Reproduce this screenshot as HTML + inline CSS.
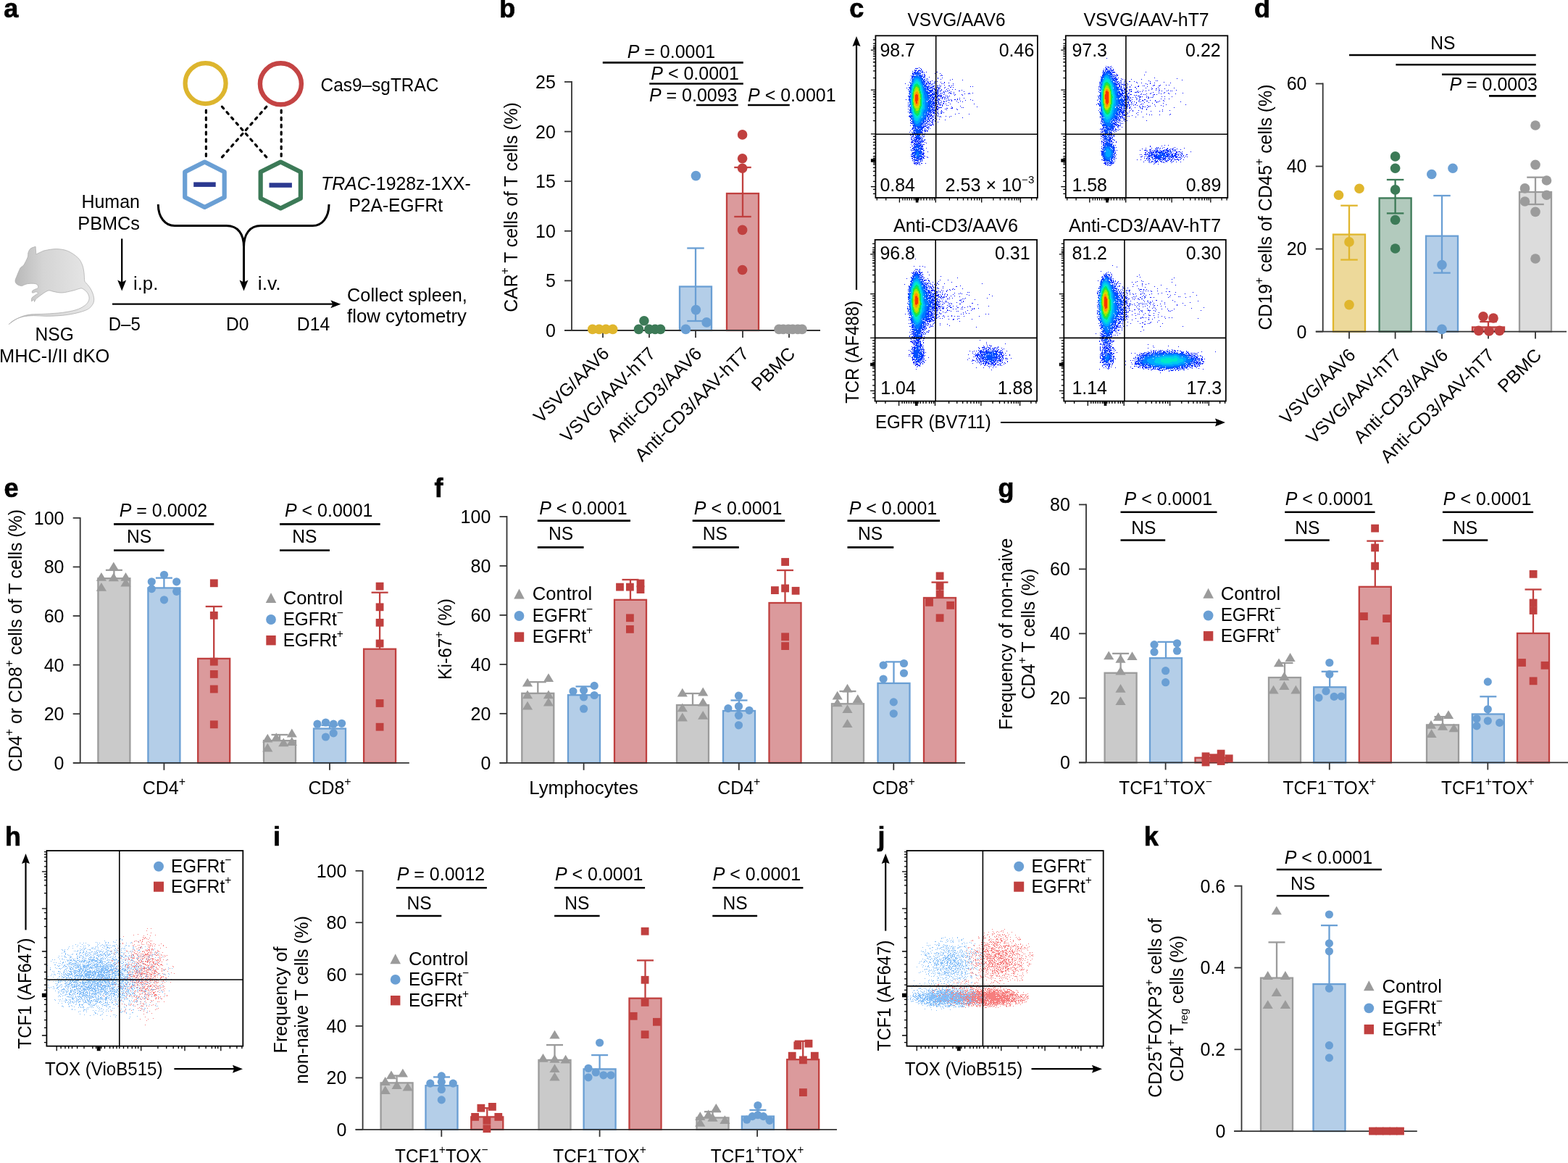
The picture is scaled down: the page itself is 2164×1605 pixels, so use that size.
<!DOCTYPE html>
<html><head><meta charset="utf-8"><title>Figure</title>
<style>html,body{margin:0;padding:0;background:#fff;}svg{display:block;}</style></head>
<body><svg width="2164" height="1605" viewBox="0 0 2164 1605" font-family='"Liberation Sans", Arial, Helvetica, sans-serif' font-size="25" fill="#000">
<rect width="2164" height="1605" fill="#fff"/>
<defs><linearGradient id="mg" x1="0" y1="0" x2="1" y2="0"><stop offset="0" stop-color="#b2b2b2"/><stop offset="0.4" stop-color="#d4d4d4"/><stop offset="1" stop-color="#e8e8e8"/></linearGradient></defs>
<path d="M49.1 340.3C49.1 340.3 49.8 351 49.8 351C49.8 351 53.92 348.9 56 348C58.08 347.1 58.65 346.33 62.3 345.6C65.95 344.87 72.7 343.47 77.9 343.6C83.1 343.73 88.57 344.38 93.5 346.4C98.43 348.42 104.13 352.47 107.5 355.7C110.87 358.93 112.28 362.3 113.7 365.8C115.12 369.3 115.48 373.07 116 376.7C116.52 380.33 116.27 385.23 116.8 387.6C117.33 389.97 117.9 389.2 119.2 390.9C120.5 392.6 123.05 395.23 124.6 397.8C126.15 400.37 127.65 403.58 128.5 406.3C129.35 409.02 129.83 411.77 129.7 414.1C129.57 416.43 129.07 418.22 127.7 420.3C126.33 422.38 124.62 424.78 121.5 426.6C118.38 428.42 113.67 429.9 109 431.2C104.33 432.5 98.68 433.62 93.5 434.4C88.32 435.18 83.1 435.58 77.9 435.9C72.7 436.22 67.5 436.35 62.3 436.3C57.1 436.25 51.88 435.45 46.7 435.6C41.52 435.75 35.73 436.17 31.2 437.2C26.67 438.23 22.68 440.07 19.5 441.8C16.32 443.53 12.1 447.6 12.1 447.6C12.1 447.6 18.93 442.1 23.4 439.9C27.87 437.7 32.42 435.52 38.9 434.4C45.38 433.28 54.5 433.7 62.3 433.2C70.1 432.7 78.57 432.33 85.7 431.4C92.83 430.47 99.95 429.18 105.1 427.6C110.25 426.02 113.77 423.88 116.6 421.9C119.43 419.92 121.05 417.78 122.1 415.7C123.15 413.62 123.27 411.48 122.9 409.4C122.53 407.32 121.3 404.98 119.9 403.2C118.5 401.42 116.05 399.55 114.5 398.7C112.95 397.85 112.82 397.73 110.6 398.1C108.38 398.47 105.35 399.92 101.2 400.9C97.05 401.88 90.23 403.75 85.7 404C81.17 404.25 76.98 402.92 74 402.4C71.02 401.88 69.75 400.77 67.8 400.9C65.85 401.03 64.52 401.9 62.3 403.2C60.08 404.5 56.58 407.13 54.5 408.7C52.42 410.27 50.97 411.28 49.8 412.6C48.63 413.92 47.5 416.6 47.5 416.6C47.5 416.6 47.45 413.92 46.8 413.8C46.15 413.68 43.6 415.9 43.6 415.9C43.6 415.9 43.28 412.7 43.8 411.5C44.32 410.3 45.43 409.7 46.7 408.7C47.97 407.7 50.42 406.25 51.4 405.5C52.38 404.75 52.87 404.68 52.6 404.2C52.33 403.72 49.8 402.6 49.8 402.6C49.8 402.6 45.63 404.42 44.8 404.2C43.97 403.98 44.22 402.12 44.8 401.3C45.38 400.48 47.07 399.92 48.3 399.3C49.53 398.68 51.55 398.5 52.2 397.6C52.85 396.7 52.85 394.92 52.2 393.9C51.55 392.88 50.52 391.9 48.3 391.5C46.08 391.1 41.37 391.23 38.9 391.5C36.43 391.77 35.05 392.58 33.5 393.1C31.95 393.62 31.28 394.73 29.6 394.6C27.92 394.47 24.83 393.47 23.4 392.3C21.97 391.13 21 389.55 21 387.6C21 385.65 22.35 383.32 23.4 380.6C24.45 377.88 26.4 373.25 27.3 371.3C28.2 369.35 27.9 369.82 28.8 368.9C29.7 367.98 31.13 368.13 32.7 365.8C34.27 363.47 37.17 357.7 38.2 354.9C39.23 352.1 38.27 350.95 38.9 349C39.53 347.05 40.3 344.65 42 343.2C43.7 341.75 49.1 340.3 49.1 340.3Z" fill="url(#mg)" stroke="#a6a6a6" stroke-width="0.7"/>
<circle cx="283.6" cy="115.1" r="28" fill="none" stroke="#DDB52E" stroke-width="6.2"/>
<circle cx="387.4" cy="115.8" r="28.5" fill="none" stroke="#C44444" stroke-width="6.4"/>
<line x1="284.4" y1="152.2" x2="284.4" y2="215.5" stroke="#000" stroke-width="3.2" stroke-dasharray="3.4 6.58" stroke-linecap="round"/>
<line x1="388.2" y1="152.2" x2="388.2" y2="215.5" stroke="#000" stroke-width="3.2" stroke-dasharray="3.4 6.58" stroke-linecap="round"/>
<line x1="306.4" y1="147.2" x2="367.8" y2="216.9" stroke="#000" stroke-width="3.2" stroke-dasharray="3.4 6.54" stroke-linecap="round"/>
<line x1="367.8" y1="147.2" x2="306.4" y2="216.9" stroke="#000" stroke-width="3.2" stroke-dasharray="3.4 6.54" stroke-linecap="round"/>
<path d="M282.45 223.5L309.7 237.2L309.7 272.2L282.45 285.9L255.2 272.2L255.2 237.2Z" fill="none" stroke="#6A9FD4" stroke-width="6.2" stroke-linejoin="round"/>
<path d="M387.25 223.5L414.85 237.2L414.85 273.8L387.25 287.5L359.65 273.8L359.65 237.2Z" fill="none" stroke="#3C7A57" stroke-width="6.2" stroke-linejoin="round"/>
<rect x="267.2" y="251.4" width="30.5" height="6.5" fill="#2B3990"/>
<rect x="371.5" y="252.3" width="31.4" height="6.5" fill="#2B3990"/>
<path d="M218.3 282C218.3 300 228 311.6 241 311.6L312.5 311.6C328.5 311.6 336.5 323 336.5 341M454 282C454 300 444.5 311.6 431.5 311.6L360 311.6C344.5 311.6 336.5 323 336.5 341L336.5 390" fill="none" stroke="#000" stroke-width="3"/>
<path d="M336.5 401.5L330.5 386.5L336.5 389.5L342.5 386.5Z" fill="#000"/>
<line x1="168.2" y1="329.4" x2="168.2" y2="390" stroke="#000" stroke-width="2.3"/>
<path d="M168.2 401.4L162.2 386.4L168.2 389.4L174.2 386.4Z" fill="#000"/>
<line x1="155" y1="419.7" x2="460" y2="419.7" stroke="#000" stroke-width="2.3"/>
<path d="M470.3 419.7L456.3 414.2L459.3 419.7L456.3 425.2Z" fill="#000"/>
<text x="442.5" y="126" textLength="162.9" lengthAdjust="spacingAndGlyphs">Cas9–sgTRAC</text>
<text x="443" y="262" textLength="206.9" lengthAdjust="spacingAndGlyphs"><tspan font-style="italic">TRAC</tspan>-1928z-1XX-</text>
<text x="481.5" y="291.8" textLength="129.6" lengthAdjust="spacingAndGlyphs">P2A-EGFRt</text>
<text x="193" y="287" textLength="80.6" lengthAdjust="spacingAndGlyphs" text-anchor="end">Human</text>
<text x="193" y="316.8" textLength="85.7" lengthAdjust="spacingAndGlyphs" text-anchor="end">PBMCs</text>
<text x="184" y="400" textLength="34.3" lengthAdjust="spacingAndGlyphs">i.p.</text>
<text x="355.8" y="399.8" textLength="31.9" lengthAdjust="spacingAndGlyphs">i.v.</text>
<text x="479.1" y="415.6" textLength="165.8" lengthAdjust="spacingAndGlyphs">Collect spleen,</text>
<text x="479.1" y="445.4" textLength="164.8" lengthAdjust="spacingAndGlyphs">flow cytometry</text>
<text x="149.8" y="455.7" textLength="44" lengthAdjust="spacingAndGlyphs">D–5</text>
<text x="312" y="455.6" textLength="31.5" lengthAdjust="spacingAndGlyphs">D0</text>
<text x="409.8" y="455.6" textLength="45.4" lengthAdjust="spacingAndGlyphs">D14</text>
<text x="75.2" y="470.1" textLength="53.2" lengthAdjust="spacingAndGlyphs" text-anchor="middle">NSG</text>
<text x="75.2" y="500.2" textLength="152.3" lengthAdjust="spacingAndGlyphs" text-anchor="middle">MHC-I/II dKO</text>
<line x1="789" y1="112.1" x2="789" y2="456" stroke="#333333" stroke-width="1.8"/>
<line x1="779" y1="456" x2="789" y2="456" stroke="#333333" stroke-width="1.8"/>
<text x="766.8" y="464.9" textLength="13.9" lengthAdjust="spacingAndGlyphs" text-anchor="end">0</text>
<line x1="779" y1="387.4" x2="789" y2="387.4" stroke="#333333" stroke-width="1.8"/>
<text x="766.8" y="396.3" textLength="13.9" lengthAdjust="spacingAndGlyphs" text-anchor="end">5</text>
<line x1="779" y1="318.8" x2="789" y2="318.8" stroke="#333333" stroke-width="1.8"/>
<text x="766.8" y="327.7" textLength="27.8" lengthAdjust="spacingAndGlyphs" text-anchor="end">10</text>
<line x1="779" y1="250.2" x2="789" y2="250.2" stroke="#333333" stroke-width="1.8"/>
<text x="766.8" y="259.1" textLength="27.8" lengthAdjust="spacingAndGlyphs" text-anchor="end">15</text>
<line x1="779" y1="181.6" x2="789" y2="181.6" stroke="#333333" stroke-width="1.8"/>
<text x="766.8" y="190.5" textLength="27.8" lengthAdjust="spacingAndGlyphs" text-anchor="end">20</text>
<line x1="779" y1="113" x2="789" y2="113" stroke="#333333" stroke-width="1.8"/>
<text x="766.8" y="121.9" textLength="27.8" lengthAdjust="spacingAndGlyphs" text-anchor="end">25</text>
<rect x="938" y="395.5" width="44" height="60.5" fill="#B4CEE8" stroke="#6A9FD4" stroke-width="2.3"/>
<rect x="1003" y="267" width="44" height="189" fill="#DB9A9C" stroke="#C0403F" stroke-width="2.3"/>
<line x1="960" y1="443" x2="960" y2="342.5" stroke="#6A9FD4" stroke-width="2.3"/>
<line x1="948.25" y1="342.5" x2="971.75" y2="342.5" stroke="#6A9FD4" stroke-width="2.3"/>
<line x1="948.25" y1="443" x2="971.75" y2="443" stroke="#6A9FD4" stroke-width="2.3"/>
<line x1="1025" y1="299" x2="1025" y2="231" stroke="#C0403F" stroke-width="2.3"/>
<line x1="1013.25" y1="231" x2="1036.75" y2="231" stroke="#C0403F" stroke-width="2.3"/>
<line x1="1013.25" y1="299" x2="1036.75" y2="299" stroke="#C0403F" stroke-width="2.3"/>
<line x1="779" y1="456" x2="1132" y2="456" stroke="#333333" stroke-width="1.8"/>
<line x1="832" y1="456" x2="832" y2="466" stroke="#333333" stroke-width="1.8"/>
<line x1="896" y1="456" x2="896" y2="466" stroke="#333333" stroke-width="1.8"/>
<line x1="960" y1="456" x2="960" y2="466" stroke="#333333" stroke-width="1.8"/>
<line x1="1025" y1="456" x2="1025" y2="466" stroke="#333333" stroke-width="1.8"/>
<line x1="1089" y1="456" x2="1089" y2="466" stroke="#333333" stroke-width="1.8"/>
<circle cx="817.7" cy="454.4" r="6.8" fill="#E0B62D"/>
<circle cx="826.8" cy="454.4" r="6.8" fill="#E0B62D"/>
<circle cx="836.2" cy="454.4" r="6.8" fill="#E0B62D"/>
<circle cx="845.7" cy="454.4" r="6.8" fill="#E0B62D"/>
<circle cx="888.9" cy="442.8" r="6.8" fill="#3C7A57"/>
<circle cx="881.5" cy="454.4" r="6.8" fill="#3C7A57"/>
<circle cx="895.9" cy="454.4" r="6.8" fill="#3C7A57"/>
<circle cx="904.1" cy="454.4" r="6.8" fill="#3C7A57"/>
<circle cx="911.5" cy="454.4" r="6.8" fill="#3C7A57"/>
<circle cx="960.4" cy="242.6" r="6.8" fill="#6A9FD4"/>
<circle cx="960.4" cy="427.6" r="6.8" fill="#6A9FD4"/>
<circle cx="975.2" cy="444.9" r="6.8" fill="#6A9FD4"/>
<circle cx="946.4" cy="454.4" r="6.8" fill="#6A9FD4"/>
<circle cx="1024.6" cy="185.9" r="6.8" fill="#C0403F"/>
<circle cx="1024.6" cy="218.8" r="6.8" fill="#C0403F"/>
<circle cx="1024.6" cy="232.3" r="6.8" fill="#C0403F"/>
<circle cx="1024.6" cy="317.4" r="6.8" fill="#C0403F"/>
<circle cx="1024.6" cy="372.5" r="6.8" fill="#C0403F"/>
<circle cx="1075" cy="454.4" r="6.8" fill="#9B9B9B"/>
<circle cx="1081" cy="454.4" r="6.8" fill="#9B9B9B"/>
<circle cx="1088" cy="454.4" r="6.8" fill="#9B9B9B"/>
<circle cx="1094" cy="454.4" r="6.8" fill="#9B9B9B"/>
<circle cx="1101" cy="454.4" r="6.8" fill="#9B9B9B"/>
<circle cx="1107" cy="454.4" r="6.8" fill="#9B9B9B"/>
<line x1="831.8" y1="86.4" x2="1025.8" y2="86.4" stroke="#000" stroke-width="2.6"/>
<text x="926.5" y="80.1" textLength="121.5" lengthAdjust="spacingAndGlyphs" text-anchor="middle"><tspan font-style="italic">P</tspan> = 0.0001</text>
<line x1="896.2" y1="115.5" x2="1025.8" y2="115.5" stroke="#000" stroke-width="2.6"/>
<text x="959.1" y="110.3" textLength="121.5" lengthAdjust="spacingAndGlyphs" text-anchor="middle"><tspan font-style="italic">P</tspan> &lt; 0.0001</text>
<line x1="960.9" y1="145" x2="1018.7" y2="145" stroke="#000" stroke-width="2.6"/>
<text x="956.7" y="139.5" textLength="121.5" lengthAdjust="spacingAndGlyphs" text-anchor="middle"><tspan font-style="italic">P</tspan> = 0.0093</text>
<line x1="1032.1" y1="145" x2="1089.8" y2="145" stroke="#000" stroke-width="2.6"/>
<text x="1032.1" y="139.5" textLength="121.5" lengthAdjust="spacingAndGlyphs"><tspan font-style="italic">P</tspan> &lt; 0.0001</text>
<text x="842" y="489.5" textLength="135.2" lengthAdjust="spacingAndGlyphs" text-anchor="end" transform="rotate(-45 842 489.5)">VSVG/AAV6</text>
<text x="906" y="489.5" textLength="173.2" lengthAdjust="spacingAndGlyphs" text-anchor="end" transform="rotate(-45 906 489.5)">VSVG/AAV-hT7</text>
<text x="970" y="489.5" textLength="172.2" lengthAdjust="spacingAndGlyphs" text-anchor="end" transform="rotate(-45 970 489.5)">Anti-CD3/AAV6</text>
<text x="1035" y="489.5" textLength="210.2" lengthAdjust="spacingAndGlyphs" text-anchor="end" transform="rotate(-45 1035 489.5)">Anti-CD3/AAV-hT7</text>
<text x="1099" y="489.5" textLength="73.2" lengthAdjust="spacingAndGlyphs" text-anchor="end" transform="rotate(-45 1099 489.5)">PBMC</text>
<text x="714.1" y="286" textLength="289.5" lengthAdjust="spacingAndGlyphs" text-anchor="middle" transform="rotate(-90 714.1 286)">CAR<tspan font-size="16" dy="-12">+</tspan><tspan dy="12"> T cells of T cells (%)</tspan></text>
<path d="M1268 93.5h1M1278 99.5h1M1292 99.5h2M1290 101.5h1M1297 101.5h1M1299 103.5h1M1298 104.5h1M1300 104.5h1M1282 106.5h1M1294 107.5h1M1300 107.5h1M1294 108.5h1M1298 109.5h1M1314 109.5h1M1311 110.5h1M1328 110.5h1M1286 111.5h1M1290 112.5h1M1293 112.5h1M1298 113.5h1M1303 113.5h1M1303 114.5h1M1309 114.5h1M1249 115.5h1M1299 115.5h1M1301 115.5h1M1315 115.5h1M1303 117.5h1M1315 117.5h1M1298 118.5h1M1309 118.5h1M1313 118.5h1M1339 119.5h1M1342 119.5h1M1304 120.5h1M1311 120.5h2M1315 120.5h1M1251 121.5h1M1303 121.5h1M1308 122.5h1M1306 123.5h1M1314 123.5h1M1318 123.5h1M1310 124.5h1M1327 124.5h1M1323 125.5h2M1312 126.5h1M1330 126.5h1M1316 127.5h1M1309 128.5h1M1337 128.5h1M1342 128.5h1M1312 129.5h1M1316 129.5h1M1331 129.5h1M1336 129.5h1M1338 129.5h1M1318 130.5h1M1327 130.5h1M1305 131.5h1M1317 131.5h1M1328 131.5h1M1310 132.5h1M1324 135.5h1M1330 135.5h1M1321 136.5h1M1250 137.5h1M1312 137.5h1M1317 137.5h2M1321 137.5h1M1324 137.5h1M1339 137.5h1M1313 138.5h1M1332 138.5h1M1342 138.5h1M1313 139.5h1M1320 139.5h1M1325 139.5h1M1328 140.5h1M1309 141.5h1M1322 141.5h1M1305 143.5h1M1311 143.5h1M1344 143.5h1M1306 145.5h1M1308 145.5h1M1325 146.5h1M1313 147.5h1M1348 147.5h1M1327 148.5h1M1329 148.5h1M1306 149.5h2M1312 149.5h1M1314 149.5h1M1304 150.5h1M1320 150.5h1M1306 151.5h1M1321 151.5h1M1299 152.5h1M1302 155.5h1M1323 156.5h1M1318 157.5h1M1337 157.5h1M1305 160.5h1M1312 160.5h1M1298 161.5h1M1310 161.5h1M1328 162.5h1M1296 164.5h1M1304 165.5h1M1294 168.5h1M1288 172.5h1M1256 173.5h1M1256 180.5h1M1255 182.5h1M1278 197.5h1M1256 203.5h1M1278 204.5h1M1280 209.5h1M1279 216.5h1M1280 217.5h1M1277 225.5h1" fill="none" stroke="#000aff" stroke-width="1"/>
<path d="M1263 94.5h4M1270 94.5h1M1271 95.5h1M1262 96.5h1M1264 96.5h1M1268 96.5h1M1271 96.5h1M1262 97.5h3M1267 97.5h4M1272 97.5h1M1259 98.5h1M1270 98.5h1M1273 98.5h1M1271 99.5h3M1259 100.5h1M1273 100.5h1M1275 100.5h1M1259 101.5h1M1259 102.5h1M1272 102.5h1M1275 102.5h1M1273 103.5h1M1275 103.5h2M1257 104.5h1M1276 104.5h1M1275 105.5h2M1275 106.5h1M1276 107.5h1M1279 108.5h1M1278 109.5h1M1280 109.5h1M1256 110.5h1M1277 111.5h2M1280 111.5h1M1280 112.5h1M1283 112.5h2M1255 113.5h1M1280 113.5h2M1289 113.5h1M1279 114.5h1M1281 114.5h1M1283 114.5h2M1290 114.5h1M1281 115.5h3M1287 115.5h1M1289 115.5h1M1283 116.5h1M1285 116.5h2M1253 117.5h1M1281 117.5h1M1291 117.5h1M1296 117.5h1M1282 118.5h1M1284 118.5h1M1286 118.5h1M1288 118.5h2M1293 118.5h2M1310 118.5h1M1287 119.5h2M1297 119.5h1M1284 120.5h4M1293 120.5h2M1296 120.5h1M1289 121.5h1M1291 121.5h2M1294 121.5h2M1297 121.5h1M1288 122.5h2M1295 122.5h2M1253 123.5h1M1289 123.5h4M1294 123.5h1M1299 123.5h1M1290 124.5h2M1293 124.5h3M1297 124.5h1M1299 124.5h1M1290 125.5h1M1293 125.5h1M1298 125.5h1M1304 125.5h1M1307 125.5h2M1294 126.5h2M1297 126.5h1M1302 126.5h1M1305 126.5h1M1302 127.5h2M1310 127.5h1M1295 128.5h1M1298 128.5h1M1300 128.5h1M1311 128.5h2M1298 129.5h1M1303 129.5h1M1296 130.5h1M1302 130.5h1M1297 131.5h3M1253 132.5h1M1297 132.5h1M1299 132.5h1M1307 132.5h1M1297 133.5h3M1302 133.5h1M1305 133.5h1M1308 133.5h1M1300 134.5h2M1303 134.5h2M1307 134.5h1M1295 135.5h1M1298 135.5h1M1300 135.5h1M1308 135.5h1M1296 136.5h1M1300 136.5h1M1303 136.5h2M1306 136.5h1M1295 137.5h2M1309 137.5h1M1296 138.5h1M1298 138.5h1M1308 138.5h1M1310 138.5h1M1302 139.5h1M1305 139.5h2M1295 140.5h1M1299 140.5h1M1302 140.5h2M1253 141.5h1M1295 141.5h1M1298 141.5h1M1295 142.5h2M1298 142.5h1M1301 142.5h2M1253 143.5h1M1292 143.5h1M1295 143.5h1M1302 143.5h1M1293 144.5h2M1296 144.5h3M1300 144.5h1M1253 145.5h1M1297 145.5h1M1300 145.5h1M1291 146.5h1M1293 146.5h2M1300 146.5h1M1253 147.5h1M1293 147.5h2M1295 148.5h5M1314 148.5h1M1295 149.5h1M1313 149.5h1M1253 150.5h1M1294 150.5h1M1293 151.5h2M1292 153.5h1M1294 153.5h1M1299 153.5h1M1253 154.5h1M1291 154.5h1M1298 154.5h1M1300 154.5h1M1293 155.5h2M1299 155.5h1M1289 156.5h2M1294 156.5h1M1298 156.5h2M1292 157.5h1M1295 157.5h1M1285 158.5h1M1289 158.5h1M1291 158.5h1M1285 159.5h2M1288 159.5h1M1291 159.5h2M1294 159.5h1M1254 160.5h1M1284 160.5h1M1286 160.5h1M1290 160.5h1M1294 160.5h1M1297 160.5h1M1283 161.5h1M1286 161.5h3M1291 161.5h1M1296 161.5h1M1285 162.5h1M1290 162.5h2M1283 163.5h4M1290 163.5h2M1283 164.5h1M1288 164.5h1M1292 164.5h1M1256 165.5h1M1282 165.5h1M1286 165.5h3M1256 166.5h1M1282 166.5h2M1286 166.5h1M1290 166.5h1M1280 167.5h2M1284 167.5h1M1287 167.5h1M1290 167.5h1M1280 168.5h1M1282 168.5h1M1285 168.5h3M1256 169.5h2M1286 169.5h1M1257 170.5h1M1280 170.5h1M1283 170.5h1M1287 170.5h1M1281 171.5h2M1286 171.5h2M1279 172.5h2M1283 172.5h3M1283 173.5h1M1285 173.5h1M1281 174.5h1M1278 175.5h3M1282 175.5h1M1259 176.5h1M1280 176.5h2M1259 177.5h1M1276 177.5h1M1280 177.5h1M1283 177.5h1M1258 178.5h2M1276 178.5h1M1281 178.5h1M1276 179.5h1M1278 179.5h1M1275 180.5h3M1279 180.5h2M1276 181.5h2M1279 181.5h1M1258 182.5h1M1273 183.5h1M1276 183.5h1M1256 185.5h1M1276 185.5h1M1256 186.5h2M1259 186.5h1M1273 186.5h1M1275 186.5h1M1272 187.5h1M1258 188.5h3M1274 188.5h2M1258 189.5h1M1273 189.5h1M1257 190.5h1M1260 190.5h1M1258 191.5h1M1273 191.5h1M1257 192.5h2M1276 192.5h1M1259 193.5h1M1273 193.5h1M1275 193.5h2M1258 194.5h1M1274 194.5h1M1258 195.5h2M1273 195.5h2M1257 196.5h4M1273 196.5h1M1276 196.5h1M1258 197.5h1M1257 199.5h1M1260 199.5h1M1273 199.5h3M1258 201.5h2M1259 204.5h1M1259 205.5h1M1274 205.5h1M1257 206.5h1M1257 207.5h1M1259 207.5h1M1274 207.5h2M1258 208.5h1M1274 208.5h1M1274 210.5h1M1258 211.5h1M1274 211.5h2M1274 212.5h1M1257 213.5h1M1274 213.5h1M1274 214.5h1M1257 215.5h1M1275 215.5h2M1258 216.5h1M1274 216.5h1M1274 217.5h1M1258 218.5h2M1274 218.5h2M1259 219.5h1M1260 220.5h1M1259 221.5h1M1272 221.5h1M1260 222.5h1M1262 222.5h1M1270 222.5h1M1272 222.5h1M1262 223.5h1M1268 223.5h1M1270 223.5h1M1261 224.5h1M1263 224.5h4M1268 224.5h1M1261 225.5h3M1265 225.5h2M1268 225.5h1M1271 225.5h2M1262 226.5h1M1264 226.5h1M1266 226.5h1M1268 226.5h1M1264 227.5h1M1269 227.5h1" fill="none" stroke="#001dff" stroke-width="1"/>
<path d="M1263 98.5h1M1266 98.5h2M1261 99.5h3M1265 99.5h2M1268 99.5h1M1261 100.5h3M1268 100.5h1M1270 100.5h1M1260 101.5h1M1262 101.5h1M1269 101.5h2M1260 102.5h2M1260 103.5h1M1270 103.5h1M1259 104.5h2M1271 104.5h2M1258 105.5h2M1271 105.5h3M1258 106.5h2M1274 106.5h1M1258 107.5h1M1274 107.5h1M1257 108.5h1M1273 108.5h1M1275 109.5h2M1274 110.5h2M1275 111.5h1M1275 112.5h2M1275 113.5h2M1256 114.5h1M1276 114.5h1M1278 114.5h1M1256 115.5h1M1276 115.5h1M1278 115.5h2M1277 116.5h3M1256 117.5h1M1277 117.5h1M1277 118.5h2M1278 119.5h5M1254 120.5h2M1279 120.5h3M1255 121.5h1M1279 121.5h2M1282 121.5h4M1255 122.5h1M1279 122.5h3M1283 122.5h1M1286 122.5h2M1279 123.5h3M1286 123.5h1M1254 124.5h1M1279 124.5h1M1281 124.5h7M1280 125.5h1M1282 125.5h6M1254 126.5h1M1283 126.5h3M1287 126.5h1M1289 126.5h1M1291 126.5h1M1293 126.5h1M1281 127.5h5M1288 127.5h1M1290 127.5h1M1292 127.5h2M1282 128.5h1M1286 128.5h2M1289 128.5h6M1254 129.5h1M1282 129.5h2M1286 129.5h4M1292 129.5h2M1284 130.5h8M1293 130.5h2M1283 131.5h4M1288 131.5h1M1290 131.5h2M1294 131.5h2M1254 132.5h1M1283 132.5h3M1287 132.5h1M1290 132.5h7M1254 133.5h1M1284 133.5h1M1286 133.5h2M1289 133.5h3M1293 133.5h2M1254 134.5h1M1285 134.5h5M1291 134.5h3M1285 135.5h1M1287 135.5h3M1291 135.5h3M1254 136.5h1M1284 136.5h2M1287 136.5h3M1291 136.5h1M1294 136.5h1M1254 137.5h1M1284 137.5h1M1286 137.5h3M1290 137.5h3M1294 137.5h1M1254 138.5h1M1284 138.5h1M1286 138.5h2M1290 138.5h1M1292 138.5h3M1285 139.5h1M1287 139.5h1M1289 139.5h4M1294 139.5h1M1285 140.5h4M1291 140.5h1M1294 140.5h1M1287 141.5h7M1287 142.5h4M1292 142.5h1M1286 143.5h4M1291 143.5h1M1286 144.5h1M1288 144.5h1M1290 144.5h1M1285 145.5h1M1287 145.5h4M1254 146.5h1M1285 146.5h3M1289 146.5h1M1285 147.5h2M1289 147.5h1M1291 147.5h2M1255 148.5h1M1285 148.5h5M1292 148.5h1M1286 149.5h1M1288 149.5h2M1292 149.5h2M1286 150.5h2M1291 150.5h3M1255 151.5h1M1285 151.5h7M1255 152.5h1M1284 152.5h2M1287 152.5h4M1284 153.5h1M1286 153.5h2M1290 153.5h1M1255 154.5h1M1283 154.5h3M1287 154.5h3M1255 155.5h1M1282 155.5h1M1284 155.5h2M1287 155.5h3M1255 156.5h1M1283 156.5h2M1287 156.5h2M1281 157.5h2M1285 157.5h1M1256 158.5h1M1281 158.5h4M1255 159.5h1M1280 159.5h1M1282 159.5h1M1284 159.5h1M1255 160.5h2M1280 160.5h1M1283 160.5h1M1255 161.5h2M1279 161.5h4M1256 162.5h1M1281 162.5h1M1257 163.5h1M1278 163.5h1M1280 163.5h2M1257 164.5h1M1277 164.5h1M1280 164.5h2M1277 165.5h2M1280 165.5h1M1277 166.5h1M1279 166.5h1M1257 167.5h2M1276 167.5h2M1279 167.5h1M1277 168.5h1M1259 169.5h1M1275 169.5h1M1278 169.5h2M1258 170.5h2M1275 170.5h1M1277 170.5h2M1274 171.5h1M1276 171.5h2M1259 172.5h2M1275 172.5h1M1260 173.5h1M1273 173.5h2M1276 173.5h3M1260 174.5h1M1274 174.5h4M1260 175.5h1M1272 175.5h4M1260 176.5h2M1272 176.5h3M1260 177.5h1M1272 177.5h2M1261 178.5h1M1272 178.5h1M1261 179.5h1M1272 179.5h2M1260 180.5h2M1273 180.5h1M1261 181.5h1M1271 181.5h2M1260 182.5h2M1271 182.5h2M1259 183.5h1M1261 183.5h2M1270 183.5h3M1259 184.5h4M1269 184.5h1M1261 185.5h2M1270 185.5h2M1260 186.5h1M1263 186.5h1M1269 186.5h1M1260 187.5h1M1263 187.5h1M1269 187.5h1M1264 188.5h1M1270 188.5h1M1262 189.5h3M1269 189.5h1M1271 189.5h1M1262 190.5h4M1269 190.5h3M1261 191.5h1M1264 191.5h7M1272 191.5h1M1261 192.5h5M1267 192.5h3M1271 192.5h1M1260 193.5h1M1262 193.5h4M1267 193.5h1M1269 193.5h1M1271 193.5h2M1260 194.5h4M1265 194.5h4M1270 194.5h1M1272 194.5h1M1262 195.5h5M1268 195.5h5M1263 196.5h2M1266 196.5h3M1270 196.5h2M1261 197.5h2M1265 197.5h1M1267 197.5h4M1261 198.5h9M1271 198.5h1M1262 199.5h2M1269 199.5h3M1261 200.5h2M1269 200.5h2M1272 200.5h1M1262 201.5h1M1269 201.5h5M1261 202.5h1M1271 202.5h3M1260 203.5h3M1271 203.5h1M1273 203.5h1M1260 204.5h1M1262 204.5h1M1271 204.5h2M1260 205.5h3M1271 205.5h3M1261 206.5h1M1271 206.5h3M1260 207.5h2M1261 209.5h1M1272 209.5h1M1259 210.5h2M1272 210.5h1M1259 211.5h2M1273 211.5h1M1259 212.5h2M1272 212.5h2M1258 213.5h2M1272 213.5h2M1260 214.5h1M1258 215.5h3M1272 215.5h1M1259 216.5h1M1261 216.5h1M1271 216.5h3M1260 217.5h3M1271 217.5h1M1273 217.5h1M1262 218.5h1M1264 218.5h1M1270 218.5h3M1262 219.5h1M1265 219.5h3M1269 219.5h4M1261 220.5h5M1267 220.5h4M1272 220.5h1M1262 221.5h6M1270 221.5h1M1265 222.5h2M1267 223.5h1" fill="none" stroke="#0031ff" stroke-width="1"/>
<path d="M1264 100.5h4M1263 101.5h6M1262 102.5h6M1269 102.5h1M1264 103.5h1M1266 103.5h4M1262 104.5h1M1264 104.5h3M1268 104.5h3M1260 105.5h4M1269 105.5h2M1260 106.5h2M1270 106.5h2M1259 107.5h1M1270 107.5h3M1259 108.5h1M1271 108.5h2M1258 109.5h2M1272 109.5h2M1259 110.5h1M1272 110.5h2M1258 111.5h1M1272 111.5h1M1274 111.5h1M1258 112.5h1M1272 112.5h3M1272 113.5h3M1257 114.5h2M1273 114.5h2M1273 115.5h3M1257 116.5h1M1274 116.5h2M1257 117.5h1M1274 117.5h3M1256 118.5h2M1275 118.5h2M1256 119.5h1M1275 119.5h3M1256 120.5h1M1275 120.5h1M1277 120.5h1M1256 121.5h1M1276 121.5h3M1256 122.5h1M1276 122.5h2M1256 123.5h1M1276 123.5h3M1256 124.5h1M1276 124.5h2M1255 125.5h1M1277 125.5h2M1255 126.5h1M1277 126.5h4M1255 127.5h1M1278 127.5h3M1255 128.5h1M1278 128.5h4M1255 129.5h1M1279 129.5h3M1255 130.5h1M1280 130.5h1M1280 131.5h3M1255 132.5h1M1280 132.5h3M1255 133.5h1M1280 133.5h2M1283 133.5h1M1255 134.5h1M1280 134.5h4M1255 135.5h1M1281 135.5h3M1255 136.5h1M1281 136.5h1M1283 136.5h1M1255 137.5h1M1281 137.5h2M1255 138.5h1M1280 138.5h1M1282 138.5h2M1255 139.5h1M1280 139.5h5M1255 140.5h1M1280 140.5h5M1255 141.5h1M1280 141.5h6M1281 142.5h4M1286 142.5h1M1255 143.5h1M1281 143.5h5M1255 144.5h1M1281 144.5h3M1285 144.5h1M1255 145.5h1M1280 145.5h5M1255 146.5h1M1280 146.5h5M1256 147.5h1M1280 147.5h5M1256 148.5h1M1280 148.5h1M1282 148.5h2M1256 149.5h1M1280 149.5h5M1256 150.5h1M1281 150.5h3M1256 151.5h1M1281 151.5h4M1256 152.5h1M1280 152.5h4M1256 153.5h1M1280 153.5h4M1256 154.5h1M1279 154.5h1M1281 154.5h2M1256 155.5h2M1278 155.5h2M1281 155.5h1M1257 156.5h1M1278 156.5h4M1278 157.5h1M1280 157.5h1M1257 158.5h1M1278 158.5h3M1257 159.5h1M1277 159.5h3M1257 160.5h1M1277 160.5h1M1279 160.5h1M1257 161.5h2M1277 161.5h2M1257 162.5h1M1276 162.5h2M1258 163.5h1M1275 163.5h3M1258 164.5h1M1275 164.5h2M1259 165.5h1M1274 165.5h2M1259 166.5h1M1274 166.5h2M1259 167.5h2M1273 167.5h3M1259 168.5h2M1273 168.5h3M1260 169.5h1M1271 169.5h4M1260 170.5h2M1271 170.5h3M1261 171.5h1M1270 171.5h4M1261 172.5h2M1270 172.5h3M1261 173.5h3M1269 173.5h3M1261 174.5h12M1262 175.5h2M1265 175.5h7M1262 176.5h3M1266 176.5h6M1262 177.5h3M1266 177.5h3M1270 177.5h2M1263 178.5h4M1268 178.5h4M1262 179.5h10M1262 180.5h9M1263 181.5h8M1262 182.5h1M1264 182.5h7M1263 183.5h7M1263 184.5h5M1264 185.5h5M1265 186.5h4M1264 187.5h5M1265 188.5h4M1265 189.5h4M1266 190.5h3M1264 199.5h4M1264 200.5h5M1263 201.5h6M1262 202.5h8M1263 203.5h6M1270 203.5h1M1263 204.5h1M1265 204.5h1M1267 204.5h4M1264 205.5h2M1267 205.5h4M1262 206.5h7M1270 206.5h1M1262 207.5h6M1269 207.5h2M1263 208.5h9M1262 209.5h3M1267 209.5h5M1261 210.5h4M1268 210.5h4M1261 211.5h4M1268 211.5h4M1262 212.5h2M1268 212.5h4M1261 213.5h3M1268 213.5h1M1270 213.5h1M1261 214.5h3M1268 214.5h4M1261 215.5h2M1264 215.5h2M1268 215.5h4M1262 216.5h2M1265 216.5h6M1263 217.5h6M1265 218.5h5" fill="none" stroke="#004eff" stroke-width="1"/>
<path d="M1264 105.5h5M1262 106.5h8M1261 107.5h9M1260 108.5h2M1268 108.5h3M1260 109.5h2M1269 109.5h3M1260 110.5h1M1270 110.5h2M1259 111.5h2M1270 111.5h2M1259 112.5h2M1271 112.5h1M1259 113.5h1M1271 113.5h1M1259 114.5h1M1271 114.5h2M1258 115.5h1M1272 115.5h1M1258 116.5h1M1272 116.5h2M1258 117.5h1M1273 117.5h1M1258 118.5h1M1273 118.5h1M1257 119.5h1M1273 119.5h2M1257 120.5h1M1274 120.5h1M1257 121.5h1M1274 121.5h2M1257 122.5h1M1274 122.5h2M1257 123.5h1M1274 123.5h2M1257 124.5h1M1274 124.5h2M1256 125.5h1M1275 125.5h2M1256 126.5h1M1275 126.5h2M1256 127.5h1M1275 127.5h3M1256 128.5h1M1275 128.5h3M1275 129.5h4M1256 130.5h1M1275 130.5h5M1256 131.5h1M1276 131.5h4M1256 132.5h1M1276 132.5h4M1256 133.5h1M1276 133.5h4M1256 134.5h1M1276 134.5h4M1276 135.5h5M1256 136.5h1M1277 136.5h4M1256 137.5h1M1277 137.5h4M1256 138.5h1M1277 138.5h3M1256 139.5h1M1277 139.5h2M1256 140.5h1M1277 140.5h2M1256 141.5h1M1277 141.5h3M1256 142.5h1M1277 142.5h4M1256 143.5h1M1277 143.5h4M1256 144.5h1M1277 144.5h4M1277 145.5h3M1277 146.5h3M1277 147.5h3M1277 148.5h3M1257 149.5h1M1277 149.5h3M1257 150.5h1M1277 150.5h4M1257 151.5h1M1276 151.5h5M1257 152.5h1M1275 152.5h5M1257 153.5h1M1275 153.5h5M1257 154.5h1M1274 154.5h5M1258 155.5h1M1274 155.5h4M1258 156.5h1M1274 156.5h4M1274 157.5h2M1277 157.5h1M1258 158.5h1M1274 158.5h4M1258 159.5h2M1274 159.5h3M1258 160.5h2M1274 160.5h3M1259 161.5h1M1273 161.5h4M1259 162.5h1M1273 162.5h3M1259 163.5h2M1272 163.5h3M1259 164.5h2M1271 164.5h4M1260 165.5h1M1270 165.5h4M1260 166.5h2M1270 166.5h4M1261 167.5h1M1270 167.5h3M1261 168.5h2M1269 168.5h3M1261 169.5h2M1268 169.5h3M1262 170.5h2M1267 170.5h4M1262 171.5h8M1263 172.5h7M1264 173.5h5M1265 209.5h2M1265 210.5h3M1265 211.5h3M1264 212.5h4M1264 213.5h4M1265 214.5h3M1266 215.5h2" fill="none" stroke="#007aff" stroke-width="1"/>
<path d="M1262 108.5h6M1262 109.5h7M1261 110.5h3M1267 110.5h3M1261 111.5h2M1268 111.5h2M1261 112.5h1M1269 112.5h2M1260 113.5h2M1270 113.5h1M1260 114.5h1M1270 114.5h1M1259 115.5h2M1270 115.5h2M1259 116.5h1M1271 116.5h1M1259 117.5h1M1271 117.5h2M1259 118.5h1M1272 118.5h1M1258 119.5h1M1272 119.5h1M1258 120.5h1M1272 120.5h2M1258 121.5h1M1272 121.5h2M1258 122.5h1M1273 122.5h1M1258 123.5h1M1273 123.5h1M1273 124.5h1M1257 125.5h1M1273 125.5h2M1257 126.5h1M1273 126.5h2M1257 127.5h1M1273 127.5h2M1257 128.5h1M1274 128.5h1M1257 129.5h1M1274 129.5h1M1257 130.5h1M1274 130.5h1M1257 131.5h1M1274 131.5h2M1257 132.5h1M1274 132.5h2M1257 133.5h1M1274 133.5h2M1257 134.5h1M1274 134.5h2M1257 135.5h1M1275 135.5h1M1257 136.5h1M1275 136.5h2M1257 137.5h1M1275 137.5h2M1257 138.5h1M1275 138.5h2M1257 139.5h1M1275 139.5h2M1257 140.5h1M1275 140.5h2M1257 141.5h1M1274 141.5h3M1257 142.5h1M1274 142.5h3M1257 143.5h1M1274 143.5h3M1257 144.5h1M1275 144.5h2M1257 145.5h1M1275 145.5h2M1257 146.5h1M1275 146.5h2M1257 147.5h1M1275 147.5h2M1257 148.5h1M1275 148.5h2M1258 149.5h1M1275 149.5h2M1258 150.5h1M1274 150.5h3M1258 151.5h1M1273 151.5h3M1258 152.5h1M1273 152.5h2M1258 153.5h1M1273 153.5h2M1258 154.5h1M1273 154.5h1M1259 155.5h1M1272 155.5h2M1259 156.5h1M1272 156.5h2M1259 157.5h1M1272 157.5h2M1259 158.5h1M1272 158.5h2M1260 159.5h1M1272 159.5h2M1260 160.5h1M1271 160.5h3M1260 161.5h1M1270 161.5h2M1260 162.5h2M1270 162.5h3M1261 163.5h1M1269 163.5h3M1261 164.5h1M1268 164.5h3M1261 165.5h2M1268 165.5h2M1262 166.5h2M1267 166.5h3M1262 167.5h8M1263 168.5h6M1263 169.5h5M1264 170.5h3" fill="none" stroke="#00a6ff" stroke-width="1"/>
<path d="M1264 110.5h3M1263 111.5h5M1262 112.5h3M1266 112.5h3M1262 113.5h2M1268 113.5h2M1261 114.5h2M1268 114.5h2M1261 115.5h1M1269 115.5h1M1260 116.5h1M1269 116.5h2M1260 117.5h1M1270 117.5h1M1260 118.5h1M1270 118.5h2M1259 119.5h1M1271 119.5h1M1259 120.5h1M1271 120.5h1M1259 121.5h1M1271 121.5h1M1259 122.5h1M1271 122.5h2M1271 123.5h2M1258 124.5h1M1271 124.5h2M1258 125.5h1M1272 125.5h1M1258 126.5h1M1272 126.5h1M1258 127.5h1M1272 127.5h1M1258 128.5h1M1272 128.5h2M1258 129.5h1M1273 129.5h1M1258 130.5h1M1273 130.5h1M1273 131.5h1M1273 132.5h1M1258 133.5h1M1273 133.5h1M1258 134.5h1M1273 134.5h1M1273 135.5h2M1273 136.5h2M1273 137.5h2M1273 138.5h2M1273 139.5h2M1273 140.5h2M1273 141.5h1M1273 142.5h1M1273 143.5h1M1258 144.5h1M1273 144.5h2M1258 145.5h1M1273 145.5h2M1258 146.5h1M1273 146.5h2M1258 147.5h1M1273 147.5h2M1258 148.5h1M1273 148.5h2M1272 149.5h3M1259 150.5h1M1272 150.5h2M1259 151.5h1M1271 151.5h2M1259 152.5h1M1271 152.5h2M1259 153.5h1M1271 153.5h2M1259 154.5h1M1271 154.5h2M1260 155.5h1M1271 155.5h1M1260 156.5h1M1271 156.5h1M1260 157.5h1M1271 157.5h1M1260 158.5h2M1270 158.5h2M1261 159.5h1M1269 159.5h3M1261 160.5h2M1269 160.5h2M1261 161.5h2M1268 161.5h2M1262 162.5h2M1267 162.5h3M1262 163.5h7M1262 164.5h6M1263 165.5h5M1264 166.5h3" fill="none" stroke="#00cdec" stroke-width="1"/>
<path d="M1265 112.5h1M1264 113.5h4M1263 114.5h5M1262 115.5h3M1266 115.5h3M1261 116.5h2M1267 116.5h2M1261 117.5h1M1268 117.5h2M1261 118.5h1M1269 118.5h1M1260 119.5h1M1269 119.5h2M1260 120.5h1M1270 120.5h1M1260 121.5h1M1270 121.5h1M1270 122.5h1M1259 123.5h1M1270 123.5h1M1259 124.5h1M1270 124.5h1M1259 125.5h1M1270 125.5h2M1259 126.5h1M1271 126.5h1M1259 127.5h1M1271 127.5h1M1271 128.5h1M1271 129.5h2M1272 130.5h1M1258 131.5h1M1272 131.5h1M1258 132.5h1M1272 132.5h1M1272 133.5h1M1272 134.5h1M1258 135.5h1M1272 135.5h1M1258 136.5h1M1272 136.5h1M1258 137.5h1M1272 137.5h1M1258 138.5h1M1272 138.5h1M1258 139.5h1M1272 139.5h1M1258 140.5h1M1272 140.5h1M1258 141.5h1M1272 141.5h1M1258 142.5h1M1272 142.5h1M1258 143.5h1M1272 143.5h1M1272 144.5h1M1259 145.5h1M1272 145.5h1M1259 146.5h1M1272 146.5h1M1259 147.5h1M1271 147.5h2M1259 148.5h1M1271 148.5h2M1259 149.5h1M1271 149.5h1M1260 150.5h1M1270 150.5h2M1260 151.5h1M1270 151.5h1M1260 152.5h1M1270 152.5h1M1260 153.5h1M1270 153.5h1M1260 154.5h1M1270 154.5h1M1261 155.5h1M1269 155.5h2M1261 156.5h1M1269 156.5h2M1261 157.5h2M1269 157.5h2M1262 158.5h2M1268 158.5h2M1262 159.5h3M1267 159.5h2M1263 160.5h6M1263 161.5h5M1264 162.5h3" fill="none" stroke="#00eac8" stroke-width="1"/>
<path d="M1265 115.5h1M1263 116.5h4M1262 117.5h6M1262 118.5h2M1266 118.5h3M1261 119.5h2M1267 119.5h2M1261 120.5h1M1268 120.5h2M1261 121.5h1M1269 121.5h1M1260 122.5h1M1269 122.5h1M1260 123.5h1M1269 123.5h1M1260 124.5h1M1269 124.5h1M1260 125.5h1M1269 125.5h1M1270 126.5h1M1270 127.5h1M1259 128.5h1M1270 128.5h1M1259 129.5h1M1259 130.5h1M1271 130.5h1M1259 131.5h1M1271 131.5h1M1259 132.5h1M1271 132.5h1M1259 133.5h1M1271 133.5h1M1259 134.5h1M1271 134.5h1M1259 135.5h1M1271 135.5h1M1259 136.5h1M1271 136.5h1M1259 137.5h1M1271 137.5h1M1259 138.5h1M1271 138.5h1M1259 139.5h1M1271 139.5h1M1259 140.5h1M1271 140.5h1M1259 141.5h1M1271 141.5h1M1259 142.5h1M1271 142.5h1M1259 143.5h1M1271 143.5h1M1259 144.5h1M1271 144.5h1M1271 145.5h1M1260 146.5h1M1271 146.5h1M1260 147.5h1M1270 147.5h1M1260 148.5h1M1270 148.5h1M1260 149.5h2M1270 149.5h1M1261 150.5h1M1269 150.5h1M1261 151.5h1M1269 151.5h1M1261 152.5h1M1269 152.5h1M1261 153.5h2M1268 153.5h2M1261 154.5h2M1268 154.5h2M1262 155.5h2M1268 155.5h1M1262 156.5h3M1266 156.5h3M1263 157.5h6M1264 158.5h4M1265 159.5h2" fill="none" stroke="#00e46f" stroke-width="1"/>
<path d="M1264 118.5h2M1263 119.5h4M1262 120.5h2M1266 120.5h2M1262 121.5h1M1267 121.5h2M1261 122.5h2M1268 122.5h1M1261 123.5h1M1268 123.5h1M1261 124.5h1M1268 124.5h1M1261 125.5h1M1260 126.5h1M1269 126.5h1M1260 127.5h1M1269 127.5h1M1260 128.5h1M1269 128.5h1M1260 129.5h1M1270 129.5h1M1260 130.5h1M1270 130.5h1M1260 131.5h1M1270 131.5h1M1260 132.5h1M1270 132.5h1M1260 133.5h1M1270 133.5h1M1260 134.5h1M1270 134.5h1M1260 135.5h1M1270 136.5h1M1270 137.5h1M1270 138.5h1M1270 139.5h1M1270 140.5h1M1260 141.5h1M1270 141.5h1M1260 142.5h1M1270 142.5h1M1260 143.5h1M1270 143.5h1M1260 144.5h1M1270 144.5h1M1260 145.5h1M1270 145.5h1M1269 146.5h2M1261 147.5h1M1269 147.5h1M1261 148.5h1M1269 148.5h1M1262 149.5h1M1268 149.5h2M1262 150.5h2M1268 150.5h1M1262 151.5h2M1268 151.5h1M1262 152.5h2M1267 152.5h2M1263 153.5h5M1263 154.5h5M1264 155.5h4M1265 156.5h1" fill="none" stroke="#37e42f" stroke-width="1"/>
<path d="M1264 120.5h2M1263 121.5h4M1263 122.5h5M1262 123.5h3M1266 123.5h2M1262 124.5h2M1267 124.5h1M1262 125.5h1M1267 125.5h2M1261 126.5h2M1268 126.5h1M1261 127.5h1M1268 127.5h1M1261 128.5h1M1268 128.5h1M1261 129.5h1M1269 129.5h1M1269 130.5h1M1269 131.5h1M1269 132.5h1M1269 133.5h1M1269 134.5h1M1270 135.5h1M1260 136.5h1M1260 137.5h1M1269 137.5h1M1260 138.5h1M1269 138.5h1M1260 139.5h1M1269 139.5h1M1260 140.5h1M1269 140.5h1M1269 141.5h1M1261 142.5h1M1269 142.5h1M1261 143.5h1M1269 143.5h1M1261 144.5h1M1269 144.5h1M1261 145.5h1M1268 145.5h2M1261 146.5h2M1268 146.5h1M1262 147.5h1M1268 147.5h1M1262 148.5h2M1267 148.5h2M1263 149.5h5M1264 150.5h4M1264 151.5h4M1264 152.5h3" fill="none" stroke="#9cea06" stroke-width="1"/>
<path d="M1265 123.5h1M1264 124.5h3M1263 125.5h4M1263 126.5h2M1266 126.5h2M1262 127.5h2M1267 127.5h1M1262 128.5h1M1267 128.5h1M1262 129.5h1M1268 129.5h1M1261 130.5h1M1268 130.5h1M1261 131.5h1M1268 131.5h1M1261 132.5h1M1268 132.5h1M1261 133.5h1M1268 133.5h1M1261 134.5h1M1268 134.5h1M1261 135.5h1M1269 135.5h1M1261 136.5h1M1269 136.5h1M1261 137.5h1M1268 137.5h1M1261 138.5h1M1268 138.5h1M1261 139.5h1M1268 139.5h1M1261 140.5h1M1268 140.5h1M1261 141.5h1M1268 141.5h1M1262 142.5h1M1268 142.5h1M1262 143.5h1M1268 143.5h1M1262 144.5h1M1267 144.5h2M1262 145.5h2M1267 145.5h1M1263 146.5h5M1263 147.5h5M1264 148.5h3" fill="none" stroke="#ded600" stroke-width="1"/>
<path d="M1265 126.5h1M1264 127.5h3M1263 128.5h4M1263 129.5h5M1262 130.5h2M1266 130.5h2M1262 131.5h1M1267 131.5h1M1262 132.5h1M1267 132.5h1M1262 133.5h1M1267 133.5h1M1262 134.5h1M1267 134.5h1M1262 135.5h1M1267 135.5h2M1262 136.5h1M1267 136.5h2M1262 137.5h1M1267 137.5h1M1262 138.5h1M1267 138.5h1M1262 139.5h1M1266 139.5h2M1262 140.5h2M1266 140.5h2M1262 141.5h2M1266 141.5h2M1263 142.5h1M1266 142.5h2M1263 143.5h5M1263 144.5h4M1264 145.5h3" fill="none" stroke="#ff9b00" stroke-width="1"/>
<path d="M1264 130.5h2M1263 131.5h4M1263 132.5h4M1263 133.5h4M1263 134.5h4M1263 135.5h4M1263 136.5h4M1263 137.5h4M1263 138.5h4M1263 139.5h3M1264 140.5h2M1264 141.5h2M1264 142.5h2" fill="none" stroke="#f93600" stroke-width="1"/>
<path d="M1527 80.5h1M1533 91.5h1M1581 99.5h1M1579 103.5h1M1593 107.5h1M1547 108.5h1M1624 108.5h1M1549 109.5h1M1561 109.5h1M1575 109.5h1M1552 110.5h1M1631 110.5h1M1585 111.5h1M1595 111.5h1M1597 111.5h1M1558 112.5h2M1565 112.5h1M1587 112.5h1M1568 113.5h1M1606 113.5h1M1569 114.5h1M1575 114.5h1M1587 114.5h1M1593 114.5h1M1615 114.5h1M1581 115.5h1M1587 115.5h1M1583 116.5h1M1561 117.5h1M1592 117.5h2M1601 117.5h1M1609 117.5h1M1613 117.5h1M1571 118.5h1M1577 118.5h1M1579 118.5h1M1591 118.5h1M1599 118.5h2M1559 119.5h1M1570 119.5h2M1583 119.5h1M1559 120.5h1M1566 120.5h2M1598 120.5h1M1581 121.5h1M1589 121.5h1M1620 121.5h1M1568 122.5h1M1590 122.5h1M1595 122.5h2M1607 122.5h1M1589 123.5h1M1577 124.5h1M1585 124.5h1M1595 124.5h1M1612 124.5h1M1623 124.5h1M1581 125.5h1M1603 125.5h1M1610 125.5h1M1615 125.5h1M1617 125.5h1M1573 126.5h1M1576 126.5h1M1599 126.5h1M1566 127.5h1M1591 127.5h1M1607 127.5h1M1588 128.5h1M1599 128.5h1M1606 128.5h1M1612 128.5h1M1632 128.5h1M1575 129.5h1M1582 129.5h1M1587 129.5h1M1602 129.5h1M1613 129.5h1M1622 129.5h1M1561 130.5h1M1578 130.5h1M1580 130.5h1M1592 130.5h2M1596 130.5h1M1565 131.5h1M1591 131.5h1M1582 132.5h1M1576 133.5h1M1591 133.5h1M1603 133.5h1M1607 133.5h1M1617 133.5h1M1563 134.5h1M1582 134.5h1M1588 134.5h1M1590 134.5h1M1602 136.5h1M1607 136.5h1M1613 136.5h1M1562 137.5h1M1568 137.5h1M1579 137.5h2M1587 138.5h1M1594 138.5h1M1605 138.5h1M1582 139.5h2M1594 139.5h1M1600 139.5h1M1606 139.5h1M1565 140.5h1M1596 140.5h1M1598 140.5h1M1629 140.5h1M1568 141.5h1M1579 141.5h1M1585 141.5h1M1596 141.5h1M1568 142.5h1M1590 142.5h1M1605 142.5h1M1575 143.5h1M1577 143.5h1M1513 144.5h1M1566 144.5h2M1574 144.5h1M1593 144.5h1M1609 144.5h1M1636 144.5h1M1564 145.5h1M1569 145.5h1M1583 145.5h1M1602 145.5h1M1572 146.5h1M1585 146.5h1M1587 146.5h1M1594 146.5h1M1605 146.5h1M1580 147.5h1M1585 147.5h1M1566 148.5h1M1583 148.5h1M1620 148.5h1M1561 150.5h1M1576 150.5h1M1582 150.5h1M1582 151.5h1M1604 151.5h1M1559 152.5h1M1563 152.5h1M1571 152.5h1M1614 152.5h1M1563 153.5h1M1588 153.5h1M1600 153.5h1M1604 153.5h1M1558 154.5h1M1575 154.5h1M1570 155.5h1M1568 156.5h1M1582 157.5h1M1615 157.5h1M1570 158.5h1M1586 158.5h1M1589 158.5h1M1600 158.5h1M1614 158.5h1M1562 159.5h1M1556 160.5h1M1558 160.5h1M1567 161.5h1M1577 161.5h1M1555 166.5h1M1582 166.5h1M1552 167.5h1M1549 170.5h1M1548 175.5h1M1545 178.5h1M1543 179.5h1M1519 191.5h1M1540 195.5h1M1540 196.5h1M1607 200.5h1M1612 200.5h1M1587 201.5h1M1603 201.5h1M1587 202.5h1M1606 203.5h1M1621 203.5h1M1581 204.5h1M1589 204.5h1M1604 204.5h1M1634 204.5h1M1576 205.5h1M1624 205.5h1M1629 206.5h1M1541 207.5h1M1573 207.5h1M1643 209.5h1M1573 213.5h1M1575 213.5h1M1637 213.5h2M1576 215.5h1M1636 215.5h1M1574 216.5h2M1638 216.5h1M1634 217.5h1M1579 218.5h1M1569 220.5h1M1574 220.5h1M1633 220.5h1M1580 221.5h1M1578 223.5h1M1623 223.5h1M1629 223.5h1M1616 224.5h1M1592 226.5h1M1598 226.5h1" fill="none" stroke="#000aff" stroke-width="1"/>
<path d="M1526 91.5h1M1528 92.5h3M1532 92.5h1M1525 93.5h2M1530 93.5h1M1534 93.5h1M1532 94.5h1M1523 95.5h1M1532 95.5h2M1536 95.5h1M1534 96.5h1M1536 96.5h1M1522 97.5h1M1535 97.5h2M1536 99.5h3M1536 100.5h1M1538 100.5h1M1540 102.5h2M1537 103.5h2M1542 103.5h1M1539 104.5h4M1519 105.5h1M1543 107.5h1M1541 108.5h1M1542 109.5h1M1547 110.5h1M1546 111.5h1M1542 112.5h2M1547 112.5h1M1552 112.5h1M1517 113.5h1M1545 113.5h1M1551 113.5h1M1554 113.5h1M1544 114.5h1M1546 114.5h2M1544 115.5h1M1551 115.5h1M1554 115.5h2M1545 116.5h1M1547 116.5h4M1552 116.5h1M1556 116.5h1M1544 117.5h2M1551 117.5h2M1545 118.5h1M1547 118.5h1M1550 118.5h1M1553 118.5h1M1555 118.5h1M1516 119.5h1M1547 119.5h1M1547 120.5h1M1551 120.5h1M1555 120.5h1M1516 121.5h1M1550 121.5h1M1555 121.5h1M1551 122.5h2M1554 122.5h1M1599 122.5h1M1516 123.5h1M1551 123.5h2M1554 123.5h1M1558 123.5h1M1560 123.5h2M1552 124.5h1M1554 124.5h1M1558 124.5h2M1599 124.5h2M1554 125.5h2M1561 125.5h1M1570 125.5h1M1516 126.5h1M1554 126.5h2M1558 126.5h1M1560 126.5h2M1569 126.5h1M1554 127.5h1M1567 127.5h2M1570 127.5h2M1554 128.5h1M1557 128.5h2M1555 129.5h1M1557 129.5h1M1553 130.5h1M1555 130.5h1M1559 130.5h2M1574 130.5h1M1555 131.5h1M1568 131.5h1M1515 132.5h1M1558 132.5h1M1567 132.5h1M1570 132.5h3M1573 133.5h2M1584 133.5h1M1558 134.5h1M1560 134.5h1M1567 134.5h1M1572 134.5h2M1585 134.5h1M1560 135.5h1M1568 135.5h1M1584 135.5h2M1558 136.5h1M1569 136.5h1M1572 136.5h1M1515 137.5h1M1558 137.5h1M1573 137.5h1M1514 138.5h1M1558 138.5h1M1560 138.5h1M1572 138.5h1M1576 138.5h2M1559 139.5h2M1571 139.5h1M1577 139.5h1M1557 140.5h1M1562 140.5h1M1572 140.5h1M1574 140.5h1M1556 141.5h2M1561 141.5h1M1515 142.5h1M1557 142.5h1M1561 142.5h1M1515 143.5h1M1557 143.5h1M1563 143.5h1M1558 144.5h2M1561 144.5h1M1558 145.5h1M1558 146.5h1M1576 146.5h2M1560 147.5h1M1573 147.5h1M1578 147.5h1M1558 148.5h2M1573 148.5h1M1576 148.5h1M1558 149.5h2M1574 149.5h1M1576 149.5h1M1517 150.5h1M1554 151.5h1M1516 152.5h1M1553 153.5h2M1553 154.5h1M1554 155.5h2M1553 156.5h1M1556 156.5h1M1553 157.5h1M1555 157.5h1M1551 158.5h2M1554 158.5h1M1549 159.5h4M1548 160.5h1M1554 160.5h1M1518 161.5h1M1548 161.5h2M1518 162.5h1M1549 162.5h1M1551 162.5h1M1553 162.5h1M1546 163.5h1M1548 163.5h1M1550 163.5h2M1545 164.5h1M1552 164.5h2M1544 165.5h2M1550 165.5h3M1544 166.5h1M1546 166.5h1M1519 167.5h1M1545 167.5h1M1548 167.5h1M1542 168.5h2M1519 169.5h1M1544 169.5h1M1546 169.5h1M1519 170.5h1M1547 170.5h1M1542 171.5h1M1546 171.5h1M1541 172.5h3M1540 173.5h1M1543 173.5h4M1542 174.5h2M1542 175.5h1M1543 176.5h1M1519 177.5h1M1521 177.5h1M1539 177.5h1M1518 178.5h1M1520 178.5h1M1539 178.5h2M1520 179.5h2M1537 179.5h1M1539 179.5h1M1541 179.5h1M1537 180.5h1M1539 180.5h1M1519 181.5h1M1521 181.5h1M1536 181.5h1M1540 181.5h1M1520 182.5h2M1538 182.5h1M1519 183.5h1M1537 185.5h1M1519 186.5h1M1521 186.5h1M1537 186.5h1M1521 187.5h1M1534 187.5h1M1536 187.5h2M1519 188.5h2M1534 188.5h1M1537 188.5h1M1521 189.5h1M1535 189.5h1M1534 190.5h2M1522 192.5h1M1535 192.5h2M1522 193.5h1M1537 193.5h2M1520 194.5h1M1520 195.5h2M1520 196.5h1M1535 196.5h2M1520 198.5h1M1537 200.5h1M1539 200.5h1M1520 202.5h1M1538 203.5h1M1540 203.5h1M1596 203.5h1M1598 203.5h1M1520 204.5h1M1596 204.5h1M1598 204.5h1M1601 204.5h1M1611 204.5h1M1619 204.5h1M1520 205.5h1M1594 205.5h2M1597 205.5h1M1600 205.5h1M1610 205.5h2M1615 205.5h1M1617 205.5h2M1581 206.5h1M1586 206.5h3M1596 206.5h1M1607 206.5h1M1609 206.5h1M1614 206.5h1M1618 206.5h1M1620 206.5h1M1622 206.5h1M1579 207.5h3M1587 207.5h1M1591 207.5h1M1593 207.5h2M1615 207.5h1M1618 207.5h1M1620 207.5h1M1622 207.5h1M1519 208.5h1M1539 208.5h1M1582 208.5h2M1586 208.5h1M1588 208.5h1M1590 208.5h1M1593 208.5h1M1620 208.5h1M1622 208.5h1M1587 209.5h2M1591 209.5h2M1618 209.5h1M1623 209.5h2M1626 209.5h3M1631 209.5h1M1539 210.5h1M1580 210.5h2M1584 210.5h2M1623 210.5h2M1629 210.5h1M1539 211.5h1M1581 211.5h1M1619 211.5h1M1621 211.5h3M1630 211.5h2M1580 212.5h1M1583 212.5h2M1624 212.5h1M1626 212.5h1M1628 212.5h1M1631 212.5h1M1540 213.5h1M1579 213.5h4M1624 213.5h1M1626 213.5h1M1629 213.5h1M1631 213.5h1M1626 214.5h1M1630 214.5h1M1633 214.5h1M1539 215.5h1M1581 215.5h1M1584 215.5h1M1625 215.5h1M1628 215.5h1M1630 215.5h1M1633 215.5h1M1579 216.5h1M1583 216.5h1M1624 216.5h1M1631 216.5h1M1538 217.5h1M1584 217.5h1M1622 217.5h3M1626 217.5h4M1538 218.5h1M1540 218.5h1M1582 218.5h2M1585 218.5h2M1618 218.5h1M1620 218.5h1M1630 218.5h1M1582 219.5h1M1585 219.5h2M1615 219.5h1M1618 219.5h1M1624 219.5h2M1629 219.5h1M1520 220.5h2M1538 220.5h1M1584 220.5h1M1587 220.5h1M1591 220.5h1M1611 220.5h1M1613 220.5h1M1616 220.5h2M1620 220.5h4M1625 220.5h2M1628 220.5h1M1522 221.5h1M1584 221.5h1M1586 221.5h1M1593 221.5h1M1609 221.5h1M1611 221.5h2M1616 221.5h1M1626 221.5h1M1538 222.5h1M1586 222.5h1M1589 222.5h2M1594 222.5h1M1596 222.5h2M1601 222.5h2M1608 222.5h3M1615 222.5h2M1619 222.5h1M1585 223.5h1M1589 223.5h1M1591 223.5h1M1593 223.5h1M1595 223.5h2M1598 223.5h1M1602 223.5h2M1605 223.5h1M1610 223.5h1M1618 223.5h1M1524 224.5h1M1536 224.5h2M1586 224.5h1M1588 224.5h1M1594 224.5h2M1605 224.5h1M1607 224.5h1M1523 225.5h3M1536 225.5h1M1593 225.5h1M1525 226.5h2M1534 226.5h1M1525 227.5h1M1527 227.5h1M1533 227.5h1M1528 228.5h1M1531 228.5h2" fill="none" stroke="#001dff" stroke-width="1"/>
<path d="M1526 94.5h2M1526 95.5h4M1531 95.5h1M1525 96.5h3M1523 97.5h1M1525 97.5h1M1528 97.5h7M1522 98.5h1M1525 98.5h1M1531 98.5h1M1534 98.5h1M1522 99.5h2M1532 99.5h2M1535 99.5h1M1521 100.5h1M1523 100.5h1M1533 100.5h1M1535 100.5h1M1522 101.5h1M1534 101.5h1M1522 102.5h1M1534 102.5h1M1521 103.5h2M1534 103.5h3M1521 104.5h1M1521 105.5h1M1535 105.5h4M1520 106.5h1M1536 106.5h1M1539 106.5h2M1519 107.5h2M1537 107.5h3M1537 108.5h4M1519 109.5h1M1539 109.5h3M1519 110.5h1M1538 110.5h4M1538 111.5h1M1540 111.5h1M1539 112.5h2M1518 113.5h1M1540 113.5h3M1518 114.5h1M1539 114.5h1M1542 114.5h1M1517 115.5h2M1540 115.5h2M1543 115.5h1M1540 116.5h4M1517 117.5h1M1541 117.5h1M1541 118.5h1M1544 118.5h1M1517 119.5h1M1544 119.5h2M1542 120.5h3M1546 120.5h1M1543 121.5h1M1547 121.5h1M1545 122.5h2M1548 122.5h1M1545 123.5h4M1517 124.5h1M1547 124.5h3M1545 125.5h1M1547 125.5h5M1545 126.5h1M1548 126.5h1M1552 126.5h1M1517 127.5h1M1545 127.5h1M1548 127.5h2M1552 127.5h2M1545 128.5h2M1548 128.5h6M1545 129.5h6M1545 130.5h4M1517 131.5h1M1546 131.5h4M1551 131.5h1M1553 131.5h1M1517 132.5h1M1548 132.5h2M1551 132.5h2M1555 132.5h2M1516 133.5h1M1547 133.5h1M1550 133.5h1M1552 133.5h6M1516 134.5h1M1547 134.5h1M1549 134.5h5M1556 134.5h2M1516 135.5h1M1551 135.5h1M1553 135.5h1M1555 135.5h3M1517 136.5h1M1551 136.5h4M1556 136.5h1M1551 137.5h6M1551 138.5h2M1554 138.5h1M1556 138.5h1M1517 139.5h1M1551 139.5h1M1554 139.5h1M1517 140.5h1M1551 140.5h1M1553 140.5h2M1556 140.5h1M1551 141.5h3M1555 141.5h1M1550 142.5h1M1552 142.5h2M1516 143.5h1M1550 143.5h2M1554 143.5h2M1516 144.5h1M1551 144.5h2M1555 144.5h2M1517 145.5h1M1551 145.5h3M1555 145.5h1M1517 146.5h1M1551 146.5h6M1550 147.5h2M1553 147.5h1M1555 147.5h1M1546 148.5h3M1551 148.5h1M1553 148.5h3M1547 149.5h2M1550 149.5h4M1555 149.5h1M1545 150.5h3M1549 150.5h1M1551 150.5h1M1554 150.5h1M1546 151.5h2M1549 151.5h1M1551 151.5h1M1546 152.5h3M1550 152.5h3M1547 153.5h1M1549 153.5h2M1552 153.5h1M1517 154.5h2M1546 154.5h6M1518 155.5h1M1545 155.5h1M1547 155.5h5M1518 156.5h1M1544 156.5h2M1548 156.5h2M1518 157.5h1M1543 157.5h1M1545 157.5h2M1548 157.5h4M1543 158.5h3M1549 158.5h1M1544 159.5h1M1547 159.5h1M1518 160.5h1M1542 160.5h1M1544 160.5h3M1543 161.5h1M1545 161.5h3M1520 162.5h1M1541 162.5h3M1546 162.5h1M1520 163.5h1M1540 163.5h2M1543 163.5h2M1520 164.5h1M1539 164.5h4M1520 165.5h1M1540 165.5h1M1542 165.5h2M1520 166.5h1M1538 166.5h4M1520 167.5h2M1537 167.5h2M1541 167.5h1M1521 168.5h1M1539 168.5h2M1521 169.5h1M1537 169.5h4M1537 170.5h2M1540 170.5h1M1520 171.5h1M1537 171.5h4M1521 172.5h2M1538 172.5h3M1521 173.5h2M1537 173.5h1M1522 174.5h1M1537 174.5h2M1522 175.5h2M1536 175.5h1M1538 175.5h1M1522 176.5h3M1536 176.5h2M1522 177.5h1M1535 177.5h2M1522 178.5h1M1524 178.5h1M1535 178.5h2M1523 179.5h2M1534 179.5h2M1523 180.5h2M1533 180.5h1M1535 180.5h1M1522 181.5h1M1524 181.5h1M1533 181.5h1M1522 182.5h1M1524 182.5h1M1533 182.5h1M1533 183.5h2M1522 184.5h4M1533 184.5h2M1521 185.5h3M1525 185.5h1M1533 185.5h1M1522 186.5h2M1525 186.5h1M1531 186.5h4M1522 187.5h4M1531 187.5h1M1523 188.5h2M1530 188.5h1M1532 188.5h1M1523 189.5h1M1530 189.5h3M1522 190.5h3M1531 190.5h3M1524 191.5h1M1531 191.5h3M1524 192.5h2M1531 192.5h2M1523 193.5h2M1531 193.5h3M1525 194.5h2M1531 194.5h1M1533 194.5h2M1523 195.5h3M1530 195.5h5M1522 196.5h2M1526 196.5h1M1531 196.5h1M1533 196.5h1M1522 197.5h2M1525 197.5h1M1531 197.5h1M1523 198.5h2M1533 198.5h3M1522 199.5h2M1534 199.5h1M1522 200.5h2M1534 200.5h1M1536 200.5h1M1522 201.5h1M1536 201.5h1M1536 202.5h2M1522 203.5h1M1536 203.5h2M1522 204.5h1M1537 204.5h1M1522 205.5h1M1537 205.5h2M1521 206.5h1M1537 206.5h1M1610 206.5h1M1613 206.5h1M1537 207.5h2M1596 207.5h3M1600 207.5h2M1605 207.5h2M1608 207.5h5M1520 208.5h2M1537 208.5h1M1595 208.5h3M1602 208.5h6M1610 208.5h6M1520 209.5h2M1537 209.5h1M1594 209.5h10M1605 209.5h1M1608 209.5h2M1611 209.5h2M1615 209.5h2M1520 210.5h2M1537 210.5h1M1586 210.5h1M1588 210.5h5M1594 210.5h3M1598 210.5h4M1605 210.5h1M1607 210.5h5M1614 210.5h1M1616 210.5h1M1520 211.5h1M1538 211.5h1M1586 211.5h5M1592 211.5h1M1595 211.5h1M1597 211.5h1M1599 211.5h1M1606 211.5h3M1610 211.5h1M1612 211.5h2M1615 211.5h2M1520 212.5h1M1537 212.5h2M1586 212.5h1M1589 212.5h2M1592 212.5h1M1594 212.5h1M1596 212.5h1M1609 212.5h4M1614 212.5h1M1617 212.5h2M1621 212.5h2M1520 213.5h1M1537 213.5h1M1584 213.5h1M1586 213.5h1M1588 213.5h6M1595 213.5h4M1611 213.5h4M1616 213.5h3M1621 213.5h3M1520 214.5h2M1537 214.5h2M1585 214.5h6M1592 214.5h5M1611 214.5h2M1614 214.5h1M1616 214.5h3M1620 214.5h3M1585 215.5h2M1588 215.5h1M1592 215.5h5M1610 215.5h4M1615 215.5h1M1617 215.5h7M1521 216.5h1M1537 216.5h2M1585 216.5h3M1589 216.5h2M1592 216.5h5M1609 216.5h3M1613 216.5h7M1622 216.5h2M1536 217.5h1M1589 217.5h2M1594 217.5h5M1602 217.5h4M1607 217.5h2M1612 217.5h1M1614 217.5h1M1616 217.5h2M1619 217.5h1M1522 218.5h1M1590 218.5h1M1592 218.5h10M1603 218.5h1M1605 218.5h4M1610 218.5h1M1612 218.5h2M1523 219.5h1M1536 219.5h2M1590 219.5h1M1592 219.5h1M1594 219.5h1M1596 219.5h1M1598 219.5h4M1604 219.5h5M1613 219.5h2M1523 220.5h1M1594 220.5h1M1598 220.5h1M1600 220.5h4M1605 220.5h2M1608 220.5h1M1523 221.5h3M1534 221.5h2M1594 221.5h1M1597 221.5h1M1600 221.5h1M1604 221.5h1M1607 221.5h1M1524 222.5h1M1527 222.5h1M1534 222.5h1M1536 222.5h1M1595 222.5h1M1525 223.5h2M1533 223.5h3M1525 224.5h1M1527 224.5h4M1532 224.5h3M1526 225.5h1M1528 225.5h1M1530 225.5h6M1528 226.5h1M1532 226.5h1M1529 227.5h2" fill="none" stroke="#0031ff" stroke-width="1"/>
<path d="M1527 98.5h4M1524 99.5h8M1524 100.5h1M1526 100.5h7M1523 101.5h4M1530 101.5h4M1523 102.5h3M1531 102.5h3M1523 103.5h2M1532 103.5h2M1522 104.5h2M1532 104.5h1M1534 104.5h1M1522 105.5h1M1533 105.5h2M1521 106.5h2M1533 106.5h2M1521 107.5h1M1534 107.5h2M1520 108.5h2M1534 108.5h3M1520 109.5h2M1535 109.5h3M1520 110.5h1M1535 110.5h3M1519 111.5h2M1536 111.5h2M1519 112.5h1M1538 112.5h1M1519 113.5h1M1536 113.5h1M1538 113.5h1M1537 114.5h2M1519 115.5h1M1537 115.5h3M1519 116.5h1M1538 116.5h2M1518 117.5h1M1538 117.5h3M1539 118.5h1M1518 119.5h1M1539 119.5h3M1518 120.5h1M1540 120.5h2M1518 121.5h1M1540 121.5h3M1540 122.5h4M1518 123.5h1M1541 123.5h4M1518 124.5h1M1541 124.5h3M1518 125.5h1M1543 125.5h1M1542 126.5h3M1518 127.5h1M1542 127.5h3M1518 128.5h1M1542 128.5h3M1518 129.5h1M1541 129.5h2M1544 129.5h1M1518 130.5h1M1541 130.5h3M1518 131.5h1M1541 131.5h5M1518 132.5h1M1542 132.5h5M1518 133.5h1M1542 133.5h5M1518 134.5h1M1542 134.5h4M1518 135.5h1M1543 135.5h2M1547 135.5h1M1518 136.5h1M1543 136.5h1M1546 136.5h4M1518 137.5h1M1543 137.5h7M1518 138.5h1M1543 138.5h8M1543 139.5h8M1518 140.5h1M1543 140.5h3M1547 140.5h4M1518 141.5h1M1544 141.5h6M1517 142.5h2M1544 142.5h3M1548 142.5h2M1518 143.5h1M1544 143.5h6M1517 144.5h2M1543 144.5h1M1545 144.5h6M1518 145.5h1M1542 145.5h9M1518 146.5h1M1542 146.5h3M1547 146.5h3M1541 147.5h2M1544 147.5h4M1541 148.5h2M1544 148.5h2M1519 149.5h1M1542 149.5h3M1519 150.5h1M1542 150.5h3M1519 151.5h1M1542 151.5h4M1519 152.5h1M1542 152.5h2M1545 152.5h1M1519 153.5h1M1541 153.5h6M1541 154.5h1M1544 154.5h2M1519 155.5h1M1540 155.5h5M1519 156.5h1M1540 156.5h3M1519 157.5h2M1539 157.5h4M1519 158.5h2M1540 158.5h3M1520 159.5h1M1538 159.5h3M1542 159.5h1M1520 160.5h2M1538 160.5h4M1520 161.5h2M1538 161.5h4M1537 162.5h4M1521 163.5h1M1536 163.5h1M1538 163.5h2M1521 164.5h1M1536 164.5h3M1521 165.5h2M1536 165.5h2M1522 166.5h1M1534 166.5h4M1534 167.5h2M1522 168.5h2M1534 168.5h1M1523 169.5h1M1534 169.5h3M1522 170.5h1M1524 170.5h1M1533 170.5h1M1535 170.5h2M1522 171.5h4M1533 171.5h4M1523 172.5h4M1533 172.5h3M1523 173.5h5M1533 173.5h4M1524 174.5h1M1526 174.5h3M1531 174.5h6M1525 175.5h4M1530 175.5h6M1525 176.5h6M1532 176.5h4M1526 177.5h9M1525 178.5h1M1527 178.5h7M1525 179.5h9M1525 180.5h4M1530 180.5h1M1525 181.5h4M1530 181.5h2M1525 182.5h5M1531 182.5h2M1525 183.5h4M1530 183.5h3M1526 184.5h3M1530 184.5h2M1526 185.5h6M1528 186.5h3M1526 187.5h2M1529 187.5h1M1525 188.5h3M1529 188.5h1M1525 189.5h2M1528 189.5h1M1525 190.5h5M1525 191.5h3M1530 191.5h1M1526 192.5h5M1527 193.5h4M1527 194.5h1M1529 194.5h2M1527 195.5h2M1527 196.5h3M1526 197.5h5M1525 198.5h8M1525 199.5h9M1524 200.5h10M1524 201.5h2M1527 201.5h8M1523 202.5h3M1532 202.5h4M1523 203.5h2M1533 203.5h3M1523 204.5h2M1535 204.5h2M1534 205.5h3M1522 206.5h2M1536 206.5h1M1523 207.5h1M1535 207.5h2M1522 208.5h2M1535 208.5h2M1522 209.5h2M1536 209.5h1M1522 210.5h2M1536 210.5h1M1602 210.5h3M1521 211.5h3M1536 211.5h1M1600 211.5h6M1521 212.5h3M1600 212.5h2M1603 212.5h5M1521 213.5h3M1535 213.5h2M1600 213.5h8M1609 213.5h2M1522 214.5h2M1535 214.5h1M1598 214.5h11M1610 214.5h1M1522 215.5h2M1535 215.5h2M1597 215.5h7M1605 215.5h5M1522 216.5h3M1535 216.5h2M1597 216.5h6M1605 216.5h2M1608 216.5h1M1523 217.5h2M1534 217.5h2M1599 217.5h3M1523 218.5h3M1533 218.5h3M1524 219.5h3M1533 219.5h2M1524 220.5h5M1531 220.5h1M1533 220.5h2M1526 221.5h6M1533 221.5h1M1528 222.5h5M1531 223.5h2" fill="none" stroke="#004eff" stroke-width="1"/>
<path d="M1527 101.5h3M1526 102.5h4M1525 103.5h7M1524 104.5h2M1529 104.5h3M1523 105.5h2M1530 105.5h3M1523 106.5h1M1531 106.5h2M1522 107.5h2M1531 107.5h2M1532 108.5h2M1522 109.5h1M1533 109.5h2M1521 110.5h1M1533 110.5h1M1521 111.5h1M1534 111.5h2M1520 112.5h2M1534 112.5h2M1520 113.5h1M1535 113.5h1M1520 114.5h1M1535 114.5h2M1520 115.5h1M1536 115.5h1M1520 116.5h1M1536 116.5h2M1519 117.5h2M1537 117.5h1M1519 118.5h1M1537 118.5h2M1519 119.5h1M1537 119.5h2M1519 120.5h1M1537 120.5h3M1519 121.5h1M1537 121.5h3M1519 122.5h1M1537 122.5h3M1519 123.5h1M1537 123.5h4M1538 124.5h3M1519 125.5h1M1538 125.5h4M1539 126.5h3M1519 127.5h1M1539 127.5h3M1519 128.5h1M1539 128.5h3M1539 129.5h2M1519 130.5h1M1539 130.5h2M1519 131.5h1M1540 131.5h1M1519 132.5h1M1540 132.5h2M1519 133.5h1M1540 133.5h2M1519 134.5h1M1540 134.5h2M1540 135.5h3M1540 136.5h1M1542 136.5h1M1540 137.5h3M1540 138.5h3M1540 139.5h3M1540 140.5h3M1540 141.5h4M1540 142.5h4M1519 143.5h1M1540 143.5h4M1519 144.5h1M1540 144.5h3M1519 145.5h1M1540 145.5h2M1519 146.5h1M1539 146.5h2M1519 147.5h1M1540 147.5h1M1519 148.5h1M1540 148.5h1M1539 149.5h3M1520 150.5h1M1538 150.5h4M1520 151.5h1M1538 151.5h4M1520 152.5h1M1537 152.5h5M1520 153.5h1M1537 153.5h4M1520 154.5h1M1537 154.5h4M1520 155.5h1M1537 155.5h3M1520 156.5h2M1536 156.5h4M1521 157.5h1M1536 157.5h3M1521 158.5h1M1536 158.5h3M1521 159.5h2M1536 159.5h2M1522 160.5h1M1535 160.5h3M1522 161.5h1M1535 161.5h3M1522 162.5h1M1534 162.5h3M1522 163.5h2M1533 163.5h3M1522 164.5h2M1533 164.5h3M1523 165.5h1M1532 165.5h3M1523 166.5h2M1532 166.5h1M1523 167.5h2M1531 167.5h3M1524 168.5h3M1531 168.5h1M1533 168.5h1M1524 169.5h10M1525 170.5h8M1526 171.5h7M1527 172.5h6M1528 173.5h5M1529 174.5h2M1526 202.5h6M1525 203.5h7M1525 204.5h9M1524 205.5h3M1530 205.5h3M1524 206.5h3M1531 206.5h4M1524 207.5h3M1532 207.5h3M1524 208.5h1M1533 208.5h2M1525 209.5h1M1533 209.5h3M1524 210.5h2M1533 210.5h3M1524 211.5h2M1534 211.5h2M1524 212.5h2M1533 212.5h3M1524 213.5h2M1533 213.5h2M1524 214.5h2M1533 214.5h2M1524 215.5h3M1532 215.5h3M1525 216.5h3M1531 216.5h4M1525 217.5h9M1526 218.5h6M1527 219.5h6M1529 220.5h2" fill="none" stroke="#007aff" stroke-width="1"/>
<path d="M1526 104.5h3M1525 105.5h5M1524 106.5h7M1524 107.5h1M1528 107.5h3M1523 108.5h2M1530 108.5h2M1523 109.5h1M1531 109.5h2M1522 110.5h2M1532 110.5h1M1522 111.5h1M1532 111.5h2M1522 112.5h1M1533 112.5h1M1521 113.5h1M1533 113.5h2M1521 114.5h1M1534 114.5h1M1521 115.5h1M1534 115.5h2M1521 116.5h1M1535 116.5h1M1521 117.5h1M1535 117.5h2M1520 118.5h1M1535 118.5h2M1520 119.5h1M1536 119.5h1M1520 120.5h1M1536 120.5h1M1520 121.5h1M1520 122.5h1M1536 122.5h1M1520 123.5h1M1536 123.5h1M1520 124.5h1M1536 124.5h2M1536 125.5h2M1537 126.5h2M1537 127.5h2M1537 128.5h2M1519 129.5h1M1537 129.5h2M1538 130.5h1M1538 131.5h2M1538 132.5h2M1538 133.5h2M1538 134.5h2M1519 135.5h1M1538 135.5h2M1519 136.5h1M1538 136.5h2M1519 137.5h1M1538 137.5h2M1519 138.5h1M1538 138.5h2M1519 139.5h1M1538 139.5h2M1519 140.5h1M1538 140.5h2M1519 141.5h1M1538 141.5h2M1519 142.5h1M1538 142.5h2M1537 143.5h3M1520 144.5h1M1537 144.5h3M1520 145.5h1M1537 145.5h3M1520 146.5h1M1537 146.5h2M1520 147.5h1M1537 147.5h2M1520 148.5h1M1536 148.5h3M1520 149.5h1M1536 149.5h3M1536 150.5h2M1521 151.5h1M1536 151.5h2M1521 152.5h1M1535 152.5h2M1521 153.5h1M1535 153.5h2M1521 154.5h1M1535 154.5h2M1521 155.5h2M1535 155.5h2M1522 156.5h1M1535 156.5h1M1522 157.5h1M1534 157.5h2M1522 158.5h2M1534 158.5h2M1523 159.5h1M1533 159.5h3M1523 160.5h1M1533 160.5h2M1523 161.5h2M1532 161.5h3M1524 162.5h1M1532 162.5h2M1524 163.5h2M1531 163.5h2M1524 164.5h3M1529 164.5h4M1524 165.5h8M1525 166.5h7M1525 167.5h6M1527 168.5h4M1527 205.5h3M1527 206.5h4M1527 207.5h5M1526 208.5h7M1526 209.5h7M1526 210.5h7M1526 211.5h8M1526 212.5h7M1526 213.5h7M1526 214.5h7M1527 215.5h5M1528 216.5h3" fill="none" stroke="#00a6ff" stroke-width="1"/>
<path d="M1525 107.5h3M1525 108.5h5M1524 109.5h7M1524 110.5h2M1530 110.5h2M1523 111.5h2M1531 111.5h1M1523 112.5h1M1531 112.5h2M1522 113.5h2M1531 113.5h2M1522 114.5h1M1532 114.5h2M1522 115.5h1M1533 115.5h1M1522 116.5h1M1533 116.5h2M1522 117.5h1M1534 117.5h1M1521 118.5h1M1534 118.5h1M1521 119.5h1M1534 119.5h2M1521 120.5h1M1534 120.5h2M1521 121.5h1M1534 121.5h2M1521 122.5h1M1534 122.5h2M1521 123.5h1M1535 123.5h1M1535 124.5h1M1520 125.5h1M1535 125.5h1M1520 126.5h1M1535 126.5h2M1520 127.5h1M1535 127.5h2M1520 128.5h1M1536 128.5h1M1520 129.5h1M1536 129.5h1M1520 130.5h1M1536 130.5h2M1520 131.5h1M1536 131.5h2M1520 132.5h1M1537 132.5h1M1520 133.5h1M1537 133.5h1M1520 134.5h1M1537 134.5h1M1520 135.5h1M1537 135.5h1M1520 136.5h1M1536 136.5h2M1520 137.5h1M1536 137.5h2M1520 138.5h1M1536 138.5h2M1520 139.5h1M1536 139.5h2M1520 140.5h1M1536 140.5h2M1520 141.5h1M1536 141.5h2M1520 142.5h1M1536 142.5h2M1520 143.5h1M1536 143.5h1M1536 144.5h1M1521 145.5h1M1535 145.5h2M1521 146.5h1M1535 146.5h2M1521 147.5h1M1535 147.5h2M1521 148.5h1M1535 148.5h1M1521 149.5h1M1535 149.5h1M1521 150.5h1M1535 150.5h1M1534 151.5h2M1522 152.5h1M1534 152.5h1M1522 153.5h1M1534 153.5h1M1522 154.5h1M1533 154.5h2M1523 155.5h1M1533 155.5h2M1523 156.5h1M1533 156.5h2M1523 157.5h2M1532 157.5h2M1524 158.5h1M1532 158.5h2M1524 159.5h2M1531 159.5h2M1524 160.5h2M1530 160.5h3M1525 161.5h7M1525 162.5h7M1526 163.5h5M1527 164.5h2" fill="none" stroke="#00cdec" stroke-width="1"/>
<path d="M1526 110.5h4M1525 111.5h6M1524 112.5h7M1524 113.5h2M1529 113.5h2M1523 114.5h2M1530 114.5h2M1523 115.5h1M1531 115.5h2M1523 116.5h1M1532 116.5h1M1523 117.5h1M1532 117.5h2M1522 118.5h1M1533 118.5h1M1522 119.5h1M1533 119.5h1M1522 120.5h1M1533 120.5h1M1522 121.5h1M1533 121.5h1M1522 122.5h1M1533 122.5h1M1534 123.5h1M1521 124.5h1M1534 124.5h1M1521 125.5h1M1534 125.5h1M1521 126.5h1M1534 126.5h1M1521 127.5h1M1534 127.5h1M1521 128.5h1M1534 128.5h2M1521 129.5h1M1534 129.5h2M1521 130.5h1M1535 130.5h1M1521 131.5h1M1535 131.5h1M1521 132.5h1M1535 132.5h2M1521 133.5h1M1536 133.5h1M1521 134.5h1M1536 134.5h1M1521 135.5h1M1535 135.5h2M1521 136.5h1M1535 136.5h1M1521 137.5h1M1535 137.5h1M1521 138.5h1M1535 138.5h1M1521 139.5h1M1535 139.5h1M1521 140.5h1M1535 140.5h1M1521 141.5h1M1535 141.5h1M1521 142.5h1M1535 142.5h1M1521 143.5h1M1535 143.5h1M1521 144.5h1M1534 144.5h2M1534 145.5h1M1522 146.5h1M1534 146.5h1M1522 147.5h1M1534 147.5h1M1522 148.5h1M1534 148.5h1M1522 149.5h1M1533 149.5h2M1522 150.5h1M1533 150.5h2M1522 151.5h1M1533 151.5h1M1523 152.5h1M1533 152.5h1M1523 153.5h1M1532 153.5h2M1523 154.5h2M1532 154.5h1M1524 155.5h1M1532 155.5h1M1524 156.5h2M1531 156.5h2M1525 157.5h2M1530 157.5h2M1525 158.5h7M1526 159.5h5M1526 160.5h4" fill="none" stroke="#00eac8" stroke-width="1"/>
<path d="M1526 113.5h3M1525 114.5h5M1524 115.5h2M1529 115.5h2M1524 116.5h2M1530 116.5h2M1524 117.5h1M1531 117.5h1M1523 118.5h2M1531 118.5h2M1523 119.5h1M1531 119.5h2M1523 120.5h1M1532 120.5h1M1523 121.5h1M1532 121.5h1M1532 122.5h1M1522 123.5h1M1533 123.5h1M1522 124.5h1M1533 124.5h1M1522 125.5h1M1533 125.5h1M1522 126.5h1M1533 126.5h1M1533 127.5h1M1533 128.5h1M1533 129.5h1M1533 130.5h2M1534 131.5h1M1534 132.5h1M1534 133.5h2M1534 134.5h2M1534 135.5h1M1534 136.5h1M1534 137.5h1M1534 138.5h1M1534 139.5h1M1534 140.5h1M1534 141.5h1M1522 142.5h1M1534 142.5h1M1522 143.5h1M1534 143.5h1M1522 144.5h1M1533 144.5h1M1522 145.5h1M1533 145.5h1M1533 146.5h1M1533 147.5h1M1532 148.5h2M1523 149.5h1M1532 149.5h1M1523 150.5h1M1532 150.5h1M1523 151.5h2M1531 151.5h2M1524 152.5h1M1531 152.5h2M1524 153.5h2M1531 153.5h1M1525 154.5h2M1530 154.5h2M1525 155.5h3M1529 155.5h3M1526 156.5h5M1527 157.5h3" fill="none" stroke="#00e46f" stroke-width="1"/>
<path d="M1526 115.5h3M1526 116.5h4M1525 117.5h6M1525 118.5h1M1529 118.5h2M1524 119.5h2M1530 119.5h1M1524 120.5h1M1530 120.5h2M1524 121.5h1M1531 121.5h1M1523 122.5h1M1531 122.5h1M1523 123.5h1M1532 123.5h1M1523 124.5h1M1532 124.5h1M1532 125.5h1M1522 127.5h1M1522 128.5h1M1522 129.5h1M1522 130.5h1M1522 131.5h1M1533 131.5h1M1522 132.5h1M1533 132.5h1M1522 133.5h1M1533 133.5h1M1522 134.5h1M1533 134.5h1M1522 135.5h1M1533 135.5h1M1522 136.5h1M1533 136.5h1M1522 137.5h1M1533 137.5h1M1522 138.5h1M1533 138.5h1M1522 139.5h1M1533 139.5h1M1522 140.5h1M1533 140.5h1M1522 141.5h1M1533 141.5h1M1533 142.5h1M1523 143.5h1M1533 143.5h1M1523 144.5h1M1532 144.5h1M1523 145.5h1M1532 145.5h1M1523 146.5h1M1532 146.5h1M1523 147.5h1M1532 147.5h1M1523 148.5h1M1531 148.5h1M1524 149.5h1M1530 149.5h2M1524 150.5h1M1530 150.5h2M1525 151.5h1M1529 151.5h2M1525 152.5h6M1526 153.5h5M1527 154.5h3M1528 155.5h1" fill="none" stroke="#37e42f" stroke-width="1"/>
<path d="M1526 118.5h3M1526 119.5h4M1525 120.5h5M1525 121.5h1M1529 121.5h2M1524 122.5h1M1530 122.5h1M1524 123.5h1M1531 123.5h1M1524 124.5h1M1531 124.5h1M1523 125.5h1M1531 125.5h1M1523 126.5h1M1532 126.5h1M1523 127.5h1M1532 127.5h1M1523 128.5h1M1532 128.5h1M1523 129.5h1M1532 129.5h1M1523 130.5h1M1532 130.5h1M1523 131.5h1M1532 131.5h1M1523 132.5h1M1532 132.5h1M1523 133.5h1M1532 133.5h1M1523 134.5h1M1532 134.5h1M1523 135.5h1M1532 135.5h1M1523 136.5h1M1532 136.5h1M1523 137.5h1M1532 137.5h1M1523 138.5h1M1532 138.5h1M1523 139.5h1M1532 139.5h1M1523 140.5h1M1532 140.5h1M1523 141.5h1M1532 141.5h1M1523 142.5h1M1532 142.5h1M1524 143.5h1M1532 143.5h1M1524 144.5h1M1531 144.5h1M1524 145.5h1M1531 145.5h1M1524 146.5h1M1531 146.5h1M1524 147.5h1M1530 147.5h2M1524 148.5h1M1530 148.5h1M1525 149.5h1M1529 149.5h1M1525 150.5h5M1526 151.5h3" fill="none" stroke="#9cea06" stroke-width="1"/>
<path d="M1526 121.5h3M1525 122.5h5M1525 123.5h1M1529 123.5h2M1525 124.5h1M1530 124.5h1M1524 125.5h1M1530 125.5h1M1524 126.5h1M1531 126.5h1M1524 127.5h1M1531 127.5h1M1524 128.5h1M1531 128.5h1M1524 129.5h1M1531 129.5h1M1524 130.5h1M1531 130.5h1M1531 131.5h1M1531 132.5h1M1531 133.5h1M1531 134.5h1M1531 135.5h1M1531 136.5h1M1524 137.5h1M1531 137.5h1M1524 138.5h1M1531 138.5h1M1524 139.5h1M1531 139.5h1M1524 140.5h1M1531 140.5h1M1524 141.5h1M1531 141.5h1M1524 142.5h1M1531 142.5h1M1530 143.5h2M1525 144.5h1M1530 144.5h1M1525 145.5h1M1530 145.5h1M1525 146.5h1M1529 146.5h2M1525 147.5h2M1528 147.5h2M1525 148.5h5M1526 149.5h3" fill="none" stroke="#ded600" stroke-width="1"/>
<path d="M1526 123.5h3M1526 124.5h4M1525 125.5h2M1528 125.5h2M1525 126.5h1M1529 126.5h2M1525 127.5h1M1530 127.5h1M1525 128.5h1M1530 128.5h1M1525 129.5h1M1530 129.5h1M1530 130.5h1M1524 131.5h1M1530 131.5h1M1524 132.5h1M1530 132.5h1M1524 133.5h1M1530 133.5h1M1524 134.5h1M1530 134.5h1M1524 135.5h1M1530 135.5h1M1524 136.5h1M1530 136.5h1M1525 137.5h1M1530 137.5h1M1525 138.5h1M1530 138.5h1M1525 139.5h1M1530 139.5h1M1525 140.5h1M1530 140.5h1M1525 141.5h1M1530 141.5h1M1525 142.5h2M1529 142.5h2M1525 143.5h2M1529 143.5h1M1526 144.5h4M1526 145.5h4M1526 146.5h3M1527 147.5h1" fill="none" stroke="#ff9b00" stroke-width="1"/>
<path d="M1527 125.5h1M1526 126.5h3M1526 127.5h4M1526 128.5h4M1526 129.5h4M1525 130.5h5M1525 131.5h5M1525 132.5h5M1525 133.5h5M1525 134.5h5M1525 135.5h5M1525 136.5h5M1526 137.5h4M1526 138.5h4M1526 139.5h4M1526 140.5h4M1526 141.5h4M1527 142.5h2M1527 143.5h2" fill="none" stroke="#f93600" stroke-width="1"/>
<path d="M1263 357.5h1M1261 367.5h1M1269 367.5h1M1273 367.5h1M1276 368.5h1M1263 371.5h1M1280 375.5h1M1282 379.5h1M1298 381.5h1M1321 383.5h1M1251 384.5h1M1280 384.5h1M1297 386.5h1M1308 386.5h1M1295 388.5h1M1287 389.5h1M1313 389.5h1M1293 390.5h1M1291 391.5h1M1303 391.5h1M1355 391.5h1M1248 392.5h1M1289 392.5h1M1295 392.5h1M1292 393.5h1M1325 394.5h1M1301 395.5h1M1319 395.5h2M1290 396.5h1M1294 397.5h1M1301 397.5h1M1295 398.5h1M1315 398.5h1M1328 398.5h1M1310 399.5h1M1314 399.5h1M1317 399.5h1M1299 400.5h1M1307 400.5h1M1311 400.5h1M1301 401.5h1M1306 401.5h1M1306 402.5h1M1300 403.5h1M1335 403.5h1M1337 403.5h1M1317 404.5h1M1325 404.5h1M1304 405.5h1M1323 405.5h1M1327 405.5h1M1303 406.5h1M1307 406.5h1M1315 406.5h1M1334 406.5h1M1365 406.5h1M1307 407.5h1M1337 407.5h1M1312 408.5h1M1317 408.5h1M1369 408.5h1M1306 409.5h1M1324 409.5h1M1310 410.5h1M1314 411.5h1M1332 411.5h1M1362 411.5h1M1307 412.5h2M1310 412.5h1M1328 412.5h1M1330 412.5h1M1326 413.5h1M1345 413.5h1M1305 414.5h1M1324 414.5h1M1300 415.5h1M1329 415.5h1M1306 416.5h1M1329 416.5h1M1301 417.5h1M1308 417.5h1M1320 417.5h1M1327 417.5h1M1303 418.5h1M1312 418.5h1M1341 418.5h2M1301 419.5h1M1313 419.5h1M1324 419.5h2M1349 420.5h1M1307 421.5h1M1315 422.5h1M1320 422.5h1M1338 422.5h1M1364 422.5h1M1328 423.5h1M1335 423.5h1M1339 423.5h1M1307 424.5h1M1321 424.5h2M1327 424.5h1M1331 424.5h1M1306 425.5h1M1344 425.5h1M1350 425.5h1M1315 426.5h1M1319 426.5h1M1326 426.5h1M1328 426.5h1M1341 426.5h2M1344 426.5h1M1308 428.5h1M1310 428.5h1M1335 428.5h1M1340 428.5h1M1312 429.5h1M1320 429.5h1M1322 429.5h1M1301 430.5h1M1306 430.5h1M1332 430.5h1M1304 431.5h1M1329 431.5h1M1298 432.5h1M1333 432.5h1M1337 432.5h1M1249 433.5h1M1298 433.5h1M1326 433.5h1M1329 433.5h1M1360 433.5h1M1364 433.5h1M1302 435.5h1M1313 435.5h1M1301 436.5h1M1308 436.5h1M1313 436.5h1M1317 436.5h1M1321 436.5h1M1323 436.5h1M1330 436.5h1M1351 436.5h1M1303 437.5h1M1297 439.5h1M1300 439.5h1M1323 439.5h1M1309 440.5h1M1315 440.5h2M1321 440.5h1M1341 440.5h1M1315 441.5h1M1324 443.5h1M1254 446.5h1M1297 446.5h1M1287 447.5h1M1307 447.5h1M1297 448.5h1M1310 449.5h1M1287 450.5h1M1282 451.5h1M1347 451.5h1M1281 456.5h2M1281 458.5h1M1275 464.5h1M1275 467.5h1M1352 469.5h1M1274 472.5h1M1361 472.5h1M1274 473.5h1M1361 474.5h1M1387 474.5h1M1362 476.5h1M1365 476.5h1M1377 478.5h1M1350 479.5h1M1382 480.5h1M1385 481.5h1M1254 483.5h1M1338 484.5h1M1344 484.5h1M1347 484.5h1M1389 484.5h1M1342 485.5h1M1342 487.5h1M1387 487.5h1M1254 489.5h1M1336 489.5h1M1393 489.5h1M1388 490.5h1M1393 490.5h1M1254 491.5h1M1343 492.5h1M1281 493.5h1M1337 494.5h1M1395 494.5h1M1390 495.5h1M1335 496.5h1M1342 496.5h1M1388 496.5h1M1277 497.5h1M1341 498.5h1M1390 498.5h1M1390 499.5h1M1386 500.5h1M1342 501.5h1M1387 501.5h1M1385 502.5h1M1353 503.5h1M1382 504.5h1M1374 506.5h1M1347 507.5h1M1357 507.5h1M1365 507.5h1M1370 507.5h1M1264 509.5h1M1368 510.5h1" fill="none" stroke="#000aff" stroke-width="1"/>
<path d="M1265 371.5h1M1269 371.5h1M1264 372.5h1M1266 372.5h1M1269 372.5h1M1262 373.5h1M1268 373.5h1M1264 374.5h1M1267 374.5h1M1269 374.5h1M1260 375.5h2M1268 375.5h2M1272 375.5h1M1258 376.5h1M1260 376.5h1M1270 376.5h3M1259 377.5h1M1273 378.5h1M1271 379.5h1M1273 379.5h1M1272 381.5h2M1257 382.5h1M1274 382.5h1M1275 383.5h1M1274 384.5h1M1275 386.5h4M1281 386.5h1M1275 387.5h2M1281 387.5h2M1256 388.5h1M1282 388.5h1M1278 390.5h1M1280 390.5h2M1283 390.5h1M1279 391.5h2M1283 391.5h1M1293 391.5h1M1284 392.5h1M1286 392.5h1M1281 393.5h1M1254 394.5h1M1280 394.5h1M1283 394.5h1M1286 394.5h2M1281 395.5h2M1284 395.5h1M1287 395.5h1M1283 396.5h3M1288 396.5h1M1280 397.5h1M1282 397.5h1M1285 397.5h1M1288 397.5h1M1293 397.5h1M1283 398.5h1M1285 398.5h2M1253 399.5h1M1287 399.5h1M1282 400.5h1M1285 400.5h5M1285 401.5h3M1289 401.5h1M1291 401.5h1M1295 401.5h1M1289 402.5h1M1292 402.5h2M1297 402.5h1M1292 403.5h1M1294 403.5h1M1297 403.5h1M1289 404.5h3M1293 404.5h1M1292 405.5h1M1300 405.5h1M1291 406.5h1M1294 406.5h2M1297 406.5h1M1300 406.5h1M1291 407.5h5M1292 408.5h3M1298 408.5h2M1303 408.5h1M1295 409.5h2M1299 409.5h1M1302 409.5h1M1305 409.5h1M1295 410.5h1M1297 410.5h2M1300 410.5h4M1293 411.5h1M1298 411.5h1M1293 412.5h1M1299 412.5h1M1301 412.5h1M1294 413.5h1M1296 413.5h1M1293 414.5h1M1325 414.5h1M1293 415.5h1M1296 415.5h2M1326 415.5h1M1294 416.5h2M1298 416.5h1M1304 416.5h2M1295 417.5h2M1252 418.5h1M1294 419.5h2M1297 419.5h1M1309 419.5h2M1296 420.5h1M1300 420.5h1M1311 421.5h1M1294 422.5h4M1299 422.5h1M1309 422.5h2M1252 423.5h1M1295 423.5h3M1300 423.5h1M1302 423.5h1M1311 423.5h1M1292 424.5h2M1295 424.5h1M1298 424.5h1M1301 424.5h1M1311 424.5h3M1252 425.5h1M1292 425.5h2M1296 425.5h1M1300 425.5h3M1252 426.5h1M1292 426.5h2M1295 426.5h1M1297 426.5h1M1301 426.5h1M1293 427.5h1M1307 427.5h1M1289 428.5h1M1292 428.5h3M1297 428.5h2M1307 428.5h1M1253 429.5h1M1289 429.5h1M1292 429.5h1M1253 430.5h1M1293 430.5h1M1288 431.5h1M1290 431.5h3M1296 431.5h1M1290 432.5h1M1296 432.5h1M1253 433.5h1M1289 433.5h1M1292 433.5h2M1291 434.5h2M1294 434.5h1M1288 435.5h1M1291 435.5h2M1291 436.5h2M1296 436.5h1M1288 437.5h2M1295 437.5h1M1254 438.5h1M1288 438.5h1M1292 438.5h2M1289 439.5h1M1292 439.5h1M1289 440.5h1M1254 441.5h1M1286 441.5h2M1290 441.5h1M1287 442.5h3M1291 442.5h1M1285 443.5h1M1287 443.5h1M1290 443.5h1M1282 444.5h2M1289 445.5h2M1256 446.5h1M1279 446.5h3M1288 446.5h1M1281 447.5h1M1280 448.5h1M1283 448.5h2M1278 449.5h1M1280 449.5h1M1286 449.5h1M1255 450.5h2M1284 450.5h2M1283 451.5h1M1277 452.5h2M1278 453.5h1M1277 454.5h1M1256 455.5h1M1276 455.5h1M1274 457.5h1M1279 457.5h1M1255 458.5h1M1257 458.5h1M1275 458.5h1M1278 458.5h1M1280 458.5h1M1273 459.5h1M1276 459.5h1M1258 460.5h1M1274 460.5h1M1277 460.5h1M1256 461.5h1M1258 461.5h1M1274 461.5h1M1276 461.5h1M1255 463.5h1M1255 464.5h1M1258 464.5h1M1258 465.5h1M1272 465.5h1M1258 466.5h1M1272 466.5h1M1256 467.5h1M1258 467.5h1M1274 467.5h1M1257 468.5h1M1274 469.5h1M1257 470.5h1M1259 470.5h1M1270 470.5h1M1273 470.5h1M1256 471.5h3M1260 471.5h1M1270 471.5h1M1258 472.5h3M1259 473.5h1M1260 474.5h1M1272 475.5h1M1261 476.5h1M1272 477.5h1M1274 477.5h1M1357 477.5h1M1366 477.5h3M1258 478.5h1M1358 478.5h1M1362 478.5h1M1259 479.5h1M1273 479.5h1M1355 479.5h4M1363 479.5h2M1366 479.5h1M1373 479.5h1M1377 479.5h1M1274 480.5h1M1351 480.5h1M1356 480.5h1M1358 480.5h1M1360 480.5h2M1365 480.5h2M1369 480.5h1M1371 480.5h3M1375 480.5h2M1258 481.5h1M1351 481.5h1M1358 481.5h1M1360 481.5h1M1364 481.5h1M1366 481.5h1M1369 481.5h1M1371 481.5h1M1258 482.5h1M1274 482.5h2M1356 482.5h2M1359 482.5h1M1361 482.5h1M1375 482.5h1M1377 482.5h2M1383 482.5h1M1274 483.5h1M1350 483.5h1M1353 483.5h2M1357 483.5h1M1376 483.5h1M1380 483.5h1M1382 483.5h1M1256 484.5h1M1275 484.5h1M1351 484.5h2M1377 484.5h1M1381 484.5h1M1257 485.5h1M1274 485.5h1M1379 485.5h2M1383 485.5h1M1258 486.5h1M1274 486.5h2M1277 486.5h1M1350 486.5h1M1381 486.5h3M1258 487.5h1M1275 487.5h1M1346 487.5h1M1349 487.5h1M1382 487.5h1M1384 487.5h1M1257 488.5h1M1382 488.5h1M1255 489.5h1M1344 489.5h1M1346 489.5h2M1382 489.5h1M1385 489.5h1M1276 490.5h1M1346 490.5h1M1383 490.5h2M1256 491.5h1M1275 491.5h1M1346 491.5h1M1382 491.5h3M1345 492.5h1M1348 492.5h1M1383 492.5h1M1258 493.5h1M1348 493.5h1M1383 493.5h2M1275 494.5h1M1347 494.5h1M1350 494.5h1M1382 494.5h1M1384 494.5h1M1387 494.5h3M1259 495.5h1M1274 495.5h1M1347 495.5h2M1351 495.5h1M1381 495.5h1M1384 495.5h1M1259 496.5h1M1275 496.5h1M1349 496.5h1M1351 496.5h3M1381 496.5h1M1383 496.5h1M1259 497.5h1M1273 497.5h1M1342 497.5h3M1348 497.5h1M1351 497.5h1M1353 497.5h1M1381 497.5h1M1383 497.5h1M1273 498.5h2M1346 498.5h1M1349 498.5h1M1353 498.5h3M1375 498.5h1M1377 498.5h1M1380 498.5h2M1260 499.5h3M1273 499.5h1M1275 499.5h1M1350 499.5h1M1352 499.5h2M1376 499.5h1M1381 499.5h1M1383 499.5h1M1260 500.5h2M1271 500.5h1M1275 500.5h1M1348 500.5h1M1351 500.5h1M1354 500.5h1M1357 500.5h1M1375 500.5h1M1377 500.5h1M1383 500.5h1M1261 501.5h1M1263 501.5h1M1270 501.5h1M1273 501.5h1M1352 501.5h1M1356 501.5h2M1374 501.5h1M1379 501.5h1M1381 501.5h1M1261 502.5h1M1270 502.5h1M1273 502.5h1M1354 502.5h1M1357 502.5h1M1363 502.5h3M1373 502.5h2M1380 502.5h1M1263 503.5h5M1269 503.5h1M1360 503.5h1M1367 503.5h2M1371 503.5h3M1376 503.5h3M1380 503.5h1M1263 504.5h1M1267 504.5h3M1358 504.5h2M1362 504.5h1M1370 504.5h1M1372 504.5h1M1380 504.5h1M1266 505.5h1M1269 505.5h1M1364 505.5h2M1367 505.5h1M1371 505.5h1M1265 506.5h1" fill="none" stroke="#001dff" stroke-width="1"/>
<path d="M1263 375.5h3M1262 376.5h2M1265 376.5h2M1268 376.5h2M1260 377.5h1M1262 377.5h2M1266 377.5h1M1270 377.5h1M1260 378.5h2M1268 378.5h3M1269 379.5h1M1259 380.5h2M1270 380.5h2M1259 381.5h1M1269 381.5h1M1270 382.5h3M1257 383.5h2M1270 383.5h1M1272 383.5h1M1258 384.5h1M1271 384.5h1M1258 385.5h1M1271 385.5h3M1272 386.5h2M1257 387.5h1M1273 387.5h1M1257 388.5h1M1273 388.5h2M1257 389.5h1M1274 389.5h1M1275 390.5h3M1256 391.5h1M1274 391.5h1M1276 391.5h1M1256 392.5h1M1276 392.5h4M1275 393.5h2M1278 393.5h1M1276 394.5h1M1278 394.5h1M1254 395.5h2M1277 395.5h2M1254 396.5h1M1278 396.5h2M1278 397.5h2M1254 398.5h1M1278 398.5h1M1278 399.5h2M1254 400.5h1M1278 400.5h4M1253 401.5h1M1281 401.5h2M1284 401.5h1M1254 402.5h1M1280 402.5h4M1281 403.5h5M1253 404.5h1M1281 404.5h3M1285 404.5h1M1253 405.5h2M1283 405.5h2M1286 405.5h5M1253 406.5h1M1284 406.5h2M1287 406.5h2M1281 407.5h4M1287 407.5h1M1289 407.5h2M1282 408.5h7M1253 409.5h1M1282 409.5h1M1284 409.5h6M1253 410.5h1M1282 410.5h4M1287 410.5h1M1289 410.5h2M1253 411.5h1M1283 411.5h2M1286 411.5h1M1288 411.5h2M1291 411.5h1M1284 412.5h1M1286 412.5h2M1289 412.5h1M1291 412.5h2M1253 413.5h1M1285 413.5h4M1290 413.5h3M1285 414.5h5M1291 414.5h1M1285 415.5h7M1253 416.5h1M1285 416.5h1M1287 416.5h1M1292 416.5h2M1285 417.5h4M1290 417.5h3M1285 418.5h3M1289 418.5h5M1253 419.5h1M1287 419.5h4M1292 419.5h1M1286 420.5h9M1286 421.5h1M1288 421.5h1M1290 421.5h5M1287 422.5h1M1289 422.5h3M1286 423.5h4M1291 423.5h2M1286 424.5h4M1253 425.5h1M1285 425.5h7M1284 426.5h1M1286 426.5h2M1289 426.5h1M1253 427.5h2M1284 427.5h2M1287 427.5h2M1253 428.5h1M1283 428.5h1M1286 428.5h1M1288 428.5h1M1282 429.5h3M1286 429.5h2M1281 430.5h5M1281 431.5h1M1284 431.5h3M1254 432.5h2M1280 432.5h3M1285 432.5h3M1280 433.5h2M1283 433.5h4M1288 433.5h1M1255 434.5h1M1280 434.5h4M1285 434.5h3M1255 435.5h1M1280 435.5h2M1283 435.5h4M1280 436.5h6M1287 436.5h1M1255 437.5h1M1280 437.5h2M1283 437.5h1M1286 437.5h2M1255 438.5h2M1281 438.5h1M1284 438.5h4M1280 439.5h6M1256 440.5h1M1279 440.5h5M1285 440.5h2M1256 441.5h1M1277 441.5h6M1284 441.5h2M1257 442.5h1M1276 442.5h4M1282 442.5h3M1257 443.5h1M1277 443.5h1M1279 443.5h6M1276 444.5h1M1279 444.5h2M1257 445.5h2M1276 445.5h2M1257 446.5h1M1275 446.5h1M1277 446.5h1M1275 447.5h1M1277 447.5h2M1258 448.5h1M1274 448.5h2M1277 448.5h1M1258 449.5h1M1274 449.5h1M1276 449.5h1M1258 450.5h2M1274 450.5h4M1258 451.5h2M1274 451.5h3M1258 452.5h3M1274 452.5h2M1273 453.5h1M1275 453.5h2M1258 454.5h3M1272 454.5h3M1259 455.5h2M1272 455.5h4M1270 456.5h2M1258 457.5h4M1270 457.5h1M1259 458.5h3M1270 458.5h4M1260 459.5h1M1262 459.5h1M1272 459.5h1M1259 460.5h4M1270 460.5h2M1260 461.5h3M1271 461.5h2M1260 462.5h1M1262 462.5h1M1271 462.5h2M1260 463.5h3M1270 463.5h3M1259 464.5h1M1261 464.5h2M1269 464.5h4M1259 465.5h4M1270 465.5h2M1259 466.5h4M1269 466.5h1M1271 466.5h1M1260 467.5h4M1268 467.5h4M1264 468.5h1M1267 468.5h3M1260 469.5h1M1262 469.5h1M1264 469.5h5M1261 470.5h3M1265 470.5h4M1262 471.5h2M1265 471.5h1M1267 471.5h3M1262 472.5h7M1270 472.5h1M1261 473.5h2M1264 473.5h4M1269 473.5h2M1261 474.5h1M1263 474.5h2M1267 474.5h1M1269 474.5h2M1261 475.5h2M1264 475.5h1M1269 475.5h3M1263 476.5h2M1269 476.5h3M1263 477.5h2M1269 477.5h3M1261 478.5h2M1269 478.5h2M1272 478.5h1M1260 479.5h4M1269 479.5h2M1259 480.5h1M1261 480.5h2M1269 480.5h2M1272 480.5h1M1259 481.5h1M1261 481.5h2M1271 481.5h1M1273 481.5h1M1260 482.5h2M1270 482.5h4M1363 482.5h2M1367 482.5h1M1370 482.5h3M1259 483.5h1M1261 483.5h1M1271 483.5h1M1361 483.5h2M1364 483.5h1M1366 483.5h1M1368 483.5h1M1370 483.5h1M1373 483.5h1M1260 484.5h2M1271 484.5h1M1273 484.5h1M1353 484.5h2M1356 484.5h1M1359 484.5h4M1364 484.5h1M1369 484.5h8M1259 485.5h1M1271 485.5h1M1273 485.5h1M1352 485.5h7M1360 485.5h5M1371 485.5h1M1373 485.5h4M1260 486.5h1M1352 486.5h11M1374 486.5h2M1377 486.5h4M1259 487.5h2M1272 487.5h1M1274 487.5h1M1352 487.5h2M1358 487.5h1M1375 487.5h1M1380 487.5h1M1259 488.5h2M1272 488.5h1M1274 488.5h1M1349 488.5h2M1353 488.5h6M1375 488.5h2M1379 488.5h3M1261 489.5h1M1272 489.5h3M1348 489.5h5M1354 489.5h2M1357 489.5h1M1376 489.5h2M1379 489.5h1M1381 489.5h1M1260 490.5h1M1272 490.5h3M1347 490.5h4M1352 490.5h1M1354 490.5h3M1378 490.5h2M1381 490.5h1M1260 491.5h1M1272 491.5h3M1348 491.5h2M1351 491.5h6M1375 491.5h5M1259 492.5h1M1271 492.5h3M1349 492.5h1M1352 492.5h1M1354 492.5h1M1374 492.5h2M1377 492.5h1M1379 492.5h3M1259 493.5h1M1261 493.5h1M1271 493.5h4M1350 493.5h1M1353 493.5h4M1374 493.5h4M1379 493.5h2M1259 494.5h1M1271 494.5h2M1351 494.5h3M1355 494.5h3M1373 494.5h4M1378 494.5h2M1260 495.5h3M1271 495.5h3M1354 495.5h5M1360 495.5h1M1373 495.5h1M1375 495.5h1M1377 495.5h3M1260 496.5h2M1263 496.5h2M1270 496.5h2M1356 496.5h1M1358 496.5h5M1371 496.5h5M1379 496.5h2M1262 497.5h2M1269 497.5h3M1356 497.5h2M1360 497.5h1M1362 497.5h2M1371 497.5h1M1373 497.5h2M1376 497.5h5M1264 498.5h5M1356 498.5h3M1360 498.5h2M1365 498.5h1M1370 498.5h4M1379 498.5h1M1263 499.5h9M1358 499.5h7M1366 499.5h3M1370 499.5h1M1372 499.5h2M1264 500.5h1M1268 500.5h1M1360 500.5h3M1364 500.5h1M1368 500.5h5M1264 501.5h1M1266 501.5h1M1269 501.5h1M1359 501.5h3M1363 501.5h3M1367 501.5h4M1373 501.5h1M1264 502.5h3M1359 502.5h2M1367 502.5h1M1369 502.5h3" fill="none" stroke="#0031ff" stroke-width="1"/>
<path d="M1264 377.5h2M1262 378.5h6M1261 379.5h8M1261 380.5h3M1266 380.5h3M1260 381.5h3M1267 381.5h2M1260 382.5h2M1268 382.5h1M1259 383.5h2M1268 383.5h2M1259 384.5h2M1269 384.5h1M1259 385.5h1M1269 385.5h2M1258 386.5h2M1270 386.5h1M1258 387.5h2M1271 387.5h1M1258 388.5h1M1271 388.5h2M1258 389.5h1M1271 389.5h2M1258 390.5h1M1272 390.5h2M1257 391.5h1M1272 391.5h2M1257 392.5h1M1273 392.5h2M1256 393.5h2M1273 393.5h2M1256 394.5h1M1274 394.5h2M1274 395.5h3M1255 396.5h2M1274 396.5h3M1255 397.5h1M1275 397.5h3M1255 398.5h1M1275 398.5h2M1255 399.5h1M1276 399.5h2M1255 400.5h1M1275 400.5h2M1255 401.5h1M1276 401.5h2M1255 402.5h1M1276 402.5h3M1255 403.5h1M1277 403.5h4M1255 404.5h1M1278 404.5h2M1255 405.5h1M1278 405.5h4M1254 406.5h1M1278 406.5h2M1281 406.5h1M1254 407.5h1M1278 407.5h3M1254 408.5h1M1278 408.5h3M1254 409.5h1M1278 409.5h3M1254 410.5h1M1277 410.5h3M1281 410.5h1M1254 411.5h1M1278 411.5h5M1254 412.5h1M1278 412.5h6M1254 413.5h1M1279 413.5h2M1283 413.5h1M1254 414.5h1M1281 414.5h3M1280 415.5h5M1254 416.5h1M1280 416.5h1M1282 416.5h3M1281 417.5h4M1281 418.5h1M1283 418.5h2M1254 419.5h1M1281 419.5h4M1254 420.5h1M1282 420.5h3M1281 421.5h4M1254 422.5h2M1281 422.5h5M1255 423.5h1M1279 423.5h7M1255 424.5h1M1279 424.5h4M1284 424.5h1M1255 425.5h1M1279 425.5h4M1255 426.5h1M1279 426.5h5M1255 427.5h1M1279 427.5h4M1278 428.5h4M1255 429.5h1M1278 429.5h4M1255 430.5h1M1278 430.5h1M1280 430.5h1M1255 431.5h2M1278 431.5h3M1256 432.5h1M1277 432.5h3M1256 433.5h1M1277 433.5h3M1256 434.5h1M1277 434.5h3M1257 435.5h1M1277 435.5h2M1257 436.5h1M1277 436.5h3M1276 437.5h4M1257 438.5h1M1275 438.5h5M1257 439.5h2M1274 439.5h2M1277 439.5h3M1257 440.5h2M1273 440.5h6M1257 441.5h2M1273 441.5h3M1258 442.5h1M1258 443.5h2M1273 443.5h3M1258 444.5h2M1272 444.5h4M1259 445.5h1M1272 445.5h4M1259 446.5h1M1272 446.5h3M1259 447.5h2M1271 447.5h2M1274 447.5h1M1259 448.5h2M1270 448.5h3M1259 449.5h3M1270 449.5h4M1260 450.5h2M1269 450.5h4M1260 451.5h1M1262 451.5h1M1269 451.5h5M1261 452.5h3M1268 452.5h5M1261 453.5h1M1263 453.5h1M1268 453.5h5M1261 454.5h5M1267 454.5h4M1261 455.5h10M1261 456.5h9M1264 457.5h6M1262 458.5h8M1263 459.5h7M1263 460.5h1M1265 460.5h5M1263 461.5h5M1269 461.5h1M1263 462.5h5M1269 462.5h1M1263 463.5h7M1263 464.5h6M1264 465.5h5M1263 466.5h6M1264 467.5h2M1267 467.5h1M1265 468.5h2M1265 474.5h2M1265 475.5h1M1267 475.5h1M1265 476.5h3M1265 477.5h4M1265 478.5h4M1264 479.5h4M1263 480.5h5M1263 481.5h1M1265 481.5h3M1269 481.5h1M1262 482.5h1M1264 482.5h6M1262 483.5h8M1262 484.5h8M1261 485.5h8M1270 485.5h1M1365 485.5h5M1261 486.5h11M1363 486.5h9M1261 487.5h11M1360 487.5h9M1370 487.5h5M1261 488.5h6M1268 488.5h4M1359 488.5h5M1365 488.5h10M1262 489.5h6M1269 489.5h3M1358 489.5h3M1362 489.5h1M1364 489.5h2M1367 489.5h2M1370 489.5h6M1261 490.5h9M1271 490.5h1M1358 490.5h2M1361 490.5h12M1374 490.5h2M1261 491.5h6M1268 491.5h4M1358 491.5h1M1360 491.5h10M1371 491.5h2M1374 491.5h1M1261 492.5h10M1356 492.5h4M1361 492.5h13M1262 493.5h8M1357 493.5h17M1264 494.5h4M1269 494.5h2M1359 494.5h2M1362 494.5h11M1264 495.5h2M1267 495.5h4M1361 495.5h9M1371 495.5h1M1265 496.5h5M1363 496.5h8M1266 497.5h3M1365 497.5h1M1367 497.5h4M1366 498.5h3" fill="none" stroke="#004eff" stroke-width="1"/>
<path d="M1264 380.5h2M1263 381.5h4M1263 382.5h5M1261 383.5h7M1261 384.5h4M1266 384.5h2M1260 385.5h4M1267 385.5h2M1260 386.5h2M1268 386.5h2M1260 387.5h1M1269 387.5h1M1260 388.5h1M1269 388.5h2M1259 389.5h1M1270 389.5h1M1259 390.5h1M1270 390.5h2M1258 391.5h2M1271 391.5h1M1258 392.5h1M1271 392.5h2M1258 393.5h1M1271 393.5h2M1257 394.5h2M1257 395.5h1M1272 395.5h2M1257 396.5h1M1272 396.5h2M1256 397.5h1M1272 397.5h3M1256 398.5h1M1272 398.5h3M1256 399.5h1M1273 399.5h2M1256 400.5h1M1273 400.5h2M1256 401.5h1M1274 401.5h2M1256 402.5h1M1274 402.5h2M1274 403.5h3M1256 404.5h1M1274 404.5h4M1256 405.5h1M1275 405.5h3M1255 406.5h1M1275 406.5h2M1255 407.5h1M1275 407.5h3M1255 408.5h1M1275 408.5h3M1255 409.5h1M1275 409.5h3M1255 410.5h1M1275 410.5h2M1255 411.5h1M1275 411.5h1M1255 412.5h1M1275 412.5h3M1275 413.5h4M1255 414.5h1M1275 414.5h5M1255 415.5h1M1275 415.5h5M1255 416.5h1M1276 416.5h4M1255 417.5h1M1276 417.5h5M1255 418.5h1M1276 418.5h5M1255 419.5h1M1277 419.5h4M1255 420.5h1M1277 420.5h5M1255 421.5h1M1277 421.5h2M1280 421.5h1M1277 422.5h4M1256 423.5h1M1276 423.5h3M1256 424.5h1M1276 424.5h3M1256 425.5h1M1276 425.5h3M1256 426.5h1M1276 426.5h3M1256 427.5h1M1276 427.5h3M1256 428.5h1M1276 428.5h2M1256 429.5h1M1275 429.5h3M1256 430.5h1M1275 430.5h3M1257 431.5h1M1274 431.5h4M1257 432.5h1M1274 432.5h3M1257 433.5h1M1273 433.5h4M1257 434.5h1M1273 434.5h4M1258 435.5h1M1272 435.5h5M1258 436.5h1M1272 436.5h5M1258 437.5h1M1272 437.5h4M1258 438.5h2M1272 438.5h3M1259 439.5h1M1271 439.5h3M1259 440.5h1M1271 440.5h1M1259 441.5h2M1271 441.5h2M1259 442.5h2M1271 442.5h2M1260 443.5h1M1270 443.5h3M1260 444.5h2M1270 444.5h2M1260 445.5h2M1269 445.5h3M1261 446.5h2M1268 446.5h4M1261 447.5h2M1267 447.5h4M1261 448.5h1M1263 448.5h7M1262 449.5h8M1262 450.5h7M1263 451.5h6M1264 452.5h4M1264 453.5h4" fill="none" stroke="#007aff" stroke-width="1"/>
<path d="M1265 384.5h1M1264 385.5h3M1262 386.5h6M1261 387.5h8M1261 388.5h2M1267 388.5h2M1260 389.5h2M1268 389.5h2M1260 390.5h1M1268 390.5h2M1260 391.5h1M1269 391.5h2M1259 392.5h1M1270 392.5h1M1259 393.5h1M1270 393.5h1M1259 394.5h1M1270 394.5h2M1258 395.5h1M1271 395.5h1M1258 396.5h1M1271 396.5h1M1257 397.5h2M1271 397.5h1M1257 398.5h1M1271 398.5h1M1257 399.5h1M1271 399.5h2M1257 400.5h1M1272 400.5h1M1257 401.5h1M1272 401.5h2M1257 402.5h1M1272 402.5h2M1257 403.5h1M1273 403.5h1M1257 404.5h1M1273 404.5h1M1257 405.5h1M1273 405.5h2M1256 406.5h1M1273 406.5h2M1256 407.5h1M1273 407.5h2M1256 408.5h1M1274 408.5h1M1256 409.5h1M1256 410.5h1M1274 410.5h1M1256 411.5h1M1274 411.5h1M1256 412.5h1M1274 412.5h1M1256 413.5h1M1274 413.5h1M1256 414.5h1M1274 414.5h1M1256 415.5h1M1274 415.5h1M1256 416.5h1M1274 416.5h2M1256 417.5h1M1274 417.5h2M1256 418.5h1M1274 418.5h2M1256 419.5h1M1274 419.5h3M1256 420.5h1M1275 420.5h2M1256 421.5h1M1275 421.5h2M1256 422.5h1M1274 422.5h3M1274 423.5h2M1274 424.5h2M1257 425.5h1M1273 425.5h3M1257 426.5h1M1273 426.5h3M1257 427.5h1M1273 427.5h3M1257 428.5h1M1273 428.5h3M1257 429.5h1M1273 429.5h2M1257 430.5h1M1273 430.5h2M1258 431.5h1M1272 431.5h2M1258 432.5h1M1272 432.5h2M1258 433.5h1M1271 433.5h2M1258 434.5h2M1271 434.5h2M1270 435.5h2M1259 436.5h1M1270 436.5h2M1259 437.5h2M1270 437.5h2M1260 438.5h1M1270 438.5h2M1260 439.5h1M1270 439.5h1M1260 440.5h2M1270 440.5h1M1261 441.5h1M1269 441.5h2M1261 442.5h2M1269 442.5h2M1261 443.5h3M1268 443.5h2M1262 444.5h3M1267 444.5h3M1262 445.5h7M1263 446.5h5M1263 447.5h4" fill="none" stroke="#00a6ff" stroke-width="1"/>
<path d="M1263 388.5h4M1262 389.5h6M1261 390.5h2M1266 390.5h2M1261 391.5h1M1267 391.5h2M1260 392.5h2M1268 392.5h2M1260 393.5h2M1269 393.5h1M1260 394.5h1M1269 394.5h1M1259 395.5h2M1269 395.5h2M1259 396.5h1M1269 396.5h2M1259 397.5h1M1270 397.5h1M1258 398.5h1M1270 398.5h1M1258 399.5h1M1270 399.5h1M1258 400.5h1M1270 400.5h2M1258 401.5h1M1271 401.5h1M1258 402.5h1M1271 402.5h1M1258 403.5h1M1271 403.5h2M1258 404.5h1M1271 404.5h2M1272 405.5h1M1257 406.5h1M1272 406.5h1M1257 407.5h1M1272 407.5h1M1257 408.5h1M1272 408.5h2M1257 409.5h1M1272 409.5h2M1257 410.5h1M1272 410.5h2M1257 411.5h1M1272 411.5h2M1257 412.5h1M1272 412.5h2M1257 413.5h1M1272 413.5h2M1257 414.5h1M1272 414.5h2M1257 415.5h1M1272 415.5h2M1257 416.5h1M1272 416.5h2M1257 417.5h1M1273 417.5h1M1257 418.5h1M1273 418.5h1M1257 419.5h1M1273 419.5h1M1257 420.5h1M1273 420.5h2M1257 421.5h1M1273 421.5h2M1257 422.5h1M1272 422.5h2M1257 423.5h1M1272 423.5h2M1257 424.5h1M1272 424.5h2M1272 425.5h1M1272 426.5h1M1258 427.5h1M1272 427.5h1M1258 428.5h1M1272 428.5h1M1258 429.5h1M1271 429.5h2M1258 430.5h1M1271 430.5h2M1259 431.5h1M1271 431.5h1M1259 432.5h1M1271 432.5h1M1259 433.5h1M1270 433.5h1M1260 434.5h1M1270 434.5h1M1260 435.5h1M1269 435.5h1M1260 436.5h1M1268 436.5h2M1261 437.5h1M1268 437.5h2M1261 438.5h1M1268 438.5h2M1261 439.5h2M1268 439.5h2M1262 440.5h2M1267 440.5h3M1262 441.5h7M1263 442.5h6M1264 443.5h4M1265 444.5h2" fill="none" stroke="#00cdec" stroke-width="1"/>
<path d="M1263 390.5h3M1262 391.5h5M1262 392.5h6M1262 393.5h2M1266 393.5h3M1261 394.5h2M1267 394.5h2M1261 395.5h1M1268 395.5h1M1260 396.5h2M1268 396.5h1M1260 397.5h1M1268 397.5h2M1259 398.5h1M1269 398.5h1M1259 399.5h1M1269 399.5h1M1259 400.5h1M1269 400.5h1M1259 401.5h1M1270 401.5h1M1259 402.5h1M1270 402.5h1M1259 403.5h1M1270 403.5h1M1270 404.5h1M1258 405.5h1M1271 405.5h1M1258 406.5h1M1271 406.5h1M1258 407.5h1M1271 407.5h1M1258 408.5h1M1271 408.5h1M1258 409.5h1M1271 409.5h1M1258 410.5h1M1271 410.5h1M1258 411.5h1M1271 411.5h1M1271 412.5h1M1271 413.5h1M1271 414.5h1M1271 415.5h1M1271 416.5h1M1271 417.5h2M1258 418.5h1M1272 418.5h1M1258 419.5h1M1272 419.5h1M1258 420.5h1M1272 420.5h1M1258 421.5h1M1271 421.5h2M1258 422.5h1M1271 422.5h1M1258 423.5h1M1271 423.5h1M1258 424.5h1M1271 424.5h1M1258 425.5h1M1271 425.5h1M1258 426.5h1M1271 426.5h1M1270 427.5h2M1259 428.5h1M1270 428.5h2M1259 429.5h1M1270 429.5h1M1259 430.5h1M1270 430.5h1M1260 431.5h1M1270 431.5h1M1260 432.5h1M1269 432.5h2M1260 433.5h2M1269 433.5h1M1261 434.5h1M1268 434.5h2M1261 435.5h2M1267 435.5h2M1261 436.5h2M1266 436.5h2M1262 437.5h6M1262 438.5h6M1263 439.5h5M1264 440.5h3" fill="none" stroke="#00eac8" stroke-width="1"/>
<path d="M1264 393.5h2M1263 394.5h4M1262 395.5h6M1262 396.5h2M1266 396.5h2M1261 397.5h2M1267 397.5h1M1260 398.5h2M1267 398.5h2M1260 399.5h1M1268 399.5h1M1260 400.5h1M1268 400.5h1M1260 401.5h1M1268 401.5h2M1260 402.5h1M1269 402.5h1M1269 403.5h1M1259 404.5h1M1269 404.5h1M1259 405.5h1M1270 405.5h1M1259 406.5h1M1270 406.5h1M1259 407.5h1M1270 407.5h1M1270 408.5h1M1270 409.5h1M1270 410.5h1M1270 411.5h1M1258 412.5h1M1270 412.5h1M1258 413.5h1M1270 413.5h1M1258 414.5h1M1270 414.5h1M1258 415.5h1M1270 415.5h1M1258 416.5h1M1270 416.5h1M1258 417.5h1M1271 418.5h1M1271 419.5h1M1271 420.5h1M1270 421.5h1M1270 422.5h1M1259 423.5h1M1270 423.5h1M1259 424.5h1M1270 424.5h1M1259 425.5h1M1269 425.5h2M1259 426.5h1M1269 426.5h2M1259 427.5h1M1269 427.5h1M1260 428.5h1M1269 428.5h1M1260 429.5h1M1269 429.5h1M1260 430.5h1M1269 430.5h1M1261 431.5h1M1268 431.5h2M1261 432.5h2M1268 432.5h1M1262 433.5h1M1267 433.5h2M1262 434.5h6M1263 435.5h4M1263 436.5h3" fill="none" stroke="#00e46f" stroke-width="1"/>
<path d="M1264 396.5h2M1263 397.5h4M1262 398.5h5M1261 399.5h2M1266 399.5h2M1261 400.5h1M1266 400.5h2M1261 401.5h1M1267 401.5h1M1268 402.5h1M1260 403.5h1M1268 403.5h1M1260 404.5h1M1268 404.5h1M1260 405.5h1M1269 405.5h1M1260 406.5h1M1269 406.5h1M1269 407.5h1M1259 408.5h1M1269 408.5h1M1259 409.5h1M1269 409.5h1M1259 410.5h1M1269 410.5h1M1259 411.5h1M1269 411.5h1M1259 412.5h1M1269 412.5h1M1259 413.5h1M1269 413.5h1M1259 414.5h1M1269 414.5h1M1259 415.5h1M1259 416.5h1M1259 417.5h1M1270 417.5h1M1259 418.5h1M1270 418.5h1M1259 419.5h1M1270 419.5h1M1259 420.5h1M1270 420.5h1M1259 421.5h1M1269 421.5h1M1259 422.5h1M1269 422.5h1M1269 423.5h1M1260 424.5h1M1269 424.5h1M1260 425.5h1M1268 425.5h1M1260 426.5h1M1268 426.5h1M1260 427.5h2M1268 427.5h1M1261 428.5h1M1268 428.5h1M1261 429.5h1M1268 429.5h1M1261 430.5h2M1267 430.5h2M1262 431.5h2M1266 431.5h2M1263 432.5h5M1263 433.5h4" fill="none" stroke="#37e42f" stroke-width="1"/>
<path d="M1263 399.5h3M1262 400.5h4M1262 401.5h5M1261 402.5h2M1266 402.5h2M1261 403.5h1M1267 403.5h1M1261 404.5h1M1267 404.5h1M1261 405.5h1M1268 405.5h1M1268 406.5h1M1260 407.5h1M1268 407.5h1M1260 408.5h1M1268 408.5h1M1260 409.5h1M1268 409.5h1M1260 410.5h1M1268 410.5h1M1260 411.5h1M1260 412.5h1M1260 413.5h1M1260 414.5h1M1260 415.5h1M1269 415.5h1M1260 416.5h1M1269 416.5h1M1260 417.5h1M1269 417.5h1M1260 418.5h1M1269 418.5h1M1260 419.5h1M1269 419.5h1M1260 420.5h1M1268 420.5h2M1260 421.5h1M1268 421.5h1M1260 422.5h1M1268 422.5h1M1260 423.5h1M1268 423.5h1M1261 424.5h1M1267 424.5h2M1261 425.5h1M1267 425.5h1M1261 426.5h2M1267 426.5h1M1262 427.5h1M1267 427.5h1M1262 428.5h2M1266 428.5h2M1262 429.5h6M1263 430.5h4M1264 431.5h2" fill="none" stroke="#9cea06" stroke-width="1"/>
<path d="M1263 402.5h3M1262 403.5h5M1262 404.5h2M1265 404.5h2M1262 405.5h1M1266 405.5h2M1261 406.5h1M1267 406.5h1M1261 407.5h1M1267 407.5h1M1261 408.5h1M1267 408.5h1M1261 409.5h1M1267 409.5h1M1261 410.5h1M1261 411.5h1M1268 411.5h1M1261 412.5h1M1268 412.5h1M1268 413.5h1M1268 414.5h1M1268 415.5h1M1261 416.5h1M1268 416.5h1M1261 417.5h1M1268 417.5h1M1261 418.5h1M1268 418.5h1M1261 419.5h1M1268 419.5h1M1261 420.5h1M1267 420.5h1M1261 421.5h1M1267 421.5h1M1261 422.5h2M1266 422.5h2M1261 423.5h2M1266 423.5h2M1262 424.5h2M1265 424.5h2M1262 425.5h5M1263 426.5h4M1263 427.5h4M1264 428.5h2" fill="none" stroke="#ded600" stroke-width="1"/>
<path d="M1264 404.5h1M1263 405.5h3M1262 406.5h5M1262 407.5h5M1262 408.5h2M1265 408.5h2M1262 409.5h1M1266 409.5h1M1262 410.5h1M1266 410.5h2M1262 411.5h1M1267 411.5h1M1262 412.5h1M1267 412.5h1M1261 413.5h2M1267 413.5h1M1261 414.5h2M1267 414.5h1M1261 415.5h2M1267 415.5h1M1262 416.5h1M1267 416.5h1M1262 417.5h1M1267 417.5h1M1262 418.5h1M1267 418.5h1M1262 419.5h1M1266 419.5h2M1262 420.5h2M1265 420.5h2M1262 421.5h5M1263 422.5h3M1263 423.5h3M1264 424.5h1" fill="none" stroke="#ff9b00" stroke-width="1"/>
<path d="M1264 408.5h1M1263 409.5h3M1263 410.5h3M1263 411.5h4M1263 412.5h4M1263 413.5h4M1263 414.5h4M1263 415.5h4M1263 416.5h4M1263 417.5h4M1263 418.5h4M1263 419.5h3M1264 420.5h1" fill="none" stroke="#f93600" stroke-width="1"/>
<path d="M1535 366.5h1M1541 368.5h1M1519 374.5h1M1572 379.5h1M1569 381.5h1M1573 382.5h1M1620 383.5h1M1617 385.5h1M1515 387.5h1M1575 387.5h1M1543 388.5h1M1569 388.5h1M1577 388.5h1M1562 389.5h1M1567 389.5h1M1617 389.5h1M1546 391.5h1M1576 391.5h1M1585 391.5h1M1564 392.5h1M1576 392.5h1M1581 392.5h1M1602 393.5h1M1622 393.5h1M1569 394.5h1M1576 394.5h1M1563 395.5h1M1593 395.5h1M1580 396.5h1M1556 397.5h1M1571 398.5h1M1597 398.5h1M1610 398.5h1M1578 399.5h1M1582 399.5h1M1581 401.5h1M1584 401.5h1M1588 401.5h1M1597 401.5h1M1574 402.5h1M1589 402.5h1M1609 402.5h1M1613 402.5h2M1622 403.5h1M1646 403.5h1M1603 404.5h1M1563 405.5h1M1567 405.5h1M1574 405.5h1M1589 405.5h1M1598 405.5h1M1635 405.5h1M1559 406.5h1M1574 406.5h1M1586 406.5h1M1611 406.5h1M1621 406.5h1M1581 407.5h1M1615 407.5h1M1651 407.5h1M1568 408.5h1M1614 409.5h1M1626 409.5h1M1628 409.5h1M1642 409.5h1M1562 410.5h1M1587 410.5h2M1592 410.5h1M1612 410.5h1M1636 410.5h1M1566 411.5h1M1563 412.5h1M1570 412.5h1M1565 413.5h1M1572 413.5h1M1578 414.5h1M1595 414.5h2M1618 414.5h1M1560 415.5h1M1590 415.5h1M1603 415.5h1M1653 415.5h1M1579 416.5h1M1621 416.5h1M1569 417.5h1M1607 417.5h1M1642 417.5h1M1574 418.5h1M1576 418.5h1M1592 418.5h1M1632 418.5h1M1565 419.5h1M1601 419.5h1M1607 419.5h1M1562 420.5h1M1576 420.5h1M1587 420.5h1M1591 420.5h1M1624 420.5h1M1566 421.5h1M1583 421.5h1M1593 421.5h1M1597 421.5h1M1624 421.5h1M1635 421.5h1M1572 422.5h1M1580 422.5h1M1602 422.5h1M1568 423.5h1M1577 423.5h1M1586 423.5h1M1608 423.5h1M1592 424.5h1M1661 424.5h1M1570 425.5h1M1583 425.5h1M1590 425.5h1M1594 425.5h1M1644 425.5h1M1572 426.5h1M1603 426.5h1M1611 426.5h1M1620 426.5h1M1565 427.5h2M1571 427.5h1M1595 427.5h1M1576 428.5h1M1592 428.5h1M1612 428.5h1M1617 428.5h1M1657 428.5h1M1562 429.5h1M1594 429.5h1M1613 429.5h1M1615 429.5h1M1572 430.5h1M1576 430.5h1M1599 431.5h1M1566 432.5h1M1580 432.5h1M1592 432.5h1M1570 433.5h1M1572 433.5h1M1585 433.5h1M1562 434.5h1M1578 434.5h1M1598 434.5h1M1567 435.5h1M1587 435.5h1M1592 435.5h1M1603 436.5h1M1598 437.5h1M1607 437.5h1M1574 438.5h1M1578 438.5h1M1581 438.5h1M1585 438.5h1M1593 438.5h1M1613 438.5h1M1617 438.5h1M1567 439.5h1M1574 439.5h1M1608 439.5h1M1653 439.5h1M1585 440.5h1M1590 440.5h1M1562 441.5h1M1585 441.5h1M1599 442.5h1M1570 443.5h1M1580 443.5h1M1556 444.5h1M1588 444.5h1M1597 444.5h1M1576 445.5h2M1587 445.5h1M1560 446.5h1M1573 446.5h1M1584 446.5h1M1586 446.5h1M1604 446.5h1M1579 447.5h2M1555 449.5h1M1576 450.5h1M1601 450.5h1M1632 450.5h1M1576 451.5h1M1548 455.5h1M1578 455.5h1M1574 457.5h1M1512 460.5h1M1545 460.5h1M1539 462.5h1M1542 462.5h1M1584 475.5h1M1591 477.5h1M1612 477.5h1M1626 478.5h1M1592 479.5h1M1584 480.5h1M1539 483.5h1M1658 485.5h1M1677 485.5h1M1541 486.5h1M1653 486.5h1M1561 487.5h1M1566 487.5h1M1662 495.5h1M1560 497.5h1M1563 497.5h1M1553 498.5h1M1561 500.5h1M1562 502.5h1M1553 503.5h1M1560 506.5h1M1523 507.5h1M1539 507.5h1M1562 508.5h2M1654 508.5h1M1517 509.5h1M1660 509.5h1M1601 514.5h1" fill="none" stroke="#000aff" stroke-width="1"/>
<path d="M1529 375.5h1M1527 376.5h1M1532 376.5h1M1526 377.5h1M1523 378.5h1M1530 378.5h1M1533 378.5h2M1531 379.5h1M1534 380.5h1M1521 381.5h1M1533 381.5h1M1520 382.5h2M1533 382.5h1M1536 384.5h1M1536 386.5h1M1539 387.5h1M1539 388.5h1M1542 389.5h1M1538 390.5h1M1542 390.5h1M1540 391.5h2M1544 391.5h1M1540 392.5h1M1540 393.5h1M1544 394.5h2M1542 395.5h1M1544 395.5h1M1549 395.5h1M1551 395.5h1M1541 397.5h1M1549 397.5h3M1552 398.5h1M1543 399.5h1M1548 399.5h1M1573 399.5h3M1543 400.5h1M1546 400.5h1M1549 400.5h1M1554 400.5h1M1556 400.5h1M1558 400.5h2M1572 400.5h1M1578 400.5h1M1515 401.5h1M1554 401.5h1M1558 401.5h1M1545 402.5h1M1547 402.5h1M1558 402.5h1M1577 402.5h1M1514 403.5h1M1548 403.5h1M1550 403.5h1M1554 403.5h1M1514 404.5h1M1546 404.5h2M1550 404.5h1M1555 404.5h1M1559 404.5h1M1576 404.5h1M1578 404.5h1M1514 405.5h1M1549 405.5h1M1555 405.5h1M1579 405.5h1M1547 406.5h1M1552 406.5h1M1564 406.5h1M1550 407.5h2M1555 407.5h1M1578 407.5h1M1551 408.5h2M1551 409.5h1M1553 409.5h2M1564 409.5h1M1566 409.5h1M1576 409.5h1M1579 409.5h2M1553 410.5h1M1555 410.5h1M1573 410.5h2M1580 410.5h1M1553 411.5h3M1579 411.5h1M1551 412.5h1M1557 412.5h2M1571 412.5h1M1575 412.5h2M1556 413.5h1M1556 415.5h1M1583 415.5h2M1587 416.5h1M1514 417.5h1M1555 417.5h1M1584 417.5h1M1588 417.5h1M1555 418.5h1M1559 418.5h1M1586 418.5h2M1555 419.5h1M1558 419.5h1M1560 419.5h1M1571 419.5h2M1578 419.5h1M1580 419.5h1M1582 419.5h1M1559 420.5h1M1514 421.5h1M1555 421.5h2M1558 421.5h2M1570 421.5h1M1555 422.5h1M1557 422.5h1M1592 422.5h1M1514 423.5h1M1557 423.5h2M1554 424.5h1M1556 425.5h1M1558 425.5h1M1554 426.5h1M1558 426.5h1M1553 427.5h1M1584 427.5h1M1514 428.5h1M1553 428.5h2M1558 428.5h2M1574 428.5h1M1584 428.5h4M1514 429.5h1M1554 429.5h1M1575 429.5h1M1554 430.5h1M1556 430.5h2M1586 430.5h1M1514 431.5h1M1554 431.5h2M1514 432.5h1M1514 433.5h1M1554 433.5h1M1553 434.5h2M1556 435.5h1M1585 435.5h2M1554 436.5h2M1514 437.5h1M1553 437.5h3M1557 437.5h1M1576 437.5h1M1576 438.5h1M1515 439.5h1M1550 439.5h2M1554 439.5h1M1550 440.5h1M1555 440.5h1M1550 441.5h1M1553 441.5h1M1550 442.5h2M1549 443.5h1M1549 445.5h1M1516 446.5h1M1547 446.5h1M1549 446.5h1M1549 448.5h1M1517 449.5h1M1543 449.5h1M1545 449.5h2M1551 449.5h1M1550 450.5h2M1543 451.5h4M1548 451.5h1M1518 453.5h1M1541 453.5h1M1548 453.5h1M1541 455.5h1M1543 455.5h2M1543 456.5h1M1539 457.5h2M1518 459.5h1M1540 459.5h1M1542 459.5h1M1519 460.5h1M1518 462.5h1M1537 462.5h1M1519 463.5h1M1518 465.5h1M1534 466.5h1M1518 467.5h1M1517 470.5h1M1520 470.5h1M1535 470.5h3M1517 471.5h1M1534 471.5h1M1536 471.5h1M1533 472.5h1M1535 472.5h1M1518 474.5h2M1518 475.5h1M1520 475.5h1M1534 475.5h1M1521 476.5h1M1533 477.5h1M1518 478.5h1M1521 478.5h1M1518 479.5h1M1521 479.5h1M1535 479.5h2M1518 480.5h1M1535 480.5h2M1518 481.5h1M1537 481.5h1M1518 482.5h1M1521 482.5h1M1537 482.5h1M1611 482.5h1M1617 482.5h1M1518 483.5h1M1521 483.5h1M1534 483.5h1M1588 483.5h1M1592 483.5h1M1595 483.5h1M1599 483.5h1M1601 483.5h2M1604 483.5h1M1613 483.5h1M1618 483.5h1M1620 483.5h2M1625 483.5h1M1519 484.5h1M1537 484.5h1M1591 484.5h2M1594 484.5h1M1614 484.5h1M1617 484.5h1M1621 484.5h2M1625 484.5h1M1628 484.5h2M1637 484.5h1M1584 485.5h1M1588 485.5h2M1633 485.5h1M1637 485.5h1M1639 485.5h1M1579 486.5h1M1581 486.5h1M1638 486.5h2M1519 487.5h1M1536 487.5h2M1573 487.5h1M1575 487.5h1M1640 487.5h1M1643 487.5h3M1647 487.5h2M1650 487.5h1M1536 488.5h1M1575 488.5h1M1650 488.5h1M1652 488.5h1M1518 489.5h1M1569 489.5h1M1572 489.5h2M1650 489.5h1M1569 490.5h1M1571 490.5h1M1652 490.5h1M1656 490.5h1M1518 491.5h1M1537 491.5h1M1653 491.5h1M1656 491.5h1M1658 491.5h1M1518 492.5h1M1537 492.5h1M1567 492.5h1M1659 492.5h1M1518 493.5h1M1567 493.5h1M1659 493.5h1M1518 494.5h2M1538 494.5h1M1564 494.5h2M1567 494.5h1M1655 494.5h1M1658 494.5h1M1536 495.5h1M1539 495.5h1M1657 495.5h3M1566 496.5h1M1658 496.5h2M1519 497.5h2M1658 497.5h1M1536 498.5h1M1566 498.5h1M1659 498.5h2M1518 499.5h2M1536 499.5h1M1660 499.5h2M1518 500.5h1M1521 500.5h1M1536 500.5h1M1535 501.5h1M1658 501.5h3M1534 502.5h2M1566 502.5h1M1657 502.5h1M1659 502.5h1M1522 503.5h1M1566 503.5h1M1521 504.5h1M1534 504.5h1M1655 504.5h1M1521 505.5h1M1525 505.5h2M1531 505.5h1M1565 505.5h2M1568 505.5h1M1572 505.5h2M1648 505.5h3M1652 505.5h2M1655 505.5h1M1530 506.5h1M1533 506.5h1M1570 506.5h2M1650 506.5h1M1526 507.5h1M1529 507.5h2M1571 507.5h1M1573 507.5h1M1576 507.5h1M1642 507.5h1M1644 507.5h1M1651 507.5h1M1528 508.5h1M1530 508.5h1M1577 508.5h1M1580 508.5h1M1582 508.5h1M1637 508.5h1M1645 508.5h1M1529 509.5h1M1578 509.5h1M1584 509.5h2M1590 509.5h2M1594 509.5h1M1596 509.5h1M1639 509.5h1M1588 510.5h2M1606 510.5h1M1622 510.5h1M1626 510.5h1M1628 510.5h1M1633 510.5h2M1600 511.5h2M1603 511.5h2M1613 511.5h1M1616 511.5h3M1622 511.5h1M1626 511.5h1M1613 512.5h1" fill="none" stroke="#001dff" stroke-width="1"/>
<path d="M1525 378.5h2M1528 378.5h1M1524 379.5h1M1526 379.5h2M1529 379.5h2M1523 380.5h3M1531 380.5h1M1524 381.5h1M1529 381.5h1M1531 381.5h1M1523 382.5h1M1521 383.5h1M1523 383.5h1M1531 383.5h3M1521 384.5h2M1532 384.5h1M1534 384.5h1M1520 385.5h2M1532 385.5h2M1520 386.5h1M1532 386.5h3M1519 387.5h1M1533 387.5h2M1536 387.5h1M1519 388.5h1M1533 388.5h2M1536 388.5h2M1518 389.5h1M1534 389.5h3M1534 390.5h3M1518 391.5h1M1538 391.5h1M1518 392.5h1M1535 392.5h1M1538 392.5h1M1536 393.5h2M1538 394.5h2M1517 395.5h1M1537 395.5h3M1538 396.5h1M1516 397.5h1M1537 397.5h3M1516 398.5h1M1538 398.5h4M1540 399.5h1M1538 400.5h1M1540 400.5h1M1542 400.5h1M1539 401.5h2M1515 402.5h1M1540 402.5h3M1544 402.5h1M1516 403.5h1M1542 403.5h1M1545 403.5h1M1541 404.5h2M1544 404.5h1M1515 405.5h1M1542 405.5h2M1545 405.5h2M1515 407.5h1M1544 407.5h5M1544 408.5h1M1547 408.5h1M1550 408.5h1M1546 409.5h4M1515 410.5h1M1545 410.5h1M1548 410.5h2M1547 411.5h3M1546 412.5h1M1549 412.5h1M1554 412.5h1M1547 413.5h1M1550 413.5h1M1552 413.5h1M1550 414.5h1M1554 414.5h1M1515 415.5h1M1549 415.5h6M1551 416.5h4M1550 417.5h1M1552 417.5h3M1550 418.5h3M1548 419.5h1M1551 419.5h4M1515 420.5h1M1547 420.5h6M1548 421.5h2M1552 421.5h1M1547 422.5h1M1551 422.5h1M1515 423.5h1M1547 423.5h1M1549 423.5h1M1553 423.5h1M1547 424.5h1M1550 424.5h4M1515 425.5h1M1548 425.5h1M1550 425.5h1M1552 425.5h2M1548 426.5h2M1548 427.5h3M1547 428.5h2M1550 428.5h1M1548 429.5h2M1515 430.5h1M1549 430.5h1M1551 430.5h2M1546 431.5h5M1552 431.5h2M1546 432.5h4M1551 432.5h2M1545 433.5h1M1547 433.5h3M1551 433.5h1M1516 434.5h1M1544 434.5h4M1549 434.5h2M1552 435.5h1M1516 436.5h1M1545 436.5h3M1550 436.5h3M1543 437.5h2M1546 437.5h6M1545 438.5h1M1547 438.5h1M1549 438.5h1M1516 439.5h1M1543 439.5h1M1546 439.5h2M1516 440.5h1M1543 440.5h7M1516 441.5h1M1543 441.5h3M1547 441.5h2M1517 442.5h1M1541 442.5h1M1543 442.5h1M1548 442.5h1M1540 443.5h1M1544 443.5h3M1540 444.5h1M1542 444.5h1M1545 444.5h2M1518 445.5h1M1539 445.5h2M1543 445.5h3M1539 446.5h1M1543 446.5h3M1518 447.5h2M1538 447.5h2M1542 447.5h2M1538 448.5h2M1541 448.5h1M1518 449.5h2M1537 449.5h1M1539 449.5h4M1537 450.5h2M1540 450.5h3M1519 451.5h1M1537 451.5h2M1540 451.5h3M1519 452.5h2M1537 452.5h1M1539 452.5h2M1519 453.5h1M1537 453.5h4M1520 454.5h1M1538 454.5h1M1521 455.5h1M1537 455.5h3M1535 456.5h4M1520 457.5h2M1535 457.5h1M1521 458.5h1M1534 458.5h2M1534 459.5h2M1520 460.5h2M1520 461.5h3M1533 461.5h2M1520 462.5h1M1522 462.5h1M1533 462.5h1M1521 463.5h2M1534 463.5h1M1520 464.5h3M1532 464.5h3M1520 465.5h3M1531 465.5h3M1521 466.5h1M1530 466.5h3M1520 467.5h4M1531 467.5h1M1520 468.5h2M1528 468.5h1M1531 468.5h2M1520 469.5h1M1522 469.5h2M1529 469.5h2M1532 469.5h2M1521 470.5h2M1529 470.5h1M1531 470.5h3M1522 471.5h1M1528 471.5h3M1532 471.5h1M1522 472.5h1M1524 472.5h1M1530 472.5h1M1522 473.5h4M1528 473.5h1M1531 473.5h2M1523 474.5h1M1526 474.5h1M1528 474.5h5M1522 475.5h4M1527 475.5h1M1529 475.5h1M1531 475.5h1M1523 476.5h2M1527 476.5h2M1530 476.5h2M1525 477.5h3M1529 477.5h4M1523 478.5h3M1527 478.5h1M1531 478.5h1M1533 478.5h1M1523 479.5h6M1530 479.5h3M1522 480.5h3M1526 480.5h4M1531 480.5h2M1522 481.5h1M1524 481.5h7M1533 481.5h1M1523 482.5h1M1525 482.5h1M1529 482.5h4M1523 483.5h2M1527 483.5h3M1531 483.5h3M1521 484.5h1M1524 484.5h1M1527 484.5h2M1530 484.5h3M1600 484.5h1M1602 484.5h1M1605 484.5h1M1607 484.5h1M1609 484.5h3M1521 485.5h1M1524 485.5h1M1528 485.5h1M1530 485.5h2M1592 485.5h1M1594 485.5h1M1597 485.5h6M1605 485.5h3M1611 485.5h2M1614 485.5h1M1616 485.5h2M1619 485.5h1M1621 485.5h1M1630 485.5h2M1520 486.5h2M1523 486.5h2M1531 486.5h4M1585 486.5h2M1588 486.5h1M1591 486.5h2M1594 486.5h1M1602 486.5h1M1604 486.5h2M1617 486.5h2M1620 486.5h1M1625 486.5h1M1630 486.5h4M1520 487.5h3M1524 487.5h1M1533 487.5h2M1578 487.5h2M1581 487.5h1M1583 487.5h4M1588 487.5h1M1590 487.5h2M1632 487.5h1M1636 487.5h2M1639 487.5h1M1519 488.5h1M1521 488.5h1M1523 488.5h1M1533 488.5h2M1576 488.5h3M1582 488.5h3M1637 488.5h1M1640 488.5h2M1520 489.5h3M1534 489.5h2M1577 489.5h1M1579 489.5h3M1638 489.5h1M1640 489.5h2M1643 489.5h4M1648 489.5h1M1519 490.5h3M1572 490.5h1M1574 490.5h5M1641 490.5h3M1647 490.5h2M1521 491.5h1M1534 491.5h1M1536 491.5h1M1574 491.5h1M1576 491.5h1M1643 491.5h4M1648 491.5h3M1521 492.5h1M1534 492.5h1M1536 492.5h1M1570 492.5h1M1572 492.5h3M1644 492.5h1M1646 492.5h1M1648 492.5h1M1650 492.5h3M1536 493.5h1M1570 493.5h2M1648 493.5h1M1650 493.5h3M1521 494.5h2M1534 494.5h1M1536 494.5h1M1569 494.5h3M1650 494.5h4M1520 495.5h3M1533 495.5h1M1570 495.5h3M1653 495.5h3M1521 496.5h2M1533 496.5h1M1535 496.5h2M1568 496.5h1M1570 496.5h2M1651 496.5h3M1655 496.5h1M1521 497.5h1M1532 497.5h5M1570 497.5h1M1654 497.5h2M1657 497.5h1M1523 498.5h1M1532 498.5h2M1535 498.5h1M1568 498.5h3M1651 498.5h1M1653 498.5h1M1521 499.5h3M1530 499.5h1M1532 499.5h3M1567 499.5h3M1651 499.5h3M1655 499.5h2M1522 500.5h1M1566 500.5h2M1570 500.5h2M1649 500.5h5M1655 500.5h2M1523 501.5h1M1526 501.5h1M1529 501.5h1M1531 501.5h1M1566 501.5h7M1646 501.5h1M1648 501.5h1M1650 501.5h7M1524 502.5h3M1528 502.5h5M1567 502.5h8M1647 502.5h2M1650 502.5h2M1654 502.5h1M1656 502.5h1M1523 503.5h2M1526 503.5h3M1530 503.5h2M1568 503.5h1M1571 503.5h2M1645 503.5h1M1648 503.5h2M1652 503.5h4M1528 504.5h1M1530 504.5h2M1573 504.5h4M1581 504.5h1M1643 504.5h4M1648 504.5h1M1650 504.5h1M1529 505.5h2M1577 505.5h3M1581 505.5h1M1583 505.5h1M1638 505.5h4M1644 505.5h2M1576 506.5h2M1579 506.5h4M1585 506.5h1M1587 506.5h2M1637 506.5h2M1642 506.5h1M1645 506.5h1M1577 507.5h1M1580 507.5h8M1591 507.5h2M1628 507.5h1M1630 507.5h3M1635 507.5h4M1588 508.5h1M1591 508.5h2M1594 508.5h1M1597 508.5h1M1606 508.5h1M1618 508.5h1M1620 508.5h2M1624 508.5h4M1629 508.5h1M1631 508.5h4M1593 509.5h1M1597 509.5h4M1605 509.5h1M1608 509.5h3M1612 509.5h1M1621 509.5h1M1623 509.5h3M1628 509.5h1M1630 509.5h1M1632 509.5h1M1598 510.5h2M1601 510.5h1M1603 510.5h2M1607 510.5h1M1615 510.5h2M1618 510.5h2" fill="none" stroke="#0031ff" stroke-width="1"/>
<path d="M1526 380.5h2M1525 381.5h4M1525 382.5h5M1525 383.5h1M1528 383.5h3M1523 384.5h1M1529 384.5h2M1522 385.5h2M1529 385.5h3M1521 386.5h2M1520 387.5h1M1530 387.5h1M1532 387.5h1M1520 388.5h1M1530 388.5h2M1519 389.5h2M1531 389.5h2M1519 390.5h1M1532 390.5h2M1519 391.5h1M1519 392.5h1M1519 393.5h1M1533 393.5h3M1518 394.5h1M1534 394.5h2M1518 395.5h1M1535 395.5h2M1518 396.5h1M1535 396.5h2M1517 397.5h1M1535 397.5h2M1535 398.5h2M1536 399.5h2M1517 400.5h1M1536 400.5h2M1517 401.5h1M1536 401.5h3M1536 402.5h2M1517 403.5h1M1537 403.5h4M1537 404.5h4M1538 405.5h4M1538 406.5h5M1516 407.5h1M1538 407.5h5M1516 408.5h1M1539 408.5h5M1516 409.5h1M1540 409.5h4M1516 410.5h1M1539 410.5h6M1516 411.5h1M1539 411.5h4M1544 411.5h1M1540 412.5h4M1545 412.5h1M1541 413.5h6M1515 414.5h1M1542 414.5h6M1541 415.5h2M1545 415.5h4M1516 416.5h1M1541 416.5h8M1516 417.5h1M1542 417.5h1M1546 417.5h4M1516 418.5h1M1540 418.5h4M1545 418.5h2M1548 418.5h1M1516 419.5h1M1540 419.5h8M1516 420.5h1M1541 420.5h1M1543 420.5h2M1546 420.5h1M1516 421.5h1M1541 421.5h6M1542 422.5h2M1545 422.5h1M1516 423.5h1M1542 423.5h2M1545 423.5h2M1542 424.5h5M1542 425.5h1M1544 425.5h3M1516 426.5h1M1542 426.5h3M1546 426.5h2M1542 427.5h2M1545 427.5h3M1516 428.5h1M1542 428.5h3M1546 428.5h1M1516 429.5h1M1543 429.5h2M1546 429.5h1M1516 430.5h1M1542 430.5h5M1542 431.5h4M1541 432.5h4M1516 433.5h1M1541 433.5h4M1517 434.5h1M1541 434.5h2M1541 435.5h2M1540 436.5h4M1517 437.5h1M1540 437.5h3M1539 438.5h2M1517 439.5h1M1538 439.5h5M1518 440.5h1M1537 440.5h1M1539 440.5h2M1542 440.5h1M1517 441.5h1M1538 441.5h1M1540 441.5h2M1518 442.5h1M1537 442.5h4M1518 443.5h1M1536 443.5h4M1518 444.5h2M1536 444.5h4M1519 445.5h1M1536 445.5h3M1520 446.5h1M1535 446.5h2M1538 446.5h1M1520 447.5h1M1535 447.5h2M1520 448.5h1M1534 448.5h4M1520 449.5h2M1534 449.5h1M1520 450.5h2M1534 450.5h2M1520 451.5h2M1534 451.5h3M1521 452.5h2M1533 452.5h4M1522 453.5h1M1532 453.5h4M1523 454.5h1M1532 454.5h1M1534 454.5h2M1522 455.5h3M1531 455.5h1M1533 455.5h2M1522 456.5h3M1530 456.5h4M1522 457.5h4M1531 457.5h1M1533 457.5h2M1522 458.5h2M1525 458.5h2M1530 458.5h4M1523 459.5h4M1529 459.5h5M1523 460.5h8M1532 460.5h2M1526 461.5h7M1523 462.5h3M1527 462.5h5M1523 463.5h9M1523 464.5h2M1526 464.5h3M1530 464.5h1M1523 465.5h1M1525 465.5h6M1523 466.5h3M1527 466.5h3M1525 467.5h4M1524 468.5h4M1524 469.5h4M1524 470.5h2M1527 470.5h1M1524 471.5h4M1525 472.5h4M1526 473.5h2M1529 478.5h1M1525 483.5h2M1525 484.5h2M1525 485.5h2M1525 486.5h3M1595 486.5h1M1597 486.5h2M1600 486.5h1M1606 486.5h4M1611 486.5h1M1613 486.5h2M1621 486.5h1M1623 486.5h1M1525 487.5h2M1528 487.5h3M1532 487.5h1M1592 487.5h6M1599 487.5h12M1612 487.5h6M1619 487.5h7M1628 487.5h4M1524 488.5h1M1526 488.5h7M1585 488.5h1M1587 488.5h1M1589 488.5h2M1592 488.5h1M1594 488.5h13M1626 488.5h9M1523 489.5h1M1525 489.5h2M1528 489.5h5M1582 489.5h2M1585 489.5h2M1588 489.5h6M1630 489.5h7M1525 490.5h3M1531 490.5h3M1579 490.5h11M1635 490.5h6M1522 491.5h4M1531 491.5h3M1577 491.5h7M1638 491.5h1M1640 491.5h3M1522 492.5h4M1531 492.5h2M1575 492.5h1M1577 492.5h2M1640 492.5h1M1522 493.5h3M1531 493.5h3M1574 493.5h5M1641 493.5h5M1647 493.5h1M1523 494.5h2M1530 494.5h4M1573 494.5h5M1643 494.5h7M1523 495.5h3M1530 495.5h3M1573 495.5h2M1577 495.5h1M1643 495.5h5M1649 495.5h2M1523 496.5h2M1529 496.5h3M1573 496.5h1M1575 496.5h3M1645 496.5h6M1523 497.5h4M1528 497.5h3M1571 497.5h6M1645 497.5h2M1648 497.5h3M1524 498.5h6M1571 498.5h3M1575 498.5h1M1644 498.5h5M1650 498.5h1M1524 499.5h5M1571 499.5h1M1573 499.5h3M1643 499.5h3M1647 499.5h3M1526 500.5h4M1573 500.5h4M1642 500.5h1M1644 500.5h1M1646 500.5h3M1574 501.5h4M1640 501.5h6M1575 502.5h5M1581 502.5h3M1637 502.5h1M1639 502.5h5M1576 503.5h10M1637 503.5h7M1577 504.5h2M1580 504.5h1M1584 504.5h5M1631 504.5h6M1638 504.5h2M1641 504.5h1M1585 505.5h4M1590 505.5h2M1627 505.5h2M1630 505.5h3M1634 505.5h3M1589 506.5h1M1591 506.5h9M1619 506.5h9M1630 506.5h6M1594 507.5h1M1599 507.5h22M1622 507.5h4M1627 507.5h1M1599 508.5h5M1609 508.5h9" fill="none" stroke="#004eff" stroke-width="1"/>
<path d="M1526 383.5h2M1525 384.5h4M1524 385.5h5M1523 386.5h3M1527 386.5h3M1522 387.5h3M1526 387.5h4M1521 388.5h2M1528 388.5h2M1521 389.5h1M1529 389.5h2M1520 390.5h2M1530 390.5h2M1520 391.5h1M1531 391.5h1M1520 392.5h1M1531 392.5h2M1520 393.5h1M1532 393.5h1M1519 394.5h2M1532 394.5h2M1519 395.5h1M1533 395.5h2M1519 396.5h1M1533 396.5h2M1518 397.5h2M1533 397.5h2M1518 398.5h1M1534 398.5h1M1518 399.5h1M1534 399.5h1M1518 400.5h1M1534 400.5h2M1518 401.5h1M1534 401.5h2M1518 402.5h1M1535 402.5h1M1535 403.5h2M1517 404.5h1M1535 404.5h2M1517 405.5h1M1536 405.5h2M1517 406.5h1M1536 406.5h2M1517 407.5h1M1536 407.5h2M1517 408.5h1M1536 408.5h3M1536 409.5h3M1536 410.5h3M1536 411.5h3M1516 412.5h1M1537 412.5h3M1537 413.5h3M1516 414.5h1M1538 414.5h3M1516 415.5h1M1538 415.5h3M1539 416.5h2M1538 417.5h3M1538 418.5h2M1538 419.5h2M1517 420.5h1M1538 420.5h3M1517 421.5h1M1538 421.5h3M1517 422.5h1M1538 422.5h4M1517 423.5h1M1538 423.5h4M1517 424.5h1M1538 424.5h4M1517 425.5h1M1538 425.5h4M1517 426.5h1M1538 426.5h4M1517 427.5h1M1538 427.5h4M1538 428.5h3M1517 429.5h1M1538 429.5h4M1517 430.5h1M1538 430.5h4M1517 431.5h1M1538 431.5h4M1517 432.5h1M1538 432.5h3M1517 433.5h1M1537 433.5h4M1518 434.5h1M1537 434.5h1M1539 434.5h2M1518 435.5h1M1536 435.5h3M1540 435.5h1M1518 436.5h1M1536 436.5h4M1518 437.5h1M1535 437.5h3M1539 437.5h1M1518 438.5h1M1535 438.5h4M1518 439.5h2M1534 439.5h4M1519 440.5h1M1534 440.5h3M1519 441.5h1M1534 441.5h3M1519 442.5h1M1534 442.5h3M1519 443.5h2M1534 443.5h2M1520 444.5h1M1533 444.5h3M1521 445.5h1M1533 445.5h3M1521 446.5h1M1532 446.5h1M1534 446.5h1M1522 447.5h1M1531 447.5h1M1533 447.5h2M1521 448.5h3M1531 448.5h3M1522 449.5h3M1530 449.5h4M1522 450.5h5M1528 450.5h5M1522 451.5h1M1524 451.5h9M1523 452.5h5M1529 452.5h4M1523 453.5h9M1524 454.5h5M1530 454.5h2M1525 455.5h6M1525 456.5h5M1526 457.5h5M1527 458.5h3M1527 459.5h2M1608 488.5h18M1594 489.5h26M1624 489.5h6M1528 490.5h3M1590 490.5h2M1593 490.5h12M1627 490.5h8M1527 491.5h4M1585 491.5h10M1596 491.5h3M1600 491.5h1M1628 491.5h10M1526 492.5h5M1580 492.5h14M1630 492.5h1M1632 492.5h8M1525 493.5h6M1579 493.5h11M1635 493.5h6M1525 494.5h5M1579 494.5h8M1637 494.5h3M1641 494.5h1M1526 495.5h4M1579 495.5h5M1637 495.5h6M1526 496.5h3M1578 496.5h5M1637 496.5h8M1527 497.5h1M1577 497.5h6M1637 497.5h8M1576 498.5h7M1636 498.5h8M1576 499.5h8M1635 499.5h8M1577 500.5h8M1636 500.5h6M1578 501.5h9M1634 501.5h3M1638 501.5h2M1585 502.5h4M1630 502.5h7M1586 503.5h6M1628 503.5h8M1590 504.5h2M1593 504.5h11M1620 504.5h11M1592 505.5h35M1601 506.5h7M1609 506.5h10" fill="none" stroke="#007aff" stroke-width="1"/>
<path d="M1525 387.5h1M1523 388.5h5M1522 389.5h7M1522 390.5h2M1526 390.5h4M1521 391.5h2M1528 391.5h3M1521 392.5h1M1529 392.5h2M1521 393.5h1M1530 393.5h2M1521 394.5h1M1530 394.5h2M1520 395.5h2M1531 395.5h2M1520 396.5h1M1531 396.5h2M1520 397.5h1M1531 397.5h2M1519 398.5h1M1532 398.5h2M1519 399.5h1M1532 399.5h2M1519 400.5h1M1533 400.5h1M1519 401.5h1M1533 401.5h1M1533 402.5h2M1518 403.5h1M1534 403.5h1M1518 404.5h1M1534 404.5h1M1534 405.5h2M1518 406.5h1M1534 406.5h2M1518 407.5h1M1534 407.5h2M1518 408.5h1M1534 408.5h2M1518 409.5h1M1534 409.5h2M1534 410.5h2M1517 411.5h1M1535 411.5h1M1517 412.5h1M1535 412.5h2M1517 413.5h1M1535 413.5h2M1517 414.5h1M1536 414.5h2M1517 415.5h1M1536 415.5h2M1536 416.5h2M1517 417.5h1M1536 417.5h1M1517 418.5h1M1536 418.5h2M1536 419.5h2M1536 420.5h2M1518 421.5h1M1536 421.5h2M1518 422.5h1M1536 422.5h2M1518 423.5h1M1536 423.5h2M1518 424.5h1M1536 424.5h2M1518 425.5h1M1536 425.5h2M1518 426.5h1M1536 426.5h2M1518 427.5h1M1535 427.5h3M1518 428.5h1M1535 428.5h3M1518 429.5h1M1535 429.5h3M1535 430.5h3M1518 431.5h1M1535 431.5h3M1518 432.5h1M1535 432.5h2M1518 433.5h1M1534 433.5h3M1519 434.5h1M1534 434.5h3M1519 435.5h1M1534 435.5h2M1519 436.5h1M1534 436.5h2M1519 437.5h1M1533 437.5h2M1519 438.5h2M1533 438.5h2M1520 439.5h1M1532 439.5h2M1520 440.5h1M1532 440.5h2M1520 441.5h2M1532 441.5h2M1520 442.5h2M1532 442.5h2M1521 443.5h1M1532 443.5h2M1521 444.5h2M1531 444.5h2M1522 445.5h2M1530 445.5h3M1522 446.5h3M1530 446.5h2M1523 447.5h4M1528 447.5h3M1524 448.5h7M1525 449.5h5M1527 450.5h1M1620 489.5h4M1606 490.5h21M1601 491.5h19M1624 491.5h4M1594 492.5h11M1626 492.5h4M1590 493.5h10M1627 493.5h8M1587 494.5h4M1592 494.5h4M1628 494.5h9M1584 495.5h11M1632 495.5h5M1583 496.5h11M1633 496.5h4M1583 497.5h11M1633 497.5h4M1583 498.5h10M1633 498.5h3M1584 499.5h9M1631 499.5h4M1585 500.5h9M1628 500.5h7M1587 501.5h9M1597 501.5h1M1626 501.5h8M1589 502.5h14M1618 502.5h12M1592 503.5h36M1604 504.5h16" fill="none" stroke="#00a6ff" stroke-width="1"/>
<path d="M1524 390.5h2M1523 391.5h5M1522 392.5h7M1522 393.5h2M1528 393.5h2M1522 394.5h1M1529 394.5h1M1522 395.5h1M1529 395.5h2M1521 396.5h2M1529 396.5h2M1521 397.5h1M1530 397.5h1M1520 398.5h1M1530 398.5h2M1520 399.5h1M1531 399.5h1M1520 400.5h1M1531 400.5h2M1532 401.5h1M1519 402.5h1M1532 402.5h1M1519 403.5h1M1532 403.5h2M1519 404.5h1M1533 404.5h1M1519 405.5h1M1533 405.5h1M1519 406.5h1M1533 406.5h1M1519 407.5h1M1533 407.5h1M1519 408.5h1M1533 408.5h1M1533 409.5h1M1518 410.5h1M1533 410.5h1M1518 411.5h1M1533 411.5h2M1518 412.5h1M1534 412.5h1M1518 413.5h1M1534 413.5h1M1518 414.5h1M1534 414.5h2M1518 415.5h1M1534 415.5h2M1518 416.5h1M1534 416.5h2M1518 417.5h1M1534 417.5h2M1518 418.5h1M1535 418.5h1M1518 419.5h1M1535 419.5h1M1518 420.5h1M1535 420.5h1M1534 421.5h2M1534 422.5h2M1534 423.5h2M1534 424.5h2M1534 425.5h2M1534 426.5h2M1519 427.5h1M1534 427.5h1M1519 428.5h1M1534 428.5h1M1519 429.5h1M1534 429.5h1M1519 430.5h1M1533 430.5h2M1519 431.5h1M1533 431.5h2M1519 432.5h1M1533 432.5h2M1519 433.5h1M1533 433.5h1M1520 434.5h1M1533 434.5h1M1520 435.5h1M1532 435.5h2M1520 436.5h1M1532 436.5h2M1520 437.5h1M1531 437.5h2M1521 438.5h1M1531 438.5h2M1521 439.5h2M1530 439.5h2M1521 440.5h2M1530 440.5h2M1522 441.5h2M1530 441.5h2M1522 442.5h2M1530 442.5h2M1522 443.5h3M1529 443.5h3M1523 444.5h3M1528 444.5h3M1524 445.5h6M1525 446.5h5M1527 447.5h1M1620 491.5h4M1605 492.5h21M1600 493.5h27M1596 494.5h13M1616 494.5h5M1624 494.5h4M1595 495.5h8M1625 495.5h7M1594 496.5h8M1625 496.5h8M1594 497.5h8M1625 497.5h8M1593 498.5h9M1624 498.5h9M1593 499.5h10M1617 499.5h14M1594 500.5h12M1614 500.5h14M1596 501.5h1M1598 501.5h28M1603 502.5h15" fill="none" stroke="#00cdec" stroke-width="1"/>
<path d="M1524 393.5h4M1523 394.5h6M1523 395.5h2M1527 395.5h2M1523 396.5h1M1528 396.5h1M1522 397.5h1M1528 397.5h2M1521 398.5h2M1529 398.5h1M1521 399.5h1M1529 399.5h2M1521 400.5h1M1530 400.5h1M1520 401.5h1M1530 401.5h2M1520 402.5h1M1531 402.5h1M1520 403.5h1M1531 403.5h1M1520 404.5h1M1531 404.5h2M1520 405.5h1M1532 405.5h1M1520 406.5h1M1532 406.5h1M1532 407.5h1M1532 408.5h1M1519 409.5h1M1532 409.5h1M1519 410.5h1M1532 410.5h1M1519 411.5h1M1532 411.5h1M1519 412.5h1M1532 412.5h2M1533 413.5h1M1519 414.5h1M1533 414.5h1M1519 415.5h1M1533 415.5h1M1519 416.5h1M1533 416.5h1M1533 417.5h1M1519 418.5h1M1533 418.5h2M1519 419.5h1M1533 419.5h2M1519 420.5h1M1533 420.5h2M1519 421.5h1M1533 421.5h1M1519 422.5h1M1533 422.5h1M1519 423.5h1M1533 423.5h1M1519 424.5h1M1533 424.5h1M1519 425.5h1M1533 425.5h1M1519 426.5h1M1533 426.5h1M1533 427.5h1M1533 428.5h1M1520 429.5h1M1532 429.5h2M1520 430.5h1M1532 430.5h1M1520 431.5h1M1532 431.5h1M1520 432.5h1M1532 432.5h1M1520 433.5h1M1531 433.5h2M1521 434.5h1M1531 434.5h2M1521 435.5h1M1531 435.5h1M1521 436.5h1M1530 436.5h2M1521 437.5h2M1530 437.5h1M1522 438.5h1M1529 438.5h2M1523 439.5h1M1529 439.5h1M1523 440.5h3M1528 440.5h2M1524 441.5h6M1524 442.5h6M1525 443.5h4M1526 444.5h2M1609 494.5h7M1621 494.5h3M1603 495.5h22M1602 496.5h23M1602 497.5h23M1602 498.5h22M1603 499.5h14M1606 500.5h8" fill="none" stroke="#00eac8" stroke-width="1"/>
<path d="M1525 395.5h2M1524 396.5h4M1523 397.5h5M1523 398.5h1M1527 398.5h2M1522 399.5h1M1528 399.5h1M1522 400.5h1M1528 400.5h2M1521 401.5h2M1529 401.5h1M1521 402.5h1M1530 402.5h1M1521 403.5h1M1530 403.5h1M1521 404.5h1M1530 404.5h1M1521 405.5h1M1530 405.5h2M1530 406.5h2M1520 407.5h1M1531 407.5h1M1520 408.5h1M1531 408.5h1M1520 409.5h1M1531 409.5h1M1531 410.5h1M1531 411.5h1M1531 412.5h1M1519 413.5h1M1532 413.5h1M1532 414.5h1M1532 415.5h1M1532 416.5h1M1519 417.5h1M1532 417.5h1M1532 418.5h1M1532 419.5h1M1532 420.5h1M1520 421.5h1M1532 421.5h1M1520 422.5h1M1532 422.5h1M1520 423.5h1M1532 423.5h1M1520 424.5h1M1532 424.5h1M1520 425.5h1M1532 425.5h1M1520 426.5h1M1532 426.5h1M1520 427.5h1M1532 427.5h1M1520 428.5h1M1532 428.5h1M1521 429.5h1M1531 429.5h1M1521 430.5h1M1531 430.5h1M1521 431.5h1M1531 431.5h1M1521 432.5h1M1530 432.5h2M1521 433.5h2M1530 433.5h1M1522 434.5h1M1529 434.5h2M1522 435.5h1M1529 435.5h2M1522 436.5h2M1529 436.5h1M1523 437.5h1M1528 437.5h2M1523 438.5h6M1524 439.5h5M1526 440.5h2" fill="none" stroke="#00e46f" stroke-width="1"/>
<path d="M1524 398.5h3M1523 399.5h5M1523 400.5h2M1527 400.5h1M1523 401.5h1M1528 401.5h1M1522 402.5h2M1528 402.5h2M1522 403.5h1M1529 403.5h1M1522 404.5h1M1529 404.5h1M1529 405.5h1M1521 406.5h1M1529 406.5h1M1521 407.5h1M1529 407.5h2M1521 408.5h1M1530 408.5h1M1530 409.5h1M1520 410.5h1M1530 410.5h1M1520 411.5h1M1530 411.5h1M1520 412.5h1M1530 412.5h1M1520 413.5h1M1531 413.5h1M1520 414.5h1M1531 414.5h1M1520 415.5h1M1531 415.5h1M1520 416.5h1M1531 416.5h1M1520 417.5h1M1531 417.5h1M1520 418.5h1M1531 418.5h1M1520 419.5h1M1531 419.5h1M1520 420.5h1M1531 420.5h1M1531 421.5h1M1521 422.5h1M1531 422.5h1M1521 423.5h1M1531 423.5h1M1521 424.5h1M1531 424.5h1M1521 425.5h1M1531 425.5h1M1521 426.5h1M1531 426.5h1M1521 427.5h1M1531 427.5h1M1521 428.5h1M1530 428.5h2M1530 429.5h1M1522 430.5h1M1530 430.5h1M1522 431.5h1M1529 431.5h2M1522 432.5h1M1529 432.5h1M1523 433.5h1M1528 433.5h2M1523 434.5h2M1527 434.5h2M1523 435.5h2M1527 435.5h2M1524 436.5h5M1524 437.5h4" fill="none" stroke="#37e42f" stroke-width="1"/>
<path d="M1525 400.5h2M1524 401.5h4M1524 402.5h4M1523 403.5h2M1527 403.5h2M1523 404.5h1M1528 404.5h1M1522 405.5h1M1528 405.5h1M1522 406.5h1M1528 406.5h1M1522 407.5h1M1528 407.5h1M1529 408.5h1M1521 409.5h1M1529 409.5h1M1521 410.5h1M1529 410.5h1M1521 411.5h1M1529 411.5h1M1521 412.5h1M1521 413.5h1M1530 413.5h1M1521 414.5h1M1530 414.5h1M1521 415.5h1M1530 415.5h1M1521 416.5h1M1530 416.5h1M1521 417.5h1M1530 417.5h1M1521 418.5h1M1530 418.5h1M1521 419.5h1M1530 419.5h1M1521 420.5h1M1530 420.5h1M1521 421.5h1M1530 421.5h1M1530 422.5h1M1530 423.5h1M1522 424.5h1M1530 424.5h1M1522 425.5h1M1530 425.5h1M1522 426.5h1M1530 426.5h1M1522 427.5h1M1529 427.5h2M1522 428.5h1M1529 428.5h1M1522 429.5h1M1529 429.5h1M1523 430.5h1M1528 430.5h2M1523 431.5h1M1528 431.5h1M1523 432.5h6M1524 433.5h4M1525 434.5h2M1525 435.5h2" fill="none" stroke="#9cea06" stroke-width="1"/>
<path d="M1525 403.5h2M1524 404.5h4M1523 405.5h5M1523 406.5h1M1527 406.5h1M1523 407.5h1M1527 407.5h1M1522 408.5h1M1527 408.5h2M1522 409.5h1M1528 409.5h1M1522 410.5h1M1528 410.5h1M1522 411.5h1M1528 411.5h1M1522 412.5h1M1529 412.5h1M1522 413.5h1M1529 413.5h1M1522 414.5h1M1529 414.5h1M1522 415.5h1M1529 415.5h1M1522 416.5h1M1529 416.5h1M1522 417.5h1M1529 417.5h1M1522 418.5h1M1529 418.5h1M1522 419.5h1M1529 419.5h1M1522 420.5h1M1529 420.5h1M1522 421.5h1M1529 421.5h1M1522 422.5h1M1529 422.5h1M1522 423.5h1M1529 423.5h1M1529 424.5h1M1523 425.5h1M1529 425.5h1M1523 426.5h1M1528 426.5h2M1523 427.5h1M1528 427.5h1M1523 428.5h1M1528 428.5h1M1523 429.5h2M1527 429.5h2M1524 430.5h4M1524 431.5h4" fill="none" stroke="#ded600" stroke-width="1"/>
<path d="M1524 406.5h3M1524 407.5h3M1523 408.5h4M1523 409.5h2M1526 409.5h2M1523 410.5h1M1527 410.5h1M1523 411.5h1M1527 411.5h1M1523 412.5h1M1528 412.5h1M1523 413.5h1M1528 413.5h1M1523 414.5h1M1528 414.5h1M1523 415.5h1M1528 415.5h1M1523 416.5h1M1528 416.5h1M1523 417.5h1M1528 417.5h1M1523 418.5h1M1528 418.5h1M1523 419.5h1M1528 419.5h1M1523 420.5h1M1528 420.5h1M1523 421.5h1M1528 421.5h1M1523 422.5h1M1528 422.5h1M1523 423.5h2M1528 423.5h1M1523 424.5h2M1528 424.5h1M1524 425.5h1M1527 425.5h2M1524 426.5h4M1524 427.5h4M1524 428.5h4M1525 429.5h2" fill="none" stroke="#ff9b00" stroke-width="1"/>
<path d="M1525 409.5h1M1524 410.5h3M1524 411.5h3M1524 412.5h4M1524 413.5h4M1524 414.5h4M1524 415.5h4M1524 416.5h4M1524 417.5h4M1524 418.5h4M1524 419.5h4M1524 420.5h4M1524 421.5h4M1524 422.5h4M1525 423.5h3M1525 424.5h3M1525 425.5h2" fill="none" stroke="#f93600" stroke-width="1"/>
<line x1="1291.7" y1="49.3" x2="1291.7" y2="272.9" stroke="#000" stroke-width="1.6"/>
<line x1="1208.4" y1="185.3" x2="1431.9" y2="185.3" stroke="#000" stroke-width="1.6"/>
<path d="M1201.9 69.2h6.5M1201.9 124.1h6.5M1201.9 184.8h6.5M1201.9 221.4h6.5M1201.9 257.7h6.5M1201.9 219.8h6.5M1201.9 220.6h6.5M1201.9 222.3h6.5M1201.9 223.1h6.5M1204.9 107.57h3.5M1204.9 97.91h3.5M1204.9 91.05h3.5M1204.9 85.73h3.5M1204.9 81.38h3.5M1204.9 77.7h3.5M1204.9 74.52h3.5M1204.9 71.71h3.5M1204.9 166.53h3.5M1204.9 155.84h3.5M1204.9 148.25h3.5M1204.9 142.37h3.5M1204.9 137.57h3.5M1204.9 133.5h3.5M1204.9 129.98h3.5M1204.9 126.88h3.5M1204.9 54.8h3.5M1204.9 60.2h3.5M1204.9 63.3h3.5M1204.9 65.7h3.5M1204.9 67.2h3.5M1204.9 188.3h3.5M1204.9 192.3h3.5M1204.9 196.3h3.5M1204.9 200.3h3.5M1204.9 205.3h3.5M1204.9 211.3h3.5M1204.9 215.8h3.5M1204.9 218.3h3.5M1204.9 224.8h3.5M1204.9 226.8h3.5M1204.9 231.3h3.5M1204.9 236.3h3.5M1204.9 242.3h3.5M1204.9 250.3h3.5M1204.9 261.3h3.5M1204.9 267.3h3.5M1241.4 272.9v6.5M1265.6 272.9v6.5M1291.3 272.9v6.5M1354.7 272.9v6.5M1408.4 272.9v6.5M1264.4 272.9v6.5M1265 272.9v6.5M1266.2 272.9v6.5M1266.8 272.9v6.5M1210.3 272.9v3.5M1222.7 272.9v3.5M1245.9 272.9v3.5M1249 272.9v3.5M1252.1 272.9v3.5M1255.2 272.9v3.5M1258.3 272.9v3.5M1261.4 272.9v3.5M1263.4 272.9v3.5M1267.9 272.9v3.5M1271 272.9v3.5M1274.9 272.9v3.5M1278.8 272.9v3.5M1283.4 272.9v3.5M1286.4 272.9v3.5M1289.4 272.9v3.5M1310.39 272.9v3.5M1321.55 272.9v3.5M1329.47 272.9v3.5M1335.61 272.9v3.5M1340.63 272.9v3.5M1344.88 272.9v3.5M1348.56 272.9v3.5M1351.8 272.9v3.5M1370.87 272.9v3.5M1380.32 272.9v3.5M1387.03 272.9v3.5M1392.23 272.9v3.5M1396.49 272.9v3.5M1400.08 272.9v3.5M1403.2 272.9v3.5M1405.94 272.9v3.5M1423.7 272.9v3.5M1430.7 272.9v3.5" fill="none" stroke="#000" stroke-width="1.3"/>
<rect x="1208.4" y="49.3" width="223.5" height="223.6" fill="none" stroke="#000" stroke-width="1.8"/>
<line x1="1553.9" y1="49.3" x2="1553.9" y2="272.9" stroke="#000" stroke-width="1.6"/>
<line x1="1470.8" y1="185.3" x2="1694.3" y2="185.3" stroke="#000" stroke-width="1.6"/>
<path d="M1464.3 69.2h6.5M1464.3 124.1h6.5M1464.3 184.8h6.5M1464.3 221.4h6.5M1464.3 257.7h6.5M1464.3 219.8h6.5M1464.3 220.6h6.5M1464.3 222.3h6.5M1464.3 223.1h6.5M1467.3 107.57h3.5M1467.3 97.91h3.5M1467.3 91.05h3.5M1467.3 85.73h3.5M1467.3 81.38h3.5M1467.3 77.7h3.5M1467.3 74.52h3.5M1467.3 71.71h3.5M1467.3 166.53h3.5M1467.3 155.84h3.5M1467.3 148.25h3.5M1467.3 142.37h3.5M1467.3 137.57h3.5M1467.3 133.5h3.5M1467.3 129.98h3.5M1467.3 126.88h3.5M1467.3 54.8h3.5M1467.3 60.2h3.5M1467.3 63.3h3.5M1467.3 65.7h3.5M1467.3 67.2h3.5M1467.3 188.3h3.5M1467.3 192.3h3.5M1467.3 196.3h3.5M1467.3 200.3h3.5M1467.3 205.3h3.5M1467.3 211.3h3.5M1467.3 215.8h3.5M1467.3 218.3h3.5M1467.3 224.8h3.5M1467.3 226.8h3.5M1467.3 231.3h3.5M1467.3 236.3h3.5M1467.3 242.3h3.5M1467.3 250.3h3.5M1467.3 261.3h3.5M1467.3 267.3h3.5M1503.8 272.9v6.5M1528 272.9v6.5M1553.7 272.9v6.5M1617.1 272.9v6.5M1670.8 272.9v6.5M1526.8 272.9v6.5M1527.4 272.9v6.5M1528.6 272.9v6.5M1529.2 272.9v6.5M1472.7 272.9v3.5M1485.1 272.9v3.5M1508.3 272.9v3.5M1511.4 272.9v3.5M1514.5 272.9v3.5M1517.6 272.9v3.5M1520.7 272.9v3.5M1523.8 272.9v3.5M1525.8 272.9v3.5M1530.3 272.9v3.5M1533.4 272.9v3.5M1537.3 272.9v3.5M1541.2 272.9v3.5M1545.8 272.9v3.5M1548.8 272.9v3.5M1551.8 272.9v3.5M1572.79 272.9v3.5M1583.95 272.9v3.5M1591.87 272.9v3.5M1598.01 272.9v3.5M1603.03 272.9v3.5M1607.28 272.9v3.5M1610.96 272.9v3.5M1614.2 272.9v3.5M1633.27 272.9v3.5M1642.72 272.9v3.5M1649.43 272.9v3.5M1654.63 272.9v3.5M1658.89 272.9v3.5M1662.48 272.9v3.5M1665.6 272.9v3.5M1668.34 272.9v3.5M1686.1 272.9v3.5M1693.1 272.9v3.5" fill="none" stroke="#000" stroke-width="1.3"/>
<rect x="1470.8" y="49.3" width="223.5" height="223.6" fill="none" stroke="#000" stroke-width="1.8"/>
<line x1="1291.2" y1="330.9" x2="1291.2" y2="553.6" stroke="#000" stroke-width="1.6"/>
<line x1="1207.6" y1="466.4" x2="1431.1" y2="466.4" stroke="#000" stroke-width="1.6"/>
<path d="M1201.1 350.8h6.5M1201.1 405.7h6.5M1201.1 466.4h6.5M1201.1 503h6.5M1201.1 539.3h6.5M1201.1 501.4h6.5M1201.1 502.2h6.5M1201.1 503.9h6.5M1201.1 504.7h6.5M1204.1 389.17h3.5M1204.1 379.51h3.5M1204.1 372.65h3.5M1204.1 367.33h3.5M1204.1 362.98h3.5M1204.1 359.3h3.5M1204.1 356.12h3.5M1204.1 353.31h3.5M1204.1 448.13h3.5M1204.1 437.44h3.5M1204.1 429.85h3.5M1204.1 423.97h3.5M1204.1 419.17h3.5M1204.1 415.1h3.5M1204.1 411.58h3.5M1204.1 408.48h3.5M1204.1 336.4h3.5M1204.1 341.8h3.5M1204.1 344.9h3.5M1204.1 347.3h3.5M1204.1 348.8h3.5M1204.1 469.9h3.5M1204.1 473.9h3.5M1204.1 477.9h3.5M1204.1 481.9h3.5M1204.1 486.9h3.5M1204.1 492.9h3.5M1204.1 497.4h3.5M1204.1 499.9h3.5M1204.1 506.4h3.5M1204.1 508.4h3.5M1204.1 512.9h3.5M1204.1 517.9h3.5M1204.1 523.9h3.5M1204.1 531.9h3.5M1204.1 542.9h3.5M1204.1 548.9h3.5M1240.6 553.6v6.5M1264.8 553.6v6.5M1290.5 553.6v6.5M1353.9 553.6v6.5M1407.6 553.6v6.5M1263.6 553.6v6.5M1264.2 553.6v6.5M1265.4 553.6v6.5M1266 553.6v6.5M1209.5 553.6v3.5M1221.9 553.6v3.5M1245.1 553.6v3.5M1248.2 553.6v3.5M1251.3 553.6v3.5M1254.4 553.6v3.5M1257.5 553.6v3.5M1260.6 553.6v3.5M1262.6 553.6v3.5M1267.1 553.6v3.5M1270.2 553.6v3.5M1274.1 553.6v3.5M1278 553.6v3.5M1282.6 553.6v3.5M1285.6 553.6v3.5M1288.6 553.6v3.5M1309.59 553.6v3.5M1320.75 553.6v3.5M1328.67 553.6v3.5M1334.81 553.6v3.5M1339.83 553.6v3.5M1344.08 553.6v3.5M1347.76 553.6v3.5M1351 553.6v3.5M1370.07 553.6v3.5M1379.52 553.6v3.5M1386.23 553.6v3.5M1391.43 553.6v3.5M1395.69 553.6v3.5M1399.28 553.6v3.5M1402.4 553.6v3.5M1405.14 553.6v3.5M1422.9 553.6v3.5M1429.9 553.6v3.5" fill="none" stroke="#000" stroke-width="1.3"/>
<rect x="1207.6" y="330.9" width="223.5" height="222.7" fill="none" stroke="#000" stroke-width="1.8"/>
<line x1="1551.9" y1="330.9" x2="1551.9" y2="553.6" stroke="#000" stroke-width="1.6"/>
<line x1="1468.3" y1="466.4" x2="1691.8" y2="466.4" stroke="#000" stroke-width="1.6"/>
<path d="M1461.8 350.8h6.5M1461.8 405.7h6.5M1461.8 466.4h6.5M1461.8 503h6.5M1461.8 539.3h6.5M1461.8 501.4h6.5M1461.8 502.2h6.5M1461.8 503.9h6.5M1461.8 504.7h6.5M1464.8 389.17h3.5M1464.8 379.51h3.5M1464.8 372.65h3.5M1464.8 367.33h3.5M1464.8 362.98h3.5M1464.8 359.3h3.5M1464.8 356.12h3.5M1464.8 353.31h3.5M1464.8 448.13h3.5M1464.8 437.44h3.5M1464.8 429.85h3.5M1464.8 423.97h3.5M1464.8 419.17h3.5M1464.8 415.1h3.5M1464.8 411.58h3.5M1464.8 408.48h3.5M1464.8 336.4h3.5M1464.8 341.8h3.5M1464.8 344.9h3.5M1464.8 347.3h3.5M1464.8 348.8h3.5M1464.8 469.9h3.5M1464.8 473.9h3.5M1464.8 477.9h3.5M1464.8 481.9h3.5M1464.8 486.9h3.5M1464.8 492.9h3.5M1464.8 497.4h3.5M1464.8 499.9h3.5M1464.8 506.4h3.5M1464.8 508.4h3.5M1464.8 512.9h3.5M1464.8 517.9h3.5M1464.8 523.9h3.5M1464.8 531.9h3.5M1464.8 542.9h3.5M1464.8 548.9h3.5M1501.3 553.6v6.5M1525.5 553.6v6.5M1551.2 553.6v6.5M1614.6 553.6v6.5M1668.3 553.6v6.5M1524.3 553.6v6.5M1524.9 553.6v6.5M1526.1 553.6v6.5M1526.7 553.6v6.5M1470.2 553.6v3.5M1482.6 553.6v3.5M1505.8 553.6v3.5M1508.9 553.6v3.5M1512 553.6v3.5M1515.1 553.6v3.5M1518.2 553.6v3.5M1521.3 553.6v3.5M1523.3 553.6v3.5M1527.8 553.6v3.5M1530.9 553.6v3.5M1534.8 553.6v3.5M1538.7 553.6v3.5M1543.3 553.6v3.5M1546.3 553.6v3.5M1549.3 553.6v3.5M1570.29 553.6v3.5M1581.45 553.6v3.5M1589.37 553.6v3.5M1595.51 553.6v3.5M1600.53 553.6v3.5M1604.78 553.6v3.5M1608.46 553.6v3.5M1611.7 553.6v3.5M1630.77 553.6v3.5M1640.22 553.6v3.5M1646.93 553.6v3.5M1652.13 553.6v3.5M1656.39 553.6v3.5M1659.98 553.6v3.5M1663.1 553.6v3.5M1665.84 553.6v3.5M1683.6 553.6v3.5M1690.6 553.6v3.5" fill="none" stroke="#000" stroke-width="1.3"/>
<rect x="1468.3" y="330.9" width="223.5" height="222.7" fill="none" stroke="#000" stroke-width="1.8"/>
<text x="1214.4" y="77.8" textLength="48.6" lengthAdjust="spacingAndGlyphs">98.7</text>
<text x="1427.3" y="77.8" textLength="48.6" lengthAdjust="spacingAndGlyphs" text-anchor="end">0.46</text>
<text x="1214.4" y="263.9" textLength="48.6" lengthAdjust="spacingAndGlyphs">0.84</text>
<text x="1427.3" y="263.9" textLength="122.7" lengthAdjust="spacingAndGlyphs" text-anchor="end">2.53 × 10<tspan font-size="15" dy="-11">−3</tspan></text>
<text x="1479.4" y="77.8" textLength="48.6" lengthAdjust="spacingAndGlyphs">97.3</text>
<text x="1684.7" y="77.8" textLength="48.6" lengthAdjust="spacingAndGlyphs" text-anchor="end">0.22</text>
<text x="1479.4" y="263.9" textLength="48.6" lengthAdjust="spacingAndGlyphs">1.58</text>
<text x="1685.3" y="263.9" textLength="48.6" lengthAdjust="spacingAndGlyphs" text-anchor="end">0.89</text>
<text x="1214.4" y="358.3" textLength="48.6" lengthAdjust="spacingAndGlyphs">96.8</text>
<text x="1421.6" y="358.3" textLength="48.6" lengthAdjust="spacingAndGlyphs" text-anchor="end">0.31</text>
<text x="1215.2" y="543.9" textLength="48.6" lengthAdjust="spacingAndGlyphs">1.04</text>
<text x="1425.3" y="543.9" textLength="48.6" lengthAdjust="spacingAndGlyphs" text-anchor="end">1.88</text>
<text x="1479.4" y="358.3" textLength="48.6" lengthAdjust="spacingAndGlyphs">81.2</text>
<text x="1685.3" y="358.3" textLength="48.6" lengthAdjust="spacingAndGlyphs" text-anchor="end">0.30</text>
<text x="1479.4" y="543.9" textLength="48.6" lengthAdjust="spacingAndGlyphs">1.14</text>
<text x="1686.1" y="543.9" textLength="48.6" lengthAdjust="spacingAndGlyphs" text-anchor="end">17.3</text>
<text x="1320" y="35.5" textLength="135.2" lengthAdjust="spacingAndGlyphs" text-anchor="middle">VSVG/AAV6</text>
<text x="1582" y="35.5" textLength="173.2" lengthAdjust="spacingAndGlyphs" text-anchor="middle">VSVG/AAV-hT7</text>
<text x="1319" y="320" textLength="172.2" lengthAdjust="spacingAndGlyphs" text-anchor="middle">Anti-CD3/AAV6</text>
<text x="1580" y="320" textLength="210.2" lengthAdjust="spacingAndGlyphs" text-anchor="middle">Anti-CD3/AAV-hT7</text>
<line x1="1182" y1="400" x2="1182" y2="60" stroke="#000" stroke-width="2.2"/>
<path d="M1182 50L1176.5 64L1182 62L1187.5 64Z" fill="#000"/>
<text x="1184.5" y="486" textLength="141.7" lengthAdjust="spacingAndGlyphs" text-anchor="middle" transform="rotate(-90 1184.5 486)">TCR (AF488)</text>
<text x="1208" y="591" textLength="159.7" lengthAdjust="spacingAndGlyphs">EGFR (BV711)</text>
<line x1="1381" y1="583" x2="1680" y2="583" stroke="#000" stroke-width="2.2"/>
<path d="M1691 583L1677 577.5L1679 583L1677 588.5Z" fill="#000"/>
<line x1="1825.7" y1="114.6" x2="1825.7" y2="457.6" stroke="#333333" stroke-width="1.8"/>
<line x1="1815.7" y1="457.6" x2="1825.7" y2="457.6" stroke="#333333" stroke-width="1.8"/>
<text x="1803.5" y="466.5" textLength="13.9" lengthAdjust="spacingAndGlyphs" text-anchor="end">0</text>
<line x1="1815.7" y1="343.57" x2="1825.7" y2="343.57" stroke="#333333" stroke-width="1.8"/>
<text x="1803.5" y="352.47" textLength="27.8" lengthAdjust="spacingAndGlyphs" text-anchor="end">20</text>
<line x1="1815.7" y1="229.53" x2="1825.7" y2="229.53" stroke="#333333" stroke-width="1.8"/>
<text x="1803.5" y="238.43" textLength="27.8" lengthAdjust="spacingAndGlyphs" text-anchor="end">40</text>
<line x1="1815.7" y1="115.5" x2="1825.7" y2="115.5" stroke="#333333" stroke-width="1.8"/>
<text x="1803.5" y="124.4" textLength="27.8" lengthAdjust="spacingAndGlyphs" text-anchor="end">60</text>
<rect x="1840" y="323.6" width="44" height="134" fill="#EDD99A" stroke="#E0B62D" stroke-width="2.3"/>
<rect x="1903.6" y="273.4" width="44" height="184.2" fill="#B2CABD" stroke="#3C7A57" stroke-width="2.3"/>
<rect x="1968" y="325.7" width="44" height="131.9" fill="#B4CEE8" stroke="#6A9FD4" stroke-width="2.3"/>
<rect x="2032" y="451.5" width="44" height="6.1" fill="#DB9A9C" stroke="#C0403F" stroke-width="2.3"/>
<rect x="2097" y="265" width="44" height="192.6" fill="#DCDCDC" stroke="#9B9B9B" stroke-width="2.3"/>
<line x1="1862" y1="358.5" x2="1862" y2="283.7" stroke="#E0B62D" stroke-width="2.3"/>
<line x1="1850.25" y1="283.7" x2="1873.75" y2="283.7" stroke="#E0B62D" stroke-width="2.3"/>
<line x1="1850.25" y1="358.5" x2="1873.75" y2="358.5" stroke="#E0B62D" stroke-width="2.3"/>
<line x1="1925.6" y1="294.4" x2="1925.6" y2="248" stroke="#3C7A57" stroke-width="2.3"/>
<line x1="1913.85" y1="248" x2="1937.35" y2="248" stroke="#3C7A57" stroke-width="2.3"/>
<line x1="1913.85" y1="294.4" x2="1937.35" y2="294.4" stroke="#3C7A57" stroke-width="2.3"/>
<line x1="1990" y1="376.6" x2="1990" y2="270" stroke="#6A9FD4" stroke-width="2.3"/>
<line x1="1978.25" y1="270" x2="2001.75" y2="270" stroke="#6A9FD4" stroke-width="2.3"/>
<line x1="1978.25" y1="376.6" x2="2001.75" y2="376.6" stroke="#6A9FD4" stroke-width="2.3"/>
<line x1="2054" y1="457" x2="2054" y2="444" stroke="#C0403F" stroke-width="2.3"/>
<line x1="2042.25" y1="444" x2="2065.75" y2="444" stroke="#C0403F" stroke-width="2.3"/>
<line x1="2042.25" y1="457" x2="2065.75" y2="457" stroke="#C0403F" stroke-width="2.3"/>
<line x1="2119" y1="282" x2="2119" y2="244.7" stroke="#9B9B9B" stroke-width="2.3"/>
<line x1="2107.25" y1="244.7" x2="2130.75" y2="244.7" stroke="#9B9B9B" stroke-width="2.3"/>
<line x1="2107.25" y1="282" x2="2130.75" y2="282" stroke="#9B9B9B" stroke-width="2.3"/>
<line x1="1816" y1="457.6" x2="2162" y2="457.6" stroke="#333333" stroke-width="1.8"/>
<line x1="1862" y1="457.6" x2="1862" y2="467.6" stroke="#333333" stroke-width="1.8"/>
<line x1="1925.6" y1="457.6" x2="1925.6" y2="467.6" stroke="#333333" stroke-width="1.8"/>
<line x1="1990" y1="457.6" x2="1990" y2="467.6" stroke="#333333" stroke-width="1.8"/>
<line x1="2054" y1="457.6" x2="2054" y2="467.6" stroke="#333333" stroke-width="1.8"/>
<line x1="2119" y1="457.6" x2="2119" y2="467.6" stroke="#333333" stroke-width="1.8"/>
<circle cx="1847.5" cy="269.3" r="6.8" fill="#E0B62D"/>
<circle cx="1876" cy="260.3" r="6.8" fill="#E0B62D"/>
<circle cx="1862" cy="333.9" r="6.8" fill="#E0B62D"/>
<circle cx="1862" cy="420.6" r="6.8" fill="#E0B62D"/>
<circle cx="1925.6" cy="215.9" r="6.8" fill="#3C7A57"/>
<circle cx="1925.6" cy="232.3" r="6.8" fill="#3C7A57"/>
<circle cx="1925.6" cy="261.9" r="6.8" fill="#3C7A57"/>
<circle cx="1925.6" cy="303.5" r="6.8" fill="#3C7A57"/>
<circle cx="1925.6" cy="343" r="6.8" fill="#3C7A57"/>
<circle cx="1975.8" cy="240.5" r="6.8" fill="#6A9FD4"/>
<circle cx="2005" cy="232.3" r="6.8" fill="#6A9FD4"/>
<circle cx="1990" cy="365.5" r="6.8" fill="#6A9FD4"/>
<circle cx="1990" cy="454.4" r="6.8" fill="#6A9FD4"/>
<circle cx="2047" cy="436.7" r="6.8" fill="#C0403F"/>
<circle cx="2061" cy="439" r="6.8" fill="#C0403F"/>
<circle cx="2040.7" cy="456.4" r="6.8" fill="#C0403F"/>
<circle cx="2055" cy="457" r="6.8" fill="#C0403F"/>
<circle cx="2069.5" cy="456.4" r="6.8" fill="#C0403F"/>
<circle cx="2119" cy="173" r="6.8" fill="#9B9B9B"/>
<circle cx="2119" cy="227.4" r="6.8" fill="#9B9B9B"/>
<circle cx="2104.5" cy="259.9" r="6.8" fill="#9B9B9B"/>
<circle cx="2134.5" cy="249" r="6.8" fill="#9B9B9B"/>
<circle cx="2134.5" cy="269.3" r="6.8" fill="#9B9B9B"/>
<circle cx="2104.5" cy="278" r="6.8" fill="#9B9B9B"/>
<circle cx="2119" cy="292.4" r="6.8" fill="#9B9B9B"/>
<circle cx="2119" cy="357" r="6.8" fill="#9B9B9B"/>
<text x="1991.4" y="68" textLength="34.2" lengthAdjust="spacingAndGlyphs" text-anchor="middle">NS</text>
<line x1="1862" y1="76" x2="2119.7" y2="76" stroke="#000" stroke-width="2.6"/>
<line x1="1926.4" y1="89.2" x2="2119.7" y2="89.2" stroke="#000" stroke-width="2.6"/>
<line x1="1990" y1="102.8" x2="2119.7" y2="102.8" stroke="#000" stroke-width="2.6"/>
<line x1="2055" y1="132.4" x2="2119.7" y2="132.4" stroke="#000" stroke-width="2.6"/>
<text x="2122" y="125.4" textLength="121.5" lengthAdjust="spacingAndGlyphs" text-anchor="end"><tspan font-style="italic">P</tspan> = 0.0003</text>
<text x="1872" y="491.5" textLength="135.2" lengthAdjust="spacingAndGlyphs" text-anchor="end" transform="rotate(-45 1872 491.5)">VSVG/AAV6</text>
<text x="1935.6" y="491.5" textLength="173.2" lengthAdjust="spacingAndGlyphs" text-anchor="end" transform="rotate(-45 1935.6 491.5)">VSVG/AAV-hT7</text>
<text x="2000" y="491.5" textLength="172.2" lengthAdjust="spacingAndGlyphs" text-anchor="end" transform="rotate(-45 2000 491.5)">Anti-CD3/AAV6</text>
<text x="2064" y="491.5" textLength="210.2" lengthAdjust="spacingAndGlyphs" text-anchor="end" transform="rotate(-45 2064 491.5)">Anti-CD3/AAV-hT7</text>
<text x="2129" y="491.5" textLength="73.2" lengthAdjust="spacingAndGlyphs" text-anchor="end" transform="rotate(-45 2129 491.5)">PBMC</text>
<text x="1755" y="286" textLength="338.9" lengthAdjust="spacingAndGlyphs" text-anchor="middle" transform="rotate(-90 1755 286)">CD19<tspan font-size="16" dy="-12">+</tspan><tspan dy="12"> cells of CD45</tspan><tspan font-size="16" dy="-12">+</tspan><tspan dy="12"> cells (%)</tspan></text>
<line x1="110.7" y1="713.9" x2="110.7" y2="1052.8" stroke="#333333" stroke-width="1.8"/>
<line x1="100.7" y1="1052.8" x2="110.7" y2="1052.8" stroke="#333333" stroke-width="1.8"/>
<text x="88.5" y="1061.7" textLength="13.9" lengthAdjust="spacingAndGlyphs" text-anchor="end">0</text>
<line x1="100.7" y1="985.2" x2="110.7" y2="985.2" stroke="#333333" stroke-width="1.8"/>
<text x="88.5" y="994.1" textLength="27.8" lengthAdjust="spacingAndGlyphs" text-anchor="end">20</text>
<line x1="100.7" y1="917.6" x2="110.7" y2="917.6" stroke="#333333" stroke-width="1.8"/>
<text x="88.5" y="926.5" textLength="27.8" lengthAdjust="spacingAndGlyphs" text-anchor="end">40</text>
<line x1="100.7" y1="850" x2="110.7" y2="850" stroke="#333333" stroke-width="1.8"/>
<text x="88.5" y="858.9" textLength="27.8" lengthAdjust="spacingAndGlyphs" text-anchor="end">60</text>
<line x1="100.7" y1="782.4" x2="110.7" y2="782.4" stroke="#333333" stroke-width="1.8"/>
<text x="88.5" y="791.3" textLength="27.8" lengthAdjust="spacingAndGlyphs" text-anchor="end">80</text>
<line x1="100.7" y1="714.8" x2="110.7" y2="714.8" stroke="#333333" stroke-width="1.8"/>
<text x="88.5" y="723.7" textLength="41.7" lengthAdjust="spacingAndGlyphs" text-anchor="end">100</text>
<rect x="135.4" y="798.2" width="44" height="254.6" fill="#CACACA" stroke="#9B9B9B" stroke-width="2.3"/>
<line x1="157.4" y1="798.2" x2="157.4" y2="786.8" stroke="#9B9B9B" stroke-width="2.3"/>
<line x1="145.9" y1="786.8" x2="168.9" y2="786.8" stroke="#9B9B9B" stroke-width="2.3"/>
<rect x="204.4" y="811.4" width="44" height="241.4" fill="#B4CEE8" stroke="#6A9FD4" stroke-width="2.3"/>
<line x1="226.4" y1="811.4" x2="226.4" y2="797.6" stroke="#6A9FD4" stroke-width="2.3"/>
<line x1="214.9" y1="797.6" x2="237.9" y2="797.6" stroke="#6A9FD4" stroke-width="2.3"/>
<rect x="273.2" y="908.9" width="44" height="143.9" fill="#DB9A9C" stroke="#C0403F" stroke-width="2.3"/>
<line x1="295.2" y1="908.9" x2="295.2" y2="837" stroke="#C0403F" stroke-width="2.3"/>
<line x1="283.7" y1="837" x2="306.7" y2="837" stroke="#C0403F" stroke-width="2.3"/>
<rect x="364" y="1022.1" width="44" height="30.7" fill="#CACACA" stroke="#9B9B9B" stroke-width="2.3"/>
<line x1="386" y1="1022.1" x2="386" y2="1014" stroke="#9B9B9B" stroke-width="2.3"/>
<line x1="374.5" y1="1014" x2="397.5" y2="1014" stroke="#9B9B9B" stroke-width="2.3"/>
<rect x="433" y="1005.5" width="44" height="47.3" fill="#B4CEE8" stroke="#6A9FD4" stroke-width="2.3"/>
<line x1="455" y1="1005.5" x2="455" y2="1001" stroke="#6A9FD4" stroke-width="2.3"/>
<line x1="443.5" y1="1001" x2="466.5" y2="1001" stroke="#6A9FD4" stroke-width="2.3"/>
<rect x="502.1" y="895.7" width="44" height="157.1" fill="#DB9A9C" stroke="#C0403F" stroke-width="2.3"/>
<line x1="524.1" y1="895.7" x2="524.1" y2="817.7" stroke="#C0403F" stroke-width="2.3"/>
<line x1="512.6" y1="817.7" x2="535.6" y2="817.7" stroke="#C0403F" stroke-width="2.3"/>
<line x1="101" y1="1052.8" x2="564.8" y2="1052.8" stroke="#333333" stroke-width="1.8"/>
<line x1="226.4" y1="1052.8" x2="226.4" y2="1062.8" stroke="#333333" stroke-width="1.8"/>
<line x1="455" y1="1052.8" x2="455" y2="1062.8" stroke="#333333" stroke-width="1.8"/>
<path d="M139.9 790.02L147 801.82L132.8 801.82Z" fill="#9B9B9B"/>
<path d="M156.8 775.42L163.9 787.22L149.7 787.22Z" fill="#9B9B9B"/>
<path d="M156.8 790.52L163.9 802.32L149.7 802.32Z" fill="#9B9B9B"/>
<path d="M173.5 790.02L180.6 801.82L166.4 801.82Z" fill="#9B9B9B"/>
<path d="M173.5 797.72L180.6 809.52L166.4 809.52Z" fill="#9B9B9B"/>
<path d="M139.9 804.02L147 815.82L132.8 815.82Z" fill="#9B9B9B"/>
<circle cx="209.3" cy="802.8" r="5.6" fill="#6A9FD4"/>
<circle cx="226.5" cy="793.3" r="5.6" fill="#6A9FD4"/>
<circle cx="243.7" cy="802.8" r="5.6" fill="#6A9FD4"/>
<circle cx="209.3" cy="812.6" r="5.6" fill="#6A9FD4"/>
<circle cx="243.7" cy="816.3" r="5.6" fill="#6A9FD4"/>
<circle cx="226.5" cy="827.8" r="5.6" fill="#6A9FD4"/>
<rect x="289.9" y="799.4" width="10.8" height="10.8" fill="#C0403F"/>
<rect x="289.9" y="843.9" width="10.8" height="10.8" fill="#C0403F"/>
<rect x="289.9" y="907.8" width="10.8" height="10.8" fill="#C0403F"/>
<rect x="289.9" y="925" width="10.8" height="10.8" fill="#C0403F"/>
<rect x="289.9" y="945.6" width="10.8" height="10.8" fill="#C0403F"/>
<rect x="289.9" y="994.4" width="10.8" height="10.8" fill="#C0403F"/>
<path d="M369.3 1012.72L376.4 1024.52L362.2 1024.52Z" fill="#9B9B9B"/>
<path d="M381.3 1011.32L388.4 1023.12L374.2 1023.12Z" fill="#9B9B9B"/>
<path d="M402.8 1005.62L409.9 1017.42L395.7 1017.42Z" fill="#9B9B9B"/>
<path d="M391.3 1018.52L398.4 1030.32L384.2 1030.32Z" fill="#9B9B9B"/>
<path d="M402.8 1017.12L409.9 1028.92L395.7 1028.92Z" fill="#9B9B9B"/>
<path d="M369.3 1025.62L376.4 1037.42L362.2 1037.42Z" fill="#9B9B9B"/>
<circle cx="438" cy="999.2" r="5.6" fill="#6A9FD4"/>
<circle cx="449.5" cy="997" r="5.6" fill="#6A9FD4"/>
<circle cx="460.2" cy="999.2" r="5.6" fill="#6A9FD4"/>
<circle cx="471.6" cy="998.3" r="5.6" fill="#6A9FD4"/>
<circle cx="460.2" cy="1011.8" r="5.6" fill="#6A9FD4"/>
<circle cx="449.5" cy="1017" r="5.6" fill="#6A9FD4"/>
<rect x="518.7" y="803.7" width="10.8" height="10.8" fill="#C0403F"/>
<rect x="518.7" y="832.4" width="10.8" height="10.8" fill="#C0403F"/>
<rect x="518.7" y="853.9" width="10.8" height="10.8" fill="#C0403F"/>
<rect x="518.7" y="882.6" width="10.8" height="10.8" fill="#C0403F"/>
<rect x="518.7" y="965.1" width="10.8" height="10.8" fill="#C0403F"/>
<rect x="518.7" y="997.8" width="10.8" height="10.8" fill="#C0403F"/>
<line x1="157" y1="723.4" x2="295.3" y2="723.4" stroke="#000" stroke-width="2.6"/>
<text x="225.5" y="713" textLength="121.5" lengthAdjust="spacingAndGlyphs" text-anchor="middle"><tspan font-style="italic">P</tspan> = 0.0002</text>
<line x1="157" y1="759.5" x2="226.5" y2="759.5" stroke="#000" stroke-width="2.6"/>
<text x="192" y="749" textLength="34.2" lengthAdjust="spacingAndGlyphs" text-anchor="middle">NS</text>
<line x1="386" y1="723.4" x2="524.7" y2="723.4" stroke="#000" stroke-width="2.6"/>
<text x="453.7" y="713" textLength="121.5" lengthAdjust="spacingAndGlyphs" text-anchor="middle"><tspan font-style="italic">P</tspan> &lt; 0.0001</text>
<line x1="386" y1="759.5" x2="455" y2="759.5" stroke="#000" stroke-width="2.6"/>
<text x="420.3" y="749" textLength="34.2" lengthAdjust="spacingAndGlyphs" text-anchor="middle">NS</text>
<path d="M374 817.9L381.3 831.9L366.7 831.9Z" fill="#9B9B9B"/>
<circle cx="374" cy="855" r="6.9" fill="#6A9FD4"/>
<rect x="367.3" y="877" width="13.4" height="13.4" fill="#C0403F"/>
<text x="390.7" y="834" textLength="82.4" lengthAdjust="spacingAndGlyphs">Control</text>
<text x="390.7" y="862.5" textLength="83.2" lengthAdjust="spacingAndGlyphs">EGFRt<tspan font-size="16" dy="-12">−</tspan></text>
<text x="390.7" y="891.9" textLength="83.2" lengthAdjust="spacingAndGlyphs">EGFRt<tspan font-size="16" dy="-12">+</tspan></text>
<text x="226.4" y="1095.9" textLength="59.1" lengthAdjust="spacingAndGlyphs" text-anchor="middle">CD4<tspan font-size="16" dy="-12">+</tspan></text>
<text x="455" y="1095.9" textLength="59.1" lengthAdjust="spacingAndGlyphs" text-anchor="middle">CD8<tspan font-size="16" dy="-12">+</tspan></text>
<text x="30" y="884" textLength="362.1" lengthAdjust="spacingAndGlyphs" text-anchor="middle" transform="rotate(-90 30 884)">CD4<tspan font-size="16" dy="-12">+</tspan><tspan dy="12"> or CD8</tspan><tspan font-size="16" dy="-12">+</tspan><tspan dy="12"> cells of T cells (%)</tspan></text>
<line x1="699.5" y1="712.1" x2="699.5" y2="1052.8" stroke="#333333" stroke-width="1.8"/>
<line x1="689.5" y1="1052.8" x2="699.5" y2="1052.8" stroke="#333333" stroke-width="1.8"/>
<text x="677.3" y="1061.7" textLength="13.9" lengthAdjust="spacingAndGlyphs" text-anchor="end">0</text>
<line x1="689.5" y1="984.84" x2="699.5" y2="984.84" stroke="#333333" stroke-width="1.8"/>
<text x="677.3" y="993.74" textLength="27.8" lengthAdjust="spacingAndGlyphs" text-anchor="end">20</text>
<line x1="689.5" y1="916.88" x2="699.5" y2="916.88" stroke="#333333" stroke-width="1.8"/>
<text x="677.3" y="925.78" textLength="27.8" lengthAdjust="spacingAndGlyphs" text-anchor="end">40</text>
<line x1="689.5" y1="848.92" x2="699.5" y2="848.92" stroke="#333333" stroke-width="1.8"/>
<text x="677.3" y="857.82" textLength="27.8" lengthAdjust="spacingAndGlyphs" text-anchor="end">60</text>
<line x1="689.5" y1="780.96" x2="699.5" y2="780.96" stroke="#333333" stroke-width="1.8"/>
<text x="677.3" y="789.86" textLength="27.8" lengthAdjust="spacingAndGlyphs" text-anchor="end">80</text>
<line x1="689.5" y1="713" x2="699.5" y2="713" stroke="#333333" stroke-width="1.8"/>
<text x="677.3" y="721.9" textLength="41.7" lengthAdjust="spacingAndGlyphs" text-anchor="end">100</text>
<rect x="720.3" y="956.8" width="44" height="96" fill="#CACACA" stroke="#9B9B9B" stroke-width="2.3"/>
<line x1="742.3" y1="956.8" x2="742.3" y2="941.2" stroke="#9B9B9B" stroke-width="2.3"/>
<line x1="730.8" y1="941.2" x2="753.8" y2="941.2" stroke="#9B9B9B" stroke-width="2.3"/>
<rect x="784" y="959.2" width="44" height="93.6" fill="#B4CEE8" stroke="#6A9FD4" stroke-width="2.3"/>
<line x1="806" y1="959.2" x2="806" y2="947.4" stroke="#6A9FD4" stroke-width="2.3"/>
<line x1="794.5" y1="947.4" x2="817.5" y2="947.4" stroke="#6A9FD4" stroke-width="2.3"/>
<rect x="848" y="827.8" width="44" height="225" fill="#DB9A9C" stroke="#C0403F" stroke-width="2.3"/>
<line x1="870" y1="827.8" x2="870" y2="800" stroke="#C0403F" stroke-width="2.3"/>
<line x1="858.5" y1="800" x2="881.5" y2="800" stroke="#C0403F" stroke-width="2.3"/>
<rect x="934" y="973" width="44" height="79.8" fill="#CACACA" stroke="#9B9B9B" stroke-width="2.3"/>
<line x1="956" y1="973" x2="956" y2="957" stroke="#9B9B9B" stroke-width="2.3"/>
<line x1="944.5" y1="957" x2="967.5" y2="957" stroke="#9B9B9B" stroke-width="2.3"/>
<rect x="998" y="981" width="44" height="71.8" fill="#B4CEE8" stroke="#6A9FD4" stroke-width="2.3"/>
<line x1="1020" y1="981" x2="1020" y2="966.5" stroke="#6A9FD4" stroke-width="2.3"/>
<line x1="1008.5" y1="966.5" x2="1031.5" y2="966.5" stroke="#6A9FD4" stroke-width="2.3"/>
<rect x="1061.5" y="832" width="44" height="220.8" fill="#DB9A9C" stroke="#C0403F" stroke-width="2.3"/>
<line x1="1083.5" y1="832" x2="1083.5" y2="787" stroke="#C0403F" stroke-width="2.3"/>
<line x1="1072" y1="787" x2="1095" y2="787" stroke="#C0403F" stroke-width="2.3"/>
<rect x="1148" y="971.3" width="44" height="81.5" fill="#CACACA" stroke="#9B9B9B" stroke-width="2.3"/>
<line x1="1170" y1="971.3" x2="1170" y2="954" stroke="#9B9B9B" stroke-width="2.3"/>
<line x1="1158.5" y1="954" x2="1181.5" y2="954" stroke="#9B9B9B" stroke-width="2.3"/>
<rect x="1211.5" y="942.9" width="44" height="109.9" fill="#B4CEE8" stroke="#6A9FD4" stroke-width="2.3"/>
<line x1="1233.5" y1="942.9" x2="1233.5" y2="913.4" stroke="#6A9FD4" stroke-width="2.3"/>
<line x1="1222" y1="913.4" x2="1245" y2="913.4" stroke="#6A9FD4" stroke-width="2.3"/>
<rect x="1275" y="825" width="44" height="227.8" fill="#DB9A9C" stroke="#C0403F" stroke-width="2.3"/>
<line x1="1297" y1="825" x2="1297" y2="803.6" stroke="#C0403F" stroke-width="2.3"/>
<line x1="1285.5" y1="803.6" x2="1308.5" y2="803.6" stroke="#C0403F" stroke-width="2.3"/>
<line x1="689.5" y1="1052.8" x2="1332" y2="1052.8" stroke="#333333" stroke-width="1.8"/>
<line x1="805.6" y1="1052.8" x2="805.6" y2="1062.8" stroke="#333333" stroke-width="1.8"/>
<line x1="1019.8" y1="1052.8" x2="1019.8" y2="1062.8" stroke="#333333" stroke-width="1.8"/>
<line x1="1233.3" y1="1052.8" x2="1233.3" y2="1062.8" stroke="#333333" stroke-width="1.8"/>
<path d="M728 935.82L735.1 947.62L720.9 947.62Z" fill="#9B9B9B"/>
<path d="M757 929.22L764.1 941.02L749.9 941.02Z" fill="#9B9B9B"/>
<path d="M728 952.42L735.1 964.22L720.9 964.22Z" fill="#9B9B9B"/>
<path d="M757 952.42L764.1 964.22L749.9 964.22Z" fill="#9B9B9B"/>
<path d="M728 967.72L735.1 979.52L720.9 979.52Z" fill="#9B9B9B"/>
<path d="M757 962.82L764.1 974.62L749.9 974.62Z" fill="#9B9B9B"/>
<circle cx="791" cy="954" r="5.6" fill="#6A9FD4"/>
<circle cx="805.6" cy="952.6" r="5.6" fill="#6A9FD4"/>
<circle cx="820.2" cy="946.4" r="5.6" fill="#6A9FD4"/>
<circle cx="805.6" cy="962" r="5.6" fill="#6A9FD4"/>
<circle cx="820.2" cy="959.5" r="5.6" fill="#6A9FD4"/>
<circle cx="805.6" cy="978.2" r="5.6" fill="#6A9FD4"/>
<rect x="850.1" y="804.7" width="10.8" height="10.8" fill="#C0403F"/>
<rect x="864" y="804.7" width="10.8" height="10.8" fill="#C0403F"/>
<rect x="878.6" y="799.6" width="10.8" height="10.8" fill="#C0403F"/>
<rect x="878.6" y="808.2" width="10.8" height="10.8" fill="#C0403F"/>
<rect x="864" y="847.4" width="10.8" height="10.8" fill="#C0403F"/>
<rect x="864" y="863" width="10.8" height="10.8" fill="#C0403F"/>
<path d="M941.8 949.72L948.9 961.52L934.7 961.52Z" fill="#9B9B9B"/>
<path d="M970.2 948.62L977.3 960.42L963.1 960.42Z" fill="#9B9B9B"/>
<path d="M941.8 970.52L948.9 982.32L934.7 982.32Z" fill="#9B9B9B"/>
<path d="M970.2 962.82L977.3 974.62L963.1 974.62Z" fill="#9B9B9B"/>
<path d="M941.8 983.62L948.9 995.42L934.7 995.42Z" fill="#9B9B9B"/>
<path d="M970.2 980.92L977.3 992.72L963.1 992.72Z" fill="#9B9B9B"/>
<circle cx="1019.5" cy="960.2" r="5.6" fill="#6A9FD4"/>
<circle cx="1004.9" cy="977.6" r="5.6" fill="#6A9FD4"/>
<circle cx="1019.5" cy="974.8" r="5.6" fill="#6A9FD4"/>
<circle cx="1034" cy="980.3" r="5.6" fill="#6A9FD4"/>
<circle cx="1019.5" cy="987.3" r="5.6" fill="#6A9FD4"/>
<circle cx="1019.5" cy="1000.8" r="5.6" fill="#6A9FD4"/>
<rect x="1078.2" y="770.1" width="10.8" height="10.8" fill="#C0403F"/>
<rect x="1064" y="809.2" width="10.8" height="10.8" fill="#C0403F"/>
<rect x="1078.2" y="806.5" width="10.8" height="10.8" fill="#C0403F"/>
<rect x="1092.7" y="809.9" width="10.8" height="10.8" fill="#C0403F"/>
<rect x="1078.2" y="873.4" width="10.8" height="10.8" fill="#C0403F"/>
<rect x="1078.2" y="886.2" width="10.8" height="10.8" fill="#C0403F"/>
<path d="M1169.5 943.82L1176.6 955.62L1162.4 955.62Z" fill="#9B9B9B"/>
<path d="M1155.7 953.82L1162.8 965.62L1148.6 965.62Z" fill="#9B9B9B"/>
<path d="M1183.8 958.32L1190.9 970.12L1176.7 970.12Z" fill="#9B9B9B"/>
<path d="M1155.7 963.52L1162.8 975.32L1148.6 975.32Z" fill="#9B9B9B"/>
<path d="M1169.5 972.22L1176.6 984.02L1162.4 984.02Z" fill="#9B9B9B"/>
<path d="M1169.5 992.32L1176.6 1004.12L1162.4 1004.12Z" fill="#9B9B9B"/>
<circle cx="1219.1" cy="918" r="5.6" fill="#6A9FD4"/>
<circle cx="1247.5" cy="915.5" r="5.6" fill="#6A9FD4"/>
<circle cx="1247.5" cy="929" r="5.6" fill="#6A9FD4"/>
<circle cx="1219.1" cy="937" r="5.6" fill="#6A9FD4"/>
<circle cx="1233.3" cy="968.9" r="5.6" fill="#6A9FD4"/>
<circle cx="1233.3" cy="984.8" r="5.6" fill="#6A9FD4"/>
<rect x="1291.7" y="789.5" width="10.8" height="10.8" fill="#C0403F"/>
<rect x="1291.7" y="803.4" width="10.8" height="10.8" fill="#C0403F"/>
<rect x="1291.7" y="814.4" width="10.8" height="10.8" fill="#C0403F"/>
<rect x="1277.1" y="825.9" width="10.8" height="10.8" fill="#C0403F"/>
<rect x="1306.3" y="830" width="10.8" height="10.8" fill="#C0403F"/>
<rect x="1291.7" y="847.4" width="10.8" height="10.8" fill="#C0403F"/>
<line x1="741.8" y1="718.6" x2="870" y2="718.6" stroke="#000" stroke-width="2.6"/>
<text x="804.9" y="709.6" textLength="121.5" lengthAdjust="spacingAndGlyphs" text-anchor="middle"><tspan font-style="italic">P</tspan> &lt; 0.0001</text>
<line x1="741.8" y1="755.4" x2="805.6" y2="755.4" stroke="#000" stroke-width="2.6"/>
<text x="774.2" y="745.3" textLength="34.2" lengthAdjust="spacingAndGlyphs" text-anchor="middle">NS</text>
<line x1="955.7" y1="718.6" x2="1083.2" y2="718.6" stroke="#000" stroke-width="2.6"/>
<text x="1018.6" y="709.6" textLength="121.5" lengthAdjust="spacingAndGlyphs" text-anchor="middle"><tspan font-style="italic">P</tspan> &lt; 0.0001</text>
<line x1="955.7" y1="755.4" x2="1019.8" y2="755.4" stroke="#000" stroke-width="2.6"/>
<text x="986.9" y="745.3" textLength="34.2" lengthAdjust="spacingAndGlyphs" text-anchor="middle">NS</text>
<line x1="1169.5" y1="718.6" x2="1297.1" y2="718.6" stroke="#000" stroke-width="2.6"/>
<text x="1232.5" y="709.6" textLength="121.5" lengthAdjust="spacingAndGlyphs" text-anchor="middle"><tspan font-style="italic">P</tspan> &lt; 0.0001</text>
<line x1="1169.5" y1="755.4" x2="1233.3" y2="755.4" stroke="#000" stroke-width="2.6"/>
<text x="1201" y="745.3" textLength="34.2" lengthAdjust="spacingAndGlyphs" text-anchor="middle">NS</text>
<path d="M716.5 812.5L723.8 826.5L709.2 826.5Z" fill="#9B9B9B"/>
<circle cx="716.5" cy="850" r="6.9" fill="#6A9FD4"/>
<rect x="709.8" y="872.4" width="13.4" height="13.4" fill="#C0403F"/>
<text x="734.8" y="828" textLength="82.4" lengthAdjust="spacingAndGlyphs">Control</text>
<text x="734.8" y="857.5" textLength="83.2" lengthAdjust="spacingAndGlyphs">EGFRt<tspan font-size="16" dy="-12">−</tspan></text>
<text x="734.8" y="886.9" textLength="83.2" lengthAdjust="spacingAndGlyphs">EGFRt<tspan font-size="16" dy="-12">+</tspan></text>
<text x="805.6" y="1095.8" textLength="150.5" lengthAdjust="spacingAndGlyphs" text-anchor="middle">Lymphocytes</text>
<text x="1019.8" y="1095.8" textLength="59.1" lengthAdjust="spacingAndGlyphs" text-anchor="middle">CD4<tspan font-size="16" dy="-12">+</tspan></text>
<text x="1233.3" y="1095.8" textLength="59.1" lengthAdjust="spacingAndGlyphs" text-anchor="middle">CD8<tspan font-size="16" dy="-12">+</tspan></text>
<text x="623" y="882" textLength="111.8" lengthAdjust="spacingAndGlyphs" text-anchor="middle" transform="rotate(-90 623 882)">Ki-67<tspan font-size="16" dy="-12">+</tspan><tspan dy="12"> (%)</tspan></text>
<line x1="1499" y1="695.5" x2="1499" y2="1052.4" stroke="#333333" stroke-width="1.8"/>
<line x1="1489" y1="1052.4" x2="1499" y2="1052.4" stroke="#333333" stroke-width="1.8"/>
<text x="1476.8" y="1061.3" textLength="13.9" lengthAdjust="spacingAndGlyphs" text-anchor="end">0</text>
<line x1="1489" y1="963.4" x2="1499" y2="963.4" stroke="#333333" stroke-width="1.8"/>
<text x="1476.8" y="972.3" textLength="27.8" lengthAdjust="spacingAndGlyphs" text-anchor="end">20</text>
<line x1="1489" y1="874.4" x2="1499" y2="874.4" stroke="#333333" stroke-width="1.8"/>
<text x="1476.8" y="883.3" textLength="27.8" lengthAdjust="spacingAndGlyphs" text-anchor="end">40</text>
<line x1="1489" y1="785.4" x2="1499" y2="785.4" stroke="#333333" stroke-width="1.8"/>
<text x="1476.8" y="794.3" textLength="27.8" lengthAdjust="spacingAndGlyphs" text-anchor="end">60</text>
<line x1="1489" y1="696.4" x2="1499" y2="696.4" stroke="#333333" stroke-width="1.8"/>
<text x="1476.8" y="705.3" textLength="27.8" lengthAdjust="spacingAndGlyphs" text-anchor="end">80</text>
<rect x="1524.6" y="928.7" width="44" height="123.7" fill="#CACACA" stroke="#9B9B9B" stroke-width="2.3"/>
<line x1="1546.6" y1="928.7" x2="1546.6" y2="901.9" stroke="#9B9B9B" stroke-width="2.3"/>
<line x1="1535.1" y1="901.9" x2="1558.1" y2="901.9" stroke="#9B9B9B" stroke-width="2.3"/>
<rect x="1587" y="908.2" width="44" height="144.2" fill="#B4CEE8" stroke="#6A9FD4" stroke-width="2.3"/>
<line x1="1609" y1="908.2" x2="1609" y2="885.9" stroke="#6A9FD4" stroke-width="2.3"/>
<line x1="1597.5" y1="885.9" x2="1620.5" y2="885.9" stroke="#6A9FD4" stroke-width="2.3"/>
<rect x="1649.5" y="1045.7" width="44" height="6.7" fill="#DB9A9C" stroke="#C0403F" stroke-width="2.3"/>
<line x1="1671.5" y1="1045.7" x2="1671.5" y2="1041.5" stroke="#C0403F" stroke-width="2.3"/>
<line x1="1660" y1="1041.5" x2="1683" y2="1041.5" stroke="#C0403F" stroke-width="2.3"/>
<rect x="1751" y="935" width="44" height="117.4" fill="#CACACA" stroke="#9B9B9B" stroke-width="2.3"/>
<line x1="1773" y1="935" x2="1773" y2="914.9" stroke="#9B9B9B" stroke-width="2.3"/>
<line x1="1761.5" y1="914.9" x2="1784.5" y2="914.9" stroke="#9B9B9B" stroke-width="2.3"/>
<rect x="1813.2" y="948.3" width="44" height="104.1" fill="#B4CEE8" stroke="#6A9FD4" stroke-width="2.3"/>
<line x1="1835.2" y1="948.3" x2="1835.2" y2="926.8" stroke="#6A9FD4" stroke-width="2.3"/>
<line x1="1823.7" y1="926.8" x2="1846.7" y2="926.8" stroke="#6A9FD4" stroke-width="2.3"/>
<rect x="1875.8" y="809.8" width="44" height="242.6" fill="#DB9A9C" stroke="#C0403F" stroke-width="2.3"/>
<line x1="1897.8" y1="809.8" x2="1897.8" y2="746.6" stroke="#C0403F" stroke-width="2.3"/>
<line x1="1886.3" y1="746.6" x2="1909.3" y2="746.6" stroke="#C0403F" stroke-width="2.3"/>
<rect x="1969" y="1000.4" width="44" height="52" fill="#CACACA" stroke="#9B9B9B" stroke-width="2.3"/>
<line x1="1991" y1="1000.4" x2="1991" y2="989.2" stroke="#9B9B9B" stroke-width="2.3"/>
<line x1="1979.5" y1="989.2" x2="2002.5" y2="989.2" stroke="#9B9B9B" stroke-width="2.3"/>
<rect x="2031.8" y="985.5" width="44" height="66.9" fill="#B4CEE8" stroke="#6A9FD4" stroke-width="2.3"/>
<line x1="2053.8" y1="985.5" x2="2053.8" y2="961.3" stroke="#6A9FD4" stroke-width="2.3"/>
<line x1="2042.3" y1="961.3" x2="2065.3" y2="961.3" stroke="#6A9FD4" stroke-width="2.3"/>
<rect x="2094" y="874" width="44" height="178.4" fill="#DB9A9C" stroke="#C0403F" stroke-width="2.3"/>
<line x1="2116" y1="874" x2="2116" y2="813.5" stroke="#C0403F" stroke-width="2.3"/>
<line x1="2104.5" y1="813.5" x2="2127.5" y2="813.5" stroke="#C0403F" stroke-width="2.3"/>
<line x1="1489" y1="1052.4" x2="2164" y2="1052.4" stroke="#333333" stroke-width="1.8"/>
<line x1="1608.6" y1="1052.4" x2="1608.6" y2="1062.4" stroke="#333333" stroke-width="1.8"/>
<line x1="1834.8" y1="1052.4" x2="1834.8" y2="1062.4" stroke="#333333" stroke-width="1.8"/>
<line x1="2053.3" y1="1052.4" x2="2053.3" y2="1062.4" stroke="#333333" stroke-width="1.8"/>
<path d="M1530.2 898.52L1537.3 910.32L1523.1 910.32Z" fill="#9B9B9B"/>
<path d="M1546.5 902.92L1553.6 914.72L1539.4 914.72Z" fill="#9B9B9B"/>
<path d="M1562.5 899.32L1569.6 911.12L1555.4 911.12Z" fill="#9B9B9B"/>
<path d="M1546.5 919.72L1553.6 931.52L1539.4 931.52Z" fill="#9B9B9B"/>
<path d="M1546.5 943.92L1553.6 955.72L1539.4 955.72Z" fill="#9B9B9B"/>
<path d="M1546.5 961.32L1553.6 973.12L1539.4 973.12Z" fill="#9B9B9B"/>
<circle cx="1593" cy="889.6" r="5.6" fill="#6A9FD4"/>
<circle cx="1624.5" cy="887.8" r="5.6" fill="#6A9FD4"/>
<circle cx="1593" cy="899.7" r="5.6" fill="#6A9FD4"/>
<circle cx="1624.5" cy="898.2" r="5.6" fill="#6A9FD4"/>
<circle cx="1608.6" cy="925.7" r="5.6" fill="#6A9FD4"/>
<circle cx="1608.6" cy="941.7" r="5.6" fill="#6A9FD4"/>
<rect x="1658.6" y="1038.4" width="10.8" height="10.8" fill="#C0403F"/>
<rect x="1679.7" y="1034.7" width="10.8" height="10.8" fill="#C0403F"/>
<rect x="1690.8" y="1041.4" width="10.8" height="10.8" fill="#C0403F"/>
<rect x="1658.6" y="1046.6" width="10.8" height="10.8" fill="#C0403F"/>
<rect x="1679.7" y="1045.1" width="10.8" height="10.8" fill="#C0403F"/>
<rect x="1669.6" y="1041.6" width="10.8" height="10.8" fill="#C0403F"/>
<path d="M1765 908.52L1772.1 920.32L1757.9 920.32Z" fill="#9B9B9B"/>
<path d="M1780.6 901.12L1787.7 912.92L1773.5 912.92Z" fill="#9B9B9B"/>
<path d="M1772.4 927.12L1779.5 938.92L1765.3 938.92Z" fill="#9B9B9B"/>
<path d="M1772.4 940.12L1779.5 951.92L1765.3 951.92Z" fill="#9B9B9B"/>
<path d="M1757.5 945.72L1764.6 957.52L1750.4 957.52Z" fill="#9B9B9B"/>
<path d="M1788.4 945.72L1795.5 957.52L1781.3 957.52Z" fill="#9B9B9B"/>
<circle cx="1834.8" cy="914.5" r="5.6" fill="#6A9FD4"/>
<circle cx="1834.8" cy="930.5" r="5.6" fill="#6A9FD4"/>
<circle cx="1830" cy="953.9" r="5.6" fill="#6A9FD4"/>
<circle cx="1820" cy="962.8" r="5.6" fill="#6A9FD4"/>
<circle cx="1841.2" cy="961.4" r="5.6" fill="#6A9FD4"/>
<circle cx="1851.2" cy="961" r="5.6" fill="#6A9FD4"/>
<rect x="1892.2" y="723.7" width="10.8" height="10.8" fill="#C0403F"/>
<rect x="1892.2" y="750.5" width="10.8" height="10.8" fill="#C0403F"/>
<rect x="1892.2" y="775.8" width="10.8" height="10.8" fill="#C0403F"/>
<rect x="1877" y="845.2" width="10.8" height="10.8" fill="#C0403F"/>
<rect x="1908.2" y="848.2" width="10.8" height="10.8" fill="#C0403F"/>
<rect x="1892.2" y="878.7" width="10.8" height="10.8" fill="#C0403F"/>
<path d="M1985 982.92L1992.1 994.72L1977.9 994.72Z" fill="#9B9B9B"/>
<path d="M1999 980.32L2006.1 992.12L1991.9 992.12Z" fill="#9B9B9B"/>
<path d="M1975 993.92L1982.1 1005.72L1967.9 1005.72Z" fill="#9B9B9B"/>
<path d="M1991 995.92L1998.1 1007.72L1983.9 1007.72Z" fill="#9B9B9B"/>
<path d="M2006.5 998.52L2013.6 1010.32L1999.4 1010.32Z" fill="#9B9B9B"/>
<path d="M1975.6 1006.32L1982.7 1018.12L1968.5 1018.12Z" fill="#9B9B9B"/>
<circle cx="2053.3" cy="940.9" r="5.6" fill="#6A9FD4"/>
<circle cx="2053.3" cy="978.8" r="5.6" fill="#6A9FD4"/>
<circle cx="2038" cy="991.8" r="5.6" fill="#6A9FD4"/>
<circle cx="2053.3" cy="994.8" r="5.6" fill="#6A9FD4"/>
<circle cx="2069.6" cy="997.4" r="5.6" fill="#6A9FD4"/>
<circle cx="2038" cy="1001.9" r="5.6" fill="#6A9FD4"/>
<rect x="2110.7" y="786.9" width="10.8" height="10.8" fill="#C0403F"/>
<rect x="2110.7" y="826.6" width="10.8" height="10.8" fill="#C0403F"/>
<rect x="2110.7" y="837.1" width="10.8" height="10.8" fill="#C0403F"/>
<rect x="2095.1" y="909.1" width="10.8" height="10.8" fill="#C0403F"/>
<rect x="2126.6" y="912.9" width="10.8" height="10.8" fill="#C0403F"/>
<rect x="2110.7" y="934.4" width="10.8" height="10.8" fill="#C0403F"/>
<line x1="1546.5" y1="706.8" x2="1679.5" y2="706.8" stroke="#000" stroke-width="2.6"/>
<text x="1612.3" y="697.2" textLength="121.5" lengthAdjust="spacingAndGlyphs" text-anchor="middle"><tspan font-style="italic">P</tspan> &lt; 0.0001</text>
<line x1="1546.5" y1="745.5" x2="1608.2" y2="745.5" stroke="#000" stroke-width="2.6"/>
<text x="1578.3" y="736.6" textLength="34.2" lengthAdjust="spacingAndGlyphs" text-anchor="middle">NS</text>
<line x1="1773.2" y1="706.8" x2="1897.6" y2="706.8" stroke="#000" stroke-width="2.6"/>
<text x="1834.5" y="697.2" textLength="121.5" lengthAdjust="spacingAndGlyphs" text-anchor="middle"><tspan font-style="italic">P</tspan> &lt; 0.0001</text>
<line x1="1773.2" y1="745.5" x2="1834.8" y2="745.5" stroke="#000" stroke-width="2.6"/>
<text x="1804.4" y="736.6" textLength="34.2" lengthAdjust="spacingAndGlyphs" text-anchor="middle">NS</text>
<line x1="1990.9" y1="706.8" x2="2116.1" y2="706.8" stroke="#000" stroke-width="2.6"/>
<text x="2052.6" y="697.2" textLength="121.5" lengthAdjust="spacingAndGlyphs" text-anchor="middle"><tspan font-style="italic">P</tspan> &lt; 0.0001</text>
<line x1="1990.9" y1="745.5" x2="2053.3" y2="745.5" stroke="#000" stroke-width="2.6"/>
<text x="2022" y="736.6" textLength="34.2" lengthAdjust="spacingAndGlyphs" text-anchor="middle">NS</text>
<path d="M1667.6 811.8L1674.9 825.8L1660.3 825.8Z" fill="#9B9B9B"/>
<circle cx="1667.6" cy="849.5" r="6.9" fill="#6A9FD4"/>
<rect x="1660.9" y="871.1" width="13.4" height="13.4" fill="#C0403F"/>
<text x="1684.7" y="828.1" textLength="82.4" lengthAdjust="spacingAndGlyphs">Control</text>
<text x="1684.7" y="857.4" textLength="83.2" lengthAdjust="spacingAndGlyphs">EGFRt<tspan font-size="16" dy="-12">−</tspan></text>
<text x="1684.7" y="885.7" textLength="83.2" lengthAdjust="spacingAndGlyphs">EGFRt<tspan font-size="16" dy="-12">+</tspan></text>
<text x="1608.6" y="1095.6" textLength="128.5" lengthAdjust="spacingAndGlyphs" text-anchor="middle">TCF1<tspan font-size="16" dy="-12">+</tspan><tspan dy="12">TOX</tspan><tspan font-size="16" dy="-12">−</tspan></text>
<text x="1834.8" y="1095.6" textLength="128.5" lengthAdjust="spacingAndGlyphs" text-anchor="middle">TCF1<tspan font-size="16" dy="-12">−</tspan><tspan dy="12">TOX</tspan><tspan font-size="16" dy="-12">+</tspan></text>
<text x="2053.3" y="1095.6" textLength="128.5" lengthAdjust="spacingAndGlyphs" text-anchor="middle">TCF1<tspan font-size="16" dy="-12">+</tspan><tspan dy="12">TOX</tspan><tspan font-size="16" dy="-12">+</tspan></text>
<text x="1397" y="875" textLength="264.4" lengthAdjust="spacingAndGlyphs" text-anchor="middle" transform="rotate(-90 1397 875)">Frequency of non-naive</text>
<text x="1428" y="875" textLength="180.2" lengthAdjust="spacingAndGlyphs" text-anchor="middle" transform="rotate(-90 1428 875)">CD4<tspan font-size="16" dy="-12">+</tspan><tspan dy="12"> T cells (%)</tspan></text>
<path d="M165 1295.5h1M165 1296.5h1M168 1296.5h1M160 1297.5h1M168 1297.5h1M144 1298.5h1M191 1299.5h1M132 1300.5h1M145 1300.5h2M149 1300.5h1M157 1300.5h1M159 1300.5h1M134 1301.5h1M137 1301.5h1M180 1301.5h1M104 1303.5h1M113 1303.5h1M121 1303.5h1M135 1303.5h1M141 1303.5h1M160 1303.5h1M107 1304.5h1M123 1304.5h1M134 1304.5h1M140 1304.5h1M143 1304.5h1M146 1304.5h1M148 1304.5h1M152 1304.5h1M173 1304.5h2M115 1305.5h1M117 1305.5h1M122 1305.5h1M138 1305.5h1M143 1305.5h1M146 1305.5h1M155 1305.5h2M158 1305.5h1M162 1305.5h1M177 1305.5h2M95 1306.5h1M106 1306.5h1M111 1306.5h1M132 1306.5h1M134 1306.5h1M144 1306.5h1M148 1306.5h1M172 1306.5h1M194 1306.5h1M200 1306.5h1M115 1307.5h1M128 1307.5h1M135 1307.5h1M141 1307.5h1M147 1307.5h1M149 1307.5h1M153 1307.5h1M184 1307.5h1M94 1308.5h1M100 1308.5h1M126 1308.5h2M148 1308.5h1M151 1308.5h1M159 1308.5h1M168 1308.5h1M171 1308.5h1M183 1308.5h1M110 1309.5h1M114 1309.5h1M116 1309.5h1M128 1309.5h1M130 1309.5h2M135 1309.5h1M167 1309.5h1M170 1309.5h1M172 1309.5h1M184 1309.5h1M93 1310.5h1M112 1310.5h1M121 1310.5h1M123 1310.5h2M140 1310.5h1M146 1310.5h1M157 1310.5h1M161 1310.5h1M164 1310.5h2M124 1311.5h1M134 1311.5h1M136 1311.5h1M149 1311.5h1M158 1311.5h1M160 1311.5h1M172 1311.5h1M190 1311.5h3M211 1311.5h1M88 1312.5h2M104 1312.5h1M107 1312.5h1M119 1312.5h1M136 1312.5h1M138 1312.5h2M142 1312.5h1M150 1312.5h1M152 1312.5h1M154 1312.5h1M158 1312.5h1M162 1312.5h1M180 1312.5h1M89 1313.5h1M115 1313.5h1M119 1313.5h1M126 1313.5h1M130 1313.5h1M133 1313.5h1M141 1313.5h1M148 1313.5h1M153 1313.5h1M176 1313.5h1M193 1313.5h1M111 1314.5h1M114 1314.5h2M123 1314.5h1M125 1314.5h1M131 1314.5h1M134 1314.5h1M141 1314.5h1M145 1314.5h1M147 1314.5h1M159 1314.5h1M167 1314.5h2M181 1314.5h1M213 1314.5h1M217 1314.5h1M90 1315.5h1M109 1315.5h2M113 1315.5h1M118 1315.5h1M123 1315.5h1M133 1315.5h2M144 1315.5h1M160 1315.5h1M170 1315.5h1M177 1315.5h1M216 1315.5h1M100 1316.5h1M105 1316.5h2M121 1316.5h1M130 1316.5h2M138 1316.5h1M140 1316.5h1M144 1316.5h1M158 1316.5h1M163 1316.5h1M90 1317.5h1M93 1317.5h1M99 1317.5h1M115 1317.5h1M117 1317.5h1M121 1317.5h1M125 1317.5h1M129 1317.5h1M134 1317.5h1M136 1317.5h1M142 1317.5h1M144 1317.5h1M148 1317.5h2M151 1317.5h2M157 1317.5h1M164 1317.5h1M170 1317.5h1M182 1317.5h1M189 1317.5h1M210 1317.5h1M213 1317.5h1M94 1318.5h1M96 1318.5h1M111 1318.5h2M120 1318.5h1M128 1318.5h1M133 1318.5h3M137 1318.5h1M140 1318.5h1M145 1318.5h1M149 1318.5h1M167 1318.5h1M178 1318.5h1M183 1318.5h1M207 1318.5h1M81 1319.5h1M85 1319.5h1M89 1319.5h1M106 1319.5h1M114 1319.5h1M119 1319.5h1M121 1319.5h1M125 1319.5h1M136 1319.5h1M142 1319.5h1M145 1319.5h1M148 1319.5h1M156 1319.5h1M167 1319.5h2M173 1319.5h2M178 1319.5h1M184 1319.5h1M193 1319.5h1M198 1319.5h1M206 1319.5h1M90 1320.5h1M96 1320.5h1M98 1320.5h1M109 1320.5h1M113 1320.5h1M130 1320.5h1M147 1320.5h1M154 1320.5h1M159 1320.5h1M168 1320.5h1M176 1320.5h1M182 1320.5h1M191 1320.5h1M196 1320.5h1M204 1320.5h1M224 1320.5h1M89 1321.5h1M97 1321.5h1M110 1321.5h1M115 1321.5h1M123 1321.5h4M128 1321.5h1M130 1321.5h1M133 1321.5h1M141 1321.5h1M143 1321.5h1M147 1321.5h1M150 1321.5h1M152 1321.5h1M156 1321.5h1M165 1321.5h1M170 1321.5h2M182 1321.5h1M218 1321.5h1M99 1322.5h1M106 1322.5h1M113 1322.5h1M122 1322.5h1M129 1322.5h1M132 1322.5h3M139 1322.5h3M155 1322.5h1M164 1322.5h1M177 1322.5h1M82 1323.5h1M86 1323.5h1M103 1323.5h1M118 1323.5h1M122 1323.5h1M127 1323.5h1M129 1323.5h1M138 1323.5h1M143 1323.5h1M148 1323.5h1M154 1323.5h3M159 1323.5h2M165 1323.5h1M189 1323.5h1M201 1323.5h1M204 1323.5h1M208 1323.5h1M72 1324.5h1M75 1324.5h1M88 1324.5h1M95 1324.5h1M97 1324.5h2M109 1324.5h1M113 1324.5h1M115 1324.5h2M126 1324.5h3M130 1324.5h1M134 1324.5h1M139 1324.5h1M141 1324.5h1M149 1324.5h1M156 1324.5h1M164 1324.5h1M168 1324.5h1M170 1324.5h1M173 1324.5h1M176 1324.5h1M181 1324.5h2M230 1324.5h1M93 1325.5h2M96 1325.5h3M103 1325.5h1M106 1325.5h2M113 1325.5h1M116 1325.5h3M125 1325.5h1M128 1325.5h1M132 1325.5h3M136 1325.5h5M147 1325.5h2M150 1325.5h1M154 1325.5h1M157 1325.5h1M159 1325.5h1M163 1325.5h1M192 1325.5h1M203 1325.5h1M93 1326.5h1M99 1326.5h1M103 1326.5h1M105 1326.5h1M110 1326.5h8M119 1326.5h2M123 1326.5h2M126 1326.5h1M138 1326.5h2M141 1326.5h1M143 1326.5h1M158 1326.5h1M162 1326.5h1M164 1326.5h1M168 1326.5h1M176 1326.5h1M184 1326.5h1M112 1327.5h1M116 1327.5h1M123 1327.5h1M133 1327.5h2M137 1327.5h3M141 1327.5h1M144 1327.5h2M153 1327.5h1M170 1327.5h1M196 1327.5h1M215 1327.5h1M74 1328.5h1M86 1328.5h1M98 1328.5h1M103 1328.5h1M105 1328.5h1M111 1328.5h1M113 1328.5h1M115 1328.5h1M120 1328.5h1M122 1328.5h1M137 1328.5h3M141 1328.5h1M149 1328.5h1M152 1328.5h1M158 1328.5h1M161 1328.5h2M165 1328.5h1M170 1328.5h1M173 1328.5h1M182 1328.5h1M206 1328.5h1M81 1329.5h1M83 1329.5h1M86 1329.5h1M94 1329.5h3M100 1329.5h2M103 1329.5h3M107 1329.5h1M122 1329.5h1M129 1329.5h1M133 1329.5h1M136 1329.5h1M140 1329.5h2M146 1329.5h2M156 1329.5h1M161 1329.5h1M167 1329.5h3M175 1329.5h1M186 1329.5h1M188 1329.5h1M190 1329.5h1M197 1329.5h1M214 1329.5h1M219 1329.5h1M96 1330.5h1M98 1330.5h3M102 1330.5h2M108 1330.5h1M114 1330.5h1M122 1330.5h1M124 1330.5h2M130 1330.5h1M132 1330.5h1M134 1330.5h2M148 1330.5h1M154 1330.5h1M156 1330.5h1M158 1330.5h2M189 1330.5h1M76 1331.5h1M94 1331.5h1M101 1331.5h1M107 1331.5h1M109 1331.5h3M116 1331.5h1M118 1331.5h1M120 1331.5h3M124 1331.5h1M130 1331.5h1M132 1331.5h1M134 1331.5h2M139 1331.5h1M141 1331.5h1M145 1331.5h2M151 1331.5h1M157 1331.5h1M159 1331.5h1M170 1331.5h1M172 1331.5h1M175 1331.5h2M185 1331.5h1M209 1331.5h1M79 1332.5h1M82 1332.5h1M88 1332.5h2M102 1332.5h2M108 1332.5h1M114 1332.5h1M116 1332.5h2M119 1332.5h1M121 1332.5h2M127 1332.5h2M130 1332.5h1M133 1332.5h1M142 1332.5h2M147 1332.5h2M150 1332.5h1M152 1332.5h2M155 1332.5h1M183 1332.5h1M186 1332.5h1M189 1332.5h1M80 1333.5h2M87 1333.5h1M90 1333.5h2M94 1333.5h1M101 1333.5h1M107 1333.5h1M111 1333.5h1M114 1333.5h2M117 1333.5h1M119 1333.5h1M124 1333.5h1M130 1333.5h5M137 1333.5h1M139 1333.5h1M145 1333.5h1M151 1333.5h2M156 1333.5h2M161 1333.5h1M163 1333.5h1M188 1333.5h1M87 1334.5h1M91 1334.5h1M98 1334.5h1M101 1334.5h2M104 1334.5h2M108 1334.5h1M112 1334.5h1M114 1334.5h3M119 1334.5h1M124 1334.5h3M133 1334.5h1M136 1334.5h1M139 1334.5h1M141 1334.5h2M146 1334.5h2M149 1334.5h1M152 1334.5h3M157 1334.5h1M159 1334.5h1M161 1334.5h1M172 1334.5h1M177 1334.5h3M188 1334.5h1M191 1334.5h1M197 1334.5h1M205 1334.5h1M69 1335.5h1M76 1335.5h1M86 1335.5h1M93 1335.5h1M98 1335.5h1M106 1335.5h3M110 1335.5h1M116 1335.5h2M119 1335.5h2M122 1335.5h1M124 1335.5h3M137 1335.5h1M141 1335.5h3M145 1335.5h1M153 1335.5h1M156 1335.5h1M159 1335.5h1M164 1335.5h1M168 1335.5h1M173 1335.5h1M187 1335.5h1M191 1335.5h1M200 1335.5h1M202 1335.5h1M232 1335.5h1M78 1336.5h1M81 1336.5h2M84 1336.5h1M96 1336.5h2M100 1336.5h1M110 1336.5h1M112 1336.5h2M118 1336.5h1M125 1336.5h1M127 1336.5h1M129 1336.5h1M133 1336.5h2M139 1336.5h2M146 1336.5h1M150 1336.5h1M153 1336.5h1M156 1336.5h1M159 1336.5h1M170 1336.5h2M176 1336.5h2M181 1336.5h1M185 1336.5h1M196 1336.5h1M200 1336.5h1M205 1336.5h1M237 1336.5h1M69 1337.5h1M83 1337.5h1M91 1337.5h1M99 1337.5h3M108 1337.5h2M111 1337.5h2M114 1337.5h2M120 1337.5h1M122 1337.5h2M127 1337.5h1M132 1337.5h1M135 1337.5h1M137 1337.5h1M139 1337.5h1M141 1337.5h4M146 1337.5h1M148 1337.5h2M152 1337.5h2M155 1337.5h1M157 1337.5h1M159 1337.5h1M161 1337.5h2M169 1337.5h1M172 1337.5h2M175 1337.5h1M181 1337.5h1M184 1337.5h1M189 1337.5h1M195 1337.5h1M206 1337.5h1M89 1338.5h1M97 1338.5h1M103 1338.5h1M109 1338.5h3M113 1338.5h1M117 1338.5h1M120 1338.5h1M130 1338.5h1M138 1338.5h4M148 1338.5h1M151 1338.5h3M155 1338.5h1M157 1338.5h1M163 1338.5h3M167 1338.5h4M172 1338.5h1M176 1338.5h1M187 1338.5h1M214 1338.5h1M88 1339.5h1M91 1339.5h1M101 1339.5h5M110 1339.5h1M114 1339.5h2M117 1339.5h2M124 1339.5h1M130 1339.5h1M133 1339.5h2M136 1339.5h2M139 1339.5h6M146 1339.5h1M148 1339.5h3M154 1339.5h2M159 1339.5h1M163 1339.5h1M166 1339.5h1M172 1339.5h1M174 1339.5h1M178 1339.5h1M190 1339.5h1M194 1339.5h1M226 1339.5h1M81 1340.5h1M92 1340.5h1M98 1340.5h1M103 1340.5h1M106 1340.5h5M112 1340.5h1M114 1340.5h1M116 1340.5h1M119 1340.5h2M125 1340.5h1M130 1340.5h2M133 1340.5h1M140 1340.5h2M144 1340.5h1M155 1340.5h1M158 1340.5h2M163 1340.5h1M165 1340.5h1M167 1340.5h1M169 1340.5h1M175 1340.5h2M182 1340.5h1M188 1340.5h1M191 1340.5h1M193 1340.5h1M81 1341.5h1M87 1341.5h2M96 1341.5h1M98 1341.5h1M101 1341.5h1M103 1341.5h3M108 1341.5h1M111 1341.5h2M116 1341.5h2M120 1341.5h1M123 1341.5h1M125 1341.5h4M130 1341.5h5M136 1341.5h4M143 1341.5h2M146 1341.5h1M149 1341.5h2M152 1341.5h1M156 1341.5h1M158 1341.5h1M161 1341.5h2M164 1341.5h4M172 1341.5h1M175 1341.5h1M184 1341.5h1M187 1341.5h1M192 1341.5h1M88 1342.5h1M98 1342.5h1M102 1342.5h1M109 1342.5h1M112 1342.5h1M115 1342.5h1M119 1342.5h2M123 1342.5h2M127 1342.5h1M130 1342.5h1M132 1342.5h1M139 1342.5h2M146 1342.5h1M148 1342.5h1M150 1342.5h2M154 1342.5h4M169 1342.5h1M175 1342.5h1M179 1342.5h1M189 1342.5h2M193 1342.5h1M201 1342.5h1M90 1343.5h1M93 1343.5h4M102 1343.5h1M104 1343.5h1M107 1343.5h2M110 1343.5h2M115 1343.5h1M117 1343.5h4M124 1343.5h1M126 1343.5h2M130 1343.5h1M135 1343.5h2M138 1343.5h1M140 1343.5h1M143 1343.5h2M147 1343.5h1M149 1343.5h1M154 1343.5h1M157 1343.5h1M159 1343.5h2M162 1343.5h1M169 1343.5h1M220 1343.5h1M232 1343.5h1M75 1344.5h1M90 1344.5h1M92 1344.5h1M95 1344.5h1M98 1344.5h2M102 1344.5h1M105 1344.5h1M113 1344.5h1M116 1344.5h4M123 1344.5h1M129 1344.5h1M132 1344.5h1M136 1344.5h1M138 1344.5h3M145 1344.5h1M147 1344.5h1M150 1344.5h3M154 1344.5h1M158 1344.5h1M162 1344.5h2M165 1344.5h1M170 1344.5h1M176 1344.5h2M182 1344.5h2M197 1344.5h1M218 1344.5h1M225 1344.5h2M76 1345.5h1M87 1345.5h2M91 1345.5h2M96 1345.5h3M100 1345.5h1M106 1345.5h2M109 1345.5h1M111 1345.5h3M117 1345.5h5M123 1345.5h4M128 1345.5h1M137 1345.5h1M139 1345.5h3M143 1345.5h1M145 1345.5h3M150 1345.5h1M154 1345.5h1M158 1345.5h1M161 1345.5h1M163 1345.5h1M166 1345.5h2M174 1345.5h1M176 1345.5h1M180 1345.5h1M193 1345.5h2M202 1345.5h1M228 1345.5h1M70 1346.5h1M89 1346.5h1M92 1346.5h2M100 1346.5h1M104 1346.5h3M109 1346.5h1M112 1346.5h3M116 1346.5h2M120 1346.5h3M127 1346.5h3M132 1346.5h1M134 1346.5h4M140 1346.5h4M146 1346.5h1M156 1346.5h1M160 1346.5h1M162 1346.5h2M166 1346.5h1M176 1346.5h1M182 1346.5h1M189 1346.5h1M213 1346.5h1M85 1347.5h2M90 1347.5h1M94 1347.5h1M100 1347.5h1M102 1347.5h2M107 1347.5h1M118 1347.5h2M123 1347.5h1M131 1347.5h1M133 1347.5h1M135 1347.5h2M141 1347.5h1M145 1347.5h1M149 1347.5h1M155 1347.5h1M158 1347.5h1M166 1347.5h1M171 1347.5h1M174 1347.5h1M181 1347.5h1M202 1347.5h1M232 1347.5h1M73 1348.5h1M88 1348.5h2M91 1348.5h1M94 1348.5h1M96 1348.5h2M103 1348.5h1M108 1348.5h1M111 1348.5h2M115 1348.5h2M122 1348.5h2M125 1348.5h1M135 1348.5h1M138 1348.5h1M143 1348.5h3M147 1348.5h1M150 1348.5h2M156 1348.5h1M158 1348.5h3M166 1348.5h2M172 1348.5h1M194 1348.5h1M198 1348.5h1M202 1348.5h1M87 1349.5h1M92 1349.5h1M95 1349.5h1M98 1349.5h1M100 1349.5h1M103 1349.5h2M107 1349.5h2M115 1349.5h1M119 1349.5h1M123 1349.5h2M133 1349.5h2M137 1349.5h1M139 1349.5h1M144 1349.5h1M146 1349.5h2M149 1349.5h3M153 1349.5h2M157 1349.5h1M160 1349.5h1M162 1349.5h1M165 1349.5h1M167 1349.5h3M172 1349.5h1M175 1349.5h1M177 1349.5h1M79 1350.5h1M95 1350.5h1M99 1350.5h1M102 1350.5h1M110 1350.5h2M114 1350.5h1M121 1350.5h1M127 1350.5h2M131 1350.5h1M133 1350.5h1M135 1350.5h2M138 1350.5h2M143 1350.5h3M147 1350.5h1M149 1350.5h1M151 1350.5h1M154 1350.5h1M156 1350.5h1M161 1350.5h1M169 1350.5h2M172 1350.5h1M180 1350.5h1M186 1350.5h1M194 1350.5h1M200 1350.5h1M210 1350.5h1M229 1350.5h1M75 1351.5h1M85 1351.5h1M90 1351.5h3M96 1351.5h1M99 1351.5h1M102 1351.5h2M106 1351.5h3M111 1351.5h1M115 1351.5h2M125 1351.5h1M128 1351.5h2M131 1351.5h1M135 1351.5h1M137 1351.5h1M144 1351.5h2M148 1351.5h1M154 1351.5h1M156 1351.5h2M167 1351.5h1M180 1351.5h1M186 1351.5h1M189 1351.5h1M216 1351.5h1M227 1351.5h1M67 1352.5h1M85 1352.5h4M92 1352.5h1M94 1352.5h1M98 1352.5h1M100 1352.5h2M105 1352.5h2M108 1352.5h1M114 1352.5h4M119 1352.5h3M123 1352.5h1M128 1352.5h2M134 1352.5h2M138 1352.5h1M144 1352.5h1M147 1352.5h1M150 1352.5h1M153 1352.5h2M156 1352.5h3M160 1352.5h1M165 1352.5h2M169 1352.5h1M174 1352.5h1M177 1352.5h1M179 1352.5h1M187 1352.5h1M194 1352.5h1M200 1352.5h1M80 1353.5h1M83 1353.5h1M88 1353.5h1M90 1353.5h1M97 1353.5h1M99 1353.5h3M105 1353.5h1M107 1353.5h1M113 1353.5h1M115 1353.5h1M119 1353.5h1M122 1353.5h1M124 1353.5h3M130 1353.5h1M134 1353.5h1M137 1353.5h3M141 1353.5h2M144 1353.5h2M147 1353.5h1M149 1353.5h1M152 1353.5h1M155 1353.5h2M168 1353.5h3M173 1353.5h3M179 1353.5h2M186 1353.5h2M73 1354.5h1M76 1354.5h1M78 1354.5h1M80 1354.5h1M86 1354.5h1M89 1354.5h1M93 1354.5h1M99 1354.5h2M102 1354.5h4M107 1354.5h1M113 1354.5h2M116 1354.5h1M123 1354.5h2M127 1354.5h3M131 1354.5h1M136 1354.5h2M140 1354.5h2M145 1354.5h1M148 1354.5h3M156 1354.5h1M165 1354.5h1M169 1354.5h2M176 1354.5h1M190 1354.5h1M195 1354.5h1M229 1354.5h1M81 1355.5h1M83 1355.5h1M92 1355.5h1M98 1355.5h1M101 1355.5h1M109 1355.5h1M114 1355.5h1M117 1355.5h1M120 1355.5h2M124 1355.5h1M127 1355.5h1M129 1355.5h3M134 1355.5h2M137 1355.5h5M145 1355.5h2M149 1355.5h1M151 1355.5h1M155 1355.5h1M158 1355.5h2M161 1355.5h1M172 1355.5h2M176 1355.5h1M184 1355.5h1M224 1355.5h1M80 1356.5h1M90 1356.5h1M97 1356.5h2M104 1356.5h2M111 1356.5h1M113 1356.5h1M115 1356.5h1M117 1356.5h2M120 1356.5h1M122 1356.5h4M127 1356.5h1M129 1356.5h1M131 1356.5h1M133 1356.5h3M139 1356.5h1M141 1356.5h2M145 1356.5h1M150 1356.5h1M156 1356.5h2M159 1356.5h1M165 1356.5h2M172 1356.5h1M176 1356.5h1M182 1356.5h1M186 1356.5h1M190 1356.5h1M207 1356.5h1M76 1357.5h1M78 1357.5h1M89 1357.5h2M95 1357.5h1M107 1357.5h1M111 1357.5h1M114 1357.5h1M116 1357.5h1M120 1357.5h1M122 1357.5h1M128 1357.5h1M130 1357.5h5M136 1357.5h1M138 1357.5h2M151 1357.5h1M154 1357.5h1M158 1357.5h1M160 1357.5h2M165 1357.5h2M170 1357.5h1M175 1357.5h1M179 1357.5h1M79 1358.5h1M84 1358.5h1M93 1358.5h2M98 1358.5h2M102 1358.5h1M106 1358.5h1M117 1358.5h2M122 1358.5h2M125 1358.5h2M130 1358.5h1M134 1358.5h2M140 1358.5h1M154 1358.5h3M160 1358.5h1M163 1358.5h2M167 1358.5h1M170 1358.5h1M174 1358.5h1M179 1358.5h1M182 1358.5h2M190 1358.5h1M194 1358.5h1M196 1358.5h1M66 1359.5h1M78 1359.5h1M83 1359.5h1M85 1359.5h1M90 1359.5h2M95 1359.5h1M98 1359.5h2M103 1359.5h1M105 1359.5h1M107 1359.5h3M114 1359.5h3M126 1359.5h1M129 1359.5h1M132 1359.5h1M134 1359.5h3M139 1359.5h1M142 1359.5h1M144 1359.5h1M155 1359.5h2M158 1359.5h1M166 1359.5h1M178 1359.5h1M182 1359.5h4M214 1359.5h1M82 1360.5h1M97 1360.5h1M102 1360.5h2M105 1360.5h2M108 1360.5h2M111 1360.5h1M113 1360.5h1M117 1360.5h1M121 1360.5h4M134 1360.5h1M140 1360.5h1M143 1360.5h2M146 1360.5h1M148 1360.5h2M164 1360.5h1M166 1360.5h2M170 1360.5h1M172 1360.5h1M198 1360.5h1M220 1360.5h2M81 1361.5h1M85 1361.5h1M89 1361.5h1M92 1361.5h1M94 1361.5h1M101 1361.5h1M104 1361.5h1M106 1361.5h1M109 1361.5h1M112 1361.5h1M114 1361.5h1M116 1361.5h2M124 1361.5h1M127 1361.5h1M130 1361.5h1M134 1361.5h2M137 1361.5h2M142 1361.5h1M144 1361.5h2M151 1361.5h2M155 1361.5h1M157 1361.5h1M162 1361.5h1M168 1361.5h2M173 1361.5h2M176 1361.5h1M179 1361.5h1M204 1361.5h1M213 1361.5h1M66 1362.5h1M70 1362.5h1M74 1362.5h1M79 1362.5h2M84 1362.5h1M90 1362.5h1M93 1362.5h2M100 1362.5h1M102 1362.5h1M108 1362.5h1M114 1362.5h1M117 1362.5h1M122 1362.5h2M129 1362.5h1M134 1362.5h1M137 1362.5h5M143 1362.5h2M150 1362.5h1M158 1362.5h1M165 1362.5h2M184 1362.5h1M188 1362.5h1M190 1362.5h1M206 1362.5h1M78 1363.5h2M97 1363.5h1M116 1363.5h1M120 1363.5h8M129 1363.5h1M132 1363.5h1M134 1363.5h1M140 1363.5h1M144 1363.5h2M148 1363.5h1M151 1363.5h1M153 1363.5h4M169 1363.5h1M172 1363.5h2M185 1363.5h1M188 1363.5h1M73 1364.5h1M75 1364.5h1M78 1364.5h1M87 1364.5h2M94 1364.5h1M97 1364.5h1M107 1364.5h3M111 1364.5h1M114 1364.5h4M120 1364.5h1M124 1364.5h1M127 1364.5h1M129 1364.5h3M133 1364.5h3M139 1364.5h1M141 1364.5h1M143 1364.5h1M145 1364.5h1M147 1364.5h1M155 1364.5h2M160 1364.5h1M166 1364.5h2M169 1364.5h1M172 1364.5h1M175 1364.5h1M181 1364.5h2M185 1364.5h1M192 1364.5h1M206 1364.5h1M221 1364.5h1M80 1365.5h1M85 1365.5h3M99 1365.5h1M104 1365.5h1M118 1365.5h6M127 1365.5h1M129 1365.5h2M139 1365.5h1M142 1365.5h1M145 1365.5h1M147 1365.5h1M151 1365.5h1M154 1365.5h3M158 1365.5h1M162 1365.5h1M164 1365.5h1M168 1365.5h1M172 1365.5h1M176 1365.5h1M178 1365.5h1M182 1365.5h1M209 1365.5h1M211 1365.5h1M213 1365.5h1M85 1366.5h1M97 1366.5h2M102 1366.5h2M107 1366.5h2M113 1366.5h1M115 1366.5h2M118 1366.5h1M122 1366.5h1M126 1366.5h1M130 1366.5h1M132 1366.5h1M136 1366.5h1M139 1366.5h1M145 1366.5h1M148 1366.5h1M152 1366.5h2M158 1366.5h1M161 1366.5h2M164 1366.5h1M176 1366.5h2M184 1366.5h1M76 1367.5h1M82 1367.5h1M84 1367.5h1M88 1367.5h1M90 1367.5h1M93 1367.5h1M98 1367.5h1M104 1367.5h1M106 1367.5h1M114 1367.5h1M119 1367.5h1M126 1367.5h3M132 1367.5h1M136 1367.5h1M138 1367.5h1M143 1367.5h2M146 1367.5h1M152 1367.5h1M156 1367.5h1M162 1367.5h1M164 1367.5h1M177 1367.5h1M182 1367.5h1M199 1367.5h3M233 1367.5h1M87 1368.5h1M92 1368.5h1M98 1368.5h1M102 1368.5h1M107 1368.5h1M109 1368.5h1M111 1368.5h1M115 1368.5h2M118 1368.5h1M123 1368.5h1M128 1368.5h1M130 1368.5h3M136 1368.5h1M138 1368.5h1M144 1368.5h3M149 1368.5h2M153 1368.5h1M158 1368.5h1M160 1368.5h2M163 1368.5h1M167 1368.5h2M175 1368.5h3M189 1368.5h1M201 1368.5h1M218 1368.5h1M81 1369.5h1M88 1369.5h1M91 1369.5h2M97 1369.5h1M103 1369.5h2M110 1369.5h1M112 1369.5h2M115 1369.5h1M120 1369.5h1M123 1369.5h1M132 1369.5h1M134 1369.5h2M140 1369.5h1M144 1369.5h1M147 1369.5h2M150 1369.5h1M159 1369.5h2M165 1369.5h1M181 1369.5h1M183 1369.5h1M186 1369.5h1M205 1369.5h1M87 1370.5h1M95 1370.5h1M103 1370.5h1M106 1370.5h1M111 1370.5h1M120 1370.5h2M123 1370.5h2M128 1370.5h1M132 1370.5h1M134 1370.5h2M138 1370.5h1M148 1370.5h1M156 1370.5h2M162 1370.5h1M168 1370.5h1M170 1370.5h1M172 1370.5h1M174 1370.5h1M178 1370.5h1M184 1370.5h1M83 1371.5h1M91 1371.5h1M96 1371.5h1M102 1371.5h1M106 1371.5h1M109 1371.5h1M114 1371.5h1M116 1371.5h1M120 1371.5h1M123 1371.5h1M127 1371.5h1M129 1371.5h1M133 1371.5h1M136 1371.5h2M142 1371.5h2M150 1371.5h1M152 1371.5h1M154 1371.5h5M163 1371.5h1M169 1371.5h1M171 1371.5h1M175 1371.5h1M179 1371.5h1M182 1371.5h1M92 1372.5h1M95 1372.5h2M100 1372.5h1M102 1372.5h1M110 1372.5h1M113 1372.5h1M115 1372.5h1M119 1372.5h1M123 1372.5h1M126 1372.5h1M129 1372.5h3M133 1372.5h1M138 1372.5h1M146 1372.5h1M148 1372.5h1M157 1372.5h2M164 1372.5h1M168 1372.5h2M200 1372.5h1M202 1372.5h1M88 1373.5h1M90 1373.5h1M96 1373.5h1M99 1373.5h1M113 1373.5h2M116 1373.5h1M118 1373.5h2M121 1373.5h1M131 1373.5h1M135 1373.5h1M138 1373.5h1M141 1373.5h2M146 1373.5h1M150 1373.5h2M153 1373.5h1M157 1373.5h1M159 1373.5h1M161 1373.5h1M168 1373.5h1M171 1373.5h1M179 1373.5h1M184 1373.5h2M187 1373.5h1M192 1373.5h1M227 1373.5h1M82 1374.5h1M86 1374.5h1M104 1374.5h1M107 1374.5h1M109 1374.5h2M120 1374.5h1M123 1374.5h5M149 1374.5h1M151 1374.5h1M156 1374.5h1M162 1374.5h1M164 1374.5h1M169 1374.5h1M171 1374.5h2M200 1374.5h1M209 1374.5h1M80 1375.5h1M94 1375.5h1M99 1375.5h1M104 1375.5h1M114 1375.5h1M118 1375.5h1M122 1375.5h1M128 1375.5h1M130 1375.5h1M132 1375.5h1M135 1375.5h2M140 1375.5h1M143 1375.5h1M147 1375.5h2M166 1375.5h1M173 1375.5h2M178 1375.5h1M214 1375.5h1M95 1376.5h1M97 1376.5h1M104 1376.5h1M108 1376.5h1M111 1376.5h2M116 1376.5h1M120 1376.5h1M122 1376.5h2M127 1376.5h3M132 1376.5h1M138 1376.5h2M145 1376.5h2M158 1376.5h2M162 1376.5h1M165 1376.5h2M190 1376.5h1M197 1376.5h1M100 1377.5h3M112 1377.5h1M116 1377.5h1M125 1377.5h2M132 1377.5h1M135 1377.5h1M138 1377.5h3M145 1377.5h3M149 1377.5h1M154 1377.5h1M161 1377.5h1M164 1377.5h1M167 1377.5h1M171 1377.5h1M182 1377.5h1M189 1377.5h2M193 1377.5h1M200 1377.5h1M90 1378.5h1M99 1378.5h2M112 1378.5h2M117 1378.5h1M136 1378.5h1M138 1378.5h1M140 1378.5h1M143 1378.5h1M146 1378.5h2M159 1378.5h1M174 1378.5h1M176 1378.5h1M190 1378.5h1M200 1378.5h1M205 1378.5h1M81 1379.5h1M91 1379.5h1M101 1379.5h1M105 1379.5h1M107 1379.5h2M114 1379.5h1M116 1379.5h1M120 1379.5h1M130 1379.5h2M133 1379.5h3M138 1379.5h1M141 1379.5h1M143 1379.5h1M146 1379.5h1M158 1379.5h1M160 1379.5h1M76 1380.5h1M90 1380.5h1M92 1380.5h1M96 1380.5h1M106 1380.5h1M114 1380.5h1M122 1380.5h2M126 1380.5h1M132 1380.5h1M135 1380.5h1M145 1380.5h1M152 1380.5h1M159 1380.5h1M163 1380.5h2M189 1380.5h1M97 1381.5h1M102 1381.5h1M105 1381.5h2M110 1381.5h1M117 1381.5h2M125 1381.5h2M129 1381.5h1M131 1381.5h4M138 1381.5h1M160 1381.5h1M187 1381.5h2M90 1382.5h1M104 1382.5h1M108 1382.5h3M115 1382.5h1M118 1382.5h1M122 1382.5h2M127 1382.5h1M133 1382.5h2M137 1382.5h3M162 1382.5h1M165 1382.5h1M170 1382.5h1M182 1382.5h1M187 1382.5h1M189 1382.5h1M193 1382.5h1M90 1383.5h1M100 1383.5h1M102 1383.5h1M108 1383.5h1M117 1383.5h3M125 1383.5h1M140 1383.5h1M145 1383.5h2M151 1383.5h1M154 1383.5h2M185 1383.5h1M80 1384.5h1M97 1384.5h1M115 1384.5h1M120 1384.5h1M122 1384.5h1M124 1384.5h1M138 1384.5h1M147 1384.5h2M154 1384.5h1M162 1384.5h1M177 1384.5h1M179 1384.5h1M94 1385.5h1M122 1385.5h1M124 1385.5h1M128 1385.5h1M131 1385.5h1M142 1385.5h1M160 1385.5h2M199 1385.5h1M201 1385.5h1M215 1385.5h1M104 1386.5h1M109 1386.5h2M114 1386.5h1M123 1386.5h1M126 1386.5h1M130 1386.5h1M132 1386.5h1M140 1386.5h2M148 1386.5h2M156 1386.5h2M161 1386.5h2M177 1386.5h2M109 1387.5h1M113 1387.5h1M124 1387.5h1M128 1387.5h1M143 1387.5h3M159 1387.5h1M183 1387.5h1M85 1388.5h1M95 1388.5h1M99 1388.5h1M109 1388.5h1M126 1388.5h1M133 1388.5h1M135 1388.5h1M141 1388.5h1M146 1388.5h1M184 1388.5h1M215 1388.5h1M87 1389.5h1M102 1389.5h1M115 1389.5h1M147 1389.5h1M150 1389.5h2M162 1389.5h1M171 1389.5h1M195 1389.5h1M108 1390.5h1M111 1390.5h1M113 1390.5h1M115 1390.5h1M122 1390.5h1M126 1390.5h1M134 1390.5h1M137 1390.5h1M172 1390.5h1M136 1391.5h1M149 1391.5h1M155 1391.5h1M157 1391.5h1M199 1391.5h2M99 1392.5h1M115 1392.5h1M119 1392.5h1M121 1392.5h1M139 1392.5h1M167 1392.5h1M179 1392.5h1M196 1392.5h1M99 1393.5h1M103 1393.5h1M116 1393.5h2M142 1393.5h1M152 1393.5h1M173 1393.5h1M178 1393.5h1M199 1393.5h1M115 1394.5h1M128 1394.5h1M132 1394.5h1M154 1394.5h1M191 1394.5h1M194 1394.5h1M110 1395.5h1M115 1395.5h1M136 1395.5h1M139 1395.5h1M141 1395.5h1M169 1395.5h1M203 1395.5h1M108 1396.5h1M130 1396.5h1M166 1396.5h1M131 1397.5h1M167 1397.5h1M174 1397.5h1M182 1397.5h2M203 1397.5h1M131 1398.5h2M110 1399.5h1M141 1399.5h1M179 1399.5h1M116 1400.5h1M129 1400.5h1M156 1400.5h1M158 1400.5h1M152 1402.5h1M189 1402.5h1M159 1403.5h1M179 1403.5h1M178 1405.5h1" fill="none" stroke="#84BEF8" stroke-width="1"/>
<path d="M202 1284.5h1M208 1287.5h1M190 1289.5h1M184 1290.5h1M214 1290.5h1M198 1291.5h1M207 1291.5h1M170 1292.5h1M197 1293.5h1M200 1293.5h1M198 1294.5h1M200 1294.5h1M206 1294.5h1M199 1295.5h1M202 1295.5h1M196 1296.5h2M204 1296.5h1M186 1298.5h1M188 1298.5h1M193 1298.5h1M207 1298.5h1M209 1298.5h1M185 1299.5h1M190 1299.5h1M196 1299.5h1M204 1299.5h1M195 1300.5h1M202 1300.5h1M206 1300.5h1M169 1301.5h1M182 1301.5h1M169 1302.5h1M195 1302.5h1M202 1302.5h1M207 1302.5h2M212 1302.5h1M185 1303.5h1M196 1303.5h1M198 1303.5h1M204 1303.5h1M214 1303.5h1M183 1304.5h1M190 1304.5h1M192 1304.5h1M206 1304.5h1M208 1304.5h1M210 1304.5h1M219 1304.5h1M225 1304.5h1M184 1305.5h1M204 1305.5h1M225 1305.5h1M187 1306.5h1M195 1306.5h1M206 1306.5h1M210 1306.5h1M191 1307.5h1M193 1307.5h2M205 1307.5h1M229 1307.5h1M162 1308.5h1M194 1308.5h1M206 1308.5h1M221 1308.5h1M190 1309.5h1M209 1309.5h2M192 1310.5h1M201 1310.5h1M204 1310.5h3M209 1310.5h1M211 1310.5h1M185 1311.5h1M200 1311.5h1M202 1311.5h1M206 1311.5h1M209 1311.5h1M217 1311.5h1M153 1312.5h1M174 1312.5h2M197 1312.5h1M202 1312.5h2M218 1312.5h1M179 1313.5h1M183 1313.5h1M189 1313.5h1M197 1313.5h1M199 1313.5h1M214 1313.5h1M158 1314.5h1M185 1314.5h1M199 1314.5h1M204 1314.5h2M207 1314.5h1M209 1314.5h1M215 1314.5h1M185 1315.5h1M190 1315.5h1M207 1315.5h1M215 1315.5h1M157 1316.5h1M171 1316.5h1M181 1316.5h1M188 1316.5h1M195 1316.5h2M198 1316.5h1M200 1316.5h2M203 1316.5h1M209 1316.5h1M213 1316.5h1M218 1316.5h1M183 1317.5h2M200 1317.5h4M205 1317.5h1M207 1317.5h1M214 1317.5h1M217 1317.5h1M222 1317.5h1M173 1318.5h1M181 1318.5h1M184 1318.5h1M189 1318.5h1M193 1318.5h1M195 1318.5h1M198 1318.5h3M202 1318.5h1M204 1318.5h1M209 1318.5h1M215 1318.5h2M226 1318.5h1M230 1318.5h1M181 1319.5h1M190 1319.5h1M210 1319.5h1M220 1319.5h1M228 1319.5h1M167 1320.5h1M185 1320.5h1M193 1320.5h1M195 1320.5h1M197 1320.5h1M201 1320.5h1M203 1320.5h1M205 1320.5h1M177 1321.5h1M180 1321.5h1M191 1321.5h1M206 1321.5h1M220 1321.5h1M222 1321.5h1M167 1322.5h1M182 1322.5h4M196 1322.5h1M198 1322.5h1M204 1322.5h1M209 1322.5h2M220 1322.5h1M172 1323.5h1M174 1323.5h1M178 1323.5h1M196 1323.5h2M202 1323.5h1M207 1323.5h1M212 1323.5h1M221 1323.5h1M178 1324.5h1M189 1324.5h1M194 1324.5h1M202 1324.5h1M204 1324.5h2M210 1324.5h1M214 1324.5h1M217 1324.5h2M220 1324.5h1M225 1324.5h1M231 1324.5h1M153 1325.5h1M155 1325.5h1M173 1325.5h1M180 1325.5h1M183 1325.5h1M191 1325.5h1M195 1325.5h1M204 1325.5h1M206 1325.5h1M210 1325.5h1M218 1325.5h1M221 1325.5h1M229 1325.5h1M155 1326.5h1M191 1326.5h1M195 1326.5h1M197 1326.5h1M200 1326.5h2M203 1326.5h2M208 1326.5h1M212 1326.5h1M217 1326.5h1M186 1327.5h1M188 1327.5h1M192 1327.5h1M195 1327.5h1M197 1327.5h1M200 1327.5h1M202 1327.5h2M206 1327.5h2M210 1327.5h2M219 1327.5h1M223 1327.5h1M163 1328.5h1M177 1328.5h1M189 1328.5h1M194 1328.5h1M203 1328.5h1M211 1328.5h1M218 1328.5h1M160 1329.5h1M183 1329.5h1M191 1329.5h1M196 1329.5h1M198 1329.5h1M206 1329.5h1M211 1329.5h2M215 1329.5h1M177 1330.5h1M181 1330.5h1M188 1330.5h1M197 1330.5h4M208 1330.5h1M213 1330.5h2M216 1330.5h1M222 1330.5h1M173 1331.5h1M193 1331.5h1M200 1331.5h2M203 1331.5h1M206 1331.5h1M210 1331.5h1M214 1331.5h1M217 1331.5h1M221 1331.5h3M173 1332.5h1M176 1332.5h2M181 1332.5h1M187 1332.5h1M192 1332.5h1M194 1332.5h1M204 1332.5h2M208 1332.5h1M218 1332.5h2M224 1332.5h1M185 1333.5h1M190 1333.5h1M209 1333.5h1M211 1333.5h2M238 1333.5h1M175 1334.5h1M182 1334.5h1M184 1334.5h3M190 1334.5h1M203 1334.5h1M207 1334.5h4M215 1334.5h1M220 1334.5h1M239 1334.5h1M175 1335.5h1M194 1335.5h1M198 1335.5h2M204 1335.5h1M207 1335.5h1M209 1335.5h1M215 1335.5h1M160 1336.5h1M166 1336.5h1M192 1336.5h1M194 1336.5h1M197 1336.5h3M202 1336.5h1M206 1336.5h1M209 1336.5h1M211 1336.5h1M216 1336.5h1M223 1336.5h1M234 1336.5h1M186 1337.5h2M191 1337.5h1M194 1337.5h1M196 1337.5h1M198 1337.5h2M204 1337.5h2M208 1337.5h1M212 1337.5h1M217 1337.5h1M223 1337.5h1M228 1337.5h1M173 1338.5h1M183 1338.5h1M193 1338.5h1M202 1338.5h3M206 1338.5h2M211 1338.5h1M215 1338.5h1M225 1338.5h1M227 1338.5h1M151 1339.5h1M185 1339.5h1M188 1339.5h2M192 1339.5h1M195 1339.5h1M199 1339.5h1M201 1339.5h1M204 1339.5h1M210 1339.5h1M212 1339.5h3M223 1339.5h1M179 1340.5h1M185 1340.5h1M187 1340.5h1M190 1340.5h1M192 1340.5h1M198 1340.5h1M201 1340.5h2M209 1340.5h1M213 1340.5h3M223 1340.5h1M231 1340.5h1M154 1341.5h1M176 1341.5h1M188 1341.5h1M195 1341.5h1M197 1341.5h1M203 1341.5h2M212 1341.5h1M215 1341.5h2M177 1342.5h1M183 1342.5h1M191 1342.5h2M202 1342.5h2M210 1342.5h1M213 1342.5h1M236 1342.5h1M177 1343.5h1M186 1343.5h2M192 1343.5h1M194 1343.5h7M206 1343.5h2M211 1343.5h4M218 1343.5h2M224 1343.5h1M240 1343.5h1M179 1344.5h1M181 1344.5h1M191 1344.5h1M193 1344.5h1M195 1344.5h1M199 1344.5h1M201 1344.5h3M208 1344.5h2M227 1344.5h1M178 1345.5h1M184 1345.5h1M190 1345.5h1M195 1345.5h2M204 1345.5h1M206 1345.5h2M211 1345.5h1M216 1345.5h2M178 1346.5h2M184 1346.5h2M188 1346.5h1M190 1346.5h1M193 1346.5h1M201 1346.5h1M214 1346.5h1M180 1347.5h1M182 1347.5h1M184 1347.5h2M192 1347.5h1M194 1347.5h2M200 1347.5h2M203 1347.5h2M207 1347.5h3M212 1347.5h3M223 1347.5h1M225 1347.5h1M173 1348.5h1M179 1348.5h1M183 1348.5h1M185 1348.5h1M187 1348.5h1M189 1348.5h1M205 1348.5h1M217 1348.5h1M222 1348.5h1M225 1348.5h1M141 1349.5h1M178 1349.5h1M187 1349.5h2M191 1349.5h1M197 1349.5h1M203 1349.5h1M207 1349.5h1M209 1349.5h1M211 1349.5h2M214 1349.5h1M221 1349.5h2M228 1349.5h2M152 1350.5h1M171 1350.5h1M176 1350.5h1M179 1350.5h1M190 1350.5h1M195 1350.5h2M203 1350.5h1M205 1350.5h1M208 1350.5h1M221 1350.5h1M166 1351.5h1M178 1351.5h1M184 1351.5h2M188 1351.5h1M192 1351.5h2M196 1351.5h1M201 1351.5h2M204 1351.5h1M210 1351.5h1M213 1351.5h1M215 1351.5h1M173 1352.5h1M180 1352.5h3M190 1352.5h1M192 1352.5h1M197 1352.5h1M205 1352.5h2M209 1352.5h1M211 1352.5h1M214 1352.5h1M216 1352.5h1M223 1352.5h1M228 1352.5h1M184 1353.5h1M188 1353.5h2M191 1353.5h1M197 1353.5h1M202 1353.5h1M207 1353.5h2M210 1353.5h1M216 1353.5h1M218 1353.5h1M225 1353.5h1M180 1354.5h1M182 1354.5h1M191 1354.5h1M199 1354.5h1M201 1354.5h1M213 1354.5h1M223 1354.5h1M157 1355.5h1M177 1355.5h1M185 1355.5h2M190 1355.5h2M193 1355.5h4M200 1355.5h1M202 1355.5h3M208 1355.5h1M215 1355.5h2M218 1355.5h1M227 1355.5h1M235 1355.5h1M187 1356.5h3M194 1356.5h1M198 1356.5h1M212 1356.5h2M192 1357.5h1M194 1357.5h2M199 1357.5h1M215 1357.5h1M158 1358.5h1M173 1358.5h1M178 1358.5h1M189 1358.5h1M199 1358.5h1M201 1358.5h3M210 1358.5h1M159 1359.5h1M174 1359.5h1M187 1359.5h1M190 1359.5h1M195 1359.5h1M207 1359.5h1M215 1359.5h1M152 1360.5h1M181 1360.5h1M183 1360.5h1M185 1360.5h1M200 1360.5h1M204 1360.5h2M207 1360.5h2M212 1360.5h1M216 1360.5h1M219 1360.5h1M225 1360.5h1M163 1361.5h1M172 1361.5h1M186 1361.5h1M197 1361.5h1M199 1361.5h1M203 1361.5h1M207 1361.5h1M212 1361.5h1M217 1361.5h2M167 1362.5h1M179 1362.5h3M189 1362.5h1M194 1362.5h1M196 1362.5h1M198 1362.5h2M204 1362.5h1M210 1362.5h1M214 1362.5h2M221 1362.5h1M223 1362.5h1M225 1362.5h1M176 1363.5h1M189 1363.5h1M193 1363.5h1M203 1363.5h1M218 1363.5h1M220 1363.5h1M154 1364.5h1M170 1364.5h1M178 1364.5h1M193 1364.5h1M195 1364.5h1M199 1364.5h1M201 1364.5h2M209 1364.5h1M215 1364.5h2M218 1364.5h1M227 1364.5h1M165 1365.5h1M200 1365.5h2M204 1365.5h1M208 1365.5h1M212 1365.5h1M214 1365.5h1M225 1365.5h1M192 1366.5h1M207 1366.5h1M211 1366.5h1M223 1366.5h1M186 1367.5h2M192 1367.5h1M196 1367.5h1M204 1367.5h1M206 1367.5h1M210 1367.5h1M226 1367.5h1M185 1368.5h1M194 1368.5h1M199 1368.5h2M209 1368.5h1M214 1368.5h1M217 1368.5h1M173 1369.5h1M190 1369.5h1M199 1369.5h1M212 1369.5h2M220 1369.5h1M169 1370.5h1M200 1370.5h1M203 1370.5h1M211 1370.5h1M174 1371.5h1M185 1371.5h1M192 1371.5h1M194 1371.5h1M196 1371.5h1M200 1371.5h1M212 1371.5h1M227 1371.5h1M199 1372.5h1M201 1372.5h1M203 1372.5h2M207 1372.5h1M209 1372.5h1M213 1372.5h2M175 1373.5h1M181 1373.5h1M205 1373.5h1M213 1373.5h3M230 1373.5h1M178 1374.5h1M185 1374.5h1M189 1374.5h1M199 1374.5h1M204 1374.5h2M212 1374.5h1M230 1374.5h1M183 1375.5h1M185 1375.5h1M188 1375.5h1M191 1375.5h2M195 1375.5h1M209 1375.5h1M221 1375.5h1M226 1375.5h1M174 1376.5h1M187 1376.5h1M201 1376.5h1M204 1376.5h1M215 1376.5h1M219 1376.5h1M172 1377.5h1M202 1377.5h1M218 1377.5h1M193 1378.5h1M198 1378.5h2M203 1378.5h1M214 1378.5h2M218 1378.5h1M222 1378.5h2M185 1379.5h1M187 1379.5h2M203 1379.5h2M167 1380.5h1M208 1380.5h1M211 1380.5h1M184 1381.5h2M189 1381.5h1M200 1381.5h1M209 1381.5h1M159 1382.5h1M217 1382.5h1M226 1382.5h1M188 1383.5h1M201 1383.5h1M207 1383.5h1M194 1384.5h1M197 1384.5h1M168 1385.5h1M181 1385.5h1M197 1385.5h1M172 1386.5h1M180 1386.5h1M184 1386.5h1M189 1386.5h1M211 1386.5h1M174 1387.5h1M195 1387.5h1M214 1387.5h1M163 1388.5h1M186 1388.5h1M194 1388.5h1M196 1388.5h2M202 1388.5h1M192 1390.5h1M190 1391.5h1M194 1391.5h1M203 1391.5h1M218 1391.5h1M173 1392.5h1M195 1392.5h1M216 1392.5h1M198 1393.5h1M214 1393.5h1M164 1394.5h1M172 1394.5h1M193 1394.5h1M153 1395.5h1M198 1395.5h1M206 1395.5h1M165 1396.5h1M172 1396.5h1M202 1397.5h1M198 1399.5h1M200 1403.5h1M211 1405.5h1M193 1406.5h1M202 1408.5h1M200 1414.5h1" fill="none" stroke="#F67E7E" stroke-width="1"/>
<path d="M166 1295.5h1M156 1299.5h1M181 1300.5h1M110 1301.5h1M115 1301.5h1M118 1301.5h1M149 1301.5h1M174 1301.5h1M145 1302.5h1M166 1302.5h1M147 1303.5h1M150 1304.5h1M157 1304.5h1M100 1305.5h1M165 1305.5h1M158 1306.5h1M165 1306.5h1M183 1306.5h1M131 1307.5h1M148 1307.5h1M117 1308.5h2M143 1308.5h1M150 1308.5h1M163 1308.5h1M193 1308.5h1M196 1308.5h1M146 1309.5h1M159 1309.5h1M203 1309.5h1M213 1309.5h1M85 1310.5h1M89 1310.5h1M116 1310.5h1M185 1310.5h1M86 1311.5h1M107 1311.5h1M111 1311.5h1M114 1311.5h1M133 1311.5h1M148 1311.5h1M167 1311.5h1M102 1312.5h1M110 1312.5h1M115 1312.5h1M147 1312.5h1M164 1312.5h1M182 1312.5h1M106 1313.5h1M127 1313.5h1M132 1313.5h1M137 1313.5h1M139 1313.5h1M146 1313.5h1M152 1313.5h1M160 1313.5h1M165 1313.5h1M88 1314.5h1M110 1314.5h1M121 1314.5h1M137 1314.5h1M161 1314.5h2M172 1314.5h1M85 1315.5h1M117 1315.5h1M119 1315.5h1M129 1315.5h1M143 1315.5h1M148 1315.5h1M153 1315.5h2M156 1315.5h1M90 1316.5h1M124 1316.5h1M132 1316.5h1M142 1316.5h1M147 1316.5h1M150 1316.5h2M220 1316.5h1M105 1317.5h1M109 1317.5h1M118 1317.5h1M138 1317.5h2M145 1317.5h1M159 1317.5h1M197 1317.5h1M211 1317.5h1M118 1318.5h1M123 1318.5h1M139 1318.5h1M141 1318.5h1M146 1318.5h1M150 1318.5h1M166 1318.5h1M88 1319.5h1M107 1319.5h1M110 1319.5h1M159 1319.5h1M169 1319.5h1M172 1319.5h1M180 1319.5h1M191 1319.5h1M209 1319.5h1M97 1320.5h1M115 1320.5h1M118 1320.5h1M125 1320.5h1M129 1320.5h1M135 1320.5h2M138 1320.5h1M152 1320.5h1M165 1320.5h1M80 1321.5h1M91 1321.5h1M106 1321.5h1M109 1321.5h1M158 1321.5h1M163 1321.5h1M205 1321.5h1M214 1321.5h1M96 1322.5h1M107 1322.5h1M114 1322.5h1M116 1322.5h1M118 1322.5h1M145 1322.5h1M166 1322.5h1M188 1322.5h2M85 1323.5h1M101 1323.5h1M106 1323.5h1M124 1323.5h2M134 1323.5h2M139 1323.5h1M142 1323.5h1M145 1323.5h1M164 1323.5h1M92 1324.5h1M101 1324.5h1M122 1324.5h3M129 1324.5h1M136 1324.5h1M151 1324.5h1M157 1324.5h2M160 1324.5h2M193 1324.5h1M196 1324.5h1M101 1325.5h2M108 1325.5h1M126 1325.5h2M129 1325.5h3M165 1325.5h1M172 1325.5h1M181 1325.5h2M70 1326.5h1M83 1326.5h1M104 1326.5h1M109 1326.5h1M122 1326.5h1M127 1326.5h1M131 1326.5h3M161 1326.5h1M163 1326.5h1M87 1327.5h1M90 1327.5h1M95 1327.5h1M105 1327.5h1M109 1327.5h1M115 1327.5h1M122 1327.5h1M126 1327.5h1M128 1327.5h1M130 1327.5h2M135 1327.5h1M140 1327.5h1M149 1327.5h2M165 1327.5h2M179 1327.5h1M183 1327.5h1M185 1327.5h1M77 1328.5h1M87 1328.5h1M96 1328.5h2M107 1328.5h1M119 1328.5h1M121 1328.5h1M124 1328.5h1M128 1328.5h1M134 1328.5h1M136 1328.5h1M148 1328.5h1M151 1328.5h1M157 1328.5h1M159 1328.5h1M164 1328.5h1M110 1329.5h1M117 1329.5h1M119 1329.5h1M126 1329.5h1M139 1329.5h1M143 1329.5h1M157 1329.5h1M92 1330.5h1M127 1330.5h1M131 1330.5h1M133 1330.5h1M137 1330.5h1M141 1330.5h1M143 1330.5h1M146 1330.5h1M149 1330.5h1M151 1330.5h2M165 1330.5h1M174 1330.5h1M178 1330.5h1M230 1330.5h1M75 1331.5h1M85 1331.5h1M89 1331.5h1M93 1331.5h1M96 1331.5h1M98 1331.5h1M104 1331.5h3M114 1331.5h1M123 1331.5h1M129 1331.5h1M138 1331.5h1M144 1331.5h1M149 1331.5h1M153 1331.5h2M164 1331.5h1M174 1331.5h1M181 1331.5h1M65 1332.5h1M99 1332.5h1M104 1332.5h1M106 1332.5h1M109 1332.5h1M115 1332.5h1M120 1332.5h1M126 1332.5h1M129 1332.5h1M134 1332.5h1M138 1332.5h1M146 1332.5h1M154 1332.5h1M157 1332.5h1M162 1332.5h1M169 1332.5h1M195 1332.5h1M96 1333.5h1M106 1333.5h1M108 1333.5h1M110 1333.5h1M116 1333.5h1M118 1333.5h1M120 1333.5h3M135 1333.5h2M138 1333.5h1M140 1333.5h5M147 1333.5h3M154 1333.5h2M160 1333.5h1M169 1333.5h1M172 1333.5h2M182 1333.5h1M191 1333.5h1M193 1333.5h2M213 1333.5h1M89 1334.5h1M96 1334.5h1M107 1334.5h1M110 1334.5h1M117 1334.5h1M121 1334.5h1M127 1334.5h2M131 1334.5h1M134 1334.5h1M138 1334.5h1M145 1334.5h1M151 1334.5h1M164 1334.5h1M167 1334.5h1M211 1334.5h2M96 1335.5h1M99 1335.5h1M104 1335.5h1M111 1335.5h1M115 1335.5h1M118 1335.5h1M123 1335.5h1M128 1335.5h1M130 1335.5h4M135 1335.5h1M139 1335.5h1M144 1335.5h1M147 1335.5h3M161 1335.5h1M176 1335.5h1M181 1335.5h1M185 1335.5h1M205 1335.5h1M92 1336.5h1M104 1336.5h2M111 1336.5h1M115 1336.5h1M123 1336.5h1M126 1336.5h1M136 1336.5h1M141 1336.5h2M144 1336.5h2M149 1336.5h1M157 1336.5h2M165 1336.5h1M169 1336.5h1M179 1336.5h1M187 1336.5h1M189 1336.5h1M90 1337.5h1M96 1337.5h2M117 1337.5h1M119 1337.5h1M121 1337.5h1M136 1337.5h1M140 1337.5h1M145 1337.5h1M147 1337.5h1M154 1337.5h1M160 1337.5h1M168 1337.5h1M183 1337.5h1M207 1337.5h1M232 1337.5h1M69 1338.5h1M98 1338.5h1M108 1338.5h1M114 1338.5h1M118 1338.5h1M132 1338.5h3M142 1338.5h1M145 1338.5h3M154 1338.5h1M156 1338.5h1M160 1338.5h1M171 1338.5h1M188 1338.5h2M195 1338.5h1M226 1338.5h1M94 1339.5h1M106 1339.5h1M109 1339.5h1M113 1339.5h1M119 1339.5h1M123 1339.5h1M125 1339.5h1M127 1339.5h1M135 1339.5h1M145 1339.5h1M147 1339.5h1M152 1339.5h2M162 1339.5h1M164 1339.5h1M171 1339.5h1M173 1339.5h1M179 1339.5h1M208 1339.5h1M72 1340.5h1M74 1340.5h1M80 1340.5h1M89 1340.5h1M95 1340.5h3M100 1340.5h1M117 1340.5h2M121 1340.5h4M128 1340.5h2M136 1340.5h4M143 1340.5h1M148 1340.5h4M154 1340.5h1M160 1340.5h3M171 1340.5h1M199 1340.5h1M83 1341.5h1M97 1341.5h1M102 1341.5h1M109 1341.5h1M113 1341.5h1M121 1341.5h2M124 1341.5h1M129 1341.5h1M135 1341.5h1M140 1341.5h1M142 1341.5h1M147 1341.5h2M157 1341.5h1M159 1341.5h1M182 1341.5h1M213 1341.5h1M74 1342.5h1M92 1342.5h1M104 1342.5h1M106 1342.5h1M116 1342.5h1M121 1342.5h2M125 1342.5h1M128 1342.5h1M131 1342.5h1M134 1342.5h3M138 1342.5h1M142 1342.5h4M147 1342.5h1M160 1342.5h1M166 1342.5h2M182 1342.5h1M79 1343.5h1M81 1343.5h1M84 1343.5h1M87 1343.5h1M98 1343.5h2M103 1343.5h1M112 1343.5h1M122 1343.5h1M128 1343.5h1M131 1343.5h2M155 1343.5h2M158 1343.5h1M163 1343.5h2M167 1343.5h2M71 1344.5h1M82 1344.5h1M85 1344.5h1M89 1344.5h1M97 1344.5h1M109 1344.5h2M120 1344.5h3M124 1344.5h2M128 1344.5h1M130 1344.5h2M135 1344.5h1M137 1344.5h1M141 1344.5h2M149 1344.5h1M166 1344.5h1M169 1344.5h1M172 1344.5h1M175 1344.5h1M178 1344.5h1M180 1344.5h1M213 1344.5h1M233 1344.5h1M74 1345.5h1M94 1345.5h2M103 1345.5h1M105 1345.5h1M114 1345.5h1M122 1345.5h1M127 1345.5h1M129 1345.5h1M131 1345.5h1M134 1345.5h3M138 1345.5h1M142 1345.5h1M148 1345.5h1M151 1345.5h2M155 1345.5h1M159 1345.5h2M165 1345.5h1M169 1345.5h1M179 1345.5h1M189 1345.5h1M219 1345.5h1M84 1346.5h1M94 1346.5h1M103 1346.5h1M107 1346.5h2M110 1346.5h2M118 1346.5h2M123 1346.5h1M126 1346.5h1M130 1346.5h1M139 1346.5h1M144 1346.5h1M147 1346.5h1M149 1346.5h2M158 1346.5h2M168 1346.5h2M171 1346.5h1M202 1346.5h1M66 1347.5h1M81 1347.5h2M105 1347.5h1M109 1347.5h1M111 1347.5h2M114 1347.5h2M117 1347.5h1M122 1347.5h1M126 1347.5h1M129 1347.5h1M134 1347.5h1M137 1347.5h2M140 1347.5h1M142 1347.5h2M147 1347.5h1M150 1347.5h2M153 1347.5h2M170 1347.5h1M173 1347.5h1M175 1347.5h2M87 1348.5h1M110 1348.5h1M119 1348.5h3M124 1348.5h1M126 1348.5h1M129 1348.5h2M133 1348.5h1M137 1348.5h1M139 1348.5h3M148 1348.5h1M155 1348.5h1M165 1348.5h1M175 1348.5h1M181 1348.5h1M188 1348.5h1M195 1348.5h1M81 1349.5h1M84 1349.5h1M86 1349.5h1M91 1349.5h1M93 1349.5h1M97 1349.5h1M106 1349.5h1M110 1349.5h1M117 1349.5h1M121 1349.5h2M125 1349.5h1M127 1349.5h3M132 1349.5h1M136 1349.5h1M140 1349.5h1M142 1349.5h1M145 1349.5h1M148 1349.5h1M158 1349.5h1M171 1349.5h1M174 1349.5h1M91 1350.5h1M98 1350.5h1M103 1350.5h2M107 1350.5h1M115 1350.5h1M117 1350.5h2M123 1350.5h1M130 1350.5h1M132 1350.5h1M140 1350.5h1M142 1350.5h1M146 1350.5h1M148 1350.5h1M153 1350.5h1M157 1350.5h2M166 1350.5h2M173 1350.5h1M175 1350.5h1M182 1350.5h2M206 1350.5h1M81 1351.5h1M109 1351.5h2M112 1351.5h2M117 1351.5h1M122 1351.5h1M124 1351.5h1M126 1351.5h1M130 1351.5h1M133 1351.5h2M136 1351.5h1M139 1351.5h1M142 1351.5h1M147 1351.5h1M149 1351.5h1M153 1351.5h1M160 1351.5h2M163 1351.5h1M169 1351.5h1M171 1351.5h2M174 1351.5h2M181 1351.5h1M191 1351.5h1M236 1351.5h1M97 1352.5h1M103 1352.5h2M107 1352.5h1M118 1352.5h1M127 1352.5h1M131 1352.5h1M133 1352.5h1M136 1352.5h2M140 1352.5h1M142 1352.5h1M146 1352.5h1M151 1352.5h2M162 1352.5h1M164 1352.5h1M178 1352.5h1M183 1352.5h2M191 1352.5h1M195 1352.5h1M201 1352.5h2M68 1353.5h1M81 1353.5h1M84 1353.5h1M94 1353.5h1M96 1353.5h1M104 1353.5h1M106 1353.5h1M108 1353.5h1M120 1353.5h2M123 1353.5h1M129 1353.5h1M132 1353.5h1M135 1353.5h1M143 1353.5h1M148 1353.5h1M150 1353.5h1M154 1353.5h1M159 1353.5h2M162 1353.5h1M165 1353.5h2M182 1353.5h2M192 1353.5h1M203 1353.5h1M82 1354.5h1M84 1354.5h1M90 1354.5h1M96 1354.5h2M118 1354.5h1M121 1354.5h2M126 1354.5h1M130 1354.5h1M132 1354.5h2M138 1354.5h1M143 1354.5h2M146 1354.5h1M155 1354.5h1M160 1354.5h1M163 1354.5h1M167 1354.5h2M192 1354.5h1M196 1354.5h1M215 1354.5h1M80 1355.5h1M96 1355.5h1M102 1355.5h2M105 1355.5h1M110 1355.5h2M113 1355.5h1M115 1355.5h1M118 1355.5h2M122 1355.5h1M128 1355.5h1M136 1355.5h1M144 1355.5h1M147 1355.5h1M154 1355.5h1M169 1355.5h1M175 1355.5h1M182 1355.5h1M211 1355.5h1M91 1356.5h1M95 1356.5h1M101 1356.5h1M103 1356.5h1M106 1356.5h2M114 1356.5h1M116 1356.5h1M146 1356.5h1M148 1356.5h2M151 1356.5h1M153 1356.5h2M158 1356.5h1M167 1356.5h2M179 1356.5h1M185 1356.5h1M203 1356.5h1M92 1357.5h1M96 1357.5h2M113 1357.5h1M115 1357.5h1M125 1357.5h1M127 1357.5h1M135 1357.5h1M143 1357.5h1M145 1357.5h1M147 1357.5h1M150 1357.5h1M155 1357.5h2M168 1357.5h1M173 1357.5h2M183 1357.5h1M197 1357.5h1M200 1357.5h2M205 1357.5h1M95 1358.5h1M100 1358.5h1M103 1358.5h1M105 1358.5h1M109 1358.5h1M111 1358.5h1M114 1358.5h1M116 1358.5h1M119 1358.5h2M127 1358.5h1M129 1358.5h1M132 1358.5h1M137 1358.5h3M147 1358.5h2M150 1358.5h1M152 1358.5h2M157 1358.5h1M159 1358.5h1M162 1358.5h1M175 1358.5h1M92 1359.5h1M94 1359.5h1M101 1359.5h1M119 1359.5h1M123 1359.5h1M125 1359.5h1M127 1359.5h1M133 1359.5h1M138 1359.5h1M143 1359.5h1M145 1359.5h1M147 1359.5h1M149 1359.5h2M152 1359.5h1M154 1359.5h1M169 1359.5h1M171 1359.5h1M196 1359.5h1M78 1360.5h1M92 1360.5h1M99 1360.5h1M112 1360.5h1M115 1360.5h1M125 1360.5h2M129 1360.5h4M135 1360.5h1M137 1360.5h2M141 1360.5h2M145 1360.5h1M150 1360.5h1M163 1360.5h1M171 1360.5h1M175 1360.5h1M184 1360.5h1M190 1360.5h1M224 1360.5h1M73 1361.5h1M90 1361.5h1M95 1361.5h1M99 1361.5h1M102 1361.5h2M105 1361.5h1M111 1361.5h1M113 1361.5h1M118 1361.5h2M121 1361.5h2M125 1361.5h1M129 1361.5h1M131 1361.5h1M136 1361.5h1M141 1361.5h1M146 1361.5h5M159 1361.5h1M167 1361.5h1M171 1361.5h1M177 1361.5h1M182 1361.5h1M196 1361.5h1M99 1362.5h1M101 1362.5h1M103 1362.5h1M105 1362.5h1M111 1362.5h2M119 1362.5h3M125 1362.5h2M131 1362.5h1M135 1362.5h1M145 1362.5h1M154 1362.5h1M156 1362.5h2M161 1362.5h1M169 1362.5h2M175 1362.5h1M68 1363.5h1M100 1363.5h1M105 1363.5h1M110 1363.5h1M114 1363.5h1M118 1363.5h2M128 1363.5h1M131 1363.5h1M139 1363.5h1M142 1363.5h1M147 1363.5h1M163 1363.5h1M166 1363.5h2M181 1363.5h2M192 1363.5h1M197 1363.5h1M217 1363.5h1M92 1364.5h1M105 1364.5h2M110 1364.5h1M123 1364.5h1M125 1364.5h1M128 1364.5h1M136 1364.5h1M140 1364.5h1M142 1364.5h1M151 1364.5h2M163 1364.5h1M165 1364.5h1M168 1364.5h1M173 1364.5h1M197 1364.5h1M88 1365.5h2M93 1365.5h1M102 1365.5h2M106 1365.5h1M110 1365.5h1M114 1365.5h4M126 1365.5h1M131 1365.5h1M135 1365.5h1M137 1365.5h2M140 1365.5h2M143 1365.5h1M157 1365.5h1M161 1365.5h1M169 1365.5h1M183 1365.5h1M190 1365.5h1M210 1365.5h1M100 1366.5h1M112 1366.5h1M117 1366.5h1M124 1366.5h1M127 1366.5h1M131 1366.5h1M133 1366.5h1M135 1366.5h1M142 1366.5h1M144 1366.5h1M160 1366.5h1M166 1366.5h1M175 1366.5h1M189 1366.5h1M193 1366.5h1M196 1366.5h1M209 1366.5h1M91 1367.5h1M94 1367.5h1M97 1367.5h1M100 1367.5h1M109 1367.5h2M112 1367.5h1M116 1367.5h1M122 1367.5h1M124 1367.5h2M131 1367.5h1M134 1367.5h1M139 1367.5h1M141 1367.5h1M151 1367.5h1M154 1367.5h2M157 1367.5h1M159 1367.5h1M169 1367.5h3M179 1367.5h1M190 1367.5h1M222 1367.5h1M80 1368.5h1M85 1368.5h1M97 1368.5h1M101 1368.5h1M110 1368.5h1M120 1368.5h1M129 1368.5h1M139 1368.5h3M152 1368.5h1M155 1368.5h1M157 1368.5h1M173 1368.5h2M224 1368.5h1M96 1369.5h1M98 1369.5h1M108 1369.5h1M114 1369.5h1M118 1369.5h2M136 1369.5h2M145 1369.5h2M154 1369.5h1M158 1369.5h1M161 1369.5h1M170 1369.5h1M176 1369.5h1M197 1369.5h1M224 1369.5h1M80 1370.5h1M86 1370.5h1M101 1370.5h1M107 1370.5h1M110 1370.5h1M112 1370.5h1M114 1370.5h2M117 1370.5h2M127 1370.5h1M129 1370.5h3M139 1370.5h1M144 1370.5h1M147 1370.5h1M153 1370.5h1M177 1370.5h1M183 1370.5h1M196 1370.5h1M95 1371.5h1M100 1371.5h1M107 1371.5h1M110 1371.5h2M115 1371.5h1M126 1371.5h1M131 1371.5h2M145 1371.5h3M149 1371.5h1M153 1371.5h1M165 1371.5h2M183 1371.5h1M205 1371.5h1M84 1372.5h1M90 1372.5h1M97 1372.5h1M104 1372.5h1M109 1372.5h1M112 1372.5h1M117 1372.5h2M127 1372.5h1M139 1372.5h1M145 1372.5h1M152 1372.5h1M160 1372.5h1M163 1372.5h1M166 1372.5h1M176 1372.5h1M179 1372.5h2M186 1372.5h1M206 1372.5h1M210 1372.5h1M219 1372.5h1M81 1373.5h1M98 1373.5h1M115 1373.5h1M120 1373.5h1M123 1373.5h1M129 1373.5h1M132 1373.5h1M170 1373.5h1M174 1373.5h1M101 1374.5h1M113 1374.5h1M115 1374.5h4M122 1374.5h1M135 1374.5h1M154 1374.5h1M157 1374.5h1M163 1374.5h1M167 1374.5h1M188 1374.5h1M83 1375.5h1M92 1375.5h2M95 1375.5h1M97 1375.5h1M106 1375.5h1M108 1375.5h2M111 1375.5h1M113 1375.5h1M120 1375.5h1M125 1375.5h1M127 1375.5h1M131 1375.5h1M153 1375.5h1M156 1375.5h1M162 1375.5h1M181 1375.5h1M199 1375.5h1M99 1376.5h1M110 1376.5h1M118 1376.5h2M125 1376.5h1M147 1376.5h1M150 1376.5h1M153 1376.5h1M168 1376.5h1M170 1376.5h1M200 1376.5h1M99 1377.5h1M105 1377.5h1M123 1377.5h2M134 1377.5h1M136 1377.5h1M141 1377.5h1M150 1377.5h1M169 1377.5h1M221 1377.5h1M86 1378.5h1M106 1378.5h1M109 1378.5h2M119 1378.5h2M123 1378.5h1M133 1378.5h1M145 1378.5h1M153 1378.5h1M157 1378.5h1M175 1378.5h1M75 1379.5h1M83 1379.5h1M95 1379.5h1M97 1379.5h1M100 1379.5h1M111 1379.5h1M123 1379.5h1M129 1379.5h1M136 1379.5h1M140 1379.5h1M145 1379.5h1M151 1379.5h1M153 1379.5h1M167 1379.5h1M171 1379.5h2M195 1379.5h1M91 1380.5h1M108 1380.5h1M117 1380.5h1M120 1380.5h2M125 1380.5h1M128 1380.5h1M146 1380.5h1M155 1380.5h1M166 1380.5h1M178 1380.5h1M181 1380.5h1M82 1381.5h1M85 1381.5h1M88 1381.5h1M114 1381.5h1M121 1381.5h1M142 1381.5h1M148 1381.5h1M157 1381.5h1M164 1381.5h1M166 1381.5h1M169 1381.5h1M178 1381.5h1M94 1382.5h1M97 1382.5h1M99 1382.5h2M121 1382.5h1M124 1382.5h1M131 1382.5h1M145 1382.5h1M154 1382.5h1M179 1382.5h1M199 1382.5h1M209 1382.5h1M93 1383.5h1M96 1383.5h1M105 1383.5h1M116 1383.5h1M124 1383.5h1M134 1383.5h1M136 1383.5h2M148 1383.5h1M85 1384.5h1M95 1384.5h1M101 1384.5h1M132 1384.5h2M143 1384.5h1M145 1384.5h1M159 1384.5h1M105 1385.5h1M109 1385.5h1M171 1385.5h1M193 1385.5h1M94 1386.5h1M112 1386.5h2M122 1386.5h1M146 1386.5h1M150 1386.5h1M190 1386.5h1M206 1386.5h1M98 1387.5h1M129 1387.5h2M147 1387.5h1M202 1387.5h1M86 1388.5h1M127 1388.5h1M174 1388.5h1M217 1388.5h1M95 1389.5h1M111 1389.5h1M114 1389.5h1M124 1389.5h1M152 1389.5h1M120 1390.5h1M128 1390.5h1M140 1391.5h1M137 1393.5h1M147 1393.5h1M183 1393.5h2M119 1394.5h1M146 1395.5h1M149 1395.5h1M171 1395.5h1M119 1396.5h1M168 1396.5h1M142 1397.5h1M174 1398.5h1M134 1399.5h1M139 1400.5h1M124 1401.5h1M138 1401.5h1M147 1401.5h1M160 1401.5h1M141 1406.5h1" fill="none" stroke="#84BEF8" stroke-width="1"/>
<path d="M203 1281.5h1M208 1281.5h1M203 1289.5h1M193 1297.5h1M196 1298.5h1M191 1300.5h1M222 1302.5h1M207 1305.5h1M213 1305.5h1M188 1309.5h1M183 1310.5h1M162 1311.5h1M204 1311.5h1M186 1312.5h1M206 1312.5h1M196 1313.5h1M208 1313.5h1M217 1313.5h1M219 1313.5h1M192 1314.5h1M224 1314.5h1M187 1315.5h1M203 1315.5h1M187 1316.5h1M193 1316.5h1M204 1316.5h1M190 1317.5h1M206 1318.5h1M218 1318.5h1M223 1318.5h1M197 1319.5h1M205 1319.5h1M199 1320.5h1M226 1320.5h1M181 1321.5h1M184 1321.5h1M189 1321.5h1M199 1321.5h1M191 1322.5h1M194 1322.5h1M202 1322.5h1M177 1323.5h1M190 1323.5h1M210 1323.5h2M206 1324.5h1M215 1325.5h2M194 1326.5h1M220 1326.5h1M204 1327.5h1M190 1328.5h1M193 1328.5h1M212 1328.5h1M217 1328.5h1M185 1329.5h1M191 1330.5h1M217 1330.5h1M158 1331.5h1M179 1331.5h1M188 1331.5h1M212 1331.5h1M202 1332.5h1M210 1332.5h1M166 1333.5h1M176 1333.5h1M184 1333.5h1M187 1333.5h1M198 1333.5h1M204 1333.5h1M195 1334.5h1M199 1334.5h1M177 1335.5h1M201 1336.5h1M179 1337.5h1M218 1337.5h1M158 1339.5h1M196 1339.5h1M178 1341.5h1M180 1341.5h1M189 1341.5h1M186 1342.5h1M188 1342.5h1M194 1342.5h1M196 1342.5h1M205 1342.5h1M209 1342.5h1M217 1342.5h1M189 1343.5h1M168 1344.5h1M194 1344.5h1M187 1345.5h1M208 1345.5h2M221 1346.5h1M189 1347.5h1M223 1348.5h1M176 1349.5h1M198 1349.5h1M201 1350.5h1M207 1350.5h1M215 1352.5h1M195 1353.5h1M200 1353.5h1M213 1353.5h1M151 1354.5h1M162 1354.5h1M188 1354.5h1M206 1354.5h1M214 1354.5h1M225 1354.5h1M183 1355.5h1M197 1355.5h1M217 1356.5h1M206 1357.5h1M224 1357.5h1M185 1358.5h1M197 1358.5h1M222 1358.5h1M140 1359.5h1M189 1359.5h1M209 1359.5h1M212 1359.5h1M192 1360.5h1M166 1361.5h1M181 1361.5h1M206 1361.5h1M208 1361.5h1M226 1361.5h1M198 1363.5h1M180 1364.5h1M196 1364.5h1M203 1364.5h1M174 1366.5h1M194 1366.5h2M201 1366.5h1M204 1366.5h1M219 1366.5h1M180 1367.5h1M195 1367.5h1M198 1367.5h1M197 1368.5h1M207 1369.5h1M211 1369.5h1M185 1370.5h1M205 1370.5h1M208 1370.5h1M212 1370.5h1M193 1372.5h1M215 1372.5h1M216 1373.5h1M143 1374.5h1M179 1374.5h1M202 1374.5h1M213 1374.5h1M218 1375.5h1M191 1376.5h1M188 1377.5h1M196 1377.5h1M215 1377.5h1M194 1379.5h1M194 1382.5h1M219 1382.5h1M198 1386.5h1M179 1387.5h1M209 1387.5h1M205 1388.5h1M166 1394.5h1M181 1394.5h1M209 1398.5h1M204 1406.5h1" fill="none" stroke="#F67E7E" stroke-width="1"/>
<line x1="164.8" y1="1174" x2="164.8" y2="1443.7" stroke="#000" stroke-width="1.6"/>
<line x1="64.4" y1="1352" x2="335.3" y2="1352" stroke="#000" stroke-width="1.6"/>
<path d="M57.9 1202.9h6.5M57.9 1253.8h6.5M57.9 1313h6.5M57.9 1373.4h6.5M57.9 1429h6.5M57.9 1371.5h6.5M57.9 1372.5h6.5M57.9 1374.5h6.5M57.9 1375.5h6.5M60.9 1175.7h3.5M60.9 1179.2h3.5M60.9 1182.8h3.5M60.9 1188.7h3.5M60.9 1195.8h3.5M60.9 1206.4h3.5M60.9 1210h3.5M60.9 1214.7h3.5M60.9 1221.8h3.5M60.9 1232.6h3.5M60.9 1259.7h3.5M60.9 1268h3.5M60.9 1278.6h3.5M60.9 1294h3.5M60.9 1321.3h3.5M60.9 1330.8h3.5M60.9 1341.5h3.5M60.9 1350.9h3.5M60.9 1359.2h3.5M60.9 1366.3h3.5M60.9 1379.3h3.5M60.9 1386.4h3.5M60.9 1395.9h3.5M60.9 1407.7h3.5M60.9 1418.3h3.5M60.9 1438.6h3.5M78.2 1443.7v6.5M136.2 1443.7v6.5M194.7 1443.7v6.5M255 1443.7v6.5M304.8 1443.7v6.5M134.4 1443.7v6.5M135.4 1443.7v6.5M137 1443.7v6.5M138 1443.7v6.5M84.1 1443.7v3.5M90 1443.7v3.5M94.7 1443.7v3.5M99.5 1443.7v3.5M106.6 1443.7v3.5M116 1443.7v3.5M127.9 1443.7v3.5M132.6 1443.7v3.5M139.7 1443.7v3.5M144.5 1443.7v3.5M151.6 1443.7v3.5M156.3 1443.7v3.5M161 1443.7v3.5M164.8 1443.7v3.5M170.5 1443.7v3.5M176.4 1443.7v3.5M182.3 1443.7v3.5M187.1 1443.7v3.5M190.6 1443.7v3.5M217.9 1443.7v3.5M229.7 1443.7v3.5M239.2 1443.7v3.5M246.3 1443.7v3.5M251 1443.7v3.5M274.7 1443.7v3.5M284.1 1443.7v3.5M292.4 1443.7v3.5M297.2 1443.7v3.5M300.7 1443.7v3.5M317.4 1443.7v3.5M326.9 1443.7v3.5M333.9 1443.7v3.5" fill="none" stroke="#000" stroke-width="1.3"/>
<rect x="64.4" y="1174" width="270.9" height="269.7" fill="none" stroke="#000" stroke-width="1.8"/>
<circle cx="219" cy="1195.8" r="7" fill="#6A9FD4"/>
<rect x="212" y="1216.7" width="14" height="14" fill="#C0403F"/>
<text x="236" y="1204.3" textLength="83.2" lengthAdjust="spacingAndGlyphs">EGFRt<tspan font-size="16" dy="-12">−</tspan></text>
<text x="236" y="1232.2" textLength="83.2" lengthAdjust="spacingAndGlyphs">EGFRt<tspan font-size="16" dy="-12">+</tspan></text>
<line x1="35.5" y1="1283.4" x2="35.5" y2="1188" stroke="#000" stroke-width="2.2"/>
<path d="M35.5 1178L30 1192L35.5 1190L41 1192Z" fill="#000"/>
<text x="42.5" y="1371" textLength="152.8" lengthAdjust="spacingAndGlyphs" text-anchor="middle" transform="rotate(-90 42.5 1371)">TCF1 (AF647)</text>
<text x="62" y="1483.5" textLength="162.5" lengthAdjust="spacingAndGlyphs">TOX (VioB515)</text>
<line x1="240.4" y1="1475.2" x2="325" y2="1475.2" stroke="#000" stroke-width="2.2"/>
<path d="M335 1475.2L321 1469.7L323 1475.2L321 1480.7Z" fill="#000"/>
<line x1="500.6" y1="1200.9" x2="500.6" y2="1558.8" stroke="#333333" stroke-width="1.8"/>
<line x1="490.6" y1="1558.8" x2="500.6" y2="1558.8" stroke="#333333" stroke-width="1.8"/>
<text x="478.4" y="1567.7" textLength="13.9" lengthAdjust="spacingAndGlyphs" text-anchor="end">0</text>
<line x1="490.6" y1="1487.4" x2="500.6" y2="1487.4" stroke="#333333" stroke-width="1.8"/>
<text x="478.4" y="1496.3" textLength="27.8" lengthAdjust="spacingAndGlyphs" text-anchor="end">20</text>
<line x1="490.6" y1="1416" x2="500.6" y2="1416" stroke="#333333" stroke-width="1.8"/>
<text x="478.4" y="1424.9" textLength="27.8" lengthAdjust="spacingAndGlyphs" text-anchor="end">40</text>
<line x1="490.6" y1="1344.6" x2="500.6" y2="1344.6" stroke="#333333" stroke-width="1.8"/>
<text x="478.4" y="1353.5" textLength="27.8" lengthAdjust="spacingAndGlyphs" text-anchor="end">60</text>
<line x1="490.6" y1="1273.2" x2="500.6" y2="1273.2" stroke="#333333" stroke-width="1.8"/>
<text x="478.4" y="1282.1" textLength="27.8" lengthAdjust="spacingAndGlyphs" text-anchor="end">80</text>
<line x1="490.6" y1="1201.8" x2="500.6" y2="1201.8" stroke="#333333" stroke-width="1.8"/>
<text x="478.4" y="1210.7" textLength="41.7" lengthAdjust="spacingAndGlyphs" text-anchor="end">100</text>
<rect x="525.6" y="1494.4" width="44" height="64.4" fill="#CACACA" stroke="#9B9B9B" stroke-width="2.3"/>
<line x1="547.6" y1="1494.4" x2="547.6" y2="1484.5" stroke="#9B9B9B" stroke-width="2.3"/>
<line x1="536.1" y1="1484.5" x2="559.1" y2="1484.5" stroke="#9B9B9B" stroke-width="2.3"/>
<rect x="587.5" y="1498.2" width="44" height="60.6" fill="#B4CEE8" stroke="#6A9FD4" stroke-width="2.3"/>
<line x1="609.5" y1="1498.2" x2="609.5" y2="1486.4" stroke="#6A9FD4" stroke-width="2.3"/>
<line x1="598" y1="1486.4" x2="621" y2="1486.4" stroke="#6A9FD4" stroke-width="2.3"/>
<rect x="650.3" y="1541.4" width="44" height="17.4" fill="#DB9A9C" stroke="#C0403F" stroke-width="2.3"/>
<line x1="672.3" y1="1541.4" x2="672.3" y2="1529.2" stroke="#C0403F" stroke-width="2.3"/>
<line x1="660.8" y1="1529.2" x2="683.8" y2="1529.2" stroke="#C0403F" stroke-width="2.3"/>
<rect x="743.5" y="1462.9" width="44" height="95.9" fill="#CACACA" stroke="#9B9B9B" stroke-width="2.3"/>
<line x1="765.5" y1="1462.9" x2="765.5" y2="1442.1" stroke="#9B9B9B" stroke-width="2.3"/>
<line x1="754" y1="1442.1" x2="777" y2="1442.1" stroke="#9B9B9B" stroke-width="2.3"/>
<rect x="805.6" y="1475.4" width="44" height="83.4" fill="#B4CEE8" stroke="#6A9FD4" stroke-width="2.3"/>
<line x1="827.6" y1="1475.4" x2="827.6" y2="1456.1" stroke="#6A9FD4" stroke-width="2.3"/>
<line x1="816.1" y1="1456.1" x2="839.1" y2="1456.1" stroke="#6A9FD4" stroke-width="2.3"/>
<rect x="868.5" y="1377.7" width="44" height="181.1" fill="#DB9A9C" stroke="#C0403F" stroke-width="2.3"/>
<line x1="890.5" y1="1377.7" x2="890.5" y2="1325.4" stroke="#C0403F" stroke-width="2.3"/>
<line x1="879" y1="1325.4" x2="902" y2="1325.4" stroke="#C0403F" stroke-width="2.3"/>
<rect x="961.5" y="1542.5" width="44" height="16.3" fill="#CACACA" stroke="#9B9B9B" stroke-width="2.3"/>
<line x1="983.5" y1="1542.5" x2="983.5" y2="1534.2" stroke="#9B9B9B" stroke-width="2.3"/>
<line x1="972" y1="1534.2" x2="995" y2="1534.2" stroke="#9B9B9B" stroke-width="2.3"/>
<rect x="1023.9" y="1540.6" width="44" height="18.2" fill="#B4CEE8" stroke="#6A9FD4" stroke-width="2.3"/>
<line x1="1045.9" y1="1540.6" x2="1045.9" y2="1531.9" stroke="#6A9FD4" stroke-width="2.3"/>
<line x1="1034.4" y1="1531.9" x2="1057.4" y2="1531.9" stroke="#6A9FD4" stroke-width="2.3"/>
<rect x="1086.2" y="1462.2" width="44" height="96.6" fill="#DB9A9C" stroke="#C0403F" stroke-width="2.3"/>
<line x1="1108.2" y1="1462.2" x2="1108.2" y2="1436.8" stroke="#C0403F" stroke-width="2.3"/>
<line x1="1096.7" y1="1436.8" x2="1119.7" y2="1436.8" stroke="#C0403F" stroke-width="2.3"/>
<line x1="490.6" y1="1558.8" x2="1155" y2="1558.8" stroke="#333333" stroke-width="1.8"/>
<line x1="609.3" y1="1558.8" x2="609.3" y2="1568.8" stroke="#333333" stroke-width="1.8"/>
<line x1="827.6" y1="1558.8" x2="827.6" y2="1568.8" stroke="#333333" stroke-width="1.8"/>
<line x1="1045.1" y1="1558.8" x2="1045.1" y2="1568.8" stroke="#333333" stroke-width="1.8"/>
<path d="M531.7 1486.12L538.8 1497.92L524.6 1497.92Z" fill="#9B9B9B"/>
<path d="M540 1477.42L547.1 1489.22L532.9 1489.22Z" fill="#9B9B9B"/>
<path d="M555.9 1474.82L563 1486.62L548.8 1486.62Z" fill="#9B9B9B"/>
<path d="M547.6 1491.12L554.7 1502.92L540.5 1502.92Z" fill="#9B9B9B"/>
<path d="M531.7 1498.32L538.8 1510.12L524.6 1510.12Z" fill="#9B9B9B"/>
<path d="M562.7 1493.72L569.8 1505.52L555.6 1505.52Z" fill="#9B9B9B"/>
<circle cx="609.3" cy="1484.9" r="5.6" fill="#6A9FD4"/>
<circle cx="593.8" cy="1495.1" r="5.6" fill="#6A9FD4"/>
<circle cx="625.3" cy="1495.1" r="5.6" fill="#6A9FD4"/>
<circle cx="609.3" cy="1493.2" r="5.6" fill="#6A9FD4"/>
<circle cx="609.3" cy="1503.5" r="5.6" fill="#6A9FD4"/>
<circle cx="609.3" cy="1517.9" r="5.6" fill="#6A9FD4"/>
<rect x="658.5" y="1523.8" width="10.8" height="10.8" fill="#C0403F"/>
<rect x="674" y="1522" width="10.8" height="10.8" fill="#C0403F"/>
<rect x="650.2" y="1536" width="10.8" height="10.8" fill="#C0403F"/>
<rect x="682.4" y="1536" width="10.8" height="10.8" fill="#C0403F"/>
<rect x="666.5" y="1540.9" width="10.8" height="10.8" fill="#C0403F"/>
<rect x="666.5" y="1552.3" width="10.8" height="10.8" fill="#C0403F"/>
<path d="M765.5 1421.72L772.6 1433.52L758.4 1433.52Z" fill="#9B9B9B"/>
<path d="M749.5 1453.92L756.6 1465.72L742.4 1465.72Z" fill="#9B9B9B"/>
<path d="M780.6 1455.82L787.7 1467.62L773.5 1467.62Z" fill="#9B9B9B"/>
<path d="M765.5 1468.32L772.6 1480.12L758.4 1480.12Z" fill="#9B9B9B"/>
<path d="M765.5 1479.72L772.6 1491.52L758.4 1491.52Z" fill="#9B9B9B"/>
<path d="M765.5 1454.92L772.6 1466.72L758.4 1466.72Z" fill="#9B9B9B"/>
<circle cx="827.6" cy="1439" r="5.6" fill="#6A9FD4"/>
<circle cx="812" cy="1474.3" r="5.6" fill="#6A9FD4"/>
<circle cx="822.3" cy="1480" r="5.6" fill="#6A9FD4"/>
<circle cx="812" cy="1486.8" r="5.6" fill="#6A9FD4"/>
<circle cx="832.9" cy="1483.8" r="5.6" fill="#6A9FD4"/>
<circle cx="843.1" cy="1483.8" r="5.6" fill="#6A9FD4"/>
<rect x="884.7" y="1279.8" width="10.8" height="10.8" fill="#C0403F"/>
<rect x="884.7" y="1346.9" width="10.8" height="10.8" fill="#C0403F"/>
<rect x="884.7" y="1378" width="10.8" height="10.8" fill="#C0403F"/>
<rect x="868.8" y="1396.9" width="10.8" height="10.8" fill="#C0403F"/>
<rect x="901" y="1404.9" width="10.8" height="10.8" fill="#C0403F"/>
<rect x="884.7" y="1422.3" width="10.8" height="10.8" fill="#C0403F"/>
<path d="M988.3 1522.92L995.4 1534.72L981.2 1534.72Z" fill="#9B9B9B"/>
<path d="M977.7 1531.62L984.8 1543.42L970.6 1543.42Z" fill="#9B9B9B"/>
<path d="M966.3 1534.32L973.4 1546.12L959.2 1546.12Z" fill="#9B9B9B"/>
<path d="M1000.4 1539.22L1007.5 1551.02L993.3 1551.02Z" fill="#9B9B9B"/>
<path d="M966.3 1543.02L973.4 1554.82L959.2 1554.82Z" fill="#9B9B9B"/>
<path d="M983.5 1535.92L990.6 1547.72L976.4 1547.72Z" fill="#9B9B9B"/>
<circle cx="1045.9" cy="1525.5" r="5.6" fill="#6A9FD4"/>
<circle cx="1038.3" cy="1540.6" r="5.6" fill="#6A9FD4"/>
<circle cx="1053.5" cy="1540.6" r="5.6" fill="#6A9FD4"/>
<circle cx="1030.7" cy="1545.2" r="5.6" fill="#6A9FD4"/>
<circle cx="1062.1" cy="1546.3" r="5.6" fill="#6A9FD4"/>
<circle cx="1045.9" cy="1538.7" r="5.6" fill="#6A9FD4"/>
<rect x="1095.4" y="1437.5" width="10.8" height="10.8" fill="#C0403F"/>
<rect x="1110.6" y="1434.8" width="10.8" height="10.8" fill="#C0403F"/>
<rect x="1087.8" y="1451.8" width="10.8" height="10.8" fill="#C0403F"/>
<rect x="1118.9" y="1451.8" width="10.8" height="10.8" fill="#C0403F"/>
<rect x="1103" y="1457.5" width="10.8" height="10.8" fill="#C0403F"/>
<rect x="1103" y="1502.2" width="10.8" height="10.8" fill="#C0403F"/>
<line x1="546.8" y1="1225.3" x2="671.9" y2="1225.3" stroke="#000" stroke-width="2.6"/>
<text x="608.5" y="1214.7" textLength="121.5" lengthAdjust="spacingAndGlyphs" text-anchor="middle"><tspan font-style="italic">P</tspan> = 0.0012</text>
<line x1="546.8" y1="1264" x2="609.3" y2="1264" stroke="#000" stroke-width="2.6"/>
<text x="578.5" y="1254.5" textLength="34.2" lengthAdjust="spacingAndGlyphs" text-anchor="middle">NS</text>
<line x1="765.1" y1="1225.3" x2="890.1" y2="1225.3" stroke="#000" stroke-width="2.6"/>
<text x="826.7" y="1214.7" textLength="121.5" lengthAdjust="spacingAndGlyphs" text-anchor="middle"><tspan font-style="italic">P</tspan> &lt; 0.0001</text>
<line x1="765.1" y1="1264" x2="827.6" y2="1264" stroke="#000" stroke-width="2.6"/>
<text x="796.3" y="1254.5" textLength="34.2" lengthAdjust="spacingAndGlyphs" text-anchor="middle">NS</text>
<line x1="983.3" y1="1225.3" x2="1108.4" y2="1225.3" stroke="#000" stroke-width="2.6"/>
<text x="1044.4" y="1214.7" textLength="121.5" lengthAdjust="spacingAndGlyphs" text-anchor="middle"><tspan font-style="italic">P</tspan> &lt; 0.0001</text>
<line x1="983.3" y1="1264" x2="1045.1" y2="1264" stroke="#000" stroke-width="2.6"/>
<text x="1014.6" y="1254.5" textLength="34.2" lengthAdjust="spacingAndGlyphs" text-anchor="middle">NS</text>
<path d="M545.7 1316.2L553 1330.2L538.4 1330.2Z" fill="#9B9B9B"/>
<circle cx="545.7" cy="1351.9" r="6.9" fill="#6A9FD4"/>
<rect x="539" y="1374" width="13.4" height="13.4" fill="#C0403F"/>
<text x="563.9" y="1331.5" textLength="82.4" lengthAdjust="spacingAndGlyphs">Control</text>
<text x="563.9" y="1360" textLength="83.2" lengthAdjust="spacingAndGlyphs">EGFRt<tspan font-size="16" dy="-12">−</tspan></text>
<text x="563.9" y="1388.5" textLength="83.2" lengthAdjust="spacingAndGlyphs">EGFRt<tspan font-size="16" dy="-12">+</tspan></text>
<text x="609.3" y="1603.5" textLength="128.5" lengthAdjust="spacingAndGlyphs" text-anchor="middle">TCF1<tspan font-size="16" dy="-12">+</tspan><tspan dy="12">TOX</tspan><tspan font-size="16" dy="-12">−</tspan></text>
<text x="827.6" y="1603.5" textLength="128.5" lengthAdjust="spacingAndGlyphs" text-anchor="middle">TCF1<tspan font-size="16" dy="-12">−</tspan><tspan dy="12">TOX</tspan><tspan font-size="16" dy="-12">+</tspan></text>
<text x="1045.1" y="1603.5" textLength="128.5" lengthAdjust="spacingAndGlyphs" text-anchor="middle">TCF1<tspan font-size="16" dy="-12">+</tspan><tspan dy="12">TOX</tspan><tspan font-size="16" dy="-12">+</tspan></text>
<text x="396" y="1380" textLength="146.8" lengthAdjust="spacingAndGlyphs" text-anchor="middle" transform="rotate(-90 396 1380)">Frequency of</text>
<text x="425" y="1380" textLength="231.8" lengthAdjust="spacingAndGlyphs" text-anchor="middle" transform="rotate(-90 425 1380)">non-naive T cells (%)</text>
<path d="M1304 1293.5h1M1301 1294.5h1M1314 1294.5h1M1321 1294.5h1M1299 1295.5h1M1310 1295.5h1M1329 1295.5h1M1313 1297.5h1M1315 1297.5h1M1323 1297.5h1M1298 1298.5h1M1308 1298.5h1M1290 1299.5h1M1300 1299.5h1M1307 1299.5h1M1314 1299.5h1M1323 1299.5h1M1305 1300.5h1M1312 1300.5h1M1330 1300.5h1M1338 1300.5h1M1279 1301.5h1M1334 1301.5h1M1296 1302.5h1M1328 1302.5h1M1331 1302.5h1M1345 1302.5h1M1294 1303.5h1M1302 1303.5h1M1295 1304.5h1M1303 1304.5h1M1305 1304.5h1M1307 1304.5h1M1343 1304.5h1M1281 1305.5h1M1305 1305.5h1M1307 1305.5h1M1310 1305.5h1M1314 1305.5h1M1331 1305.5h1M1333 1305.5h1M1302 1306.5h1M1313 1306.5h1M1316 1306.5h1M1318 1306.5h1M1324 1306.5h2M1327 1306.5h1M1330 1306.5h2M1273 1307.5h1M1286 1307.5h2M1299 1307.5h2M1302 1307.5h1M1305 1307.5h1M1308 1307.5h1M1322 1307.5h1M1332 1307.5h1M1294 1308.5h1M1297 1308.5h2M1306 1308.5h1M1308 1308.5h1M1311 1308.5h1M1314 1308.5h2M1321 1308.5h2M1334 1308.5h1M1283 1309.5h1M1296 1309.5h1M1304 1309.5h1M1306 1309.5h1M1309 1309.5h1M1315 1309.5h1M1277 1310.5h1M1293 1310.5h1M1301 1310.5h1M1307 1310.5h1M1314 1310.5h1M1316 1310.5h1M1326 1310.5h1M1302 1311.5h2M1306 1311.5h1M1313 1311.5h1M1325 1311.5h1M1349 1311.5h1M1271 1312.5h1M1277 1312.5h1M1309 1312.5h1M1314 1312.5h1M1318 1312.5h1M1324 1312.5h1M1273 1313.5h2M1284 1313.5h1M1303 1313.5h1M1308 1313.5h1M1310 1313.5h1M1321 1313.5h1M1331 1313.5h1M1340 1313.5h1M1343 1313.5h1M1276 1314.5h1M1280 1314.5h1M1292 1314.5h1M1299 1314.5h1M1301 1314.5h1M1305 1314.5h1M1309 1314.5h1M1316 1314.5h1M1324 1314.5h1M1327 1314.5h1M1281 1315.5h1M1285 1315.5h1M1289 1315.5h1M1297 1315.5h1M1301 1315.5h2M1308 1315.5h1M1311 1315.5h2M1316 1315.5h1M1319 1315.5h1M1322 1315.5h1M1329 1315.5h1M1333 1315.5h1M1337 1315.5h1M1346 1315.5h1M1350 1315.5h1M1354 1315.5h1M1275 1316.5h1M1279 1316.5h1M1290 1316.5h1M1292 1316.5h1M1295 1316.5h1M1301 1316.5h1M1307 1316.5h1M1311 1316.5h1M1315 1316.5h1M1318 1316.5h1M1330 1316.5h1M1334 1316.5h1M1338 1316.5h1M1341 1316.5h1M1344 1316.5h1M1301 1317.5h1M1310 1317.5h1M1312 1317.5h1M1314 1317.5h1M1328 1317.5h1M1276 1318.5h3M1299 1318.5h1M1303 1318.5h1M1308 1318.5h2M1311 1318.5h2M1314 1318.5h1M1317 1318.5h1M1323 1318.5h1M1327 1318.5h1M1329 1318.5h1M1332 1318.5h1M1346 1318.5h1M1278 1319.5h1M1282 1319.5h1M1293 1319.5h1M1304 1319.5h1M1307 1319.5h1M1313 1319.5h1M1315 1319.5h1M1317 1319.5h1M1322 1319.5h1M1327 1319.5h2M1333 1319.5h1M1337 1319.5h1M1340 1319.5h1M1280 1320.5h1M1283 1320.5h2M1289 1320.5h1M1296 1320.5h1M1307 1320.5h1M1312 1320.5h1M1314 1320.5h1M1317 1320.5h1M1320 1320.5h1M1329 1320.5h1M1335 1320.5h1M1354 1320.5h1M1356 1320.5h1M1282 1321.5h1M1291 1321.5h1M1293 1321.5h1M1301 1321.5h2M1312 1321.5h2M1318 1321.5h2M1325 1321.5h1M1334 1321.5h1M1279 1322.5h2M1285 1322.5h1M1289 1322.5h1M1292 1322.5h1M1301 1322.5h1M1305 1322.5h2M1308 1322.5h1M1310 1322.5h1M1313 1322.5h1M1318 1322.5h4M1337 1322.5h2M1349 1322.5h1M1351 1322.5h1M1273 1323.5h1M1281 1323.5h1M1286 1323.5h1M1296 1323.5h2M1299 1323.5h1M1302 1323.5h1M1304 1323.5h1M1307 1323.5h1M1309 1323.5h1M1318 1323.5h1M1320 1323.5h1M1326 1323.5h1M1348 1323.5h1M1276 1324.5h1M1302 1324.5h1M1304 1324.5h1M1309 1324.5h1M1312 1324.5h1M1314 1324.5h1M1316 1324.5h2M1319 1324.5h1M1324 1324.5h1M1326 1324.5h1M1336 1324.5h2M1277 1325.5h1M1288 1325.5h1M1292 1325.5h2M1295 1325.5h1M1301 1325.5h2M1309 1325.5h1M1311 1325.5h1M1315 1325.5h4M1322 1325.5h1M1325 1325.5h1M1331 1325.5h2M1271 1326.5h1M1287 1326.5h2M1295 1326.5h1M1297 1326.5h1M1303 1326.5h1M1305 1326.5h1M1308 1326.5h1M1311 1326.5h1M1316 1326.5h3M1322 1326.5h1M1328 1326.5h1M1337 1326.5h1M1343 1326.5h1M1269 1327.5h1M1276 1327.5h1M1279 1327.5h1M1282 1327.5h2M1291 1327.5h1M1293 1327.5h1M1307 1327.5h1M1312 1327.5h1M1317 1327.5h1M1326 1327.5h1M1329 1327.5h1M1332 1327.5h1M1355 1327.5h1M1274 1328.5h1M1283 1328.5h1M1288 1328.5h1M1290 1328.5h1M1294 1328.5h1M1297 1328.5h5M1306 1328.5h1M1308 1328.5h1M1314 1328.5h1M1316 1328.5h1M1318 1328.5h2M1321 1328.5h3M1327 1328.5h1M1332 1328.5h1M1334 1328.5h1M1336 1328.5h1M1340 1328.5h2M1349 1328.5h2M1289 1329.5h1M1293 1329.5h1M1298 1329.5h4M1304 1329.5h1M1306 1329.5h2M1310 1329.5h1M1320 1329.5h1M1325 1329.5h2M1332 1329.5h1M1337 1329.5h1M1290 1330.5h1M1293 1330.5h1M1298 1330.5h2M1307 1330.5h1M1311 1330.5h1M1313 1330.5h2M1321 1330.5h1M1324 1330.5h2M1356 1330.5h1M1272 1331.5h1M1285 1331.5h1M1289 1331.5h1M1295 1331.5h1M1299 1331.5h1M1307 1331.5h1M1313 1331.5h1M1320 1331.5h3M1325 1331.5h1M1327 1331.5h2M1274 1332.5h1M1289 1332.5h1M1291 1332.5h3M1298 1332.5h1M1300 1332.5h1M1306 1332.5h2M1309 1332.5h2M1316 1332.5h1M1318 1332.5h2M1332 1332.5h3M1337 1332.5h1M1280 1333.5h2M1297 1333.5h1M1303 1333.5h1M1310 1333.5h1M1314 1333.5h1M1317 1333.5h3M1323 1333.5h2M1327 1333.5h1M1329 1333.5h2M1334 1333.5h1M1358 1333.5h1M1265 1334.5h1M1280 1334.5h1M1287 1334.5h1M1292 1334.5h1M1302 1334.5h1M1309 1334.5h1M1314 1334.5h1M1326 1334.5h1M1329 1334.5h1M1342 1334.5h1M1282 1335.5h1M1290 1335.5h1M1292 1335.5h1M1294 1335.5h1M1300 1335.5h1M1302 1335.5h1M1305 1335.5h1M1309 1335.5h2M1313 1335.5h1M1319 1335.5h1M1322 1335.5h1M1324 1335.5h2M1336 1335.5h1M1288 1336.5h1M1292 1336.5h1M1298 1336.5h1M1301 1336.5h1M1306 1336.5h1M1310 1336.5h1M1313 1336.5h1M1315 1336.5h1M1318 1336.5h1M1321 1336.5h1M1328 1336.5h2M1331 1336.5h1M1333 1336.5h5M1276 1337.5h1M1278 1337.5h1M1294 1337.5h1M1298 1337.5h1M1300 1337.5h1M1312 1337.5h2M1318 1337.5h1M1324 1337.5h2M1340 1337.5h1M1276 1338.5h1M1282 1338.5h1M1288 1338.5h1M1293 1338.5h1M1302 1338.5h1M1305 1338.5h1M1307 1338.5h1M1309 1338.5h1M1311 1338.5h1M1321 1338.5h1M1325 1338.5h1M1330 1338.5h2M1337 1338.5h1M1349 1338.5h1M1284 1339.5h1M1290 1339.5h1M1298 1339.5h1M1308 1339.5h1M1323 1339.5h1M1333 1339.5h1M1273 1340.5h1M1287 1340.5h1M1289 1340.5h1M1299 1340.5h1M1303 1340.5h2M1313 1340.5h1M1315 1340.5h2M1319 1340.5h1M1323 1340.5h1M1326 1340.5h2M1303 1341.5h1M1306 1341.5h2M1318 1341.5h2M1322 1341.5h1M1328 1341.5h1M1287 1342.5h1M1296 1342.5h1M1300 1342.5h1M1302 1342.5h1M1305 1342.5h2M1308 1342.5h1M1311 1342.5h1M1313 1342.5h1M1317 1342.5h1M1319 1342.5h1M1321 1342.5h1M1327 1342.5h1M1332 1342.5h1M1288 1343.5h1M1294 1343.5h3M1298 1343.5h1M1303 1343.5h2M1307 1343.5h1M1312 1343.5h1M1315 1343.5h2M1327 1343.5h2M1332 1343.5h1M1337 1343.5h1M1296 1344.5h1M1301 1344.5h1M1303 1344.5h2M1320 1344.5h1M1322 1344.5h1M1326 1344.5h1M1332 1344.5h1M1334 1344.5h1M1298 1345.5h1M1301 1345.5h1M1346 1345.5h1M1282 1346.5h1M1289 1346.5h1M1296 1346.5h1M1309 1346.5h1M1324 1346.5h1M1339 1346.5h1M1285 1347.5h1M1288 1347.5h1M1293 1347.5h1M1310 1347.5h1M1312 1347.5h1M1328 1347.5h1M1332 1347.5h1M1335 1347.5h1M1340 1347.5h2M1298 1348.5h1M1306 1348.5h1M1315 1348.5h1M1321 1348.5h1M1339 1348.5h1M1295 1349.5h1M1300 1349.5h1M1304 1349.5h2M1324 1349.5h2M1333 1349.5h1M1340 1349.5h2M1276 1350.5h1M1302 1350.5h1M1318 1350.5h1M1320 1350.5h1M1322 1350.5h1M1324 1350.5h1M1329 1350.5h1M1301 1351.5h1M1315 1351.5h1M1321 1351.5h1M1331 1351.5h2M1285 1352.5h1M1293 1352.5h1M1297 1352.5h1M1305 1352.5h1M1311 1352.5h1M1287 1353.5h2M1294 1353.5h1M1308 1353.5h1M1313 1353.5h1M1323 1353.5h1M1330 1353.5h1M1286 1354.5h1M1281 1355.5h1M1307 1355.5h1M1311 1355.5h1M1324 1355.5h1M1341 1355.5h1M1276 1356.5h1M1288 1356.5h1M1295 1356.5h1M1321 1356.5h1M1282 1357.5h1M1285 1357.5h1M1291 1357.5h1M1299 1357.5h1M1316 1357.5h1M1322 1357.5h1M1333 1357.5h1M1314 1358.5h1M1332 1358.5h1M1260 1359.5h1M1271 1359.5h1M1289 1359.5h1M1295 1359.5h1M1310 1359.5h1M1263 1360.5h2M1297 1360.5h2M1302 1360.5h1M1307 1360.5h1M1309 1360.5h1M1324 1360.5h1M1338 1360.5h1M1308 1361.5h1M1342 1361.5h1M1294 1362.5h1M1296 1362.5h1M1306 1362.5h1M1317 1362.5h1M1325 1362.5h1M1330 1362.5h1M1333 1362.5h1M1258 1363.5h1M1270 1363.5h1M1300 1363.5h1M1309 1363.5h1M1328 1363.5h1M1336 1363.5h1M1353 1363.5h1M1357 1363.5h1M1268 1364.5h1M1275 1364.5h1M1286 1364.5h1M1292 1364.5h1M1296 1364.5h1M1300 1364.5h1M1314 1364.5h2M1319 1364.5h1M1323 1364.5h1M1330 1364.5h1M1272 1365.5h1M1278 1365.5h1M1282 1365.5h1M1292 1365.5h1M1301 1365.5h1M1304 1365.5h1M1308 1365.5h4M1319 1365.5h1M1322 1365.5h1M1325 1365.5h1M1329 1365.5h1M1338 1365.5h1M1340 1365.5h1M1266 1366.5h1M1280 1366.5h2M1286 1366.5h1M1297 1366.5h1M1299 1366.5h2M1303 1366.5h1M1305 1366.5h1M1307 1366.5h1M1314 1366.5h2M1320 1366.5h2M1324 1366.5h1M1326 1366.5h1M1328 1366.5h1M1342 1366.5h1M1270 1367.5h1M1275 1367.5h1M1282 1367.5h2M1289 1367.5h2M1294 1367.5h2M1297 1367.5h2M1300 1367.5h1M1302 1367.5h1M1304 1367.5h1M1312 1367.5h3M1318 1367.5h1M1321 1367.5h1M1328 1367.5h1M1343 1367.5h1M1267 1368.5h1M1271 1368.5h1M1275 1368.5h1M1281 1368.5h1M1285 1368.5h1M1289 1368.5h1M1292 1368.5h2M1295 1368.5h1M1298 1368.5h2M1304 1368.5h1M1306 1368.5h6M1313 1368.5h1M1326 1368.5h1M1331 1368.5h1M1335 1368.5h1M1341 1368.5h1M1266 1369.5h1M1272 1369.5h2M1278 1369.5h1M1282 1369.5h1M1293 1369.5h1M1296 1369.5h4M1301 1369.5h1M1306 1369.5h2M1312 1369.5h1M1314 1369.5h1M1319 1369.5h2M1323 1369.5h2M1326 1369.5h3M1343 1369.5h1M1274 1370.5h1M1286 1370.5h4M1293 1370.5h1M1298 1370.5h2M1302 1370.5h3M1307 1370.5h2M1312 1370.5h1M1318 1370.5h1M1320 1370.5h2M1335 1370.5h1M1343 1370.5h1M1345 1370.5h1M1267 1371.5h1M1270 1371.5h1M1273 1371.5h1M1276 1371.5h3M1282 1371.5h2M1285 1371.5h2M1292 1371.5h1M1294 1371.5h2M1300 1371.5h1M1303 1371.5h1M1305 1371.5h1M1310 1371.5h1M1312 1371.5h1M1316 1371.5h2M1320 1371.5h1M1322 1371.5h1M1324 1371.5h1M1330 1371.5h3M1260 1372.5h1M1264 1372.5h1M1269 1372.5h1M1273 1372.5h1M1275 1372.5h1M1278 1372.5h1M1285 1372.5h3M1291 1372.5h1M1293 1372.5h1M1296 1372.5h2M1306 1372.5h2M1310 1372.5h1M1313 1372.5h1M1315 1372.5h1M1319 1372.5h1M1324 1372.5h1M1337 1372.5h1M1267 1373.5h1M1269 1373.5h3M1273 1373.5h1M1277 1373.5h1M1279 1373.5h1M1282 1373.5h1M1284 1373.5h1M1286 1373.5h3M1305 1373.5h1M1307 1373.5h1M1312 1373.5h2M1326 1373.5h1M1331 1373.5h1M1339 1373.5h1M1343 1373.5h1M1347 1373.5h1M1350 1373.5h1M1256 1374.5h1M1259 1374.5h2M1264 1374.5h1M1267 1374.5h4M1277 1374.5h1M1279 1374.5h2M1282 1374.5h1M1286 1374.5h2M1290 1374.5h1M1292 1374.5h1M1294 1374.5h2M1298 1374.5h1M1304 1374.5h1M1306 1374.5h1M1313 1374.5h1M1317 1374.5h1M1319 1374.5h1M1333 1374.5h1M1337 1374.5h1M1253 1375.5h1M1260 1375.5h3M1268 1375.5h1M1270 1375.5h1M1273 1375.5h1M1277 1375.5h2M1282 1375.5h4M1287 1375.5h1M1289 1375.5h3M1295 1375.5h1M1301 1375.5h2M1306 1375.5h2M1312 1375.5h1M1318 1375.5h2M1324 1375.5h1M1326 1375.5h1M1338 1375.5h1M1340 1375.5h1M1257 1376.5h1M1262 1376.5h1M1266 1376.5h2M1270 1376.5h2M1276 1376.5h2M1280 1376.5h1M1285 1376.5h1M1289 1376.5h4M1294 1376.5h1M1296 1376.5h1M1298 1376.5h2M1301 1376.5h1M1307 1376.5h1M1315 1376.5h1M1320 1376.5h1M1323 1376.5h2M1331 1376.5h1M1256 1377.5h1M1266 1377.5h1M1270 1377.5h1M1273 1377.5h1M1275 1377.5h2M1282 1377.5h4M1287 1377.5h4M1294 1377.5h1M1296 1377.5h3M1301 1377.5h1M1303 1377.5h1M1312 1377.5h1M1315 1377.5h2M1320 1377.5h1M1325 1377.5h1M1332 1377.5h1M1335 1377.5h1M1354 1377.5h1M1256 1378.5h1M1264 1378.5h2M1269 1378.5h1M1272 1378.5h1M1276 1378.5h1M1278 1378.5h2M1283 1378.5h1M1285 1378.5h1M1292 1378.5h1M1295 1378.5h2M1307 1378.5h2M1311 1378.5h1M1315 1378.5h2M1319 1378.5h2M1323 1378.5h1M1253 1379.5h1M1256 1379.5h1M1262 1379.5h1M1266 1379.5h1M1270 1379.5h1M1274 1379.5h3M1278 1379.5h3M1286 1379.5h1M1288 1379.5h1M1291 1379.5h6M1301 1379.5h1M1305 1379.5h1M1308 1379.5h2M1316 1379.5h1M1318 1379.5h1M1322 1379.5h1M1324 1379.5h1M1327 1379.5h1M1329 1379.5h1M1332 1379.5h2M1338 1379.5h1M1263 1380.5h1M1268 1380.5h1M1270 1380.5h1M1272 1380.5h3M1277 1380.5h1M1281 1380.5h2M1284 1380.5h1M1287 1380.5h1M1293 1380.5h5M1299 1380.5h1M1302 1380.5h3M1308 1380.5h1M1311 1380.5h2M1314 1380.5h1M1316 1380.5h1M1320 1380.5h2M1325 1380.5h1M1329 1380.5h1M1338 1380.5h1M1257 1381.5h1M1259 1381.5h2M1268 1381.5h5M1274 1381.5h1M1283 1381.5h1M1287 1381.5h2M1292 1381.5h2M1295 1381.5h2M1299 1381.5h2M1305 1381.5h1M1312 1381.5h2M1316 1381.5h2M1319 1381.5h1M1321 1381.5h1M1331 1381.5h1M1335 1381.5h1M1338 1381.5h1M1340 1381.5h2M1344 1381.5h1M1349 1381.5h1M1273 1382.5h2M1279 1382.5h1M1282 1382.5h2M1288 1382.5h1M1290 1382.5h1M1293 1382.5h7M1303 1382.5h2M1313 1382.5h1M1316 1382.5h1M1319 1382.5h1M1325 1382.5h1M1328 1382.5h1M1337 1382.5h1M1345 1382.5h1M1270 1383.5h1M1275 1383.5h1M1280 1383.5h2M1283 1383.5h1M1288 1383.5h2M1297 1383.5h1M1306 1383.5h3M1314 1383.5h2M1321 1383.5h2M1324 1383.5h1M1327 1383.5h1M1329 1383.5h1M1335 1383.5h1M1272 1384.5h1M1278 1384.5h3M1287 1384.5h1M1289 1384.5h1M1291 1384.5h2M1296 1384.5h1M1299 1384.5h1M1303 1384.5h1M1308 1384.5h1M1310 1384.5h1M1316 1384.5h1M1318 1384.5h4M1330 1384.5h3M1335 1384.5h1M1339 1384.5h1M1272 1385.5h1M1276 1385.5h3M1281 1385.5h1M1283 1385.5h1M1285 1385.5h1M1288 1385.5h1M1290 1385.5h1M1296 1385.5h1M1299 1385.5h2M1302 1385.5h4M1312 1385.5h1M1315 1385.5h1M1320 1385.5h2M1323 1385.5h2M1332 1385.5h1M1338 1385.5h1M1346 1385.5h1M1348 1385.5h1M1283 1386.5h1M1285 1386.5h1M1287 1386.5h2M1290 1386.5h1M1292 1386.5h1M1295 1386.5h1M1301 1386.5h1M1311 1386.5h3M1320 1386.5h1M1326 1386.5h1M1329 1386.5h1M1331 1386.5h1M1338 1386.5h1M1349 1386.5h1M1282 1387.5h1M1284 1387.5h1M1286 1387.5h1M1291 1387.5h2M1307 1387.5h2M1314 1387.5h2M1317 1387.5h1M1323 1387.5h1M1325 1387.5h1M1328 1387.5h1M1288 1388.5h1M1293 1388.5h1M1295 1388.5h1M1297 1388.5h2M1301 1388.5h1M1304 1388.5h2M1309 1388.5h1M1315 1388.5h1M1317 1388.5h1M1325 1388.5h1M1327 1388.5h1M1330 1388.5h1M1292 1389.5h2M1305 1389.5h1M1307 1389.5h1M1309 1389.5h2M1322 1389.5h3M1284 1390.5h1M1298 1390.5h1M1301 1390.5h1M1302 1391.5h1M1299 1392.5h1M1311 1393.5h1M1292 1394.5h1" fill="none" stroke="#84BEF8" stroke-width="1"/>
<path d="M1369 1282.5h1M1384 1284.5h1M1370 1285.5h1M1376 1285.5h1M1381 1285.5h1M1364 1286.5h1M1375 1286.5h1M1378 1286.5h1M1384 1286.5h1M1396 1286.5h1M1358 1287.5h1M1371 1287.5h1M1390 1287.5h1M1369 1288.5h1M1376 1289.5h1M1378 1289.5h1M1383 1289.5h1M1386 1289.5h1M1392 1289.5h1M1362 1290.5h1M1379 1290.5h2M1383 1290.5h1M1385 1290.5h1M1401 1290.5h1M1356 1291.5h1M1358 1291.5h1M1375 1291.5h1M1378 1291.5h1M1387 1291.5h1M1391 1291.5h1M1357 1292.5h1M1365 1292.5h1M1372 1292.5h1M1375 1292.5h1M1387 1292.5h1M1356 1293.5h2M1365 1293.5h1M1373 1293.5h1M1394 1293.5h1M1406 1293.5h1M1350 1294.5h1M1358 1294.5h3M1384 1294.5h1M1388 1294.5h1M1390 1294.5h1M1357 1295.5h1M1367 1295.5h1M1375 1295.5h2M1380 1295.5h3M1407 1295.5h1M1365 1296.5h1M1370 1296.5h1M1375 1296.5h2M1390 1296.5h1M1394 1296.5h1M1405 1296.5h1M1407 1296.5h2M1355 1297.5h1M1364 1297.5h2M1368 1297.5h1M1374 1297.5h1M1382 1297.5h1M1387 1297.5h1M1398 1297.5h1M1406 1297.5h1M1340 1298.5h1M1381 1298.5h3M1366 1299.5h2M1369 1299.5h1M1374 1299.5h1M1382 1299.5h1M1386 1299.5h2M1398 1299.5h1M1354 1300.5h3M1358 1300.5h1M1365 1300.5h1M1367 1300.5h2M1373 1300.5h1M1376 1300.5h3M1380 1300.5h1M1386 1300.5h1M1358 1301.5h1M1360 1301.5h1M1372 1301.5h1M1375 1301.5h2M1387 1301.5h1M1389 1301.5h1M1391 1301.5h1M1396 1301.5h1M1363 1302.5h1M1369 1302.5h1M1372 1302.5h3M1386 1302.5h1M1401 1302.5h1M1408 1302.5h1M1419 1302.5h1M1354 1303.5h2M1360 1303.5h1M1362 1303.5h1M1364 1303.5h2M1371 1303.5h1M1376 1303.5h1M1379 1303.5h1M1392 1303.5h1M1402 1303.5h1M1405 1303.5h1M1344 1304.5h1M1358 1304.5h3M1362 1304.5h1M1371 1304.5h1M1374 1304.5h2M1377 1304.5h1M1389 1304.5h1M1391 1304.5h1M1396 1304.5h1M1399 1304.5h2M1411 1304.5h1M1416 1304.5h1M1344 1305.5h1M1358 1305.5h1M1363 1305.5h1M1372 1305.5h1M1376 1305.5h1M1381 1305.5h1M1384 1305.5h5M1390 1305.5h1M1393 1305.5h1M1400 1305.5h2M1403 1305.5h1M1355 1306.5h1M1358 1306.5h1M1360 1306.5h1M1365 1306.5h2M1373 1306.5h1M1379 1306.5h1M1382 1306.5h1M1385 1306.5h1M1391 1306.5h1M1397 1306.5h1M1404 1306.5h2M1409 1306.5h2M1420 1306.5h1M1336 1307.5h1M1351 1307.5h1M1356 1307.5h1M1361 1307.5h1M1369 1307.5h1M1374 1307.5h2M1377 1307.5h1M1379 1307.5h2M1382 1307.5h1M1386 1307.5h2M1403 1307.5h1M1409 1307.5h1M1414 1307.5h1M1418 1307.5h1M1336 1308.5h1M1348 1308.5h1M1357 1308.5h2M1362 1308.5h1M1365 1308.5h1M1368 1308.5h4M1378 1308.5h1M1383 1308.5h1M1386 1308.5h1M1395 1308.5h1M1401 1308.5h1M1405 1308.5h2M1415 1308.5h1M1351 1309.5h1M1353 1309.5h1M1355 1309.5h1M1361 1309.5h1M1368 1309.5h2M1372 1309.5h2M1378 1309.5h1M1390 1309.5h2M1394 1309.5h1M1403 1309.5h1M1405 1309.5h1M1409 1309.5h1M1411 1309.5h1M1413 1309.5h1M1417 1309.5h1M1356 1310.5h2M1360 1310.5h2M1363 1310.5h1M1368 1310.5h1M1370 1310.5h2M1387 1310.5h1M1389 1310.5h1M1394 1310.5h1M1397 1310.5h1M1401 1310.5h1M1404 1310.5h1M1355 1311.5h1M1360 1311.5h1M1362 1311.5h2M1365 1311.5h1M1367 1311.5h1M1369 1311.5h1M1372 1311.5h5M1378 1311.5h1M1383 1311.5h1M1386 1311.5h4M1397 1311.5h1M1404 1311.5h1M1406 1311.5h1M1409 1311.5h1M1418 1311.5h1M1339 1312.5h1M1345 1312.5h1M1348 1312.5h1M1351 1312.5h1M1356 1312.5h1M1358 1312.5h2M1362 1312.5h2M1367 1312.5h1M1375 1312.5h4M1382 1312.5h2M1385 1312.5h1M1388 1312.5h1M1392 1312.5h1M1396 1312.5h2M1400 1312.5h1M1402 1312.5h1M1347 1313.5h2M1358 1313.5h4M1363 1313.5h2M1370 1313.5h2M1373 1313.5h1M1377 1313.5h1M1380 1313.5h1M1383 1313.5h1M1385 1313.5h1M1388 1313.5h1M1390 1313.5h1M1393 1313.5h2M1396 1313.5h2M1399 1313.5h1M1409 1313.5h1M1339 1314.5h1M1342 1314.5h1M1345 1314.5h1M1349 1314.5h1M1353 1314.5h1M1355 1314.5h2M1360 1314.5h1M1369 1314.5h1M1371 1314.5h1M1379 1314.5h1M1384 1314.5h2M1391 1314.5h1M1398 1314.5h1M1411 1314.5h1M1421 1314.5h1M1424 1314.5h1M1335 1315.5h1M1343 1315.5h1M1355 1315.5h1M1368 1315.5h1M1375 1315.5h1M1378 1315.5h1M1380 1315.5h1M1382 1315.5h1M1387 1315.5h1M1398 1315.5h1M1402 1315.5h1M1404 1315.5h1M1345 1316.5h1M1361 1316.5h5M1374 1316.5h1M1376 1316.5h1M1378 1316.5h2M1383 1316.5h2M1388 1316.5h3M1396 1316.5h1M1402 1316.5h1M1404 1316.5h2M1412 1316.5h1M1414 1316.5h1M1347 1317.5h1M1352 1317.5h2M1358 1317.5h1M1362 1317.5h1M1364 1317.5h3M1368 1317.5h1M1372 1317.5h3M1377 1317.5h3M1381 1317.5h1M1384 1317.5h1M1386 1317.5h1M1388 1317.5h1M1390 1317.5h1M1397 1317.5h1M1399 1317.5h2M1406 1317.5h2M1335 1318.5h1M1342 1318.5h1M1347 1318.5h1M1350 1318.5h1M1354 1318.5h1M1359 1318.5h1M1362 1318.5h1M1364 1318.5h1M1367 1318.5h1M1372 1318.5h3M1378 1318.5h1M1380 1318.5h3M1384 1318.5h1M1387 1318.5h2M1393 1318.5h1M1397 1318.5h1M1401 1318.5h1M1410 1318.5h1M1419 1318.5h1M1423 1318.5h2M1355 1319.5h1M1357 1319.5h1M1359 1319.5h3M1363 1319.5h1M1365 1319.5h1M1367 1319.5h2M1370 1319.5h2M1373 1319.5h1M1380 1319.5h4M1385 1319.5h1M1387 1319.5h1M1389 1319.5h1M1391 1319.5h1M1393 1319.5h1M1407 1319.5h1M1410 1319.5h1M1415 1319.5h1M1425 1319.5h1M1338 1320.5h1M1341 1320.5h1M1346 1320.5h1M1357 1320.5h1M1362 1320.5h2M1365 1320.5h1M1367 1320.5h1M1372 1320.5h4M1377 1320.5h2M1392 1320.5h1M1416 1320.5h1M1421 1320.5h1M1332 1321.5h1M1340 1321.5h1M1353 1321.5h1M1356 1321.5h1M1360 1321.5h1M1362 1321.5h1M1364 1321.5h1M1366 1321.5h1M1371 1321.5h1M1376 1321.5h1M1379 1321.5h3M1384 1321.5h1M1386 1321.5h1M1392 1321.5h1M1394 1321.5h2M1399 1321.5h1M1404 1321.5h1M1409 1321.5h1M1343 1322.5h1M1357 1322.5h2M1363 1322.5h1M1365 1322.5h4M1370 1322.5h2M1375 1322.5h1M1377 1322.5h8M1390 1322.5h1M1397 1322.5h1M1401 1322.5h1M1403 1322.5h1M1406 1322.5h2M1409 1322.5h1M1411 1322.5h1M1415 1322.5h1M1338 1323.5h1M1346 1323.5h1M1353 1323.5h2M1361 1323.5h2M1371 1323.5h2M1378 1323.5h1M1381 1323.5h2M1384 1323.5h1M1386 1323.5h4M1391 1323.5h1M1396 1323.5h1M1399 1323.5h1M1407 1323.5h2M1412 1323.5h1M1424 1323.5h1M1345 1324.5h2M1349 1324.5h1M1353 1324.5h1M1355 1324.5h1M1362 1324.5h1M1368 1324.5h2M1372 1324.5h1M1376 1324.5h2M1379 1324.5h1M1386 1324.5h1M1388 1324.5h2M1392 1324.5h2M1396 1324.5h2M1402 1324.5h1M1418 1324.5h1M1343 1325.5h1M1346 1325.5h1M1348 1325.5h1M1351 1325.5h1M1362 1325.5h1M1366 1325.5h1M1368 1325.5h2M1372 1325.5h2M1380 1325.5h1M1384 1325.5h3M1388 1325.5h1M1391 1325.5h1M1397 1325.5h1M1401 1325.5h1M1408 1325.5h1M1411 1325.5h1M1414 1325.5h1M1422 1325.5h1M1346 1326.5h1M1358 1326.5h1M1364 1326.5h1M1366 1326.5h2M1374 1326.5h1M1382 1326.5h3M1386 1326.5h1M1391 1326.5h2M1396 1326.5h1M1399 1326.5h1M1406 1326.5h1M1341 1327.5h1M1352 1327.5h1M1356 1327.5h1M1360 1327.5h2M1364 1327.5h2M1367 1327.5h1M1371 1327.5h2M1384 1327.5h1M1386 1327.5h1M1388 1327.5h1M1393 1327.5h2M1397 1327.5h1M1404 1327.5h1M1407 1327.5h1M1409 1327.5h1M1418 1327.5h1M1337 1328.5h1M1354 1328.5h1M1359 1328.5h2M1365 1328.5h4M1370 1328.5h1M1372 1328.5h2M1379 1328.5h3M1383 1328.5h1M1385 1328.5h1M1387 1328.5h3M1391 1328.5h1M1393 1328.5h2M1397 1328.5h1M1401 1328.5h1M1409 1328.5h1M1417 1328.5h1M1346 1329.5h1M1350 1329.5h1M1352 1329.5h1M1354 1329.5h3M1358 1329.5h2M1361 1329.5h1M1365 1329.5h1M1368 1329.5h2M1371 1329.5h1M1373 1329.5h1M1375 1329.5h2M1378 1329.5h1M1381 1329.5h2M1384 1329.5h2M1389 1329.5h2M1392 1329.5h1M1396 1329.5h1M1404 1329.5h1M1409 1329.5h1M1412 1329.5h1M1420 1329.5h1M1340 1330.5h1M1347 1330.5h1M1351 1330.5h2M1357 1330.5h1M1361 1330.5h1M1363 1330.5h4M1369 1330.5h2M1373 1330.5h1M1376 1330.5h1M1380 1330.5h2M1384 1330.5h2M1387 1330.5h1M1390 1330.5h1M1392 1330.5h1M1395 1330.5h2M1400 1330.5h1M1402 1330.5h1M1420 1330.5h1M1422 1330.5h1M1343 1331.5h1M1347 1331.5h1M1349 1331.5h1M1355 1331.5h1M1358 1331.5h1M1363 1331.5h1M1369 1331.5h2M1372 1331.5h1M1374 1331.5h1M1376 1331.5h3M1380 1331.5h1M1383 1331.5h1M1388 1331.5h1M1390 1331.5h1M1392 1331.5h2M1396 1331.5h1M1401 1331.5h1M1404 1331.5h3M1410 1331.5h1M1420 1331.5h1M1345 1332.5h1M1349 1332.5h1M1356 1332.5h1M1362 1332.5h1M1364 1332.5h2M1369 1332.5h1M1372 1332.5h1M1374 1332.5h1M1382 1332.5h1M1387 1332.5h1M1393 1332.5h1M1398 1332.5h2M1401 1332.5h1M1408 1332.5h2M1418 1332.5h1M1347 1333.5h1M1352 1333.5h2M1356 1333.5h1M1361 1333.5h1M1364 1333.5h1M1366 1333.5h1M1368 1333.5h2M1373 1333.5h1M1375 1333.5h2M1379 1333.5h1M1384 1333.5h1M1386 1333.5h1M1390 1333.5h1M1407 1333.5h1M1409 1333.5h1M1419 1333.5h1M1364 1334.5h2M1367 1334.5h1M1370 1334.5h4M1376 1334.5h1M1379 1334.5h1M1383 1334.5h1M1387 1334.5h4M1397 1334.5h2M1404 1334.5h1M1406 1334.5h1M1409 1334.5h1M1344 1335.5h1M1358 1335.5h2M1362 1335.5h2M1375 1335.5h1M1377 1335.5h1M1379 1335.5h2M1384 1335.5h1M1387 1335.5h1M1394 1335.5h1M1396 1335.5h1M1399 1335.5h2M1403 1335.5h1M1411 1335.5h1M1340 1336.5h1M1353 1336.5h1M1356 1336.5h2M1359 1336.5h2M1362 1336.5h1M1365 1336.5h1M1370 1336.5h1M1372 1336.5h1M1374 1336.5h2M1382 1336.5h1M1384 1336.5h1M1388 1336.5h1M1390 1336.5h3M1395 1336.5h1M1402 1336.5h1M1336 1337.5h1M1339 1337.5h1M1343 1337.5h1M1352 1337.5h1M1357 1337.5h1M1363 1337.5h1M1376 1337.5h3M1381 1337.5h1M1383 1337.5h2M1390 1337.5h3M1394 1337.5h1M1401 1337.5h1M1409 1337.5h3M1413 1337.5h1M1339 1338.5h1M1354 1338.5h1M1356 1338.5h1M1359 1338.5h1M1361 1338.5h2M1367 1338.5h1M1369 1338.5h1M1372 1338.5h1M1374 1338.5h1M1377 1338.5h1M1380 1338.5h1M1389 1338.5h2M1396 1338.5h1M1401 1338.5h1M1403 1338.5h1M1409 1338.5h1M1412 1338.5h1M1417 1338.5h1M1351 1339.5h1M1355 1339.5h1M1361 1339.5h1M1369 1339.5h1M1371 1339.5h2M1375 1339.5h1M1377 1339.5h1M1380 1339.5h1M1382 1339.5h1M1387 1339.5h2M1397 1339.5h1M1402 1339.5h1M1404 1339.5h1M1357 1340.5h1M1363 1340.5h1M1369 1340.5h2M1372 1340.5h1M1375 1340.5h2M1381 1340.5h2M1384 1340.5h1M1387 1340.5h2M1398 1340.5h1M1401 1340.5h1M1405 1340.5h1M1416 1340.5h1M1360 1341.5h2M1369 1341.5h1M1373 1341.5h1M1376 1341.5h2M1380 1341.5h1M1382 1341.5h2M1399 1341.5h1M1339 1342.5h1M1341 1342.5h1M1350 1342.5h1M1352 1342.5h1M1356 1342.5h1M1364 1342.5h1M1370 1342.5h1M1378 1342.5h1M1383 1342.5h1M1388 1342.5h1M1398 1342.5h1M1400 1342.5h1M1411 1342.5h1M1417 1342.5h1M1341 1343.5h1M1343 1343.5h1M1362 1343.5h1M1367 1343.5h1M1369 1343.5h2M1374 1343.5h1M1378 1343.5h1M1387 1343.5h1M1396 1343.5h1M1398 1343.5h1M1346 1344.5h1M1361 1344.5h1M1363 1344.5h1M1371 1344.5h1M1377 1344.5h1M1387 1344.5h1M1389 1344.5h1M1404 1344.5h1M1411 1344.5h1M1347 1345.5h1M1352 1345.5h1M1367 1345.5h1M1374 1345.5h1M1386 1345.5h1M1392 1345.5h1M1340 1346.5h1M1353 1346.5h1M1359 1346.5h1M1366 1346.5h1M1370 1346.5h1M1376 1346.5h1M1383 1346.5h1M1386 1346.5h1M1395 1346.5h1M1398 1346.5h1M1407 1346.5h1M1409 1346.5h1M1412 1346.5h1M1353 1347.5h1M1368 1347.5h1M1375 1347.5h1M1377 1347.5h1M1379 1347.5h1M1390 1347.5h1M1400 1347.5h3M1353 1348.5h3M1357 1348.5h1M1362 1348.5h1M1367 1348.5h1M1380 1348.5h1M1382 1348.5h1M1386 1348.5h1M1388 1348.5h1M1393 1348.5h1M1410 1348.5h1M1347 1349.5h1M1368 1349.5h1M1370 1349.5h1M1384 1349.5h1M1403 1349.5h1M1349 1350.5h1M1352 1350.5h1M1366 1350.5h1M1373 1350.5h1M1379 1350.5h1M1382 1350.5h1M1387 1350.5h1M1389 1350.5h1M1409 1350.5h1M1368 1351.5h1M1390 1351.5h1M1404 1351.5h1M1318 1352.5h1M1331 1352.5h1M1333 1352.5h1M1350 1352.5h1M1361 1352.5h1M1383 1352.5h1M1400 1352.5h1M1410 1352.5h2M1336 1353.5h1M1356 1353.5h1M1373 1353.5h1M1379 1353.5h2M1404 1353.5h1M1407 1353.5h1M1334 1354.5h1M1316 1355.5h1M1332 1355.5h1M1336 1355.5h1M1347 1355.5h1M1368 1355.5h1M1371 1355.5h1M1320 1356.5h1M1349 1356.5h1M1370 1356.5h1M1377 1356.5h1M1331 1357.5h1M1367 1357.5h1M1379 1357.5h1M1385 1357.5h1M1294 1358.5h2M1306 1358.5h1M1336 1358.5h1M1363 1358.5h1M1294 1359.5h1M1308 1359.5h1M1312 1359.5h1M1338 1359.5h1M1343 1359.5h1M1349 1359.5h1M1365 1359.5h1M1371 1359.5h1M1305 1360.5h1M1328 1360.5h1M1341 1360.5h1M1347 1360.5h1M1376 1360.5h1M1381 1360.5h1M1306 1361.5h1M1309 1361.5h1M1317 1361.5h1M1348 1361.5h1M1366 1361.5h2M1370 1361.5h1M1387 1361.5h1M1292 1362.5h1M1308 1362.5h1M1314 1362.5h1M1326 1362.5h1M1331 1362.5h1M1339 1362.5h1M1347 1362.5h1M1350 1362.5h1M1352 1362.5h1M1372 1362.5h2M1380 1362.5h2M1314 1363.5h2M1317 1363.5h1M1324 1363.5h3M1330 1363.5h1M1339 1363.5h1M1341 1363.5h2M1347 1363.5h1M1351 1363.5h1M1358 1363.5h1M1361 1363.5h1M1364 1363.5h1M1370 1363.5h2M1317 1364.5h1M1320 1364.5h1M1324 1364.5h1M1328 1364.5h1M1331 1364.5h1M1343 1364.5h2M1349 1364.5h1M1357 1364.5h1M1359 1364.5h1M1363 1364.5h4M1368 1364.5h1M1373 1364.5h1M1377 1364.5h1M1380 1364.5h1M1388 1364.5h1M1290 1365.5h1M1306 1365.5h2M1327 1365.5h1M1334 1365.5h1M1339 1365.5h1M1341 1365.5h1M1346 1365.5h1M1352 1365.5h2M1359 1365.5h1M1362 1365.5h2M1366 1365.5h1M1368 1365.5h2M1371 1365.5h2M1375 1365.5h2M1385 1365.5h1M1391 1365.5h3M1291 1366.5h1M1298 1366.5h1M1306 1366.5h1M1309 1366.5h1M1311 1366.5h1M1331 1366.5h1M1335 1366.5h1M1340 1366.5h1M1346 1366.5h1M1348 1366.5h2M1354 1366.5h4M1359 1366.5h2M1362 1366.5h1M1364 1366.5h5M1370 1366.5h1M1373 1366.5h1M1375 1366.5h2M1378 1366.5h1M1380 1366.5h3M1386 1366.5h1M1390 1366.5h1M1393 1366.5h3M1286 1367.5h1M1306 1367.5h1M1316 1367.5h1M1322 1367.5h1M1330 1367.5h1M1332 1367.5h3M1348 1367.5h2M1353 1367.5h2M1357 1367.5h1M1362 1367.5h1M1364 1367.5h2M1367 1367.5h1M1372 1367.5h2M1375 1367.5h3M1379 1367.5h1M1388 1367.5h1M1390 1367.5h1M1396 1367.5h1M1404 1367.5h1M1305 1368.5h1M1317 1368.5h1M1320 1368.5h2M1325 1368.5h1M1328 1368.5h1M1333 1368.5h1M1339 1368.5h1M1342 1368.5h3M1347 1368.5h4M1353 1368.5h2M1356 1368.5h1M1358 1368.5h1M1361 1368.5h2M1364 1368.5h2M1367 1368.5h2M1371 1368.5h1M1373 1368.5h1M1377 1368.5h2M1380 1368.5h4M1386 1368.5h6M1397 1368.5h2M1287 1369.5h2M1310 1369.5h1M1315 1369.5h1M1325 1369.5h1M1331 1369.5h1M1333 1369.5h1M1338 1369.5h1M1341 1369.5h1M1344 1369.5h3M1348 1369.5h2M1351 1369.5h2M1355 1369.5h1M1357 1369.5h4M1362 1369.5h1M1364 1369.5h3M1369 1369.5h4M1374 1369.5h4M1380 1369.5h1M1383 1369.5h3M1387 1369.5h7M1395 1369.5h1M1397 1369.5h2M1400 1369.5h1M1405 1369.5h1M1412 1369.5h1M1305 1370.5h1M1313 1370.5h1M1319 1370.5h1M1322 1370.5h1M1324 1370.5h3M1336 1370.5h2M1342 1370.5h1M1344 1370.5h1M1347 1370.5h1M1350 1370.5h2M1353 1370.5h1M1355 1370.5h1M1359 1370.5h3M1364 1370.5h1M1366 1370.5h1M1368 1370.5h3M1372 1370.5h2M1375 1370.5h2M1378 1370.5h2M1382 1370.5h2M1386 1370.5h3M1390 1370.5h1M1396 1370.5h1M1399 1370.5h1M1307 1371.5h1M1313 1371.5h1M1319 1371.5h1M1323 1371.5h1M1326 1371.5h1M1328 1371.5h1M1333 1371.5h1M1337 1371.5h1M1339 1371.5h3M1349 1371.5h4M1354 1371.5h2M1357 1371.5h2M1360 1371.5h4M1367 1371.5h1M1369 1371.5h2M1373 1371.5h4M1383 1371.5h1M1386 1371.5h1M1388 1371.5h1M1391 1371.5h1M1393 1371.5h4M1398 1371.5h1M1402 1371.5h2M1418 1371.5h1M1300 1372.5h1M1316 1372.5h3M1323 1372.5h1M1325 1372.5h5M1331 1372.5h1M1333 1372.5h1M1336 1372.5h1M1338 1372.5h3M1343 1372.5h1M1345 1372.5h1M1347 1372.5h1M1349 1372.5h14M1364 1372.5h2M1367 1372.5h3M1371 1372.5h5M1377 1372.5h1M1379 1372.5h1M1382 1372.5h3M1387 1372.5h2M1390 1372.5h1M1393 1372.5h1M1395 1372.5h4M1400 1372.5h2M1403 1372.5h2M1409 1372.5h1M1411 1372.5h2M1414 1372.5h1M1416 1372.5h1M1289 1373.5h1M1296 1373.5h1M1308 1373.5h1M1325 1373.5h1M1341 1373.5h2M1346 1373.5h1M1348 1373.5h2M1351 1373.5h1M1353 1373.5h2M1357 1373.5h3M1362 1373.5h2M1365 1373.5h1M1367 1373.5h4M1372 1373.5h1M1376 1373.5h3M1380 1373.5h1M1382 1373.5h1M1384 1373.5h2M1387 1373.5h1M1389 1373.5h3M1393 1373.5h1M1395 1373.5h5M1401 1373.5h2M1404 1373.5h1M1408 1373.5h1M1411 1373.5h1M1415 1373.5h1M1293 1374.5h1M1297 1374.5h1M1316 1374.5h1M1318 1374.5h1M1345 1374.5h3M1349 1374.5h2M1352 1374.5h1M1356 1374.5h1M1359 1374.5h1M1362 1374.5h8M1371 1374.5h3M1375 1374.5h2M1378 1374.5h10M1390 1374.5h5M1396 1374.5h2M1401 1374.5h1M1403 1374.5h1M1405 1374.5h1M1408 1374.5h2M1417 1374.5h1M1293 1375.5h1M1304 1375.5h1M1315 1375.5h1M1322 1375.5h1M1325 1375.5h1M1333 1375.5h1M1335 1375.5h2M1343 1375.5h1M1345 1375.5h1M1348 1375.5h1M1350 1375.5h2M1353 1375.5h1M1355 1375.5h2M1358 1375.5h1M1361 1375.5h1M1366 1375.5h2M1370 1375.5h3M1375 1375.5h6M1382 1375.5h1M1385 1375.5h1M1387 1375.5h3M1394 1375.5h1M1396 1375.5h1M1398 1375.5h1M1400 1375.5h1M1402 1375.5h2M1405 1375.5h1M1408 1375.5h2M1417 1375.5h2M1325 1376.5h1M1327 1376.5h1M1329 1376.5h1M1332 1376.5h2M1336 1376.5h1M1338 1376.5h1M1341 1376.5h2M1346 1376.5h1M1348 1376.5h1M1350 1376.5h1M1354 1376.5h1M1356 1376.5h1M1358 1376.5h1M1361 1376.5h1M1364 1376.5h1M1366 1376.5h3M1371 1376.5h2M1374 1376.5h1M1376 1376.5h1M1379 1376.5h1M1381 1376.5h7M1390 1376.5h1M1392 1376.5h1M1395 1376.5h1M1398 1376.5h1M1401 1376.5h1M1404 1376.5h1M1409 1376.5h1M1411 1376.5h1M1413 1376.5h1M1416 1376.5h1M1299 1377.5h1M1311 1377.5h1M1314 1377.5h1M1329 1377.5h1M1333 1377.5h1M1338 1377.5h1M1341 1377.5h1M1346 1377.5h2M1349 1377.5h1M1351 1377.5h1M1356 1377.5h1M1359 1377.5h1M1361 1377.5h1M1365 1377.5h2M1370 1377.5h1M1372 1377.5h1M1374 1377.5h1M1376 1377.5h3M1381 1377.5h2M1384 1377.5h1M1387 1377.5h1M1389 1377.5h3M1396 1377.5h2M1399 1377.5h2M1402 1377.5h2M1405 1377.5h1M1408 1377.5h1M1411 1377.5h1M1413 1377.5h1M1418 1377.5h2M1312 1378.5h3M1327 1378.5h1M1329 1378.5h1M1332 1378.5h1M1336 1378.5h1M1341 1378.5h3M1348 1378.5h5M1356 1378.5h1M1358 1378.5h1M1360 1378.5h1M1362 1378.5h1M1366 1378.5h1M1368 1378.5h6M1376 1378.5h3M1380 1378.5h1M1382 1378.5h1M1387 1378.5h4M1392 1378.5h2M1396 1378.5h6M1404 1378.5h1M1406 1378.5h1M1412 1378.5h1M1415 1378.5h1M1303 1379.5h1M1330 1379.5h2M1334 1379.5h3M1340 1379.5h1M1342 1379.5h1M1345 1379.5h1M1351 1379.5h8M1360 1379.5h1M1362 1379.5h2M1365 1379.5h1M1367 1379.5h4M1372 1379.5h2M1376 1379.5h4M1381 1379.5h6M1388 1379.5h4M1394 1379.5h2M1398 1379.5h2M1402 1379.5h1M1408 1379.5h3M1417 1379.5h1M1305 1380.5h1M1310 1380.5h1M1330 1380.5h2M1333 1380.5h1M1336 1380.5h2M1340 1380.5h1M1342 1380.5h1M1344 1380.5h2M1347 1380.5h3M1353 1380.5h3M1357 1380.5h2M1361 1380.5h3M1366 1380.5h3M1370 1380.5h12M1384 1380.5h3M1390 1380.5h4M1395 1380.5h1M1397 1380.5h2M1402 1380.5h1M1404 1380.5h3M1408 1380.5h1M1410 1380.5h4M1297 1381.5h2M1322 1381.5h4M1334 1381.5h1M1337 1381.5h1M1343 1381.5h1M1345 1381.5h1M1347 1381.5h1M1351 1381.5h3M1356 1381.5h2M1361 1381.5h4M1366 1381.5h1M1368 1381.5h2M1375 1381.5h3M1379 1381.5h1M1381 1381.5h4M1386 1381.5h2M1390 1381.5h4M1396 1381.5h2M1400 1381.5h3M1405 1381.5h1M1407 1381.5h3M1411 1381.5h1M1414 1381.5h1M1308 1382.5h1M1331 1382.5h1M1334 1382.5h1M1336 1382.5h1M1340 1382.5h4M1346 1382.5h1M1348 1382.5h2M1351 1382.5h1M1354 1382.5h1M1356 1382.5h1M1359 1382.5h1M1361 1382.5h1M1364 1382.5h1M1366 1382.5h3M1370 1382.5h2M1374 1382.5h2M1377 1382.5h1M1380 1382.5h1M1382 1382.5h1M1388 1382.5h1M1392 1382.5h1M1394 1382.5h2M1397 1382.5h1M1400 1382.5h2M1405 1382.5h1M1410 1382.5h1M1317 1383.5h1M1330 1383.5h1M1339 1383.5h2M1342 1383.5h4M1348 1383.5h1M1350 1383.5h12M1364 1383.5h1M1367 1383.5h1M1369 1383.5h6M1377 1383.5h1M1379 1383.5h1M1383 1383.5h3M1389 1383.5h1M1391 1383.5h1M1394 1383.5h1M1401 1383.5h2M1406 1383.5h1M1414 1383.5h1M1325 1384.5h2M1329 1384.5h1M1334 1384.5h1M1338 1384.5h1M1341 1384.5h2M1344 1384.5h2M1347 1384.5h1M1350 1384.5h2M1354 1384.5h1M1356 1384.5h7M1365 1384.5h4M1370 1384.5h8M1379 1384.5h1M1382 1384.5h2M1389 1384.5h1M1391 1384.5h1M1393 1384.5h1M1402 1384.5h1M1405 1384.5h1M1407 1384.5h1M1410 1384.5h1M1291 1385.5h1M1308 1385.5h1M1313 1385.5h1M1331 1385.5h1M1333 1385.5h1M1336 1385.5h2M1341 1385.5h1M1351 1385.5h1M1353 1385.5h1M1356 1385.5h2M1359 1385.5h1M1361 1385.5h1M1363 1385.5h2M1368 1385.5h1M1372 1385.5h1M1374 1385.5h1M1376 1385.5h2M1380 1385.5h1M1385 1385.5h1M1389 1385.5h2M1392 1385.5h1M1396 1385.5h1M1401 1385.5h2M1318 1386.5h1M1330 1386.5h1M1336 1386.5h2M1342 1386.5h1M1344 1386.5h1M1346 1386.5h1M1350 1386.5h1M1355 1386.5h2M1358 1386.5h3M1362 1386.5h3M1366 1386.5h2M1370 1386.5h1M1372 1386.5h5M1378 1386.5h1M1381 1386.5h1M1383 1386.5h2M1388 1386.5h1M1394 1386.5h1M1408 1386.5h1M1333 1387.5h1M1336 1387.5h2M1340 1387.5h1M1347 1387.5h1M1349 1387.5h1M1352 1387.5h2M1358 1387.5h5M1364 1387.5h1M1369 1387.5h1M1373 1387.5h1M1375 1387.5h1M1385 1387.5h1M1393 1387.5h2M1337 1388.5h1M1340 1388.5h1M1342 1388.5h1M1347 1388.5h2M1352 1388.5h1M1357 1388.5h1M1362 1388.5h1M1365 1388.5h1M1368 1388.5h1M1371 1388.5h2M1375 1388.5h1M1380 1388.5h1M1388 1388.5h2M1392 1388.5h1M1394 1388.5h1M1398 1388.5h1M1328 1389.5h1M1348 1389.5h1M1352 1389.5h1M1364 1389.5h1M1366 1389.5h1M1370 1389.5h1M1389 1389.5h1M1332 1390.5h1M1361 1390.5h1M1374 1390.5h1M1377 1390.5h1" fill="none" stroke="#F67E7E" stroke-width="1"/>
<path d="M1321 1293.5h1M1299 1294.5h1M1307 1296.5h1M1327 1296.5h1M1306 1297.5h1M1326 1297.5h2M1311 1298.5h1M1291 1299.5h1M1298 1299.5h1M1315 1299.5h1M1315 1300.5h1M1295 1301.5h1M1340 1301.5h1M1327 1302.5h1M1290 1303.5h1M1279 1304.5h1M1283 1304.5h1M1292 1304.5h1M1296 1304.5h1M1322 1304.5h1M1295 1305.5h1M1301 1305.5h1M1306 1306.5h1M1312 1306.5h1M1315 1307.5h1M1324 1307.5h1M1283 1308.5h1M1293 1308.5h1M1317 1308.5h1M1340 1309.5h2M1291 1310.5h1M1299 1310.5h1M1334 1310.5h1M1341 1310.5h1M1286 1311.5h1M1309 1311.5h2M1317 1311.5h2M1327 1311.5h1M1334 1311.5h1M1308 1312.5h1M1312 1312.5h1M1315 1312.5h2M1328 1312.5h1M1347 1312.5h1M1298 1313.5h1M1305 1313.5h1M1325 1313.5h1M1328 1313.5h1M1337 1313.5h1M1293 1314.5h1M1314 1314.5h1M1317 1314.5h2M1333 1314.5h1M1346 1314.5h1M1291 1315.5h1M1294 1315.5h2M1320 1315.5h1M1326 1315.5h1M1340 1315.5h1M1347 1315.5h1M1353 1315.5h1M1277 1316.5h1M1281 1316.5h2M1337 1316.5h1M1271 1317.5h1M1277 1317.5h1M1294 1317.5h1M1298 1317.5h1M1309 1317.5h1M1315 1317.5h3M1322 1317.5h1M1326 1317.5h1M1330 1317.5h1M1291 1318.5h1M1297 1318.5h1M1300 1318.5h1M1320 1318.5h2M1352 1318.5h1M1288 1319.5h1M1295 1319.5h1M1303 1319.5h1M1305 1319.5h1M1308 1319.5h2M1314 1319.5h1M1326 1319.5h1M1331 1319.5h1M1334 1319.5h2M1338 1319.5h1M1311 1320.5h1M1316 1320.5h1M1324 1320.5h1M1328 1320.5h1M1352 1320.5h1M1294 1321.5h1M1303 1321.5h6M1323 1321.5h1M1329 1321.5h1M1333 1321.5h1M1337 1321.5h1M1291 1322.5h1M1304 1322.5h1M1309 1322.5h1M1315 1322.5h1M1289 1323.5h1M1305 1323.5h1M1310 1323.5h2M1324 1323.5h1M1339 1323.5h1M1283 1324.5h2M1289 1324.5h1M1291 1324.5h1M1293 1324.5h2M1297 1324.5h1M1307 1324.5h2M1315 1324.5h1M1330 1324.5h1M1298 1325.5h1M1300 1325.5h1M1306 1325.5h1M1310 1325.5h1M1312 1325.5h1M1327 1325.5h1M1275 1326.5h1M1278 1326.5h1M1294 1326.5h1M1300 1326.5h1M1307 1326.5h1M1313 1326.5h1M1321 1326.5h1M1326 1326.5h1M1332 1326.5h1M1339 1326.5h2M1275 1327.5h1M1294 1327.5h1M1299 1327.5h1M1303 1327.5h1M1308 1327.5h1M1311 1327.5h1M1316 1327.5h1M1319 1327.5h1M1328 1327.5h1M1335 1327.5h2M1339 1327.5h1M1284 1328.5h1M1303 1328.5h1M1307 1328.5h1M1311 1328.5h2M1346 1328.5h1M1268 1329.5h1M1281 1329.5h1M1290 1329.5h1M1311 1329.5h1M1313 1329.5h2M1319 1329.5h1M1322 1329.5h2M1328 1329.5h1M1291 1330.5h2M1294 1330.5h2M1301 1330.5h1M1316 1330.5h2M1322 1330.5h1M1332 1330.5h1M1335 1330.5h1M1358 1330.5h1M1292 1331.5h1M1303 1331.5h1M1311 1331.5h1M1316 1331.5h1M1318 1331.5h1M1333 1331.5h1M1342 1331.5h1M1353 1331.5h1M1281 1332.5h1M1302 1332.5h1M1305 1332.5h1M1323 1332.5h2M1326 1332.5h1M1328 1332.5h1M1340 1332.5h1M1350 1332.5h1M1277 1333.5h1M1301 1333.5h1M1311 1333.5h1M1315 1333.5h2M1321 1333.5h1M1273 1334.5h1M1288 1334.5h1M1301 1334.5h1M1308 1334.5h1M1311 1334.5h1M1319 1334.5h1M1332 1334.5h1M1296 1335.5h1M1312 1335.5h1M1327 1335.5h1M1341 1335.5h1M1345 1335.5h1M1348 1335.5h1M1290 1336.5h1M1303 1336.5h1M1305 1336.5h1M1307 1336.5h1M1309 1336.5h1M1320 1336.5h1M1322 1336.5h1M1342 1336.5h1M1346 1336.5h1M1279 1337.5h1M1293 1337.5h1M1295 1337.5h1M1304 1337.5h1M1306 1337.5h1M1311 1337.5h1M1317 1337.5h1M1322 1337.5h1M1328 1337.5h1M1347 1337.5h1M1285 1338.5h1M1297 1338.5h2M1318 1338.5h1M1282 1339.5h1M1293 1339.5h1M1306 1339.5h1M1313 1339.5h4M1320 1339.5h1M1281 1340.5h1M1309 1340.5h1M1334 1340.5h1M1270 1341.5h1M1277 1341.5h1M1282 1341.5h1M1295 1341.5h1M1304 1341.5h1M1310 1341.5h1M1331 1341.5h2M1268 1342.5h1M1290 1342.5h1M1293 1342.5h1M1304 1342.5h1M1309 1342.5h1M1316 1342.5h1M1322 1342.5h1M1326 1342.5h1M1342 1342.5h1M1281 1343.5h1M1285 1343.5h1M1308 1343.5h1M1335 1343.5h1M1278 1344.5h1M1281 1344.5h1M1290 1344.5h1M1313 1344.5h2M1317 1344.5h1M1299 1345.5h1M1306 1345.5h1M1308 1345.5h2M1311 1345.5h1M1321 1345.5h1M1326 1345.5h1M1331 1345.5h1M1305 1346.5h1M1307 1346.5h1M1317 1346.5h1M1327 1346.5h1M1347 1346.5h1M1349 1346.5h1M1313 1347.5h1M1319 1347.5h1M1310 1348.5h1M1327 1348.5h1M1331 1348.5h1M1294 1349.5h1M1314 1349.5h1M1323 1349.5h1M1330 1349.5h1M1294 1350.5h1M1308 1350.5h1M1316 1350.5h1M1306 1351.5h1M1317 1351.5h1M1325 1351.5h1M1282 1352.5h1M1261 1353.5h1M1281 1353.5h1M1314 1353.5h1M1297 1354.5h2M1303 1354.5h1M1309 1354.5h1M1308 1356.5h1M1340 1356.5h1M1269 1357.5h1M1302 1357.5h2M1275 1358.5h1M1279 1358.5h1M1285 1358.5h1M1289 1358.5h1M1305 1358.5h1M1310 1358.5h1M1330 1358.5h1M1335 1358.5h1M1264 1359.5h1M1283 1359.5h1M1313 1359.5h1M1321 1359.5h1M1258 1360.5h1M1321 1360.5h1M1336 1360.5h1M1300 1361.5h1M1352 1361.5h1M1284 1362.5h1M1301 1362.5h1M1334 1362.5h1M1268 1363.5h1M1305 1363.5h2M1312 1363.5h1M1319 1363.5h1M1270 1364.5h1M1277 1364.5h1M1283 1364.5h1M1286 1365.5h1M1291 1365.5h1M1293 1365.5h1M1296 1365.5h1M1300 1365.5h1M1302 1365.5h1M1317 1365.5h1M1261 1366.5h1M1265 1366.5h1M1287 1366.5h3M1304 1366.5h1M1308 1366.5h1M1310 1366.5h1M1316 1366.5h1M1332 1366.5h1M1337 1366.5h1M1339 1366.5h1M1343 1366.5h1M1261 1367.5h1M1278 1367.5h1M1281 1367.5h1M1284 1367.5h1M1287 1367.5h1M1293 1367.5h1M1296 1367.5h1M1303 1367.5h1M1307 1367.5h3M1325 1367.5h2M1329 1367.5h1M1338 1367.5h1M1286 1368.5h1M1294 1368.5h1M1297 1368.5h1M1300 1368.5h1M1302 1368.5h1M1312 1368.5h1M1314 1368.5h2M1322 1368.5h1M1329 1368.5h1M1337 1368.5h1M1346 1368.5h1M1259 1369.5h1M1283 1369.5h2M1286 1369.5h1M1295 1369.5h1M1300 1369.5h1M1302 1369.5h4M1311 1369.5h1M1316 1369.5h1M1318 1369.5h1M1321 1369.5h1M1329 1369.5h1M1335 1369.5h2M1340 1369.5h1M1342 1369.5h1M1262 1370.5h2M1267 1370.5h1M1275 1370.5h1M1279 1370.5h1M1281 1370.5h1M1283 1370.5h3M1292 1370.5h1M1294 1370.5h2M1297 1370.5h1M1300 1370.5h1M1306 1370.5h1M1309 1370.5h1M1311 1370.5h1M1315 1370.5h2M1323 1370.5h1M1328 1370.5h1M1332 1370.5h1M1338 1370.5h2M1260 1371.5h1M1263 1371.5h1M1265 1371.5h1M1268 1371.5h1M1280 1371.5h2M1287 1371.5h1M1289 1371.5h3M1293 1371.5h1M1296 1371.5h1M1298 1371.5h1M1301 1371.5h2M1304 1371.5h1M1309 1371.5h1M1311 1371.5h1M1314 1371.5h2M1318 1371.5h1M1321 1371.5h1M1325 1371.5h1M1329 1371.5h1M1335 1371.5h1M1344 1371.5h3M1353 1371.5h1M1268 1372.5h1M1272 1372.5h1M1274 1372.5h1M1279 1372.5h3M1283 1372.5h1M1288 1372.5h2M1294 1372.5h1M1298 1372.5h1M1301 1372.5h1M1303 1372.5h2M1308 1372.5h2M1311 1372.5h2M1314 1372.5h1M1320 1372.5h3M1334 1372.5h2M1341 1372.5h2M1348 1372.5h1M1260 1373.5h1M1263 1373.5h1M1268 1373.5h1M1274 1373.5h2M1281 1373.5h1M1283 1373.5h1M1285 1373.5h1M1290 1373.5h3M1294 1373.5h2M1297 1373.5h2M1300 1373.5h5M1306 1373.5h1M1309 1373.5h3M1314 1373.5h1M1316 1373.5h1M1318 1373.5h7M1327 1373.5h1M1329 1373.5h2M1333 1373.5h2M1336 1373.5h3M1344 1373.5h2M1263 1374.5h1M1266 1374.5h1M1272 1374.5h1M1274 1374.5h1M1276 1374.5h1M1284 1374.5h2M1288 1374.5h2M1291 1374.5h1M1296 1374.5h1M1299 1374.5h5M1305 1374.5h1M1307 1374.5h3M1311 1374.5h2M1314 1374.5h2M1321 1374.5h7M1329 1374.5h3M1334 1374.5h1M1336 1374.5h1M1338 1374.5h1M1341 1374.5h1M1264 1375.5h2M1269 1375.5h1M1279 1375.5h3M1286 1375.5h1M1288 1375.5h1M1292 1375.5h1M1296 1375.5h2M1299 1375.5h2M1303 1375.5h1M1305 1375.5h1M1308 1375.5h4M1313 1375.5h1M1316 1375.5h2M1320 1375.5h2M1323 1375.5h1M1327 1375.5h6M1337 1375.5h1M1344 1375.5h1M1354 1375.5h1M1359 1375.5h1M1263 1376.5h1M1269 1376.5h1M1273 1376.5h1M1278 1376.5h1M1282 1376.5h3M1286 1376.5h3M1295 1376.5h1M1297 1376.5h1M1300 1376.5h1M1302 1376.5h5M1308 1376.5h7M1316 1376.5h3M1321 1376.5h2M1328 1376.5h1M1335 1376.5h1M1339 1376.5h1M1352 1376.5h2M1264 1377.5h1M1267 1377.5h1M1271 1377.5h2M1277 1377.5h1M1279 1377.5h3M1286 1377.5h1M1292 1377.5h2M1295 1377.5h1M1300 1377.5h1M1302 1377.5h1M1304 1377.5h5M1310 1377.5h1M1313 1377.5h1M1317 1377.5h2M1322 1377.5h1M1324 1377.5h1M1326 1377.5h3M1330 1377.5h1M1334 1377.5h1M1336 1377.5h2M1340 1377.5h1M1343 1377.5h1M1360 1377.5h1M1260 1378.5h1M1266 1378.5h2M1274 1378.5h2M1280 1378.5h1M1282 1378.5h1M1284 1378.5h1M1286 1378.5h3M1290 1378.5h2M1293 1378.5h2M1297 1378.5h10M1309 1378.5h2M1317 1378.5h2M1322 1378.5h1M1324 1378.5h3M1328 1378.5h1M1330 1378.5h2M1337 1378.5h4M1344 1378.5h1M1346 1378.5h2M1259 1379.5h1M1265 1379.5h1M1273 1379.5h1M1282 1379.5h4M1289 1379.5h2M1297 1379.5h4M1302 1379.5h1M1304 1379.5h1M1306 1379.5h2M1311 1379.5h3M1315 1379.5h1M1317 1379.5h1M1319 1379.5h3M1323 1379.5h1M1325 1379.5h2M1328 1379.5h1M1337 1379.5h1M1339 1379.5h1M1344 1379.5h1M1359 1379.5h1M1264 1380.5h1M1276 1380.5h1M1279 1380.5h2M1283 1380.5h1M1285 1380.5h2M1290 1380.5h2M1298 1380.5h1M1300 1380.5h2M1306 1380.5h2M1309 1380.5h1M1313 1380.5h1M1315 1380.5h1M1322 1380.5h3M1326 1380.5h3M1332 1380.5h1M1339 1380.5h1M1352 1380.5h1M1267 1381.5h1M1273 1381.5h1M1275 1381.5h1M1285 1381.5h1M1289 1381.5h2M1294 1381.5h1M1301 1381.5h4M1306 1381.5h2M1309 1381.5h3M1314 1381.5h2M1318 1381.5h1M1320 1381.5h1M1326 1381.5h3M1332 1381.5h2M1339 1381.5h1M1342 1381.5h1M1346 1381.5h1M1258 1382.5h1M1267 1382.5h1M1271 1382.5h2M1278 1382.5h1M1284 1382.5h1M1287 1382.5h1M1289 1382.5h1M1291 1382.5h2M1301 1382.5h2M1305 1382.5h1M1307 1382.5h1M1309 1382.5h1M1311 1382.5h2M1314 1382.5h1M1317 1382.5h2M1320 1382.5h2M1323 1382.5h2M1338 1382.5h2M1264 1383.5h1M1266 1383.5h1M1272 1383.5h1M1279 1383.5h1M1282 1383.5h1M1287 1383.5h1M1290 1383.5h2M1293 1383.5h2M1296 1383.5h1M1298 1383.5h1M1300 1383.5h1M1302 1383.5h2M1309 1383.5h2M1312 1383.5h2M1318 1383.5h2M1323 1383.5h1M1326 1383.5h1M1334 1383.5h1M1337 1383.5h1M1347 1383.5h1M1268 1384.5h1M1275 1384.5h1M1282 1384.5h1M1284 1384.5h2M1297 1384.5h1M1300 1384.5h1M1305 1384.5h1M1307 1384.5h1M1311 1384.5h1M1314 1384.5h1M1317 1384.5h1M1322 1384.5h3M1327 1384.5h2M1336 1384.5h2M1340 1384.5h1M1355 1384.5h1M1267 1385.5h1M1271 1385.5h1M1275 1385.5h1M1284 1385.5h1M1287 1385.5h1M1292 1385.5h1M1294 1385.5h2M1297 1385.5h2M1301 1385.5h1M1307 1385.5h1M1319 1385.5h1M1326 1385.5h1M1328 1385.5h2M1334 1385.5h2M1345 1385.5h1M1352 1385.5h1M1284 1386.5h1M1294 1386.5h1M1296 1386.5h1M1321 1386.5h1M1323 1386.5h1M1273 1387.5h1M1280 1387.5h1M1285 1387.5h1M1288 1387.5h2M1294 1387.5h1M1296 1387.5h1M1303 1387.5h1M1305 1387.5h1M1309 1387.5h4M1327 1387.5h1M1335 1387.5h1M1279 1388.5h1M1283 1388.5h1M1292 1388.5h1M1310 1388.5h1M1312 1388.5h1M1328 1388.5h1M1300 1389.5h1M1308 1389.5h1M1318 1389.5h2M1326 1389.5h2M1329 1389.5h2M1336 1389.5h1M1316 1390.5h1M1276 1392.5h1M1285 1393.5h1" fill="none" stroke="#84BEF8" stroke-width="1"/>
<path d="M1386 1282.5h1M1382 1284.5h1M1372 1288.5h1M1363 1289.5h1M1370 1289.5h1M1369 1290.5h1M1388 1291.5h1M1350 1292.5h1M1381 1292.5h1M1378 1293.5h1M1389 1293.5h1M1402 1293.5h1M1351 1294.5h1M1404 1295.5h1M1380 1296.5h1M1385 1296.5h1M1342 1297.5h1M1377 1297.5h1M1381 1297.5h1M1389 1297.5h1M1342 1298.5h1M1398 1298.5h1M1371 1299.5h1M1375 1299.5h1M1377 1299.5h1M1394 1299.5h1M1370 1300.5h2M1362 1301.5h1M1380 1301.5h1M1385 1301.5h1M1356 1303.5h1M1368 1303.5h1M1375 1303.5h1M1408 1303.5h1M1351 1304.5h1M1361 1304.5h1M1370 1304.5h1M1372 1304.5h1M1380 1304.5h1M1388 1304.5h1M1364 1305.5h1M1391 1305.5h2M1398 1305.5h1M1364 1306.5h1M1372 1306.5h1M1387 1306.5h1M1395 1306.5h1M1398 1306.5h1M1338 1307.5h1M1394 1307.5h1M1413 1307.5h1M1364 1308.5h1M1367 1308.5h1M1390 1308.5h1M1408 1308.5h1M1356 1309.5h2M1382 1309.5h1M1408 1309.5h1M1344 1310.5h1M1346 1311.5h1M1368 1311.5h1M1379 1311.5h1M1395 1311.5h1M1333 1312.5h1M1368 1312.5h1M1384 1312.5h1M1393 1312.5h1M1407 1312.5h1M1349 1313.5h1M1357 1313.5h1M1369 1313.5h1M1375 1313.5h1M1381 1313.5h1M1404 1313.5h1M1351 1314.5h1M1364 1314.5h1M1370 1314.5h1M1372 1314.5h1M1377 1314.5h1M1383 1314.5h1M1387 1314.5h2M1397 1314.5h1M1399 1314.5h1M1373 1315.5h1M1377 1315.5h1M1379 1315.5h1M1388 1315.5h2M1394 1315.5h2M1421 1315.5h1M1358 1316.5h1M1360 1316.5h1M1370 1316.5h1M1375 1316.5h1M1377 1316.5h1M1393 1316.5h1M1398 1316.5h1M1342 1317.5h1M1403 1317.5h1M1421 1317.5h1M1425 1317.5h1M1394 1318.5h1M1351 1319.5h1M1366 1319.5h1M1374 1319.5h1M1392 1319.5h1M1397 1319.5h1M1404 1319.5h1M1361 1320.5h1M1369 1320.5h1M1381 1320.5h1M1383 1320.5h1M1385 1320.5h1M1395 1320.5h1M1372 1321.5h1M1387 1321.5h1M1396 1321.5h1M1356 1322.5h1M1362 1322.5h1M1364 1322.5h1M1369 1322.5h1M1358 1323.5h1M1366 1323.5h1M1397 1323.5h1M1350 1324.5h1M1366 1324.5h1M1385 1324.5h1M1391 1324.5h1M1406 1324.5h1M1409 1324.5h1M1364 1325.5h2M1378 1325.5h1M1400 1325.5h1M1334 1326.5h1M1355 1326.5h1M1369 1326.5h2M1375 1326.5h1M1387 1326.5h2M1378 1327.5h1M1380 1327.5h2M1383 1327.5h1M1347 1328.5h1M1382 1328.5h1M1341 1329.5h1M1348 1329.5h1M1377 1329.5h1M1388 1329.5h1M1400 1329.5h1M1367 1330.5h1M1377 1330.5h1M1389 1330.5h1M1406 1330.5h1M1379 1331.5h1M1394 1331.5h1M1400 1331.5h1M1389 1332.5h1M1407 1332.5h1M1346 1333.5h1M1360 1333.5h1M1370 1333.5h1M1385 1333.5h1M1388 1333.5h1M1391 1333.5h1M1368 1334.5h1M1378 1334.5h1M1381 1334.5h1M1385 1335.5h1M1388 1335.5h1M1387 1336.5h1M1401 1336.5h1M1358 1337.5h1M1372 1337.5h1M1380 1337.5h1M1400 1337.5h1M1407 1337.5h1M1351 1338.5h1M1363 1338.5h1M1366 1338.5h1M1387 1338.5h1M1398 1338.5h1M1374 1339.5h1M1379 1339.5h1M1391 1339.5h1M1408 1339.5h1M1410 1339.5h1M1417 1339.5h1M1353 1340.5h1M1383 1340.5h1M1385 1340.5h1M1392 1340.5h1M1399 1340.5h1M1341 1341.5h1M1372 1342.5h2M1382 1342.5h1M1377 1343.5h1M1399 1343.5h1M1359 1344.5h1M1391 1344.5h1M1399 1344.5h1M1384 1345.5h1M1368 1346.5h2M1375 1346.5h1M1379 1346.5h1M1360 1347.5h1M1403 1347.5h1M1364 1349.5h1M1397 1350.5h1M1394 1352.5h1M1372 1353.5h1M1381 1353.5h1M1328 1354.5h1M1333 1354.5h1M1375 1354.5h1M1391 1354.5h1M1322 1355.5h1M1376 1355.5h1M1326 1356.5h1M1345 1356.5h1M1345 1357.5h1M1325 1358.5h1M1352 1358.5h1M1358 1358.5h1M1314 1360.5h1M1340 1360.5h1M1333 1361.5h1M1369 1361.5h1M1378 1361.5h1M1383 1361.5h1M1315 1362.5h1M1340 1362.5h1M1340 1363.5h1M1295 1364.5h1M1334 1364.5h1M1360 1364.5h1M1385 1364.5h1M1342 1365.5h1M1347 1365.5h1M1350 1365.5h1M1390 1365.5h1M1374 1366.5h1M1379 1366.5h1M1384 1366.5h1M1402 1366.5h1M1288 1367.5h1M1335 1367.5h1M1346 1367.5h1M1350 1367.5h1M1356 1367.5h1M1370 1367.5h2M1381 1367.5h1M1386 1367.5h1M1395 1367.5h1M1340 1368.5h1M1351 1368.5h2M1355 1368.5h1M1366 1368.5h1M1370 1368.5h1M1372 1368.5h1M1392 1368.5h2M1313 1369.5h1M1332 1369.5h1M1350 1369.5h1M1354 1369.5h1M1356 1369.5h1M1363 1369.5h1M1368 1369.5h1M1373 1369.5h1M1378 1369.5h1M1399 1369.5h1M1404 1369.5h1M1314 1370.5h1M1329 1370.5h1M1341 1370.5h1M1348 1370.5h1M1352 1370.5h1M1356 1370.5h3M1362 1370.5h1M1365 1370.5h1M1367 1370.5h1M1371 1370.5h1M1381 1370.5h1M1384 1370.5h2M1389 1370.5h1M1299 1371.5h1M1334 1371.5h1M1342 1371.5h2M1347 1371.5h2M1356 1371.5h1M1364 1371.5h3M1368 1371.5h1M1371 1371.5h2M1377 1371.5h2M1380 1371.5h2M1384 1371.5h2M1392 1371.5h1M1397 1371.5h1M1399 1371.5h1M1302 1372.5h1M1305 1372.5h1M1330 1372.5h1M1332 1372.5h1M1344 1372.5h1M1346 1372.5h1M1363 1372.5h1M1366 1372.5h1M1370 1372.5h1M1376 1372.5h1M1378 1372.5h1M1381 1372.5h1M1386 1372.5h1M1394 1372.5h1M1315 1373.5h1M1335 1373.5h1M1355 1373.5h2M1360 1373.5h2M1364 1373.5h1M1366 1373.5h1M1371 1373.5h1M1373 1373.5h1M1379 1373.5h1M1383 1373.5h1M1386 1373.5h1M1394 1373.5h1M1400 1373.5h1M1320 1374.5h1M1328 1374.5h1M1332 1374.5h1M1335 1374.5h1M1339 1374.5h2M1342 1374.5h3M1351 1374.5h1M1353 1374.5h3M1357 1374.5h2M1361 1374.5h1M1370 1374.5h1M1374 1374.5h1M1377 1374.5h1M1388 1374.5h2M1415 1374.5h1M1419 1374.5h1M1314 1375.5h1M1334 1375.5h1M1339 1375.5h1M1341 1375.5h2M1346 1375.5h2M1349 1375.5h1M1352 1375.5h1M1357 1375.5h1M1360 1375.5h1M1362 1375.5h4M1368 1375.5h2M1373 1375.5h2M1381 1375.5h1M1384 1375.5h1M1386 1375.5h1M1390 1375.5h2M1393 1375.5h1M1406 1375.5h1M1410 1375.5h1M1414 1375.5h1M1319 1376.5h1M1326 1376.5h1M1330 1376.5h1M1334 1376.5h1M1337 1376.5h1M1340 1376.5h1M1343 1376.5h3M1349 1376.5h1M1351 1376.5h1M1357 1376.5h1M1359 1376.5h2M1362 1376.5h2M1365 1376.5h1M1369 1376.5h2M1373 1376.5h1M1380 1376.5h1M1389 1376.5h1M1393 1376.5h1M1397 1376.5h1M1406 1376.5h2M1319 1377.5h1M1323 1377.5h1M1331 1377.5h1M1339 1377.5h1M1342 1377.5h1M1344 1377.5h2M1348 1377.5h1M1350 1377.5h1M1352 1377.5h2M1355 1377.5h1M1357 1377.5h1M1362 1377.5h1M1364 1377.5h1M1367 1377.5h3M1371 1377.5h1M1373 1377.5h1M1375 1377.5h1M1379 1377.5h2M1383 1377.5h1M1385 1377.5h2M1388 1377.5h1M1392 1377.5h2M1417 1377.5h1M1321 1378.5h1M1333 1378.5h3M1345 1378.5h1M1353 1378.5h3M1357 1378.5h1M1359 1378.5h1M1361 1378.5h1M1363 1378.5h3M1367 1378.5h1M1374 1378.5h2M1379 1378.5h1M1381 1378.5h1M1383 1378.5h1M1386 1378.5h1M1391 1378.5h1M1314 1379.5h1M1341 1379.5h1M1343 1379.5h1M1346 1379.5h1M1349 1379.5h2M1371 1379.5h1M1374 1379.5h2M1392 1379.5h1M1400 1379.5h1M1414 1379.5h1M1317 1380.5h3M1335 1380.5h1M1341 1380.5h1M1343 1380.5h1M1346 1380.5h1M1350 1380.5h2M1356 1380.5h1M1359 1380.5h2M1364 1380.5h1M1369 1380.5h1M1382 1380.5h2M1387 1380.5h3M1396 1380.5h1M1399 1380.5h1M1291 1381.5h1M1308 1381.5h1M1329 1381.5h1M1336 1381.5h1M1348 1381.5h1M1354 1381.5h2M1358 1381.5h3M1367 1381.5h1M1370 1381.5h2M1373 1381.5h1M1378 1381.5h1M1385 1381.5h1M1389 1381.5h1M1395 1381.5h1M1399 1381.5h1M1322 1382.5h1M1329 1382.5h1M1335 1382.5h1M1347 1382.5h1M1353 1382.5h1M1355 1382.5h1M1357 1382.5h2M1365 1382.5h1M1372 1382.5h1M1376 1382.5h1M1378 1382.5h2M1383 1382.5h4M1389 1382.5h1M1396 1382.5h1M1398 1382.5h1M1416 1382.5h1M1316 1383.5h1M1338 1383.5h1M1349 1383.5h1M1366 1383.5h1M1368 1383.5h1M1375 1383.5h2M1380 1383.5h2M1386 1383.5h2M1411 1383.5h1M1333 1384.5h1M1348 1384.5h1M1352 1384.5h1M1364 1384.5h1M1378 1384.5h1M1384 1384.5h2M1311 1385.5h1M1327 1385.5h1M1339 1385.5h1M1360 1385.5h1M1365 1385.5h1M1367 1385.5h1M1370 1385.5h2M1379 1385.5h1M1382 1385.5h1M1384 1385.5h1M1393 1385.5h2M1404 1385.5h1M1333 1386.5h1M1343 1386.5h1M1369 1386.5h1M1386 1386.5h1M1316 1387.5h1M1343 1387.5h1M1351 1387.5h1M1357 1387.5h1M1366 1387.5h1M1388 1387.5h1M1367 1388.5h1M1359 1390.5h2" fill="none" stroke="#F67E7E" stroke-width="1"/>
<line x1="1356.4" y1="1174" x2="1356.4" y2="1443.7" stroke="#000" stroke-width="1.6"/>
<line x1="1251.5" y1="1360.9" x2="1522.7" y2="1360.9" stroke="#000" stroke-width="1.6"/>
<path d="M1245 1202.9h6.5M1245 1253.8h6.5M1245 1313h6.5M1245 1373.4h6.5M1245 1429h6.5M1245 1371.5h6.5M1245 1372.5h6.5M1245 1374.5h6.5M1245 1375.5h6.5M1248 1175.7h3.5M1248 1179.2h3.5M1248 1182.8h3.5M1248 1188.7h3.5M1248 1195.8h3.5M1248 1206.4h3.5M1248 1210h3.5M1248 1214.7h3.5M1248 1221.8h3.5M1248 1232.6h3.5M1248 1259.7h3.5M1248 1268h3.5M1248 1278.6h3.5M1248 1294h3.5M1248 1321.3h3.5M1248 1330.8h3.5M1248 1341.5h3.5M1248 1350.9h3.5M1248 1359.2h3.5M1248 1366.3h3.5M1248 1379.3h3.5M1248 1386.4h3.5M1248 1395.9h3.5M1248 1407.7h3.5M1248 1418.3h3.5M1248 1438.6h3.5M1265.3 1443.7v6.5M1323.3 1443.7v6.5M1381.8 1443.7v6.5M1442.1 1443.7v6.5M1491.9 1443.7v6.5M1321.5 1443.7v6.5M1322.5 1443.7v6.5M1324.1 1443.7v6.5M1325.1 1443.7v6.5M1271.2 1443.7v3.5M1277.1 1443.7v3.5M1281.8 1443.7v3.5M1286.6 1443.7v3.5M1293.7 1443.7v3.5M1303.1 1443.7v3.5M1315 1443.7v3.5M1319.7 1443.7v3.5M1326.8 1443.7v3.5M1331.6 1443.7v3.5M1338.7 1443.7v3.5M1343.4 1443.7v3.5M1348.1 1443.7v3.5M1351.9 1443.7v3.5M1357.6 1443.7v3.5M1363.5 1443.7v3.5M1369.4 1443.7v3.5M1374.2 1443.7v3.5M1377.7 1443.7v3.5M1405 1443.7v3.5M1416.8 1443.7v3.5M1426.3 1443.7v3.5M1433.4 1443.7v3.5M1438.1 1443.7v3.5M1461.8 1443.7v3.5M1471.2 1443.7v3.5M1479.5 1443.7v3.5M1484.3 1443.7v3.5M1487.8 1443.7v3.5M1504.5 1443.7v3.5M1514 1443.7v3.5M1521 1443.7v3.5" fill="none" stroke="#000" stroke-width="1.3"/>
<rect x="1251.5" y="1174" width="271.2" height="269.7" fill="none" stroke="#000" stroke-width="1.8"/>
<circle cx="1406.2" cy="1195.8" r="7" fill="#6A9FD4"/>
<rect x="1399.2" y="1216.7" width="14" height="14" fill="#C0403F"/>
<text x="1423.6" y="1204.3" textLength="83.2" lengthAdjust="spacingAndGlyphs">EGFRt<tspan font-size="16" dy="-12">−</tspan></text>
<text x="1423.6" y="1232.2" textLength="83.2" lengthAdjust="spacingAndGlyphs">EGFRt<tspan font-size="16" dy="-12">+</tspan></text>
<line x1="1222.2" y1="1284.6" x2="1222.2" y2="1188" stroke="#000" stroke-width="2.2"/>
<path d="M1222.2 1178L1216.7 1192L1222.2 1190L1227.7 1192Z" fill="#000"/>
<text x="1229.2" y="1374" textLength="152.8" lengthAdjust="spacingAndGlyphs" text-anchor="middle" transform="rotate(-90 1229.2 1374)">TCF1 (AF647)</text>
<text x="1248.7" y="1483.5" textLength="162.5" lengthAdjust="spacingAndGlyphs">TOX (VioB515)</text>
<line x1="1423.5" y1="1475.2" x2="1511" y2="1475.2" stroke="#000" stroke-width="2.2"/>
<path d="M1521 1475.2L1507 1469.7L1509 1475.2L1507 1480.7Z" fill="#000"/>
<line x1="1713.5" y1="1221.8" x2="1713.5" y2="1561.1" stroke="#333333" stroke-width="1.8"/>
<line x1="1703.5" y1="1561.1" x2="1713.5" y2="1561.1" stroke="#333333" stroke-width="1.8"/>
<text x="1691.3" y="1570" textLength="13.9" lengthAdjust="spacingAndGlyphs" text-anchor="end">0</text>
<line x1="1703.5" y1="1448.3" x2="1713.5" y2="1448.3" stroke="#333333" stroke-width="1.8"/>
<text x="1691.3" y="1457.2" textLength="34.8" lengthAdjust="spacingAndGlyphs" text-anchor="end">0.2</text>
<line x1="1703.5" y1="1335.5" x2="1713.5" y2="1335.5" stroke="#333333" stroke-width="1.8"/>
<text x="1691.3" y="1344.4" textLength="34.8" lengthAdjust="spacingAndGlyphs" text-anchor="end">0.4</text>
<line x1="1703.5" y1="1222.7" x2="1713.5" y2="1222.7" stroke="#333333" stroke-width="1.8"/>
<text x="1691.3" y="1231.6" textLength="34.8" lengthAdjust="spacingAndGlyphs" text-anchor="end">0.6</text>
<rect x="1740" y="1349.6" width="44" height="211.5" fill="#CACACA" stroke="#9B9B9B" stroke-width="2.3"/>
<line x1="1762" y1="1349.6" x2="1762" y2="1300.4" stroke="#9B9B9B" stroke-width="2.3"/>
<line x1="1750.5" y1="1300.4" x2="1773.5" y2="1300.4" stroke="#9B9B9B" stroke-width="2.3"/>
<rect x="1812.5" y="1358.1" width="44" height="203" fill="#B4CEE8" stroke="#6A9FD4" stroke-width="2.3"/>
<line x1="1834.5" y1="1358.1" x2="1834.5" y2="1277.1" stroke="#6A9FD4" stroke-width="2.3"/>
<line x1="1823" y1="1277.1" x2="1846" y2="1277.1" stroke="#6A9FD4" stroke-width="2.3"/>
<line x1="1703" y1="1561.1" x2="1955.8" y2="1561.1" stroke="#333333" stroke-width="1.8"/>
<path d="M1761.8 1250.42L1768.9 1262.22L1754.7 1262.22Z" fill="#9B9B9B"/>
<path d="M1749.7 1340.12L1756.8 1351.92L1742.6 1351.92Z" fill="#9B9B9B"/>
<path d="M1773.9 1340.12L1781 1351.92L1766.8 1351.92Z" fill="#9B9B9B"/>
<path d="M1761.8 1363.12L1768.9 1374.92L1754.7 1374.92Z" fill="#9B9B9B"/>
<path d="M1749.7 1380.32L1756.8 1392.12L1742.6 1392.12Z" fill="#9B9B9B"/>
<path d="M1773.9 1380.32L1781 1392.12L1766.8 1392.12Z" fill="#9B9B9B"/>
<circle cx="1834.4" cy="1262" r="5.6" fill="#6A9FD4"/>
<circle cx="1834.4" cy="1301.9" r="5.6" fill="#6A9FD4"/>
<circle cx="1834.4" cy="1312.8" r="5.6" fill="#6A9FD4"/>
<circle cx="1834.4" cy="1364.1" r="5.6" fill="#6A9FD4"/>
<circle cx="1834.4" cy="1442.7" r="5.6" fill="#6A9FD4"/>
<circle cx="1834.4" cy="1459.9" r="5.6" fill="#6A9FD4"/>
<rect x="1889.1" y="1555.6" width="10.8" height="10.8" fill="#C0403F"/>
<rect x="1898.6" y="1555.6" width="10.8" height="10.8" fill="#C0403F"/>
<rect x="1908.1" y="1555.6" width="10.8" height="10.8" fill="#C0403F"/>
<rect x="1917.6" y="1555.6" width="10.8" height="10.8" fill="#C0403F"/>
<rect x="1927.1" y="1555.6" width="10.8" height="10.8" fill="#C0403F"/>
<line x1="1761.8" y1="1200" x2="1906.9" y2="1200" stroke="#000" stroke-width="2.6"/>
<text x="1833.4" y="1191.9" textLength="121.5" lengthAdjust="spacingAndGlyphs" text-anchor="middle"><tspan font-style="italic">P</tspan> &lt; 0.0001</text>
<line x1="1761.8" y1="1236.3" x2="1834.4" y2="1236.3" stroke="#000" stroke-width="2.6"/>
<text x="1798" y="1228.2" textLength="34.2" lengthAdjust="spacingAndGlyphs" text-anchor="middle">NS</text>
<path d="M1889.3 1353.3L1896.6 1367.3L1882 1367.3Z" fill="#9B9B9B"/>
<circle cx="1889.3" cy="1391.3" r="6.9" fill="#6A9FD4"/>
<rect x="1882.6" y="1413.9" width="13.4" height="13.4" fill="#C0403F"/>
<text x="1907.5" y="1369.8" textLength="82.4" lengthAdjust="spacingAndGlyphs">Control</text>
<text x="1907.5" y="1399.2" textLength="83.2" lengthAdjust="spacingAndGlyphs">EGFRt<tspan font-size="16" dy="-12">−</tspan></text>
<text x="1907.5" y="1428.5" textLength="83.2" lengthAdjust="spacingAndGlyphs">EGFRt<tspan font-size="16" dy="-12">+</tspan></text>
<text x="1603" y="1391" textLength="247.5" lengthAdjust="spacingAndGlyphs" text-anchor="middle" transform="rotate(-90 1603 1391)">CD25<tspan font-size="16" dy="-12">+</tspan><tspan dy="12">FOXP3</tspan><tspan font-size="16" dy="-12">+</tspan><tspan dy="12"> cells of</tspan></text>
<text x="1633" y="1392" textLength="201.9" lengthAdjust="spacingAndGlyphs" text-anchor="middle" transform="rotate(-90 1633 1392)">CD4<tspan font-size="16" dy="-12">+</tspan><tspan dy="12"> T</tspan><tspan font-size="15" dy="6">reg</tspan><tspan dy="-6"> cells (%)</tspan></text>
<text x="5.2" y="24.4" font-size="36" font-weight="bold" stroke="#000" stroke-width="0.7">a</text>
<text x="689.2" y="24.4" font-size="36" font-weight="bold" stroke="#000" stroke-width="0.7">b</text>
<text x="1172.2" y="24.4" font-size="36" font-weight="bold" stroke="#000" stroke-width="0.7">c</text>
<text x="1731" y="24.4" font-size="36" font-weight="bold" stroke="#000" stroke-width="0.7">d</text>
<text x="5.6" y="686.2" font-size="36" font-weight="bold" stroke="#000" stroke-width="0.7">e</text>
<text x="599.5" y="686.2" font-size="36" font-weight="bold" stroke="#000" stroke-width="0.7">f</text>
<text x="1377.6" y="686.2" font-size="36" font-weight="bold" stroke="#000" stroke-width="0.7">g</text>
<text x="7" y="1166.9" font-size="36" font-weight="bold" stroke="#000" stroke-width="0.7">h</text>
<text x="377" y="1166.9" font-size="36" font-weight="bold" stroke="#000" stroke-width="0.7">i</text>
<text x="1211.5" y="1166.9" font-size="36" font-weight="bold" stroke="#000" stroke-width="0.7">j</text>
<text x="1578.8" y="1166.9" font-size="36" font-weight="bold" stroke="#000" stroke-width="0.7">k</text>
</svg></body></html>
